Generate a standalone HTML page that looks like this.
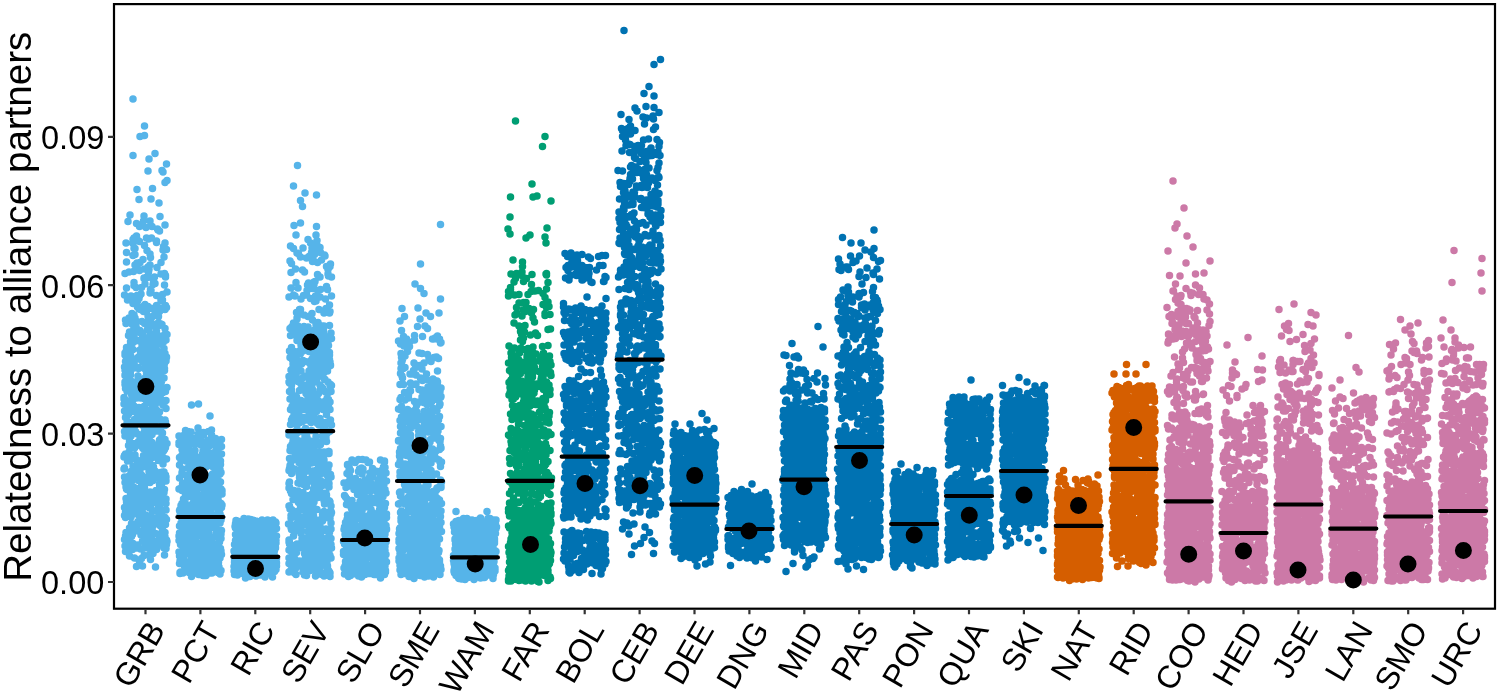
<!DOCTYPE html><html><head><meta charset="utf-8"><style>html,body{margin:0;padding:0;background:#fff}body{width:1499px;height:694px;overflow:hidden}svg{display:block;filter:blur(0.4px)}text{font-family:"Liberation Sans",sans-serif;fill:#000}</style></head><body>
<svg width="1499" height="694" viewBox="0 0 1499 694">
<rect width="1499" height="694" fill="#fff"/>
<g fill="none" stroke-linecap="round" stroke-width="7.50">
<path stroke="#56B4E9" d="M156 384h0m-7.5 97.5h0m-2.5-38.5h0m4-125.5h0m-15 126h0m31.5-86.5h0m-13 15h0m-10 145h0m-16.5 25.5h0m38.5-237h0m-23 207.5h0m-14 37.5h0m15-127h0m5 31.5h0m7-51.5h0m-5.5 93.5h0m-4.5-103h0m3.5-48h0m-9 67h0m-2.5 77.5h0m-4-219h0m14.5 92h0m-20.5 97.5h0m1.5-9h0m35 20h0m-18 66h0m-7-125h0m3 80.5h0m-11 35.5h0m19.5 30.5h0m-17-58h0m31-216.5h0m-13 248h0m-3.5-161.5h0m-8 99h0m-13.5-12.5h0m15 17h0m10-102h0m13.5-35.5h0m-40 170.5h0m8-42h0m26.5-130h0m-30 121h0m6.5 67.5h0m-7.5-134h0m27.5 28.5h0m-23.5-54h0m33 57h0m-28 80h0m15-313.5h0m-15.5 282h0m24 63h0m-21.5-307h0m6.5 129h0m1.5 45.5h0m-19 23.5h0m35 95.5h0m-36-12.5h0m32 33h0m-11-301.5h0m-12 30h0m3 121.5h0m-3.5 79.5h0m17.5 0.5h0m-4.5-12.5h0m-1-191h0m0 49h0m-16.5 220.5h0m26-43.5h0m-13.5-86.5h0m17.5 34.5h0m-4.5-52.5h0m3.5 84h0m-16-104h0m16.5-106h0m-23 132h0m-4-79.5h0m22 13.5h0m8 149h0m0-129h0m-9.5 152.5h0m-24-11h0m-3.5-135.5h0m3.5 192h0m30-249h0m-3 214h0m-24-3.5h0m18.5-184.5h0m-19 74h0m24 13h0m-24.5-69.5h0m23.5 202h0m7.5-296.5h0m-30.5 261.5h0m14-1.5h0m16-56h0m-20.5 90.5h0m18-112h0m1.5-258.5h0m-36 284.5h0m27.5 12h0m-5.5-160.5h0m-11 112h0m25.5-118.5h0m-37 20h0m18 135.5h0m-18.5-73.5h0m23.5 35.5h0m-12-181.5h0m19 160.5h0m2 81.5h0m-15 56.5h0m2.5-170.5h0m9 14.5h0m1.5-53.5h0m-27 220.5h0m38.5-253.5h0m-36 179.5h0m28.5-161h0m6 113.5h0m-9.5-38.5h0m-0.5 44h0m-22.5 71h0m32.5-25.5h0m-19-125h0m6-5.5h0m14.5 43h0m-20.5-11.5h0m-3-155h0m3.5 29.5h0m6.5 136.5h0m-14-1.5h0m20.5-169h0m-11.5 55.5h0m-18 271h0m3-44.5h0m-5.5-277h0m38 139.5h0m-19.5 117h0m18-109.5h0m-2-74h0m-28.5 230h0m-7-123h0m-2 34.5h0m19.5-300.5h0m10.5 340.5h0m12-32.5h0m-6.5-83h0m-28.5 151h0m9.5-71.5h0m18 48h0m6.5 31h0m-23 0h0m3.5-63h0m-17.5-138h0m0 163.5h0m23-59h0m-2-66.5h0m16.5-192h0m-28 259.5h0m-3 8h0m12.5 97.5h0m0.5-160h0m4.5 79.5h0m10 23.5h0m-20-130.5h0m16 172.5h0m0.5-102h0m2-55h0m3.5 144.5h0m-18-141h0m-6.5 21.5h0m3.5-2.5h0m-15.5 57h0m26.5 55.5h0m-30-116.5h0m9.5 34h0m-3 71.5h0m11-143h0m-15.5 91.5h0m8.5 80h0m4.5 14.5h0m-0.5-282.5h0m-12 120.5h0m16.5 19h0m-19-107.5h0m21.5 223.5h0m-22-41.5h0m0.5 90.5h0m16-29h0m19-98h0m-28-95h0m25.5 60h0m-14 123.5h0m19.5-168h0m-7.5 47.5h0m-13 73.5h0m-5 6h0m7.5-125.5h0m13.5 167h0m1 12.5h0m-33-112.5h0m24.5 22.5h0m-19 50h0m16 50.5h0m-15.5-172.5h0m19 8.5h0m-25.5 120h0m37-23h0m-29-136h0m27 71h0m-7.5-44.5h0m-3.5 137.5h0m16 7h0m-41.5-22h0m15.5-167.5h0m12.5 242.5h0m11-12.5h0m-21-37h0m-1 56h0m7.5-87h0m-20.5-17h0m17.5 87h0m-10-68.5h0m13 82h0m18-13.5h0m-22.5-218h0m1 72.5h0m6.5-87.5h0m-9.5 178.5h0m1-133h0m-11 12.5h0m23.5 111h0m10 3.5h0m-26-19.5h0m-6-55.5h0m-7.5 76.5h0m21.5 65.5h0m1-389h0m10.5 381.5h0m-35-245.5h0m6 135.5h0m21.5 12h0m1.5 76h0m-12.5 16.5h0m-2.5-54.5h0m21 39.5h0m6.5-111.5h0m-22.5 81h0m1-244h0m5.5 115.5h0m-16 148.5h0m-2-64.5h0m20-10.5h0m-24-54.5h0m33.5 8.5h0m-21-81h0m-0.5-45h0m14 283h0m-14-38h0m19-7h0m-14.5-54h0m3.5-30.5h0m-17 128.5h0m20-52h0m11-105.5h0m2.5 135.5h0m-19.5-171h0m-12-252.5h0m20.5 380h0m0 23.5h0m-5-173h0m1.5-64.5h0m3.5 232h0m-10.5-107.5h0m13.5-94h0m-6.5 207h0m15-174h0m-17-7.5h0m11 213h0m-28-129.5h0m4-86.5h0m16.5 36h0m-27.5 45h0m39.5 99.5h0m-2.5-224.5h0m-31 256h0m3-105h0m23.5-119.5h0m-17.5 80h0m25.5-15h0m-12.5-11.5h0m-15 147h0m-4-262.5h0m25 133h0m-18-46h0m4 195h0m-6-260.5h0m20 77.5h0m-19.5 26h0m3 44.5h0m5-39h0m7-40h0m-5 191.5h0m4-68h0m-14.5 65.5h0m-0.5-108h0m-11.5-91.5h0m5.5 38h0m-6.5 121h0m5-3.5h0m0.5-124.5h0m2 46h0m6.5-102h0m24.5 246h0m0-8h0m-29.5-69.5h0m25.5 12h0m6.5 1.5h0m-40.5 55.5h0m7.5-380.5h0m14.5 288.5h0m-20-28.5h0m6.5 91h0m10-91h0m-4.5 5h0m-12-120.5h0m26 76.5h0m12.5 24h0m-23.5-39h0m15.5 4.5h0m-18.5-70h0m1 56h0m8.5 168h0m-22.5-105.5h0m23-27.5h0m-9.5-54.5h0m3 130h0m9-13.5h0m-24.5 52.5h0m11.5-192.5h0m10 50h0m13 61.5h0m-27-155.5h0m13 60h0m13.5 54h0m-20-29.5h0m-14.5 108h0m32.5-148h0m-26.5 33h0m-5 58.5h0m20.5-45.5h0m-12 211h0m26-209.5h0m-36.5-5.5h0m32 105.5h0m-12 75.5h0m-14-219h0m20.5 114h0m-18.5-142h0m31-60.5h0m-36.5 189h0m34.5-164h0m-35.5 162h0m35 117h0m-6-164h0m-11.5-11h0m9 4h0m-24.5-26h0m7.5 51.5h0m27 76h0m-27 49.5h0m4-12h0m16-229.5h0m-16.5 253h0m16 24.5h0m-14-78h0m19.5-142.5h0m-7 129h0m9-75.5h0m-26.5-138h0m25.5 118.5h0m-5.5-129.5h0m-12.5 75.5h0m-14.5 182h0m5.5-160h0m-9.5-74h0m28 24.5h0m-20 154h0m11-5h0m-18 28h0m28-40.5h0m-22.5-23h0m-6.5 39.5h0m19 85h0m-15-173.5h0m32 91.5h0m-4.5 11.5h0m-9.5 6h0m-6.5-30.5h0m2-114h0m-18.5 55.5h0m5 13.5h0m33-66.5h0m-26 72.5h0m16-55.5h0m4.5-95.5h0m-24 109h0m3.5 138h0m-5 72.5h0m17.5-256.5h0m-17 204.5h0m27.5-11.5h0m-5.5-202.5h0m-10.5 147.5h0m5 24h0m-8-15h0m11.5 113.5h0m-21.5-30h0m31-154h0m-33 164.5h0m-5.5-136.5h0m23 98.5h0m6 29h0m-9-202.5h0m21.5 123.5h0m-31-20h0m4.5 38h0m4 49.5h0m-5-137.5h0m2-239.5h0m-14.5 252h0m33.5-185.5h0m-23.5 137.5h0m-5.5 25.5h0m20 151.5h0m12-27.5h0m-33.5-44.5h0m38 94.5h0m-15-302h0m-11.5 112h0m13 121.5h0m-13.5-201h0m9.5 187.5h0m-11 87h0m11-78h0m-2 11.5h0m-2 40.5h0m-7.5-218h0m-4.5 110.5h0m14.5-135h0m13.5 123h0m-28 144h0m25-200h0m-10 54.5h0m3 68.5h0m1-240h0m-28 177.5h0m29.5-5h0m-28.5-44h0m18.5 71h0m1.5 97.5h0m-15-140.5h0m-1 127.5h0m31-71h0m-19.5-30.5h0m14.5 9.5h0m0 52.5h0m-24-90h0m29.5-7h0m-24-150.5h0m-5 265h0m35 56h0m-17-109.5h0m-17-119h0m9-28.5h0m-8.5-32h0m16.5 252.5h0m-22.5-80.5h0m8-173h0m18 271.5h0m-26-152h0m19-146.5h0m6.5 283.5h0m14-203.5h0m-4.5 37h0m-24 156.5h0m14 42h0m-17-55h0m3 60h0m20.5-87.5h0m-7.5 47.5h0m4.5 37.5h0m-15.5-104.5h0m-0.5-20h0m23-31.5h0m1.5-23.5h0m-3-42h0m-13.5 48.5h0m-1 143h0m-5.5-221.5h0m16 67.5h0m-1.5 29.5h0m-25 37h0m21-92h0m-22 173h0m35.5-89h0m-2-15h0m-1 83h0m-24 43h0m9-104.5h0m-13.5-28h0m28.5 37.5h0m-10-43.5h0m8.5-31.5h0m-7-80.5h0m2.5 167.5h0m-27.5-112.5h0m24.5 130h0m5.5-143h0m2 222.5h0m1.5-49.5h0m-36-252.5h0m22 167h0m18.5 109.5h0m-1-72h0m-11-22.5h0m-12.5 84h0m0.5 23h0m5.5-151.5h0m-12.5 1.5h0m15.5-183h0m5.5 131.5h0m-30 158.5h0m39-212h0m-22.5 106.5h0m-15 31.5h0m4.5 119.5h0m29.5-193.5h0m-19.5 176.5h0m-11.5-81.5h0m32-264h0m-6 279h0m-0.5-62.5h0m-28.5 152.5h0m31-215.5h0m-5.5 153.5h0m-5.5 19h0m0.5 37h0m-6 31h0m-13.5-158.5h0m28.5 116h0m7-34h0m-9 44h0m-24.5-16.5h0m20.5-129h0m-15 10h0m16-2h0m-19 135h0m29.5-73.5h0m-16.5-54.5h0m7.5 92.5h0m5.5-264.5h0m-15.5 257.5h0m13-57.5h0m-10.5 5.5h0m-22-69.5h0m36.5 8.5h0m-10-85h0m7.5 140h0m0.5 85h0m-8.5-62.5h0m-20-92h0m35.5-21h0m-41 42.5h0m10-134h0m28.5 106.5h0m-11-13h0m-11 104.5h0m23.5-21h0m-17.5-3h0m2 40.5h0m10.5-13h0m-12.5-103.5h0m-6 136.5h0m-12.5-211h0m1.5 73h0m3.5-96.5h0m15 21h0m-24.5 198.5h0m35.5 24h0m-29 19h0m-1.5-70h0m9-57.5h0m4 6.5h0m-15.5 33h0m19 30h0m16.5-84h0m-6.5-5.5h0m-11.5 55.5h0m-7.5-78.5h0m-12.5 199h0m8-64.5h0m23.5-115h0m9 172.5h0m-7-195.5h0m-5-52.5h0m2.5 226.5h0m11-261.5h0m-38 129.5h0m15 105h0m-7.5-144h0m-8.5 148h0m31.5-150h0m6-28.5h0m-3.5 83h0m-9 12h0m11 46.5h0m-33 43h0m19.5-273h0m12 87h0m-17-3h0m-6 79h0m24.5 126.5h0m-11.5-193.5h0m14 160h0m-24 42h0m3.5-171.5h0m-12.5 2h0m13.5-37.5h0m-4.5-3h0m19.5 189.5h0m-11.5-156h0m-1 27.5h0m15.5-96.5h0m-18.5 139.5h0m10.5-67.5h0m-6 13h0m2 193.5h0m-8.5-45.5h0m6 13.5h0m-7-260.5h0m1.5-133.5h0m-12 363h0m17.5-36.5h0m-8-131h0m-15.5 132.5h0m19.5 40.5h0m-13-173h0m19.5 25.5h0m7 137.5h0m0-173h0m-35.5 145.5h0m29.5 19.5h0m-16.5-181h0m13.5-38h0m-21.5 218.5h0m35-106.5h0m-20-26h0m21 193.5h0m-9-46.5h0m-8-45.5h0m-14-162.5h0m0.5 165.5h0m9.5-59h0m-4.5 5h0m-5.5-156h0m19 311h0m6-13h0m-33-53.5h0m17.5 34h0m21.5 1h0m-23-171h0m5.5 160h0m12-0.5h0m-19-27h0m-9.5-183h0m33 109.5h0m-11 148h0m-8.5-66h0m6.5 16.5h0m-17-175h0m5 78.5h0m12.5 128h0m4-223.5h0m-17 28.5h0m19.5 14.5h0m-2.5 212h0m-4-205h0m-7.5-4.5h0m8.5 45h0m-14.5 104h0m-4 7.5h0m7.5-171.5h0m25 15h0m-32.5 6.5h0m0.5 194h0m-9-104h0m40.5-93.5h0m-1.5 3h0m-16.5-192.5h0m-18.5 314h0m14.5-101h0m-2.5 102h0m24 38.5h0m-17.5-72h0m10 93h0m6.5-96h0m-25.5-250h0m13.5 279.5h0m-26.5 19.5h0m23.5 19.5h0m3.5-166.5h0m-22.5 152.5h0m24.5-81.5h0m-19.5-81.5h0m8.5 214.5h0m-18.5-138h0m19.5-133.5h0m-13.5 249.5h0m23-199h0m7 65.5h0m-23-43h0m-7 189h0m-4.5-155h0m-2-6.5h0m5 38h0m9.5 13h0m7 101h0m11.5-134.5h0m-1.5-161h0m-23 190h0m10.5 107.5h0m-14.5 17.5h0m28-54h0m-17 47h0m9.5-80.5h0m-10.5 47.5h0m-2.5-56h0m15.5-61.5h0m-14 106h0m4-171.5h0m-9.5 195.5h0m-6-39h0m13.5-101.5h0m17 114h0m-18.5-22h0m-8-144h0m18 1h0m-4.5-68h0m7 268h0m9.5-110h0m6-246.5h0m-2.5 374.5h0m-30.5-234.5h0m11 220h0m2-80.5h0m13.5 66h0m-30-136h0m27.5-18h0m-0.5 75h0m-24 40h0m28-105.5h0m-5-139h0m-6.5 11.5h0m-17 250.5h0m32-151h0m-18.5-115.5h0m-8.5 283.5h0m6-305.5h0m6.5 283.5h0m3.5-163.5h0m-14 52.5h0m5 33.5h0m14.5-49h0m-10 156h0m-11.5-145.5h0m2 148h0m10.5-72.5h0m14-70.5h0m-28.5-101h0m16 122h0m-12 93h0m8 43.5h0m2.5-256.5h0m-14 204.5h0m-2.5-159.5h0m18.5 39h0m7-31.5h0m-12-12.5h0m-13.5 165h0m-9.5-83.5h0m15 151h0m-2-255h0m12.5 28h0m-16.5 134h0m15.5 37h0m-12.5-122.5h0m12.5 32h0m-22.5-57h0m33 81.5h0m-13.5 26.5h0m19-132.5h0m-33.5 60.5h0m9 3.5h0m-8.5 3h0m32 147h0m-39.5-32.5h0m26.5-113.5h0m0.5-29h0m-13 24.5h0m16.5 113.5h0m-12 26h0m14-118.5h0m0 1.5h0m-16-4.5h0m-6.5-116.5h0m11.5 131h0m-21-55h0m40.5 16.5h0m-40.5-21.5h0m3.5 15.5h0m14.5 63h0m23 55h0m-27.5-62h0m10 34.5h0m15.5-134.5h0m-31-38h0m-6.5-15.5h0m35 197h0m-1 11.5h0m-35 21h0m31.5-179h0m-28.5 176.5h0m20.5-103.5h0m3 91h0m-8-224.5h0m-7-88.5h0m-6 213.5h0m-5 129.5h0m4-84.5h0m11.5-88.5h0m23.5-116.5h0m-28 20h0m-10.5 84.5h0m16 34h0m-11.5 77.5h0m34-19.5h0m-20-61.5h0m4.5 33.5h0m0.5 71h0m15-300h0m-14 275.5h0m-11 11.5h0m-7.5-101.5h0m-7 183.5h0m27.5-19.5h0m5-180.5h0m-12.5 192.5h0m-8.5-80h0m27-126.5h0m-27-16h0m-11.5 34h0m31 194h0m-14.5-207.5h0m24 168h0m-16.5-71.5h0m-12-4.5h0m-2.5 114h0m32-213.5h0m-36 50h0m31 68.5h0m-18-174.5h0m-10 216.5h0m3.5 15.5h0m-3.5-103h0m9 93.5h0m-18.5-69.5h0m39.5 61h0m-27-104.5h0m8.5-18.5h0m-10.5 61.5h0m-6.5-70h0m37-85.5h0m-28 222h0m-12-64.5h0m11 114.5h0m8.5-30h0m8.5-125.5h0m5-75.5h0m-20 118h0m5.5 105.5h0m22 8.5h0m-15.5-196h0m-11.5 6.5h0m25-102h0m-7 284.5h0m6-149h0m-8 13.5h0m-8.5-13h0m20 66h0m-12-144h0m-28 187h0m18 46h0m15.5-167h0m-30-166h0m1 189.5h0m2.5 24h0m3.5 60h0m-6.5-117.5h0m16.5-1h0m-21.5 142h0m23.5-116h0m-16-156.5h0m-8 113.5h0m30-199.5h0m-29 167h0m0.5-58.5h0m11.5 105.5h0m-10-2.5h0m33-64.5h0m-27 108h0m19 72h0m-19-112.5h0m17.5 34h0m-8-90.5h0m-14 216.5h0m35.5-138.5h0m-40.5 118h0m-0.5-38.5h0m20-70.5h0m-14-49h0m29.5 95.5h0m-9.5-22h0m-15.5-3.5h0m13-142h0m-12.5 177.5h0"/>
<path stroke="#56B4E9" d="M216.5 552h0m-22-91h0m-2 98.5h0m16.5 12.5h0m-2-18.5h0m-16.5-92.5h0m-7.5 67h0m24-50.5h0m4 88h0m-30-42.5h0m-1 50.5h0m0-20h0m13-84h0m-2.5-17h0m14.5 118.5h0m16.5-66h0m-25 63.5h0m-2-60h0m6-71h0m-2 49h0m-6 79h0m1 4.5h0m12.5-128h0m-5 111h0m11-99.5h0m-32.5 11.5h0m26 80.5h0m-16.5 23h0m13-24.5h0m8.5-46h0m-23 71.5h0m9-112.5h0m-6 63.5h0m-11.5-84.5h0m24.5 59.5h0m-5-52h0m19 30.5h0m-5 91h0m-3-3.5h0m-13-59h0m21-2.5h0m-12 68.5h0m15.5-65h0m-18.5 19.5h0m-19 27.5h0m34.5-40h0m-30.5-31h0m-0.5 13.5h0m6 41h0m2-48h0m17 56h0m-14-65.5h0m18.5 38h0m-6 58.5h0m10-112h0m0.5 55.5h0m-17.5 23.5h0m-13-96.5h0m-6.5 98.5h0m20.5-0.5h0m3.5-37h0m-2.5 25h0m5.5-76.5h0m-24 72h0m3-10.5h0m1.5-45h0m16-19h0m-9.5 95h0m-2-75.5h0m6.5-16h0m-15 60.5h0m-5.5-40h0m16-40.5h0m18.5 87h0m-8 36.5h0m7-106h0m-15 96.5h0m19-16.5h0m-11.5-90h0m-1 125.5h0m-7.5-62h0m-14 56.5h0m10-96.5h0m-2.5 47h0m-14-23h0m8.5-11.5h0m13 75.5h0m-21-42.5h0m20.5 48.5h0m10.5-114.5h0m8.5 15.5h0m-2.5 89.5h0m-29.5-65.5h0m-5 6.5h0m21.5 45h0m15.5-33.5h0m-34-47h0m7.5 42h0m9.5-39h0m2.5 94h0m-12.5-37.5h0m21 23.5h0m-14.5-27.5h0m-9.5 41h0m10 7.5h0m-8-127h0m-3.5 104h0m27-13.5h0m-30.5-32h0m6.5-38.5h0m28.5-8h0m-39 71.5h0m31.5-19h0m-6.5-10.5h0m-4-24h0m8.5 103h0m-28.5-59.5h0m6.5 21.5h0m4 25h0m-3.5-57.5h0m5-10h0m6 75h0m20-94.5h0m-21-1.5h0m22 59.5h0m-39.5 32.5h0m20.5-44.5h0m2.5 51.5h0m-22.5-102.5h0m-1 95h0m34.5-56.5h0m-17 48.5h0m-5-67.5h0m-7.5 42.5h0m6.5 5.5h0m-3.5 19h0m32-12h0m2-29.5h0m-16.5 68.5h0m-20-143h0m12.5-2.5h0m1 85h0m-14-21.5h0m33.5 15.5h0m-2-37.5h0m-11 61h0m-15-77.5h0m16 88h0m2.5-29.5h0m-19 38.5h0m6.5 6h0m-5.5-30.5h0m20 14h0m10.5 15h0m-20.5-10.5h0m3 18h0m-22-58.5h0m17-46h0m9 48.5h0m-23.5 31h0m32.5-75h0m-22 57.5h0m1-21h0m-3.5 12h0m-1 31h0m21.5 17.5h0m5-48.5h0m-24.5-45.5h0m4.5 61h0m23.5-18.5h0m-5-58.5h0m-20.5 100h0m-17 3h0m5-64h0m29.5 67.5h0m-16.5-7.5h0m23 10h0m-30.5-51.5h0m20.5-65.5h0m-4 118.5h0m-13.5 12.5h0m16.5-54.5h0m7-30h0m-20 77h0m7.5-70.5h0m18-40h0m-22 112h0m-19.5-56.5h0m2.5 24.5h0m25.5-55.5h0m-19 94h0m31.5-24h0m-5.5 17h0m-32.5-3h0m39-32h0m-11.5 15h0m-10-22h0m18-25.5h0m1 55.5h0m-15-4h0m-11-16h0m16.5-30h0m-26 46.5h0m11.5-43.5h0m3 13.5h0m-6-61.5h0m25.5 90.5h0m-26.5-8h0m21.5-50.5h0m3-52h0m-31 114h0m-2.5-17.5h0m4.5-51h0m22 49h0m-0.5-93h0m-10 114h0m22-84.5h0m-16 74.5h0m15-78.5h0m-18 61h0m-8-3h0m-1.5 53h0m-7-13.5h0m33-58.5h0m-24.5-1.5h0m21.5 15h0m-29.5 47.5h0m5.5-55.5h0m-10 42.5h0m26-18.5h0m4.5 17h0m0.5-75.5h0m-5.5-26.5h0m6.5 104.5h0m-22.5-103h0m5 0h0m10 119.5h0m-11-32.5h0m19-34.5h0m6 12.5h0m-33-54.5h0m26 55h0m-26.5-58.5h0m19 36.5h0m-21-53.5h0m32 82.5h0m2.5-70.5h0m-28 93h0m10 24h0m22-75.5h0m-19-43h0m-22 37h0m27.5 80h0m-21.5-36h0m7.5-89.5h0m16 83.5h0m4 42.5h0m0.5-68.5h0m-4.5 18.5h0m8.5 48.5h0m-28-74h0m-8.5-33h0m12 91h0m-11.5-29.5h0m20 41.5h0m-2-65h0m17.5 64.5h0m-1.5-9h0m-37 1h0m0 6.5h0m23-55.5h0m-21.5-61h0m21.5 0h0m0 84.5h0m-1 17.5h0m4.5-59h0m15 30h0m-3 26.5h0m-8-34h0m7.5-55h0m-24 102h0m8-27.5h0m-5 6.5h0m-15.5 24.5h0m18.5-75.5h0m-4-1.5h0m24 90.5h0m-37.5-135.5h0m25.5 82h0m3.5 23h0m-5-25.5h0m-20-2h0m3-41.5h0m31.5 76.5h0m-18.5-32h0m5.5-67.5h0m7 75h0m-12 49h0m8-16.5h0m9-96h0m-38.5 53.5h0m11.5-53h0m-1.5 95h0m19-70.5h0m-19-83h0m13.5 116h0m13-44.5h0m-37 40.5h0m32.5-14.5h0m-25-19h0m22 33h0m-6.5 30.5h0m-18.5-19.5h0m26.5 25.5h0m-17-48h0m-1.5 35h0m-8.5-24h0m15-43.5h0m-13.5 92.5h0m1.5-12.5h0m20.5-34.5h0m-29 45.5h0m27.5-30h0m-23.5-81h0m15.5 5h0m17 32h0m-10.5 11.5h0m-17.5-33h0m22 15h0m2 90h0m0.5-45.5h0m8-45.5h0m-13.5 29.5h0m-25.5 20.5h0m24 2h0m-2 35h0m-3.5-2.5h0m7-46h0m-27 52h0m1-114.5h0m19.5 45h0m11-68h0m-8-2.5h0m7.5 48.5h0m-14.5-24h0m-17 99h0m25 4.5h0m12.5 7.5h0m-38-27.5h0m3-91h0m8.5 120h0m20.5-92h0m-18.5 16h0m7.5-34.5h0m20 55h0m-0.5-67h0m-29.5 96.5h0m2-14h0m-3-3.5h0m-8.5 11.5h0m25-0.5h0m-14 37.5h0m-10-129.5h0m33 11.5h0m-15 58.5h0m-0.5-54h0m-15.5-25.5h0m27 40.5h0m-0.5-60h0m-4 51h0m-16.5 27.5h0m26.5 21h0m5 55h0m-12-113.5h0m-7 51.5h0m-20-53.5h0m24 76h0m-12 30.5h0m2.5-35.5h0m-17.5-83.5h0m36.5 59.5h0m-36-44.5h0m39.5 24h0m-2 66h0m-13.5 21h0m3-28.5h0m-27-14h0m1.5-15.5h0m8.5-56.5h0m27 47h0m-4.5 36.5h0m-3.5-21.5h0m2.5-10.5h0m-25 4h0m26.5-43h0m-2 60.5h0m-0.5-4h0m1.5-93h0m-29 39h0m22 14.5h0m4.5 12h0m11 13.5h0m-2.5-63h0m-36 11h0m38.5 13.5h0m-14 105h0m-15.5-37.5h0m-4-62.5h0m0.5 21.5h0m-7 36.5h0m38 39h0m-35-19h0m27-46.5h0m-16 44h0m24.5 1h0m-32 2h0m-3 2.5h0m38-110h0m-15 8.5h0m-11.5 115h0m-5.5-29h0m2-8h0m-0.5-92.5h0m-8.5 106h0m33.5-54h0m0.5 61.5h0m1-59.5h0m-8.5-36h0m-2.5 7h0m-1.5 48h0m-13.5 19h0m25 14.5h0m-2-59.5h0m-14-20.5h0m-1.5 76.5h0m-2 24h0m22.5-36.5h0m-33.5-80h0m-5.5 121h0m10.5-31.5h0m29.5-76h0m-24 98.5h0m-2.5-93h0m-9.5 68.5h0m33-46.5h0m-37 52.5h0m6-97.5h0m24.5 58h0m-21.5 46.5h0m14-66h0m17.5 48.5h0m-28-9.5h0m-12-65h0m19.5 76.5h0m11.5-39.5h0m-28 58h0m24.5-39.5h0m-21-22h0m33.5 45.5h0m-27.5-100h0m15 26h0m-20.5 29h0m15.5-59h0m8.5 132.5h0m-16.5-27h0m17.5 19h0m-8.5-48.5h0m-0.5 57.5h0m-14-5.5h0m18-27.5h0m-13.5 25h0m17.5-62h0m-9.5 36.5h0m-11-44h0m-7 75.5h0m31.5-88h0m-21-7h0m-12.5 13h0m10.5 71.5h0m21.5-80.5h0m-10 9.5h0m15 30.5h0m-40.5-70.5h0m30 123h0m-20-101.5h0m23.5 77.5h0m5.5-39.5h0m-1.5-49.5h0m-21.5 45.5h0m21-41h0m-24.5 88.5h0m-0.5-40h0m10.5 19h0m6.5 7h0m-9.5-8.5h0m-17.5-35.5h0m28.5 59h0m-5.5 20h0m8-26h0m-28-101.5h0m32 120h0m-16-39.5h0m-8.5-16.5h0m26.5-49h0m-8.5 95.5h0m-15.5-46h0m-9.5 47h0m18.5-93.5h0m4 45.5h0m-22-2.5h0m34 36.5h0m-31-45.5h0m15.5 39.5h0m14-2.5h0m-23-86h0m22 119.5h0m5-124h0m-26 50.5h0m-12 9h0m23.5-43.5h0m8 14.5h0m-36 66h0m21.5-20h0m14-41.5h0m0 0h0m4.5 64h0m-23 32.5h0m21-76.5h0m-25.5 57h0m-0.5-45.5h0m-7.5-17.5h0m30.5 38.5h0m-14.5-63h0m0 96.5h0m-15-8h0m23.5-11.5h0m-18 12.5h0m12.5-42.5h0m14.5 50.5h0m-25-89.5h0m14-15.5h0m-4.5 0h0m-17 74h0m35-22h0m-32-62.5h0m-3.5-3.5h0m14.5 80h0m-7.5 40h0m27 0h0m-5.5-88.5h0m-13 10.5h0m6 2h0m-23.5-13h0m37.5 68.5h0m-30.5-107h0m3.5 101.5h0m-1 10h0m23-46h0m-11 13.5h0m9.5-50h0m-20 3h0m24.5 103.5h0m-5.5-3.5h0m-16-97h0m1.5 101h0m19-11.5h0m-22-61h0m26.5 21.5h0m-9 53h0m-12.5-47h0m-7-54h0m12-23h0m8 58h0m7 30h0m-16.5-8h0m-7-87.5h0m-7.5 103h0m-9-11.5h0m5-50h0m22.5 15h0m7 52h0m-32-77.5h0m25.5 45h0m-2.5 7.5h0m7.5 0.5h0m-8-73h0m-17.5 95.5h0m28-47.5h0m-28.5 66.5h0m19.5-104.5h0m-12.5 22.5h0m-10.5 32.5h0m5.5 6.5h0m0-83.5h0m17 49.5h0m-8-21.5h0m-12-28h0m-1.5 81h0m29-37.5h0m-28.5 1.5h0m-2.5 50h0m11.5-21h0m24-24h0m-27.5 31h0m5.5-0.5h0m0.5-52h0m26 21.5h0m-6 43h0m-27 19h0m-8-1h0m18-71h0m-6.5-14.5h0m16 100.5h0m-22.5-26.5h0m20.5-5h0m4 7.5h0m-27.5 30.5h0m21.5-52h0m-19 18.5h0m18 3h0m-1 9h0m-0.5-69h0m13-40h0m-21.5 127.5h0m8.5 4h0m16.5-28.5h0m-21.5-83.5h0m-12.5-18.5h0m26 55.5h0m10.5-26.5h0m-9 67h0m9-49.5h0m-20.5 7h0m-11 13.5h0m8 18.5h0m1-125h0m10 159h0m-24.5-51h0m15.5-41h0m2.5 58h0m-10.5-46.5h0m23-39h0m-28 65.5h0m0.5-22h0m16.5 71.5h0m-15.5-122h0m-8.5 41.5h0m28.5 63h0m1 17.5h0m7-4.5h0m-17.5 20.5h0m8.5-8h0m8-100.5h0m7 25.5h0m-19.5 58h0m-19-44h0m34-39.5h0m-29.5-34.5h0m23 139h0m-21.5-25h0m12-58h0m6.5 43.5h0m-14.5-34.5h0m-6 23.5h0m19.5-16.5h0m12.5-50h0m-15 1.5h0m-9.5 51.5h0m25-32.5h0m-10-28.5h0m-1.5-14h0m-11.5 62h0m20.5 2.5h0m-30.5-44h0m14-7h0m7.5 40.5h0m7 43h0m-10 5.5h0m-1-35h0m-2.5 10.5h0m-7.5-56h0m11 58.5h0m-20-17.5h0m-6 44.5h0m16-42h0m-8.5 71.5h0m15-85h0m19 5.5h0"/>
<path stroke="#56B4E9" d="M262 551.5h0m-15.5-18h0m17 25.5h0m8.5-38.5h0m-16.5 17h0m-2.5 20.5h0m18 15.5h0m3.5-2h0m-23-43h0m-2.5 8.5h0m19 25.5h0m-23-15.5h0m-9-25h0m23.5 13.5h0m16 31h0m-35.5 7h0m-3-28h0m33 12h0m-36 13.5h0m9.5-2h0m3.5-37.5h0m-2.5-0.5h0m3.5 36h0m14-1.5h0m-14 6h0m21.5-33h0m5 9h0m-21.5 12h0m7-4.5h0m-7-4h0m8-16.5h0m9 37.5h0m4-19.5h0m-26.5 2.5h0m-7.5-22.5h0m-1.5 2h0m36.5 32.5h0m-25 1h0m-7.5-28.5h0m-2-6h0m35.5-10.5h0m-5 27h0m-23-31h0m-2.5 27h0m-9 20.5h0m10.5-34.5h0m-10.5-7h0m30.5 10h0m-28.5-9h0m-4 26.5h0m34-25.5h0m-29.5 10h0m16-9.5h0m-17 22.5h0m27.5-19.5h0m6.5 9.5h0m-6.5 1h0m-26 10.5h0m30 2.5h0m-19.5 8.5h0m26-1h0m-34-18h0m30.5 4.5h0m-35.5 2h0m8 9.5h0m-10.5-15h0m16 10.5h0m-3-26h0m28.5 40.5h0m-21-43h0m18-3h0m-17 52.5h0m10-36h0m-29.5 30h0m31-42.5h0m1 42.5h0m-31.5-27.5h0m3 14.5h0m16.5-7h0m-16-26h0m22 4.5h0m-14.5 34h0m-11.5-26h0m14 27h0m13.5-2.5h0m-3-29h0m-9.5 3.5h0m13.5 28.5h0m4.5-28.5h0m-13 7.5h0m-19 32h0m22.5-7.5h0m-20.5-43.5h0m26 30h0m-31 8h0m11.5-13.5h0m-10.5-14h0m22.5 16h0m-5 23h0m6-15h0m15.5-31.5h0m-31.5 26h0m26 18h0m-4 0.5h0m-3.5-24.5h0m-7.5-13h0m-7.5-10.5h0m-0.5 1.5h0m28 19h0m-8-6h0m1.5-17h0m-27.5 14.5h0m6 25h0m20.5-35.5h0m-27.5-3.5h0m19 0.5h0m12 29.5h0m-13.5 13h0m-0.5 1.5h0m-6.5 0h0m-11-14h0m19 21h0m-2.5-51.5h0m16.5 40h0m-35-40h0m38.5 20.5h0m-5 22h0m-20.5 12.5h0m20-15h0m-13.5 11.5h0m3.5-13.5h0m-13 0h0m6.5-11h0m11.5 15.5h0m-2 0h0m-16-0.5h0m-7.5-31.5h0m0.5 20.5h0m8 17.5h0m-4-14.5h0m30-14.5h0m-7 15h0m-11-17h0m17 38h0m-31.5-16.5h0m33.5-38h0m-18.5-1.5h0m-12 49h0m-8-49.5h0m15.5 23.5h0m-2.5-15.5h0m4.5-8h0m12.5 6h0m-29 16h0m18-9h0m19 9h0m-5.5-20.5h0m-23.5 11h0m3 34.5h0m2.5-48h0m-15.5 32h0m6.5-14.5h0m11.5-11h0m-3 50.5h0m3-38h0m-12-15.5h0m11.5 22h0m5-15.5h0m11-4h0m2 37h0m-11 3.5h0m-18-19.5h0m4-7.5h0m8.5 4.5h0m10-1.5h0m-3.5 23h0m-4 5.5h0m-4-32h0m18.5 26h0m2-1h0m-26 10.5h0m27.5-17.5h0m-19-22.5h0m-6.5 0h0m22 2.5h0m-4-5.5h0m-0.5 27.5h0m1.5 2h0m-24 4.5h0m26-21h0m1 1h0m-14 6h0m7.5-27h0m3 48.5h0m-32-49h0m5 6h0m17 7.5h0m-8.5-11.5h0m4.5 23h0m-0.5-5h0m5 20h0m5-34.5h0m-19-10.5h0m24.5 17h0m-17.5 35h0m2-2.5h0m-9.5-7h0m31.5-23.5h0m0 22h0m-13 1.5h0m-19-3h0m-8 12.5h0m9.5-9h0m19 12.5h0m-22.5-30.5h0m19-1h0m5-7h0m-2 15h0m-5 2h0m-18 5h0m13 6h0m8-1h0m-7.5-26.5h0m-1 21.5h0m-8-15h0m16.5 22.5h0m-9-10h0m23.5-33h0m-9.5 2h0m-20.5 5.5h0m-7.5 36h0m4.5-25h0m13-5.5h0m-18 17h0m-3.5-1h0m37 12h0m-0.5-25h0m-34 22h0m38-35h0m-20.5-4.5h0m19-0.5h0m-13 20.5h0m-12.5 4h0m-1-3h0m17.5-1.5h0m-29.5 12h0m13.5 3.5h0m27 13.5h0m-4-35h0m-32.5 6.5h0m26.5 36.5h0m-5.5-33h0m-12-23h0m10.5 3.5h0m6 22h0m5 4h0m-13 17.5h0m15.5-41.5h0m-13.5 0.5h0m5.5 0h0m5 16.5h0m-30.5 15.5h0m30-1h0m-7.5-32h0m-4.5 39h0m0.5-2h0m-2.5-14.5h0m-19.5 14h0m24-11.5h0m-13.5-10.5h0m13.5-2.5h0m-14 32h0m4-3.5h0m21-22h0m-15.5 19.5h0m19.5-19h0m-10.5 12.5h0m-20.5 2.5h0m26-28h0m-23-10h0m30 26h0m-18.5-11h0m8.5-11.5h0m-6.5 48h0m3-37.5h0m0-16h0m5.5 0h0m-19 54h0m5-9.5h0m1 3h0m7.5 3.5h0m7-30h0m-27.5 18h0m17 1.5h0m15-14h0m-36 14h0m0-26h0m-3 25h0m24-24h0m-2.5 32.5h0m10-2.5h0m-15 5h0m-4.5-44.5h0m-7.5 12.5h0m18.5 28.5h0m-13.5 6h0m-8.5-32.5h0m-1 34h0m26.5-29h0m15.5 13h0m-22 3h0m-2 1h0m-11-11h0m12.5 9h0m12.5-33h0m-8 9.5h0m-15.5 20h0m15.5 4.5h0m5-16h0m-13 15h0m5.5-7h0m8.5 16.5h0m9.5-8h0m-38.5-38h0m23 44h0m0-28.5h0m-11 6.5h0m3 17h0m22.5-6h0m-16.5 2.5h0m12-17h0m-1.5 19h0m-31 1h0m40-19.5h0m-3-15.5h0m-33.5 2.5h0m1 20.5h0m21 8.5h0m7-33h0m-14.5 4.5h0m6 9.5h0m14 12h0m-9.5 16.5h0m-21.5-37.5h0m27 4h0m-5.5-14h0m-26.5 47h0m-4-1.5h0m41.5-30.5h0m-12.5 3h0m-14 4.5h0m-4 2.5h0m-3 11.5h0m-7-31h0m2.5 18.5h0m8 14.5h0m8.5 11.5h0m-3 2.5h0m19-32h0m-24 26.5h0m11 6.5h0m-10-20.5h0m-8.5-2.5h0m25 19h0m-21.5-35.5h0m34 26h0m0.5 5h0m-17.5-17.5h0m13-5.5h0m-13.5 25.5h0m14-5h0m-6.5-26h0m-22 15h0m24 9.5h0m-30-4h0m38 11h0m-15-32.5h0m6-11.5h0m-0.5 32h0m-2.5-30.5h0m-19 8.5h0m21 2.5h0m5 34.5h0m-30-42h0m20.5 11.5h0m12.5-12.5h0m-9 20.5h0m-10.5 2h0m8.5-22h0m2.5 6.5h0m11-7.5h0m-31.5 23.5h0m19-8h0m-8.5-6.5h0m6.5 15h0m-2 17.5h0m11-20h0m-5.5-15.5h0m-13 20.5h0m8.5 1.5h0m-0.5 18.5h0m2-37.5h0m-16-4h0m-9 5.5h0m23.5-5.5h0m-15-9.5h0m24 25.5h0m6.5 13.5h0m-41-35h0m2.5 10.5h0m32 0h0m5 18h0m-24-30h0m0.5 33h0m23.5-14.5h0m-12.5 16h0m-4-0.5h0m-8.5-20h0m17.5 29.5h0m-5-19h0m2-4h0m1.5 4.5h0m-7.5-17.5h0m-21-8.5h0m2.5-2h0m27.5 12h0m0.5 35h0m-20-3h0m7.5-16h0m10-14h0m-9 26h0m4 4.5h0m16-32h0m-0.5 4.5h0m-39 34h0m21-44h0m-10 7h0m26.5 1h0m-7 27h0m-27-34h0m11 11h0m-3.5 27.5h0m-4.5-14.5h0m3.5-16h0m-5-12h0m1.5 11h0m23.5 8h0m-12.5 1h0m5.5 10.5h0m-2.5-33h0m-20 8.5h0m28.5 29h0m10 2.5h0m-10-31h0m-12 26.5h0m-8.5-4.5h0m30-8.5h0m-14-7.5h0m-5.5 32.5h0m3 1h0m-18.5-34.5h0m5 39h0m4-19h0m15-12.5h0m-4.5 24.5h0m6.5-6.5h0m-15.5-13.5h0m19.5-5h0m-25.5-13.5h0m-0.5 16.5h0m26.5-18.5h0m-29 6h0m32.5 14h0m-32 6h0m15 10h0m10.5 6h0"/>
<path stroke="#56B4E9" d="M313.5 508h0m-1.5 21h0m3-178.5h0m1 91h0m-8.5-10h0m-11.5-149h0m-1.5 186.5h0m7.5-136h0m18-85.5h0m-10 264h0m-13.5-199h0m28.5 41.5h0m-17-27h0m-8.5-17.5h0m-6 243h0m4.5-101.5h0m30 33.5h0m-19-99h0m-16.5 160.5h0m21-57h0m-14-123h0m30.5 136h0m-22-185.5h0m-1.5 118.5h0m2.5 66h0m3.5-153h0m-18.5 151.5h0m33.5-29h0m3-105h0m-15.5 163h0m-20-150h0m33-37h0m1 123.5h0m-20.5 92.5h0m-16.5-89.5h0m20-154.5h0m-2 257h0m13.5-197.5h0m-20 111.5h0m11-135h0m8.5 3h0m-26.5 62.5h0m26.5-72h0m6.5 158h0m-36-178h0m17 188.5h0m15.5 61.5h0m-30.5-4.5h0m-4-221h0m32.5 164h0m-26.5 5h0m15.5 35.5h0m-24 11.5h0m35.5-184.5h0m-33.5 181h0m13.5-56.5h0m27 9h0m-19-62h0m-12 8.5h0m-7.5 102h0m31.5-57h0m-7.5-20.5h0m-3-66h0m6.5 77.5h0m-11-99h0m-16-147.5h0m5.5 299.5h0m7-172h0m-15-88h0m27 189.5h0m-15.5-271h0m9 224h0m-5.5-97h0m24 243h0m-17.5-10h0m8-14.5h0m5-21.5h0m-34-1h0m15-43h0m-6.5-40.5h0m-1.5 101.5h0m28.5-207h0m-30.5 206h0m13.5 1h0m6.5-125h0m-16-199.5h0m13.5 248h0m-3.5-19h0m-19.5 75.5h0m5.5-166.5h0m15 46.5h0m19-42.5h0m-29-28h0m6-52h0m-17.5-24h0m31.5 95.5h0m-17.5 205.5h0m20 14h0m-33-60.5h0m26.5-34h0m-12 35h0m12.5-226h0m-8.5 274h0m-13-66h0m-7-30h0m11-155.5h0m24 115.5h0m-34-4h0m33 139.5h0m-5-170.5h0m4 124h0m2-2h0m-20.5-32h0m25.5-128.5h0m-30-3.5h0m1-94.5h0m13.5 289h0m-21-46.5h0m1-274h0m1.5 170.5h0m18.5 20h0m-21.5 29h0m24.5 64.5h0m-25.5 0h0m1.5-104.5h0m27 13.5h0m0 37h0m-6.5-54.5h0m4.5-7h0m11.5 151.5h0m-13.5-75h0m-16.5-101.5h0m30.5 204h0m-22.5-116h0m19 98.5h0m3-196h0m-13.5 42.5h0m7.5 163h0m-1.5-162h0m5.5-9.5h0m-34-207.5h0m15 320.5h0m5 25.5h0m-16.5-106.5h0m14.5 115h0m-0.5-62h0m3.5 50h0m-13.5-229.5h0m12 118.5h0m-17 99.5h0m7.5-71h0m-11.5 68.5h0m9.5-112.5h0m27.5 49.5h0m-14-46h0m-5.5-13.5h0m17.5 171.5h0m-12.5-201h0m11 4h0m-5.5-19.5h0m-17.5 100h0m-11-92.5h0m34-55.5h0m-33.5 99.5h0m8.5 74h0m5-32h0m4 95.5h0m9.5 36.5h0m-6.5-19h0m5 8.5h0m8-20h0m4-205.5h0m-28 95h0m2-136h0m10.5 108.5h0m-25 84h0m37.5 25h0m-18-230h0m9-8.5h0m-7 206.5h0m-9.5-136h0m1 33.5h0m8.5 130h0m-16-108.5h0m20 138h0m9.5 24.5h0m-33-192.5h0m1 121.5h0m20-139h0m14 85.5h0m-29.5-59.5h0m-6 112.5h0m15.5 14.5h0m-9.5-108.5h0m31 103h0m-38-13h0m3.5-68h0m16-48h0m0 195h0m5.5-192h0m-24.5 91.5h0m15 33h0m21.5-144h0m-18.5 151h0m-15.5-45.5h0m3-51.5h0m15.5-11.5h0m-5.5 141h0m21-271.5h0m-17.5 150.5h0m15 99h0m7.5-220h0m-29-26h0m22 289h0m4.5-43h0m-18 41h0m18.5-231.5h0m-23 250h0m17-145h0m-4.5 116.5h0m-3-196h0m10 84h0m-34.5 127.5h0m9.5-19.5h0m22.5-120.5h0m7.5-37.5h0m-9.5-125h0m-24.5 148.5h0m28.5 76.5h0m-11.5-36.5h0m-0.5 67h0m2.5-79h0m-18.5 93h0m33.5-0.5h0m-20.5 20h0m13.5-97h0m-20.5 58h0m9-190h0m-6.5 231h0m-14-192h0m17 56.5h0m-15.5 79.5h0m36.5 34.5h0m-30-107h0m-2-96.5h0m25 83.5h0m-1.5 121h0m6.5-163h0m-27.5 138.5h0m-3.5-165.5h0m14 186.5h0m11.5-201h0m-14.5 68h0m-4 166.5h0m5-176.5h0m-0.5 3h0m-2.5 57.5h0m-6.5 116.5h0m30-3.5h0m-40.5-181h0m31 43.5h0m-22-38.5h0m32.5 176.5h0m-27.5-84.5h0m9.5 42.5h0m-3.5-137h0m6.5 25.5h0m14 27h0m-26 111h0m3.5-79.5h0m-0.5 61.5h0m22-248.5h0m-10.5 194.5h0m4.5-133h0m-22.5 124h0m7 107.5h0m15-104.5h0m-20 74h0m28.5-26h0m-15-37h0m15.5 36h0m-14.5 37h0m-27.5-65h0m23.5-222h0m-11.5 272h0m2-182.5h0m22.5 80h0m-33-80h0m22.5-69.5h0m9.5 271h0m-19-2.5h0m15-174h0m-6 6h0m-5-9h0m7.5-132.5h0m-4.5 253.5h0m-21-109h0m36 8h0m-30.5-75h0m23 41h0m-13 101h0m-14.5-42h0m21-172h0m9.5 127.5h0m-11.5 89.5h0m-15-47.5h0m32 36h0m-9.5 104.5h0m-3-255h0m-1 189h0m-6.5 20.5h0m7.5-275.5h0m-23 328.5h0m38-172h0m-1 32h0m-8 38.5h0m-17.5-117h0m13 49.5h0m-28 111.5h0m6.5-87.5h0m19 65.5h0m-17-169h0m17.5 251h0m-9 3.5h0m1-2h0m-6-1h0m13-81h0m2-84.5h0m-8.5-3.5h0m15 4.5h0m-2 152.5h0m-25.5-99h0m4-3h0m-3.5 122h0m13-162h0m-3.5 16h0m-5.5-78h0m11 72h0m13.5-167.5h0m-20 261.5h0m10-100.5h0m15.5 59.5h0m-10 5h0m11 25.5h0m0 32.5h0m-13.5-82.5h0m-11.5-2.5h0m-14-47h0m2.5 151h0m22-72h0m11-63.5h0m-34.5-64h0m12 92h0m20.5-58h0m-29 135.5h0m9 36.5h0m23-63.5h0m-39.5 71.5h0m9.5-318h0m-4.5 291.5h0m25-203h0m-14-12.5h0m17 166.5h0m-15-206h0m8 277.5h0m14.5-231.5h0m0.5 73h0m-2.5-16h0m-8.5 95h0m9 58.5h0m-31-212.5h0m7 226h0m-3.5-90.5h0m1.5 28.5h0m12.5-14h0m5.5 76h0m-15-11.5h0m15-23.5h0m-10.5-164h0m14.5-15.5h0m-9 35h0m-17 102h0m-2.5-150.5h0m16 54.5h0m19-2.5h0m-10-132h0m-8 107.5h0m-10.5 57.5h0m29 127h0m-19-32.5h0m2.5-49.5h0m7.5-4.5h0m-24.5-42h0m31 154.5h0m-10-4.5h0m-4-311.5h0m5.5 42.5h0m-12 234.5h0m-1-94h0m-7 46h0m-6-154h0m2.5 223h0m23.5-162.5h0m-13 64.5h0m0-63.5h0m10 4.5h0m-14 97h0m-1 11.5h0m21.5-173.5h0m-21.5 13h0m22.5-1.5h0m-9 234h0m1-239.5h0m3 146h0m-3-287.5h0m2 327.5h0m0-115h0m-12-149.5h0m-3.5 314h0m12-20.5h0m-25.5-9.5h0m19.5-46.5h0m2-87h0m10.5 87h0m-24-84.5h0m7 164h0m23.5-193h0m-13.5 150.5h0m4.5-69h0m-5.5 103h0m-17-199.5h0m4.5 89h0m11-83h0m3.5 69h0m-19-20.5h0m31 30.5h0m-8.5-142.5h0m-29.5 82h0m0 152.5h0m28-281.5h0m0.5 287h0m-17-178.5h0m4.5-24.5h0m-13 22h0m-0.5-42h0m36.5 19h0m-13-16.5h0m4.5 56h0m-15-192h0m10 328h0m-8.5-41.5h0m23.5 76h0m-18-188.5h0m-22.5 115h0m19.5 30h0m-4.5-102.5h0m3.5 140h0m12.5-14.5h0m-18 10h0m25-70.5h0m-7.5-22h0m-6-168h0m-16 3.5h0m19-43h0m9.5 196.5h0m-35.5-112.5h0m3.5 34h0m13 97h0m3.5 0.5h0m13-121h0m-31 103h0m29 105h0m9.5-209h0m-31 79h0m13.5 125h0m2.5-21.5h0m11.5-162.5h0m-28.5 116.5h0m-2.5-137.5h0m30.5 178h0m-31.5-139.5h0m-3.5 2.5h0m36 172.5h0m0.5 1.5h0m-8-198h0m3 111.5h0m-10 80.5h0m-1.5-154h0m-24 131.5h0m21-161h0m14.5 97h0m-16.5 8.5h0m-13 48h0m6-207h0m19.5 219.5h0m-24-294h0m12.5 308.5h0m11.5-51.5h0m8-23h0m-10 28.5h0m1.5-45.5h0m1-162.5h0m-1.5 256h0m-22-292.5h0m18 116h0m-21.5 4h0m27 164.5h0m-20.5-166.5h0m-2 121h0m12.5-193.5h0m-4 43h0m13 144.5h0m-3-259.5h0m-26 19.5h0m5 185.5h0m21 110.5h0m5.5-197h0m2-19h0m-7.5 194.5h0m-5-69.5h0m-18.5-87h0m18 3h0m1 17.5h0m8.5 135.5h0m-19-61h0m4.5 110.5h0m18-224.5h0m7.5 40.5h0m-42.5 172.5h0m21.5-153.5h0m-6.5-89.5h0m23.5 54.5h0m-10.5 2h0m-15.5 110.5h0m0-62.5h0m-8.5-52h0m24 11h0m5 63h0m-23 32h0m9.5-20.5h0m9-116h0m-14.5-89h0m17 317h0m-18-111h0m2.5 93h0m20.5-167.5h0m-27-25.5h0m-9 28h0m9 109h0m0.5 11.5h0m0.5-90.5h0m-1.5-246.5h0m0.5 245.5h0m9.5-73.5h0m16 192h0m3.5-131h0m-21-5h0m-3.5 130.5h0m-12.5-15h0m1.5-89h0m1 90.5h0m3.5-60h0m32 79h0m-29.5-82h0m29 19.5h0m-4 15h0m-10.5-23.5h0m-12.5-52.5h0m24-15h0m-12 172h0m-22.5-234.5h0m22.5 61h0m-10.5 29h0m-7 38.5h0m32.5-35h0m2.5-60h0m-7.5 132.5h0m7 38h0m-31.5-87h0m23.5 11h0m-24.5-129.5h0m32 126h0m-38 65h0m24.5-39.5h0m-25.5-79.5h0m40.5 21h0m-0.5-18h0m-14-32.5h0m1 25h0m2.5 169.5h0m-19-363.5h0m28.5 349.5h0m-22-6.5h0m-11-103.5h0m-3-3.5h0m16.5 79.5h0m21.5-39h0m-5-44h0m-21 3.5h0m14.5 135h0m-30-188.5h0m42-106h0m-24 286.5h0m11.5-27.5h0m1.5-171h0m-5 107h0m-17-49h0m30 152.5h0m-20.5-336h0m2.5 321h0m-16-2h0m-3.5-96.5h0m11-19.5h0m18 118.5h0m-17-200.5h0m14.5 63h0m-16.5 44.5h0m10-88.5h0m-18.5-50.5h0m33 186.5h0m-24.5-53.5h0m29.5-198h0m-41.5 206.5h0m14.5-2.5h0m25 85.5h0m3-5.5h0m-5.5-239.5h0m-23.5 132.5h0m2-169h0m11.5 52.5h0m-27 217.5h0m5.5-146h0m-5.5 154h0m6.5-139.5h0m11 106.5h0m21.5-247.5h0m1 217.5h0m-37.5-13.5h0m8.5-93.5h0m-7 149.5h0m18-83.5h0m-2.5 112.5h0m9-201h0m3-11.5h0m9-41h0m-6.5 84.5h0m-27 139.5h0m27-15.5h0m-17-123h0m-16 60h0m25.5-97h0m12 146.5h0m-18.5 71h0m-9-48h0m14.5-274.5h0m-0.5 253.5h0m-15.5-51.5h0m-4-99h0m5.5 131h0m-6-68h0m-3.5-79h0m6.5 181.5h0m12-18.5h0m-9 63.5h0m11.5-41h0m-5 18h0m7.5-257h0m10 80h0m-24.5 28.5h0m12.5-142.5h0m-21.5 200.5h0m-0.5 112.5h0m12.5-222h0m-2.5 31h0m15 173.5h0m-22-144h0m38 123.5h0m-4.5-28h0m-20.5-155h0m11.5 118h0m3 22.5h0m-21-119.5h0m16 79h0m-15-87h0m20 101.5h0m-29.5 115.5h0m28.5-82.5h0m-14 69.5h0m10.5-103h0m3.5-52h0m9.5 81.5h0m-19 58.5h0m1 6.5h0m3.5-247h0m0 61h0m14.5-95h0m-5 233h0m4.5-94h0m-24 97h0m15-140h0m-7.5 52h0m1.5-77h0m13.5 178.5h0m-4-163h0m-13.5 24h0m11 177.5h0m8.5-77h0m-39.5-127.5h0m38.5 80h0m-2 62h0m2 45.5h0m-0.5 27.5h0m-38.5-133h0m13 8h0m-13 99h0m33 7h0m-30-153.5h0m23 165h0m-11-232h0m27.5 98.5h0m-42.5-128h0m34.5 131h0m-26.5-109h0m25 255.5h0m-6.5-50.5h0m5.5-50.5h0m-19.5-109.5h0m-9 205h0m20-93h0m-14.5-148.5h0m29.5 141.5h0m-20 13h0m13-151.5h0m-17 87h0m20.5-104.5h0m-12 181h0m-17-162h0m14 193.5h0m-18.5-116h0m34 45h0m-33-99h0m6.5 165.5h0m-9-15h0m18-102h0m9 78h0m-21-65.5h0m-1 74h0m30.5 60h0m-34-104h0m37.5-172.5h0m-21 166.5h0m-12-8.5h0m14.5 64h0m-17.5-45h0m28 111h0m-2-101h0m-25.5-132h0m7 148.5h0m7.5-57.5h0m24 138h0m-8.5-170h0m0.5 172h0m4.5-270.5h0m3 221.5h0m-7.5-139.5h0m-33-14h0m26.5 95.5h0m1-53h0m9.5 138h0m-32.5 35h0m9-28h0m19.5-49h0m-12.5 49h0m-6 8.5h0m7-23.5h0m-0.5-83.5h0m8-21.5h0m-15 32.5h0m-6.5-48h0m32.5 107h0m-34.5-247.5h0m8 207h0m17-31.5h0m-3.5-93.5h0m-12 191.5h0m24-89h0m-32.5 70.5h0m32-124.5h0m1 172.5h0m-5-223h0m-15 171h0m-15.5-146.5h0m0 69.5h0m37 71h0m-24.5-120h0m15-7h0m8.5-75.5h0m-31 205h0m-7-72h0m-1.5 80h0m6.5-84.5h0m1 77.5h0m-7 43h0m9.5-109.5h0m18.5 69h0m-18.5-166.5h0m17.5-31h0m-5 57.5h0m7.5 91h0m7 97.5h0m-5-54h0m-2.5-237.5h0m-21 179h0m11-15h0m-3.5-146h0m-15-31.5h0m35.5 170h0m-10.5-22h0m5 11.5h0m9.5-90h0m-33 31.5h0m1 98h0m10.5 38h0m12-5.5h0m-10 56.5h0m-1.5-221h0m-8.5 190.5h0m11.5-261.5h0m12 101.5h0m-7.5 44.5h0m-26.5-133h0m17 198.5h0m18 58h0m-13-31h0m4-46h0m-17.5 41h0m19 71h0m1.5 5.5h0m-23.5-241.5h0m10 180.5h0m-5.5 21h0m7-145h0m0.5 72h0m-5.5 89.5h0m-3-144h0m18 148.5h0m11.5-237.5h0m-21.5 217.5h0m-14-127h0m16.5 53h0m10.5 30h0m-28-45.5h0m21.5-110.5h0m12.5 208.5h0m0.5-168h0m3 15h0m-18.5-27h0m-21.5 100.5h0m11 19.5h0m3.5-139.5h0m14.5 203.5h0m-8-97.5h0m15 38.5h0m-13-6.5h0m-22-8h0m7-50.5h0m20.5 45h0m11-78.5h0m-4.5 17h0m-31 163.5h0m28-130h0m-7-140h0m9.5-40h0m-26.5 71h0m13-74.5h0m-1-9.5h0m12 278h0m-14-122h0m16 97h0m-2.5 65.5h0m5-86.5h0m-0.5-188.5h0m-31.5 9.5h0m10 65.5h0m-2 140.5h0m7.5-103.5h0m-7 148h0m11.5-182h0m-1.5 128h0m-3 77h0m10.5-100.5h0m-7-65.5h0m-13-3h0m12 70.5h0m-0.5-182.5h0m-6 230h0m10 56h0m-24-214.5h0m24 111.5h0m-23-176.5h0m17.5 151.5h0m-12.5 64.5h0m1.5-15.5h0m20.5-39.5h0m-3 101.5h0m-26-64h0m9.5-109.5h0m16 162.5h0m-27.5-195.5h0m39 167h0m1.5-251.5h0m-40.5 192h0m18.5 110.5h0m-6.5-180h0m7.5-37.5h0m17.5 63h0m-18-127.5h0m-2 132h0m10 71.5h0m10 62.5h0m-20-168h0m-13 151h0m30-202.5h0m0.5 180.5h0m-8.5 9.5h0m4.5-78.5h0m-29.5 106h0m33.5-55h0m2-25.5h0m-11 5h0m-24.5 50h0m-1.5-90.5h0m7.5-1.5h0m5-32.5h0m-3.5 52h0m26.5 50h0m-17 64.5h0m-12.5-150h0m35 101h0m-33 25.5h0m16-63.5h0m17.5-6h0m-4-9.5h0m3-112.5h0m-20.5-96h0m-6.5 165h0m-11-32h0m19 108.5h0m19.5 49.5h0m-11.5-79.5h0m-21 62.5h0m30-45.5h0"/>
<path stroke="#56B4E9" d="M365 566.5h0m-7-9h0m24.5-46h0m-6.5 44h0m-12.5-10.5h0m9-32.5h0m-27.5 53.5h0m-0.5-14.5h0m36.5-17h0m5-61.5h0m-35.5 85h0m25-26h0m3.5 0h0m-25.5 0h0m20 23.5h0m7-95.5h0m-6.5 92.5h0m11-61h0m-7 54.5h0m3 11h0m-11.5-95h0m16 110h0m-34.5-40.5h0m15-71.5h0m-17 75.5h0m15.5-31.5h0m-17-18h0m-3 41h0m25 1.5h0m-14 20h0m9.5-58h0m-15 39.5h0m-1.5 0.5h0m34.5 31.5h0m-35.5-47h0m32.5 12.5h0m-5.5 15h0m-8.5 12h0m11-66.5h0m-27.5-19.5h0m6.5 58.5h0m-9 5h0m1.5 44.5h0m11-19h0m10 0.5h0m-24-61h0m1.5 38h0m6.5-26h0m21-6.5h0m-22 20.5h0m11.5-35.5h0m6.5 10h0m-20 43.5h0m35.5 0.5h0m-11.5-11h0m-11.5 22.5h0m7.5-7h0m-26 28h0m10-13.5h0m30-46.5h0m-32.5 43h0m24.5-4.5h0m-2-10.5h0m-14-16.5h0m20.5 26.5h0m-1-59.5h0m-23 77h0m-7.5-39h0m4.5-41h0m-3-10h0m-1.5-9.5h0m12.5 41.5h0m21.5-36h0m-4 23.5h0m-25.5 65.5h0m27.5-94h0m-24 66.5h0m16 34h0m-2.5-61.5h0m-20.5-39h0m-3-5.5h0m13.5 7h0m7.5 65.5h0m-23.5 2.5h0m33-60h0m-1.5 56.5h0m-26.5 36h0m0.5-27.5h0m-2-40h0m-2 49h0m13 12h0m26-39.5h0m-22.5 8.5h0m0-64h0m-9.5 64h0m-9 9h0m36.5 19.5h0m-12.5-9.5h0m0.5 0.5h0m-3.5-47.5h0m3 36.5h0m-20.5-27.5h0m14-18.5h0m-8 25h0m15.5 51h0m11.5-56.5h0m2 24.5h0m-7 22.5h0m8-80h0m-10.5-12h0m7-12h0m-22.5 109.5h0m14-71h0m-13 56h0m1.5-23.5h0m9.5-17h0m9.5 49h0m5 11.5h0m-20.5-50.5h0m-15-53.5h0m32.5 10h0m-15.5 71.5h0m12-71h0m-26.5 67h0m9-22h0m6.5-38.5h0m-5.5 89.5h0m3-47h0m6.5 28h0m13.5-32.5h0m-31 34h0m25.5-30.5h0m6-61.5h0m-4 95h0m3.5-17h0m2-16.5h0m-30.5 15.5h0m22-20h0m5-41h0m-4 78.5h0m-20.5-102.5h0m19 59.5h0m-13.5 21h0m-13.5 35.5h0m-2-70.5h0m34.5 65.5h0m-34.5-104.5h0m30.5 23.5h0m-29 39.5h0m31-53.5h0m1 29.5h0m-16.5-25h0m8.5 91.5h0m-24-68h0m29.5 25.5h0m-5 19.5h0m-6.5-58h0m-11.5 36.5h0m22.5 4.5h0m-21.5 31h0m-1.5 11.5h0m-0.5-87.5h0m6-18.5h0m-17 27.5h0m41.5 59h0m-20.5-26.5h0m12 31.5h0m-16.5-49.5h0m25 32h0m-39.5-37.5h0m27.5 21.5h0m-23 14.5h0m16.5 18h0m-21-31.5h0m38 4h0m-1.5-45.5h0m-35.5 82h0m36.5-5h0m-20-72.5h0m7 57h0m-18 2h0m1 2h0m1-16h0m3 6.5h0m17.5 30.5h0m-26-0.5h0m-0.5-99.5h0m4.5 75.5h0m-6-83h0m14.5 24h0m-7 31.5h0m-2.5 5.5h0m8 40h0m8.5-87.5h0m-25 90h0m3-69h0m5.5 6h0m3.5 56.5h0m20.5-90h0m-33 70h0m3.5 3h0m-1.5 22.5h0m41-37.5h0m-27.5 19.5h0m3-0.5h0m-2.5-79.5h0m7.5 88.5h0m-1.5-28h0m-17.5 41.5h0m24.5-51h0m-6 17.5h0m-4-15.5h0m2 25h0m1.5 11.5h0m-19-85h0m13 28h0m24.5-40.5h0m-27 33.5h0m-13.5 35h0m5 26h0m16-72.5h0m6 29h0m-14.5 47h0m-11-36.5h0m36.5 17h0m-0.5 1.5h0m-17-59h0m16 47.5h0m-29.5 14.5h0m9.5-49h0m-16.5-12h0m6 54.5h0m16.5 21.5h0m-21.5-31.5h0m5-1.5h0m17 5h0m-14.5 0h0m28.5 41h0m3-50.5h0m-4-14.5h0m-23.5-1.5h0m17.5 19h0m-12 50h0m17-25.5h0m-14.5-0.5h0m-6-67h0m16 76h0m5-44h0m-29.5 15h0m30.5-54h0m-35.5 60h0m2 23.5h0m30.5-65h0m-2-2.5h0m5.5 40.5h0m-9.5 14.5h0m-11 28h0m-12.5-13.5h0m37.5 10.5h0m-15.5-85h0m-1.5 71h0m11.5-6h0m-15-29h0m15.5 56.5h0m-18.5-58h0m12-35h0m5.5 19.5h0m2.5 37h0m-30-41h0m4 52h0m-7-34h0m-4 51h0m32.5 0h0m7.5-35.5h0m-19 38.5h0m8 2h0m-9 0h0m19.5-67h0m-20.5 41.5h0m-16.5-62.5h0m1 69.5h0m35-2h0m-38 7.5h0m39-99.5h0m-36 100.5h0m1.5-6h0m36-30.5h0m0.5-45h0m-27 54.5h0m16.5 26.5h0m-15 11.5h0m20-20.5h0m-30.5 11.5h0m6 6.5h0m-8-42.5h0m36 32h0m-31.5-36.5h0m26-10.5h0m-18-31.5h0m-2.5 3.5h0m-9.5 19.5h0m35.5 22.5h0m-22 41.5h0m-2.5 5.5h0m10.5-92h0m2.5 90.5h0m-10.5-37h0m16.5 27.5h0m-32-16h0m6.5 4h0m-7.5-21h0m9.5 8h0m27.5-42h0m-23.5 35h0m4-8h0m-0.5 17.5h0m9 10h0m-6.5-30h0m5 14h0m-19.5 35.5h0m1-12h0m-4-28.5h0m22-3h0m-22 9.5h0m-2 34.5h0m24.5-14h0m0-5.5h0m-7.5-82.5h0m-13 10.5h0m-4 54.5h0m12 24.5h0m25.5-91.5h0m-32 107.5h0m21-106h0m-12.5 39.5h0m24.5 45.5h0m-9-82.5h0m0 47h0m5 37h0m-13-21h0m-7 25h0m-4.5-16.5h0m-5.5-9h0m32 41h0m-25.5-88.5h0m-4 44.5h0m9.5-30h0m-13.5 69.5h0m35-21.5h0m-16.5-7h0m-2.5-40.5h0m12.5 24.5h0m2-26h0m-5.5 67.5h0m4-28h0m-26.5-30.5h0m20.5 35h0m7-1h0m6-3.5h0m0-49.5h0m-35.5 80h0m-1-32.5h0m4.5 16.5h0m0 14h0m18-49.5h0m5.5 56h0m-5.5-43.5h0m-4-6.5h0m18 26.5h0m-8 24h0m0.5-19.5h0m-21.5-94h0m26 107h0m-29.5 3.5h0m30-89h0m-39 69h0m43 10.5h0m-41 7h0m22-40h0m19-11.5h0m-21 33h0m-3.5-76.5h0m1 98.5h0m-10.5-87.5h0m-7 59.5h0m40.5-18h0m-14.5 2h0m-24 45.5h0m34.5-93.5h0m-34 94h0m38-81.5h0m-8.5 22.5h0m-21-7.5h0m11.5 57.5h0m-12.5-8h0m0 12.5h0m14-42.5h0m4.5 22.5h0m0.5 11.5h0m-20.5-79.5h0m24 87h0m-20.5-30h0m-8-63.5h0m18.5-13h0m8.5 58.5h0m-20.5 40.5h0m-1 11h0m30-13h0m-1-92.5h0m-15.5 70.5h0m3.5-48.5h0m-16-0.5h0m25.5 35h0m-5 29h0m6-7.5h0m3.5-19.5h0m-33.5 11h0m0.5 32.5h0m6-56h0m5.5-20.5h0m20.5 73.5h0m-14-26.5h0m6-13h0m-23.5-45.5h0m31.5 35.5h0m-30 33.5h0m9.5 22h0m1.5-50.5h0m14 53.5h0m-15.5-13h0m18 4h0m-10-42h0m-12 37h0m-12.5-5.5h0m30.5-57h0m-5 62.5h0m-20.5-28h0m11.5 31h0m-15-21.5h0m-4-9.5h0m29.5 25h0m-5-54h0m3-33h0m7 52h0m-34 17.5h0m29.5-2h0m-30.5-9.5h0m20.5 17h0m7.5-69.5h0m-23.5 66h0m-1.5 4h0m22-73.5h0m7.5 57h0m5-49.5h0m-31.5 67.5h0m5.5-5.5h0m-7 5h0m7-10h0m19.5 29.5h0m-11.5-38h0m21 41.5h0m-20-43.5h0m-20 43h0m19.5-16h0m-6.5-19.5h0m12 38h0m0-81.5h0m5 7h0m-8.5 70.5h0m-11.5-90h0m24 31.5h0m-25 40.5h0m-8.5-63h0m18.5 61h0m-2.5 13h0m24-34h0m-22.5 24h0m-13.5-15h0m9.5 18h0m27-40.5h0m-7-30.5h0m-16 57.5h0m9-13.5h0m11.5 16.5h0m-36.5 15h0m0.5-13.5h0m11.5-1h0m13.5-72h0m6.5 27h0m-14 54.5h0m0 8.5h0m-12.5-26.5h0m32.5-9h0m-28-36.5h0m-11 57h0m8.5-85h0m6 56h0m11.5 40h0m-8.5-20.5h0m-1-42h0m-8.5 23h0m-7.5 32h0m12-0.5h0m2 1h0m11-9.5h0m6-26.5h0m-26-55.5h0m29.5 55h0m-19.5 14.5h0m0-10.5h0m-14.5-36.5h0m36 37.5h0m-21-60.5h0m-9.5 55.5h0m20-0.5h0m-15.5 32h0m5.5-25h0m3.5-5h0m-8 59.5h0m-8.5-6.5h0m15-70h0m0.5 28.5h0m15.5 45.5h0m-11-45.5h0m-23.5-5h0m24.5-2h0m-24.5 12h0m35-37.5h0m-10.5 76.5h0m-6.5-74.5h0m13 73h0m-30-23.5h0m-0.5-27.5h0m35 53h0m-8.5-86h0m-28 53.5h0m34.5-1.5h0m-29 29h0m17.5-22h0m-3.5 17h0m16-39h0m-7 45h0m-13.5-62.5h0m-15 33h0m7-77h0m-9 92.5h0m41.5-8h0m-26.5-75h0m-3.5 95.5h0m3-8h0m24.5-23.5h0m-23 6h0m26-38h0m-9 71h0m-11-89.5h0m-12.5-1.5h0"/>
<path stroke="#56B4E9" d="M404 346h0m19.5 142h0m1 89h0m15-15h0m-22-104.5h0m-8.5-15.5h0m-9 50h0m29 63.5h0m3-173h0m-13.5 91h0m9.5-86.5h0m-29.5 117h0m41.5-100h0m1.5 78h0m-20.5 56h0m-15-20.5h0m-6 52.5h0m9-85.5h0m1.5-101.5h0m19 173.5h0m-11 1h0m5-41h0m-2 30.5h0m-9-173h0m-9.5 77h0m22.5-26.5h0m-4.5 90.5h0m6.5-112h0m13 77h0m-0.5-38.5h0m-36.5 79h0m33.5 31h0m-27-57h0m30.5-56h0m-32.5 83h0m-2-44h0m5.5 34h0m18.5-90.5h0m3-30.5h0m-2 163.5h0m-9.5-54h0m9-60.5h0m-22.5 131h0m15.5-10h0m-3-272h0m16.5 248h0m-4 15.5h0m-11-73.5h0m5.5-18.5h0m-17.5 90.5h0m-9.5 7.5h0m14-27.5h0m8.5-92.5h0m-9.5 129.5h0m23.5-23.5h0m-29-62.5h0m10-14h0m-0.5 57.5h0m23.5-182.5h0m-42 218.5h0m28.5-46h0m-18-12h0m22 66h0m-25-32.5h0m6 22h0m5-155h0m-4.5 108.5h0m11.5 14.5h0m15-121h0m-17 153h0m8.5-4.5h0m-30-156.5h0m3 166h0m36.5 2.5h0m-20-302h0m-15.5 152.5h0m22.5 103h0m-23.5-72.5h0m-5.5-38h0m22.5 67.5h0m15.5-119.5h0m0 133h0m-35.5 28.5h0m30.5-116.5h0m3 166h0m-35-64.5h0m24 69h0m1-69.5h0m4.5-86.5h0m4.5 134.5h0m1.5-22h0m-23.5-9.5h0m28-103h0m-24.5 6.5h0m26 146.5h0m-41.5-113.5h0m27.5-13h0m12 84h0m-6.5-20.5h0m5-124.5h0m-6.5 132.5h0m-13 7.5h0m21.5 5.5h0m-14-16h0m-10.5 21h0m10-140h0m-11.5 136h0m25-170h0m-27.5 69.5h0m23.5-8.5h0m-29.5 139h0m16-52.5h0m9.5-55h0m-30.5 80h0m6.5-75.5h0m-6 40.5h0m-0.5-86.5h0m13 141h0m-1-65h0m1.5-23h0m25.5 97h0m-21.5-142.5h0m0 138.5h0m21.5-51h0m-6.5-165.5h0m-10 172.5h0m10.5 5h0m6.5 43.5h0m-25-138h0m-10.5 148.5h0m26-114h0m8 56.5h0m-11.5-133.5h0m-3.5 177.5h0m7.5-23.5h0m3.5 9h0m2-91.5h0m-10-8.5h0m6 125.5h0m-25-120h0m7 81.5h0m-3.5-23h0m5.5 3h0m8.5-20.5h0m-3.5 75h0m-7.5 5h0m-1-27.5h0m-13-89.5h0m1.5 122.5h0m0-56.5h0m18-165h0m5.5 162h0m10.5-130.5h0m-33.5 126.5h0m39.5 11.5h0m-21.5 45h0m-17.5-119h0m27-90h0m12 152.5h0m-24.5-85h0m7 113.5h0m-23.5-155h0m-1 173.5h0m19.5-42h0m7-66.5h0m-26 79.5h0m32.5-115.5h0m-14.5 114.5h0m-8 39h0m4-196.5h0m11 164h0m-9-150h0m-4.5 166.5h0m29-89h0m-13-45.5h0m3 57.5h0m0.5 98h0m-30-123.5h0m30.5 31h0m-16 45h0m18.5-90.5h0m-23.5 97.5h0m16.5-7.5h0m9-113.5h0m-15-32.5h0m-10 160h0m-1-14h0m-5.5 13.5h0m14.5-27h0m-6 30.5h0m15-57.5h0m13.5 2.5h0m-36 87.5h0m9-89.5h0m-0.5 46h0m1-56h0m-14 65.5h0m23.5-45.5h0m-5.5-58.5h0m16-8.5h0m-31-11h0m3.5 56.5h0m13-21h0m-2.5 100h0m3-42h0m2-30h0m4.5-1.5h0m-19.5 60.5h0m-6.5-130h0m13.5 150h0m4.5-169h0m2 176.5h0m19.5-99.5h0m-18 86.5h0m6-107h0m-4.5 103h0m10.5-167h0m-31 117h0m35.5 67h0m-31.5-113.5h0m17 121h0m-19-26.5h0m25-161h0m-8.5-32.5h0m0 203.5h0m-17.5-164.5h0m33-21.5h0m-29.5 93.5h0m19.5 56h0m6-181.5h0m-7.5 127h0m-10.5-8h0m-5-4h0m5 79h0m-13.5-123h0m-0.5 151.5h0m32-153h0m-27.5 44.5h0m25 97.5h0m0-87.5h0m-26.5 96h0m35-220h0m-19.5 236.5h0m-12.5-224h0m-3.5 170.5h0m13-28h0m-10.5 34.5h0m29-31h0m-35-71h0m27-9.5h0m-22 103h0m23 56h0m6.5-118h0m-7.5 100h0m-26-24h0m38.5-142.5h0m-21 10.5h0m18.5 123h0m-6-127.5h0m-10 31h0m-3.5 41h0m21 57h0m-4-32h0m-13-103.5h0m10.5 28h0m-33.5 120.5h0m41.5-142h0m-9.5 140h0m-23-26.5h0m-5.5-66.5h0m24 22h0m-20.5 73.5h0m19-19h0m-20-121h0m-0.5 47.5h0m13 116h0m18.5-139h0m-29 27h0m0 112h0m12 1h0m-17-203.5h0m12 217.5h0m11-102.5h0m9.5 25.5h0m-26.5 26h0m-3.5-211h0m16 190.5h0m-1.5-87.5h0m-4 46.5h0m16.5 32.5h0m1.5 30.5h0m-11.5-90.5h0m-4-19h0m17 120h0m-15-11.5h0m-5.5 1h0m8-160h0m6.5 167h0m-26.5-12h0m12.5-24.5h0m-4.5-44h0m-5-99.5h0m24 199h0m1.5-20h0m-29-7h0m9.5 2h0m-9-154h0m37.5 124h0m-12-30.5h0m-5 77.5h0m7-3h0m8 8h0m-6.5-77.5h0m10 12.5h0m-38 16h0m16-5.5h0m15-3h0m-34-173.5h0m31 153h0m8.5 53h0m0.5 47.5h0m-6-40.5h0m-6 11.5h0m-21-33.5h0m4.5 26.5h0m12-60h0m17.5-90.5h0m-24.5 163.5h0m2-17h0m1 23.5h0m10.5-36.5h0m1.5 42h0m-28.5-144h0m4.5 145.5h0m0-75h0m-7.5-33h0m1.5 90h0m30 23h0m9-345.5h0m-28.5 351.5h0m11-19h0m-21.5-150.5h0m21 126h0m-17-189h0m18.5-50h0m8 204.5h0m6-67h0m-6 1.5h0m-17 95.5h0m-13 12.5h0m8-11.5h0m26.5-55h0m-21.5 96h0m25.5-67h0m-5-81h0m-9.5 112.5h0m-17-85.5h0m-2.5 53h0m17-26h0m-23 36.5h0m33 46h0m-11.5-13h0m-4.5 17.5h0m10.5-170.5h0m-19 49.5h0m3-68.5h0m8.5 153h0m-16.5-96.5h0m37 57.5h0m-10-17h0m-27.5-35h0m20 24.5h0m-24 32.5h0m35.5-105h0m-19 126h0m-5.5-122.5h0m4-55.5h0m5 30h0m20 84h0m-4.5 122.5h0m-10-39h0m-0.5-31h0m-19-52h0m3-55h0m-7 119h0m29 36.5h0m6.5-211.5h0m1.5 81h0m-34 95h0m-3 52h0m28-1h0m-17-106h0m24.5-79h0m2.5 158h0m-38.5-98h0m8.5 129.5h0m12-117.5h0m14.5 112h0m-35-196.5h0m17.5 201.5h0m-12.5-138.5h0m7-5.5h0m16 50h0m-23.5 87.5h0m16.5-125h0m-3.5-8h0m6.5 74h0m-24-141.5h0m40.5 140.5h0m-2-2h0m-14 63.5h0m2-171h0m7 157.5h0m-9.5 24.5h0m-25-100h0m41-49.5h0m-25.5 114.5h0m15.5 4h0m-22-69h0m21 2.5h0m-5.5 80h0m-9.5-31h0m7.5-92h0m-17.5-68h0m13.5 196h0m-18.5-22.5h0m9.5-199h0m10 104.5h0m15 7.5h0m-18-48.5h0m20.5 100.5h0m-11-32.5h0m-16.5-56.5h0m-9-73h0m29 181h0m-26 25h0m11-77h0m8-93h0m-2 121.5h0m-19 25.5h0m18-26h0m-18-143.5h0m7.5 219h0m5-32h0m21-13.5h0m-27 33h0m3 2.5h0m-9-15.5h0m13.5-1h0m-2.5-8.5h0m-3-66.5h0m9.5 34h0m-3-35.5h0m25-11.5h0m-4 36.5h0m-6.5-114h0m10 12h0m-4 158.5h0m-11.5-47.5h0m-4.5 19.5h0m8 17.5h0m-2-16.5h0m-11 29h0m-1-134.5h0m-7.5 124.5h0m-7.5-126.5h0m14.5-80.5h0m26 226h0m-12.5-116.5h0m-19.5 37.5h0m14-150.5h0m-22 209.5h0m11.5-66h0m25.5-144h0m-13.5 27h0m-16.5 126h0m15-108.5h0m-17.5 123.5h0m5.5 28.5h0m23 44.5h0m-14.5-11.5h0m20.5 2.5h0m-36-4h0m27.5-58.5h0m1.5-52.5h0m-16-36h0m9.5-104h0m-8.5 240.5h0m20.5-116.5h0m-8.5-26h0m-15.5 57.5h0m23.5 66h0m-17.5 31.5h0m17-107h0m-21 63.5h0m8-111h0m1 78h0m-16.5 7.5h0m7-129.5h0m-6.5 131.5h0m0-69h0m28-30.5h0m-14 138.5h0m11.5-100h0m-11-35.5h0m-6 129.5h0m15.5-114.5h0m-2-56h0m6.5-22.5h0m-23.5 186.5h0m12.5 27.5h0m13.5-31.5h0m-7.5 50h0m-33.5-23h0m7.5 8.5h0m10.5-69.5h0m-12.5-55.5h0m8.5 117.5h0m-11.5-219h0m5 8.5h0m3 160.5h0m5 65h0m12-75h0m7.5-93h0m-33.5 170h0m35.5-3.5h0m-34.5-1h0m36.5-25.5h0m-18.5-22h0m9.5 18.5h0m-3.5-133.5h0m4 144.5h0m-2.5-139.5h0m1 27.5h0m-25 41.5h0m29 3h0m-15 59.5h0m-3-19h0m-7.5 19h0m13.5-71h0m0.5-12h0m-15.5 107h0m26.5 1h0m-1.5-119h0m-20.5 27h0m-9-36h0m27 12.5h0m5.5 46h0m-3.5-74.5h0m-11.5 122h0m-2.5 6h0m2-218.5h0m-6 239h0m14 8.5h0m-15.5-138.5h0m-5.5 93.5h0m3.5-3h0m9.5-66.5h0m-9-112h0m15.5 78h0m-22 120.5h0m-2-84.5h0m32.5-12.5h0m-23 26.5h0m-4.5-54h0m27.5 2.5h0m-27.5 40h0m19.5 23.5h0m15-1h0m-33.5 50h0m16.5-69h0m4-93.5h0m-6 67h0m1.5-51h0m17-77h0m-3.5 112h0m-31 59.5h0m28.5-105.5h0m-31.5 38h0m9.5 41.5h0m-7.5-19.5h0m4.5-94.5h0m-7 9h0m18.5 126h0m-3.5-104.5h0m2.5 196.5h0m-8.5-153h0m-4 129.5h0m14-132h0m-7 71.5h0m-13 40.5h0m27-8h0m-24.5-142h0m20 79.5h0m-4.5 56.5h0m-2.5-98.5h0m-4.5 108.5h0m-0.5-89h0m13.5 28h0m1 98.5h0m-16.5 6h0m-7.5-46.5h0m27.5-11h0m-20.5-100h0m-9.5-69h0m32.5 215h0m-26.5-80.5h0m10.5 20h0m24 36.5h0m-13-52h0m-8.5 49h0m4.5-132h0m6 100.5h0m2.5-116.5h0m-6.5 123h0m-16 56h0m19-65h0m-15.5-20h0m5.5 83h0m15-26h0m-4.5-177.5h0m-7 113h0m8.5-24.5h0m9.5 109.5h0m-14.5-101h0m4.5 97h0m7.5-23h0m-21.5-70.5h0m22 91.5h0m-36.5 7h0m31-102h0m-22.5 38.5h0m-6.5-147h0m27 226.5h0m-28.5-26h0m29.5 10h0m-19.5-116h0m11 102.5h0m8-60h0m-5.5 93.5h0m-22.5-14h0m34.5 1h0m-30.5-93h0m31.5 32.5h0m-34 48h0m17-229h0m-6 176.5h0m27-47.5h0m-26.5-1.5h0m14.5-21h0m-20.5 81h0m25 31h0m-8 25h0m-15.5-119.5h0m21.5-28.5h0m-26.5 123h0m17.5 24h0m-4.5-40.5h0m-16.5 26h0m7.5 2.5h0m30 1h0m-29-108.5h0m2 97h0m4-155h0m-7 185.5h0m-10.5-128.5h0m13 46.5h0m24.5-62.5h0m-9 117.5h0m-7.5-52.5h0m-12.5-11h0m18.5 42.5h0m-0.5-41h0m-21.5 52h0m19-113.5h0m3 122h0m-19-6h0m24 10.5h0m-22-73.5h0m-2 15.5h0m-6 43.5h0m5.5 27h0m16.5-68h0m-19-105.5h0m33.5 172.5h0m0-146.5h0m-11.5 148.5h0m-18-46.5h0m19.5-88.5h0m8-86h0m-20.5 167.5h0m-15 28.5h0m27-139h0m9.5 126h0m-3.5 34.5h0m-7.5-229.5h0m-26.5 114.5h0m22.5-23h0m9 152h0m-14 3.5h0m24.5-274h0m-33 201.5h0m20-172h0m7.5 245h0m-16-75h0m8.5 39.5h0m-13-127.5h0m4 93.5h0m20.5-44h0m-36.5-100.5h0m6 38.5h0m14.5 65.5h0m0.5 60h0m-14-177h0m-8 81h0m13.5-143.5h0m-14.5 194h0m27.5 7h0m-20.5-75.5h0m5 52.5h0m0.5-48h0m4.5 130h0m-18 5.5h0m23-57.5h0m1 81h0m-23-13h0m14-158.5h0m19 152.5h0m-27-65.5h0m-5.5 5h0m7.5 44h0m-8.5-65.5h0m10-98h0m8-66h0m-9 237h0m24.5-93.5h0m-15-4.5h0m3.5 107.5h0m-8-191.5h0m-13 0h0m-2 179h0m19-56h0m-4 19.5h0m-3-51.5h0m23 90h0m-22.5 20.5h0m27-42h0m2-76.5h0m-39.5-5h0m39.5 75.5h0m-17-86h0m15.5 10h0m-17 10.5h0m-2.5 93h0m-3-18.5h0m-16-47.5h0m40-135h0m-25.5 114.5h0m15.5-141h0m-29 135.5h0m15 11h0m-7 27h0m-9.5-90.5h0m35.5 111.5h0m-30 25h0m4 39h0m20 0h0m-16-28h0m10.5-100.5h0m-11.5 33h0m-0.5 25.5h0m25 65h0m-6-26h0m-27-63h0m9 52.5h0m7.5 22.5h0m-18-27h0m1-101h0m-5 36.5h0m0.5 69h0m11.5 24h0m-3.5-105h0m15-18.5h0m-14.5 92.5h0m24.5-132.5h0m-0.5 102h0m-20 9h0m-9.5-196.5h0m7 137h0m5.5 32.5h0m21.5 51.5h0m-26-101h0m11 146h0m-15.5-86.5h0m36 43.5h0m-2.5-137h0m-0.5-3.5h0m-12.5 160.5h0m-10-57.5h0m15.5 39h0m-16-65h0m3 21h0m-8.5-99.5h0m-6.5-21h0m30.5-11h0m-20 169.5h0m-14 38.5h0m3-3.5h0m7-29h0m0-109.5h0m9 37h0m-6.5 15.5h0m-11.5 74h0m2.5-81h0m0-132.5h0m31.5 212.5h0m-18.5-137.5h0m9.5 156.5h0m-14.5-33h0m-11-161.5h0m14 161h0m-5-116h0m17 122.5h0m10.5-53h0"/>
<path stroke="#56B4E9" d="M467 523.5h0m-13.5 32h0m13 18h0m27-10h0m-36.5-39h0m3 1h0m24.5 50.5h0m-19.5-3h0m20 3.5h0m-15.5-20h0m16.5-10.5h0m-6-2h0m3.5 14h0m12-24.5h0m-32.5-9h0m30 22.5h0m-27.5 19.5h0m2.5-26h0m-9 27.5h0m1 6.5h0m-6-14h0m31.5-29h0m-7 28h0m9.5-0.5h0m-33-19h0m11.5-7.5h0m12.5 13h0m-6.5-4.5h0m2.5-7.5h0m1 20.5h0m5-33.5h0m6.5 18.5h0m-10 0h0m-14 1h0m15 36.5h0m-9-19h0m-2.5-20h0m-2 37h0m9.5-13.5h0m-14.5-2.5h0m21.5-23.5h0m6.5 29h0m-10-8h0m7.5 7h0m-7.5-29.5h0m11 28h0m4.5 7h0m1-27.5h0m-22.5-8h0m-12.5 41.5h0m34 0h0m-3-20h0m-4-11h0m-5.5-16h0m-19.5 1h0m22 9.5h0m4.5-19.5h0m-17 8h0m-0.5 45.5h0m14.5-23.5h0m-11.5 19h0m14.5-46.5h0m5.5 18h0m-1.5 17.5h0m0 5h0m-14-22.5h0m-23-6.5h0m33 27h0m-3.5-4.5h0m4-1h0m0.5-9h0m-32 17h0m28-20.5h0m4.5-21.5h0m-27.5 18.5h0m12.5-10h0m5 14.5h0m-23 26h0m3-42.5h0m8.5 46.5h0m20.5-34h0m-25-20.5h0m29.5 48h0m-36 9h0m-3-48.5h0m38.5 42h0m-13-9h0m-15-28h0m-9 12h0m0.5 31.5h0m28.5 2h0m-13-6h0m-18-47.5h0m38.5 49h0m-27.5-50.5h0m-8 22.5h0m24.5 24.5h0m-17.5-21h0m-8-7h0m23 2.5h0m-19.5-16h0m12 10h0m17 34.5h0m5.5-21h0m-25.5-28.5h0m-2 16.5h0m14 16h0m12 2h0m0-7h0m-2.5-7h0m-11.5 27h0m6-41h0m-29.5 41.5h0m37-33h0m-23 15h0m-6 10h0m3 0.5h0m21-10.5h0m1 13h0m-22.5-36h0m24 16.5h0m-31-1.5h0m3-16.5h0m31 14h0m-1-21h0m-10 45.5h0m-16.5 10.5h0m-7.5-5.5h0m9.5-15h0m12-29h0m-9 42h0m-6-36.5h0m29.5 45h0m-32-11.5h0m22.5 1.5h0m-1-22.5h0m-2-23h0m10.5 34.5h0m-22.5-12.5h0m4.5-2h0m-4.5-4h0m17.5 2.5h0m4-23h0m-9.5-0.5h0m-16 24h0m-7.5-17h0m31.5 6h0m-12.5 13h0m-14.5-6h0m27.5 16h0m-15.5-3.5h0m-13.5 27h0m4.5-53.5h0m4 46h0m20.5-3h0m-22-48.5h0m8.5 26h0m-5.5 13.5h0m-9-26.5h0m29.5 30h0m-16.5 14h0m2.5-43.5h0m12.5 43h0m-12-39.5h0m1.5-5h0m-22 24h0m4-33.5h0m33.5 47.5h0m-5-14.5h0m-27.5-22.5h0m-7.5 40h0m33.5-3.5h0m3.5-35h0m-29 2.5h0m18 16h0m-11-26h0m-7.5 43h0m9.5-19h0m-3.5 8.5h0m-7-6.5h0m10.5-30.5h0m23 13h0m-23.5 33.5h0m18.5 0.5h0m1.5-40.5h0m-37 33h0m15 4h0m-10.5-11h0m20 22h0m-17.5-23.5h0m1.5 0h0m1.5 15.5h0m-7.5-46h0m38.5 21.5h0m-36.5-2.5h0m7.5-13.5h0m2.5 50.5h0m15.5-27h0m-7-13.5h0m-4.5-17h0m-7.5 17h0m14 0h0m-18 27h0m-3-15.5h0m10.5 14.5h0m7-23.5h0m19 22h0m1.5-10.5h0m-12.5-22h0m-29-2h0m20 42.5h0m-6.5-14h0m18.5-8h0m-2-11h0m-28.5 15h0m2.5-4.5h0m26-20h0m-30 36.5h0m31-14h0m-6-4h0m-17.5 6.5h0m24.5 5.5h0m-13.5-13.5h0m21-8h0m-18 31.5h0m15-19.5h0m-1.5-9.5h0m-35 25h0m18.5-35.5h0m1.5 51.5h0m6.5-1.5h0m-17-44h0m1.5 40h0m1-12h0m11-12.5h0m-20-24.5h0m39 26.5h0m-1 19.5h0m-14-31h0m5.5-9.5h0m9.5-2h0m-1 39.5h0m-9-0.5h0m-23.5-18h0m32-10.5h0m-1.5 38h0m-33.5-43.5h0m5.5-7h0m6.5-4h0m-9 27h0m18.5-8h0m6.5 20h0m-24 2.5h0m27 0.5h0m-29.5 10h0m7.5-23h0m-7 27.5h0m30-18.5h0m-9.5 9.5h0m-18 8.5h0m-5.5-40.5h0m22.5 10.5h0m14 4.5h0m-24.5-6.5h0m5.5 12h0m2 16h0m2.5-30h0m-15.5 31.5h0m13-48h0m-20-5.5h0m30 45h0m2.5-21.5h0m5 5h0m-2-30.5h0m-19.5 52.5h0m-3.5-21h0m-4.5-17h0m5.5 22.5h0m-12-27.5h0m3 0.5h0m23 6h0m-19.5-9h0m12.5 16h0m8 18.5h0m-1.5-3h0m0 15.5h0m-1.5-12h0m-27-34h0m24.5 36h0m-26-7.5h0m32-45.5h0m0 50.5h0m-24.5-10h0m24-27.5h0m-1.5 0h0m-6 1h0m-24 47h0m18.5-39.5h0m-13-9h0m33.5-3.5h0m-4 23h0m3.5 6h0m0-13.5h0m3-9h0m-8.5 3.5h0m-33.5 35h0m12-6.5h0m3-18.5h0m21.5 20h0m-5.5-38h0m-26.5 31.5h0m7.5-30h0m14.5-2.5h0m13 35.5h0m-33 16.5h0m4-41h0m14-7h0m-14.5 3.5h0m10 1.5h0m-5 17h0m9 22.5h0m-16-46h0m28 48.5h0m-22-18h0m9 4h0m18.5-38.5h0m-20.5 34.5h0m7-2h0m2.5 17.5h0m0.5-47.5h0m-31.5 48h0m19.5-20.5h0m1 5.5h0m-5.5-1h0m-13.5 19h0m38.5-53.5h0m-14 47h0m1 1h0m-22-47.5h0m32.5 33h0m-15.5 19.5h0m10.5-1h0m-21-43h0m-4.5 16.5h0m-2 33h0m17.5-19h0m8-34.5h0m-14.5 2.5h0m-4 7.5h0m8-7.5h0m0.5-6h0m-10 52h0m0.5-52h0m4.5 34h0m2.5 20h0m-10.5-28.5h0m25 16.5h0m-16.5-41h0m-2.5 41.5h0m-12.5-25h0m7-7h0m26 22h0m-24 6h0m0.5 10h0m21-27h0m-14 26h0m-1.5-31.5h0m4 7h0m-4 6.5h0m-15.5-23h0m19.5 45h0m15-17h0m-30.5 22h0m5-40.5h0m11-14h0m19 10h0m-13.5 12.5h0m-4.5 14h0m-10.5 19.5h0m23-18h0m-6.5-33h0m-27 44.5h0m0.5-0.5h0m32-14h0m0.5-8.5h0m-10.5 7h0m-5.5-10h0m-16.5 10.5h0m39-24h0m-16.5 6h0m-6.5 25.5h0m-5.5-11.5h0m9.5-31.5h0m-20.5 46.5h0m28.5 4h0m-13-35.5h0m19.5 28h0m-25-11h0m30.5 15.5h0m-32 2.5h0m-8-23h0m8.5 20.5h0m23-26.5h0m-32-11h0m11-8h0m12 5h0m-21.5-17.5h0m20.5 9h0m-6 56h0m25-52.5h0m-16.5 46.5h0m11-4h0m-32.5-41h0m20 15.5h0m9-16h0m4 9.5h0m-17-8h0m2.5 49.5h0m-5.5-45.5h0m24.5 39h0m-8.5-9h0m-17-4.5h0m23.5-27.5h0m-31.5-6.5h0m19.5 27.5h0"/>
<path stroke="#009E73" d="M525 385.5h0m-11 22h0m8.5-45h0m23.5-88.5h0m-3.5 264h0m-14-102.5h0m15-71h0m-30 150.5h0m-3.5-122.5h0m11.5 180.5h0m-10.5-220h0m23.5 37h0m-23 139.5h0m28-117.5h0m-20.5 162.5h0m31.5-66h0m-34.5-114.5h0m12.5-14.5h0m-18-85.5h0m4.5 268h0m4.5 8.5h0m3.5 4.5h0m10.5-204.5h0m-4.5 172h0m-4.5-210.5h0m-15.5 103.5h0m36-27.5h0m-27 74h0m17.5-44h0m6 129h0m7-2h0m-18-230h0m5 143.5h0m7.5 72h0m3.5-261.5h0m-6 282.5h0m7.5-289h0m-24.5 269.5h0m11-66h0m-13.5-138h0m-10 93.5h0m13.5 80.5h0m12 24h0m-12-120.5h0m20.5-289h0m-34.5 406h0m36.5-70h0m-31-26h0m17 73h0m-23.5 53h0m27.5-20h0m-15-187.5h0m-9.5 158.5h0m17 9.5h0m-14.5-9h0m31.5-249h0m-25.5 265.5h0m14-79.5h0m-12.5-53.5h0m22.5-24.5h0m-5.5 180h0m-6-96h0m-23-179.5h0m22 192.5h0m-11.5-86h0m-6 55h0m17 84h0m-13.5 21.5h0m4-213h0m-14 229h0m35.5-58h0m0.5 6h0m-19 21h0m-4 40.5h0m1.5-209h0m2 33.5h0m-12.5-39.5h0m31.5 196h0m-32-210.5h0m23 79.5h0m-7.5 125h0m6.5 23h0m-0.5-76h0m9.5-103.5h0m8 104.5h0m-34.5 50.5h0m-4.5-186h0m6-2h0m22.5 165.5h0m-15 1h0m7.5 39h0m-14.5-69h0m5-9h0m-9 26h0m11.5-17.5h0m-6.5-137h0m-4.5 175.5h0m25 29.5h0m1.5-84h0m-30.5-24.5h0m16 60h0m1-226.5h0m-13.5 237h0m25.5-107h0m-1.5 27.5h0m-4.5-59h0m-19.5 86h0m14.5-53.5h0m7.5-40.5h0m7.5 105.5h0m0.5-103.5h0m-1 30.5h0m2 155h0m4-58.5h0m-24-75h0m-4.5-77h0m-7.5-3.5h0m26.5 149h0m-2.5-34h0m-14-83.5h0m-13 167h0m11-81.5h0m5-73.5h0m12 17h0m-12.5 125.5h0m-3.5-278h0m11 295h0m-0.5-85.5h0m18 76.5h0m-4-77h0m-18 47h0m9 59h0m-19.5-98.5h0m25.5-81.5h0m-27.5 174h0m18.5-26.5h0m-26-166.5h0m10-79.5h0m-6.5 209.5h0m22.5-75.5h0m-13 41h0m-9.5 61h0m33.5-26h0m-32 66h0m-4-362h0m37 300h0m-23 50.5h0m24 5.5h0m-29-247h0m22.5 128.5h0m-22 84.5h0m-5-244h0m19 97.5h0m11.5 63.5h0m-24.5-116h0m15 121h0m15 17h0m-33.5-165h0m-7.5 168.5h0m6.5-7h0m26 58h0m3-47.5h0m-10.5-62h0m-2 147h0m-12.5-37.5h0m-5-22.5h0m32.5-0.5h0m-6.5 64h0m10-139h0m-13.5 136.5h0m3-14.5h0m3.5-40.5h0m4.5-83h0m-38-19h0m21.5-230h0m-23.5 107.5h0m21.5 92.5h0m12.5 83.5h0m-15 106.5h0m-10.5-21h0m12.5-67h0m-0.5-177.5h0m3.5 264.5h0m16.5-42h0m-17 12.5h0m-21-156h0m23 137.5h0m-14.5-109.5h0m-7.5-16h0m34.5 166.5h0m-16.5-42.5h0m5 6.5h0m3.5-239.5h0m-19 115h0m-1 105h0m24 14h0m7-13h0m-4-111h0m-11 122.5h0m5.5-70.5h0m-11.5 125.5h0m8-127.5h0m-16.5-59.5h0m0.5-59.5h0m-12 248h0m3.5-95.5h0m28-35h0m-16.5 103h0m-6-73.5h0m27.5-163h0m-22 171h0m23.5 1.5h0m-31.5 32h0m35-12.5h0m-12.5-103h0m0 132.5h0m-2-2.5h0m-10.5-149.5h0m8.5 68.5h0m-12.5 68.5h0m23-72h0m-14 63.5h0m4-38h0m-9.5-66.5h0m18.5 130.5h0m-4-168h0m10.5 192h0m-3-168.5h0m-37 167h0m28.5 3h0m8.5-174.5h0m2.5 124h0m-5.5-132h0m-17 129.5h0m5.5-116h0m13-6.5h0m-27.5 170h0m9-73h0m5-202h0m-9 148h0m28 53.5h0m-10 10.5h0m0 13.5h0m-24-236.5h0m12.5 293h0m19-131.5h0m-13 76h0m-5.5 47h0m19.5-51h0m-18-126.5h0m-16.5-32.5h0m-0.5-66h0m-2 244.5h0m-0.5-136h0m32-1h0m-18.5 161h0m0.5-43h0m-13.5 60.5h0m10-15h0m27-137h0m-10 82h0m11-103.5h0m-19 85.5h0m-2.5-109.5h0m21 156.5h0m-21.5-136.5h0m-1.5 4.5h0m-15 163h0m17.5-198h0m-8.5 95h0m15-5.5h0m0.5 105.5h0m-2.5-29.5h0m-25-13.5h0m33.5 48.5h0m-23.5-71h0m29.5-119h0m-21.5 93.5h0m6-110.5h0m-16 123.5h0m9 47h0m2.5-157.5h0m-12.5 207h0m19.5-63h0m-17.5 63.5h0m21.5-172h0m-9.5-4h0m16 24h0m-7 103h0m4 37h0m-21-228h0m22.5 194.5h0m3 17h0m-22.5-20.5h0m-2 53.5h0m-1.5-7.5h0m29.5-50h0m-37.5-69.5h0m5.5-92h0m8.5-3.5h0m8 224h0m11-337h0m-19 314h0m22 20.5h0m-37-204.5h0m-3.5 62h0m15.5 60h0m3.5-55h0m-15.5-20.5h0m10-9h0m1 155h0m17.5-42.5h0m-6-40h0m-3.5 86h0m2 11h0m-21-149.5h0m-2.5 85.5h0m14.5 27h0m9.5-179.5h0m-1 184.5h0m13.5-98h0m-2.5-97h0m-30.5 60.5h0m32 120h0m-31-29h0m33 71h0m-14-144.5h0m-7.5 128.5h0m-11.5 5h0m11-2h0m9 15h0m-3.5-142h0m-4.5 86.5h0m-7-19.5h0m19.5 47.5h0m3.5-69h0m-29 97.5h0m18-66.5h0m15 23.5h0m-24.5 0.5h0m19.5 16.5h0m-1.5-68.5h0m-5 56h0m-18-146h0m8.5 3.5h0m2 173.5h0m18.5-8.5h0m-27.5-112h0m33 73h0m-28 43.5h0m28-54h0m-25.5-64h0m-8.5 16h0m-1.5-186.5h0m14.5-43.5h0m-12.5 171.5h0m10.5 131h0m-0.5-11.5h0m-11.5 50h0m10-50.5h0m-4 1.5h0m8.5-171h0m-8.5-84h0m26.5 149h0m-17 6.5h0m-3 38h0m14-62.5h0m-16.5 142.5h0m8.5-20h0m-8 5.5h0m23-12.5h0m-41 62.5h0m13.5-38h0m-11.5 30h0m24.5-282h0m-1.5 80.5h0m2.5 158.5h0m-25.5-240.5h0m19.5 116.5h0m12.5 122.5h0m0-81h0m-4.5 63h0m10 54h0m-31-135h0m-8-34.5h0m26.5-62h0m2 137h0m-8-66.5h0m-3 155.5h0m-1.5-65h0m11.5 47h0m11.5-195.5h0m-1 41h0m-16 161h0m7-110.5h0m11-72h0m-20.5 180.5h0m16.5-63.5h0m-27-115h0m27.5 146.5h0m5-31.5h0m-6.5-125.5h0m-17.5 73h0m13.5 115.5h0m-17-174.5h0m3.5 43h0m5-100.5h0m14.5 262.5h0m3-31.5h0m-1.5-58h0m-25-224h0m21 200h0m-7.5-108h0m4.5 199h0m9.5 24h0m-8.5-97.5h0m-17 86.5h0m-15-195.5h0m9.5 120h0m6-165h0m-4 213h0m2.5-28.5h0m-12.5 71h0m33.5-115h0m-17 45.5h0m14 42.5h0m-4-153h0m-18.5 13.5h0m28.5 141.5h0m-30 17.5h0m18.5-169h0m15-29h0m-37.5-20h0m3 110.5h0m-1.5-13h0m33.5 103.5h0m-17.5-129h0m-3.5 51.5h0m22.5-117.5h0m-15.5-39.5h0m1 128.5h0m-24.5 99.5h0m13.5-59h0m-9-370h0m32.5 181h0m-3 258h0m-30.5-35.5h0m10-55h0m26 109h0m-28.5-61.5h0m27.5 8h0m-8.5-14h0m-13.5-96.5h0m-15.5 140h0m9 9h0m29-38.5h0m-26.5-123h0m11.5 178h0m-7.5-16h0m14-154.5h0m-27 6h0m14.5 90h0m-4.5 23.5h0m-0.5-16h0m4-102.5h0m6 51h0m-7 53h0m-4-100h0m-11.5 129.5h0m7.5-112.5h0m18 108.5h0m10.5 32h0m-7-215h0m-32.5-128h0m9 330h0m24-18h0m-19.5 24h0m6.5-1h0m-9-105h0m29.5 34.5h0m1 59.5h0m-37.5-42h0m34-47h0m-30 76h0m16.5 0h0m-19 8h0m12.5-245.5h0m12.5 249h0m-8.5-37h0m-18 22h0m-3.5 43.5h0m29-69.5h0m-8.5 63.5h0m2-66h0m-22.5 18h0m24-149h0m-9-27.5h0m-2.5 177h0m26 17.5h0m2.5 6.5h0m-7.5-64h0m1.5 47.5h0m-33 15.5h0m17 14.5h0m18.5-109h0m-25.5 62.5h0m12-99.5h0m0 66h0m14-7h0m4 74h0m-34.5-171.5h0m-7 173h0m1-318.5h0m13.5 309h0m0-261.5h0m11 286h0m11.5-194.5h0m0.5 74h0m-15.5-155.5h0m18.5 121h0m-14.5 124.5h0m9.5 38.5h0m-16.5-198.5h0m14.5-10h0m4 197.5h0m-26-46h0m3 14h0m21.5 2.5h0m-2.5 2h0m-6.5 10.5h0m6.5-37h0m8 50h0m-27 17.5h0m15-121.5h0m5.5-51h0m1 147.5h0m-14-182.5h0m7.5 199.5h0m-5-184.5h0m-23 88h0m34.5-236.5h0m-22 235.5h0m-12-198.5h0m16 247h0m1 48h0m-8 3h0m16.5-117h0m-28 91.5h0m20-91.5h0m-11 67.5h0m-3-151h0m-4.5 138h0m4 0h0m24.5-39h0m-5-161h0m8 157.5h0m-6.5-82h0m-6 131h0m-12.5-123h0m24 124.5h0m7-14h0m-35.5 59.5h0m33-145h0m-23-102h0m-6.5 261h0m-3-24.5h0m4-142.5h0m8 137.5h0m-2-18.5h0m-14-166h0m25 85h0m4.5 125h0m-6.5-132.5h0m5.5 118h0m9.5-34.5h0m-31.5-84.5h0m-5 117h0m15-164.5h0m-11-3.5h0m15.5 168h0m21-184h0m-19.5 207h0m8-91.5h0m-23-28h0m30.5-78h0m-37.5 194h0m0.5-48h0m4-117h0m17 138h0m19.5 10.5h0m-29-7h0m6-195h0m23.5-28.5h0m-39 101.5h0m-0.5-2h0m22.5 41h0m8.5 54h0m-30.5-79h0m16-62.5h0m-9 91h0m6.5 59.5h0m-3.5-3.5h0m-1.5 30h0m0.5-151h0m25 2.5h0m-32.5 22h0m9-157h0m-6 274.5h0m1.5-141h0m20 124h0m-2.5 39.5h0m-8-138h0m-0.5 138h0m4.5-46h0m1 20h0m-14.5-72.5h0m31.5-167.5h0m-24 258.5h0m18-58.5h0m2-19h0m-18 86.5h0m5.5-15h0m-16 20.5h0m-5-89h0m38-134.5h0m-14 108h0m-18.5-47h0m12.5 152h0m-13.5-186h0m4 188.5h0m2.5-13h0m26-83.5h0m-14.5 51h0m-18.5-6h0m2.5 5.5h0m13.5 17.5h0m8-36h0m3.5-77h0m-20.5-99h0m3-19.5h0m-9.5 243h0m6-169h0m23-72h0m-35.5 189.5h0m1.5-139.5h0m12.5 181.5h0m-3-5.5h0m6.5 30h0m7-55h0m-24 37.5h0m39.5-26.5h0m-13 47h0m-4.5-83h0m-14 61h0m15-353.5h0m-15 356.5h0m10-133h0m2.5 66.5h0m-15.5-7.5h0m1.5-116.5h0m11.5-14.5h0m-10 27h0m26 188.5h0m-26.5-92.5h0m13-11h0m-5.5 116.5h0m1-15.5h0m18-6h0m-30-2.5h0m7 3h0m16.5-220.5h0m12.5 115h0m-28 85h0m-3.5-42.5h0m29.5 87.5h0m-22-36h0m-12.5-114.5h0m34.5 85.5h0m-35.5 37.5h0m14 5.5h0m-9-23.5h0m5-118h0m17 129.5h0m-10-174h0m17-99h0m-4.5 280h0m-18 2.5h0m8.5-170.5h0m7.5 189.5h0m-16.5-35.5h0m1.5 7h0m19-110.5h0m1.5-37.5h0m-6 121h0m-30.5-9.5h0m8 1.5h0m25.5-41h0m-12 44h0m20.5-149.5h0m-31 148.5h0m13-166.5h0m-11.5 21.5h0m6.5 61.5h0m-12.5 129.5h0m35.5-358.5h0m-37 122h0m18.5 35.5h0m11.5 200.5h0m-25.5-112.5h0m23 101.5h0m-31-351h0m7.5 168h0m7 27.5h0m0 1h0m25.5 161.5h0m-28 2.5h0m3.5-45.5h0m-12.5-141.5h0m34.5 177.5h0m-29-253.5h0m31 95h0m-29.5 53.5h0m16.5 70h0m-16 2h0m-11.5 54.5h0m21.5-23h0m1-64h0m8-96h0m-1.5 118.5h0m1-12.5h0m-16-183h0m-12 216h0m15 30h0m4-117.5h0m12.5 133.5h0m1-33h0m-1-72.5h0m-19.5-128h0m-10 178h0m-1.5 16.5h0m29 42.5h0m-12.5-157.5h0m-6 139.5h0m3.5 19.5h0m19.5-214.5h0m-13 84h0m-13-93h0m-3 19.5h0m26-226h0m-8 272.5h0m16.5 96h0m-33 39h0m12.5 16.5h0m-11.5 2h0m-5.5-74.5h0m29.5-93.5h0m3.5-97h0m-5 266h0m-19 0h0m-2.5-26h0m-10-97h0m21.5 130.5h0m-12-66.5h0m30-151.5h0m-34 214.5h0m7-187.5h0m20.5-12h0m-0.5 7h0m-21-4h0m-10.5 158h0m37.5-171h0m-10 157h0m-13.5 52h0m17.5-9.5h0m1-89h0m-14-36h0m-20.5-96.5h0m20.5 52h0m-6.5 172.5h0m2.5-208h0m16 194h0m-28-32.5h0m-0.5 25h0m0.5-104.5h0m11.5 71.5h0m5-87.5h0m-17-168.5h0m-0.5 285h0m15.5-72h0m-16-113.5h0m8 169.5h0m30-214.5h0m-25 137.5h0m-6.5 101.5h0m-3.5-135.5h0m19.5 106h0m12 26h0m-29.5 18.5h0m9.5-290h0m-17 290h0m26-149h0m0 109.5h0m9.5-231.5h0m-21.5 251h0m-11.5-88.5h0m7.5 0h0m3-2.5h0m2.5 70.5h0m21 28h0m-8.5 4.5h0m-4.5-9h0m3.5-165h0m-8 190.5h0m16-93.5h0m-21.5-117.5h0m-13 21.5h0m8 50h0m19.5 89h0m-15-12.5h0m9.5-114.5h0m-17-84.5h0m15 125h0m-13.5-132.5h0m20.5 241.5h0m9 5.5h0m-36.5-96h0m12 94.5h0m9-27h0m15-10h0m-17.5-165.5h0m-16.5 179h0m36.5-200h0m-35.5 225h0m20-181.5h0m-13.5 47.5h0m12-34.5h0m-3-18.5h0m-5.5 182h0m-10-67h0m30-136h0m4 227.5h0m-17-73.5h0m18.5 70h0m-10-9.5h0m10.5-129h0m-5 86.5h0m-31.5-159h0m12.5 98h0m0 100.5h0m-7-139h0m24 126.5h0m7-6.5h0m-38 28h0m14.5-6h0m-11-55.5h0m24 52.5h0m-13-9.5h0m18.5-187.5h0m-22.5 172.5h0m29.5-161h0m-25.5 160h0m-9.5-0.5h0m28-51.5h0m-32 0h0m13.5-113h0m0 172h0m14 42.5h0m-4-150h0m-5.5 109.5h0m-12-174h0m7.5 209.5h0m4-15.5h0m19-35.5h0m-6.5-149h0m-15 93h0m-13 107.5h0m33-38.5h0m-12-16h0m-14 24h0m22-175h0m5.5 89.5h0m2.5 82h0m-11.5-100h0m-22.5-71.5h0m0 187.5h0m20-128h0m-20-18h0m15 0.5h0m1 120.5h0m-3.5 21.5h0m-16.5-150.5h0m3.5 34h0m12.5-23h0m-3 101h0m-12-146.5h0m36.5 149h0m-8.5-139.5h0m-24 92h0m-4-73.5h0m5.5 53h0m5-52h0m-14 63.5h0m37 65.5h0m-34.5 28h0m11-59h0m16.5-6h0m-5.5-124.5h0m-14 6h0m-11 120h0m12.5-13h0m11-42h0m18.5 39.5h0m-24.5-15h0m6-110h0m2.5 51.5h0m-25 56h0m33.5-30.5h0m-11.5 21.5h0m-8 8.5h0m2.5 24h0m1.5-3h0m10 66.5h0m-23-161h0m4 27h0m27.5-185.5h0m-4 65.5h0m-11 65h0m9.5 76.5h0m-7.5 1.5h0m-12.5 19h0m8.5 100h0m15.5-112h0m-34.5-63.5h0m12.5-77.5h0m8 269.5h0m0.5-113h0m-13 121.5h0m1.5-61.5h0m1-132h0m-4.5 143h0m34-154.5h0m-36.5 183h0m26-38h0m-21.5-55h0m6.5-65.5h0m-15.5 175h0m22-183h0m-23.5-96h0m27 284h0m-13.5-136.5h0m-1.5 123.5h0m-1.5-51h0m17.5-132h0m-11 7h0m-1.5 52.5h0m17 102.5h0m-6-51.5h0m9.5-22.5h0m-16.5-27h0m-1 128h0m6.5-47.5h0m15.5-2.5h0m-10.5 8.5h0m-27.5 43h0m1.5-196.5h0m24 98h0m-3-61h0m-15 132h0m14.5-229h0m-24 194.5h0m32-133h0m-25.5 17.5h0m34 162.5h0m-39-10h0m34.5-10.5h0m-23-101.5h0m1.5 97h0m24.5 46h0m-13-138h0m-5.5 74.5h0m10.5 44h0m5-107.5h0m-22-8.5h0m24.5 117.5h0m-23.5-104.5h0m19-153.5h0m-1 250h0m-21-143h0m17.5 138h0m11-2h0m-15.5-13.5h0m6.5 35.5h0m-20.5-1.5h0m29-145h0m-30.5 1h0m-2 119.5h0m22.5-182.5h0m1.5 126.5h0m-10.5 53.5h0m7-345h0m7.5 262h0m-18.5 61.5h0m-0.5 61.5h0m4-31.5h0m-10.5 25h0m-6-180.5h0m20 77.5h0m11 9.5h0m-32-97.5h0m38 111h0m-36.5 66h0m9.5-21h0m23.5-103h0m2.5-51.5h0m-21 177h0m-4-49.5h0m-3 27h0m-10.5 35h0m22.5-128h0m-4.5 79.5h0m2.5-32h0m-14.5 21h0m18.5-5h0m-6.5 37h0m16 25h0m-3-168h0m6.5-10h0m-31.5 92h0m4 51h0m28 20h0m-34.5-143h0m19 119h0m-8.5-52h0m2.5 68h0m17.5 15.5h0m-27-151.5h0m-9 96h0m30.5 13h0m-8 36h0m-4 3h0m5.5-30h0m-0.5-256.5h0m5.5 263.5h0m-26-180.5h0m17 15.5h0m-10 84.5h0m-3.5 65.5h0m11-285h0m8 307h0"/>
<path stroke="#0072B2" d="M566.5 404.5h0m36.5 24h0m-33 103.5h0m25-20h0m-7.5-241h0m-7.5 1.5h0m8.5-0.5h0m-10.5 261h0m17.5-22h0m-8.5-49.5h0m-22-105.5h0m35 6h0m2.5 130h0m-23.5-130.5h0m22.5 110h0m2.5-125.5h0m-2 140.5h0m-32-138h0m26.5 86.5h0m6.5 33h0m2 96h0m-29.5-203h0m23.5 36h0m2 32h0m-19 74h0m-3.5-126.5h0m-1-107.5h0m3.5 39.5h0m-16.5 12h0m29.5 183.5h0m7-177.5h0m-0.5 213.5h0m-22-207.5h0m6 149h0m9 5.5h0m-9.5-28.5h0m-5.5 24.5h0m9-99.5h0m14 75.5h0m-33 15.5h0m27.5-123h0m-32 141.5h0m22.5 2.5h0m7.5-18h0m-11 89.5h0m-15.5-11.5h0m18-113h0m-8-54.5h0m-5.5-69.5h0m34 128h0m-41.5-4.5h0m35-29.5h0m-31 74h0m2 48h0m30 3h0m-5-152h0m-6 123h0m6.5 1.5h0m-26-35h0m15 23h0m13-81.5h0m-29 155.5h0m10-86.5h0m-15 32.5h0m16.5-87.5h0m1.5-33.5h0m21.5-59h0m-8.5 134h0m-29.5-56.5h0m24.5-105h0m-21 243.5h0m-2-101h0m13-104h0m19.5 210h0m-22-298.5h0m4.5 5h0m21.5 116.5h0m-15-105.5h0m17.5 152.5h0m-19.5 59h0m9.5-107h0m-14.5 132.5h0m19.5-67.5h0m2.5 99.5h0m-13.5-231h0m-14.5-6.5h0m17.5 255h0m-23.5-96.5h0m-0.5-77.5h0m18 27h0m-18.5 84h0m6-160h0m-5.5 198h0m-0.5-138.5h0m13.5-53.5h0m11.5-21h0m-22 145.5h0m5-146h0m27 28h0m-34 152.5h0m27.5-108h0m-4.5-83.5h0m8 140h0m-14 60.5h0m-19.5-59.5h0m5.5-48.5h0m28-36h0m-24 16h0m7.5 37.5h0m19.5-142h0m-16 238.5h0m-0.5 44h0m-20.5-122h0m16-125.5h0m-13.5 252h0m21-52.5h0m-12-105h0m-3.5 95h0m-1.5-82.5h0m-9-78.5h0m23.5 206h0m-10.5-227h0m23.5 231h0m-12-154h0m-5 164.5h0m16-300h0m-32 159h0m24 32h0m-9-124.5h0m14 86.5h0m-6.5 18.5h0m12.5 130h0m-37.5-101.5h0m18.5-74h0m-20 167.5h0m25-302h0m15.5 237.5h0m-17-197.5h0m14.5 265.5h0m-10.5-154.5h0m-20.5 5h0m3 6.5h0m-3-20h0m0.5 155h0m29-151.5h0m-15-135.5h0m14 91h0m-18.5 35.5h0m15.5-7.5h0m-26 172.5h0m1-106h0m33-36.5h0m-30-99h0m25 134.5h0m-2.5 52h0m-15.5 15h0m23-118h0m-39-14.5h0m4.5-51.5h0m22 73h0m-2 87.5h0m-14.5-172.5h0m4 159h0m-11.5 1h0m6-79h0m27.5-79.5h0m-29.5-67h0m8 129h0m4.5 0.5h0m5.5-24.5h0m12.5-107h0m-6 204.5h0m-15-26.5h0m-9.5 2h0m16-85.5h0m14.5 76.5h0m-31.5 84h0m8.5-187.5h0m15.5 153.5h0m-16.5-84h0m5.5 177h0m16-115.5h0m-26.5-19.5h0m12.5-114.5h0m-18.5 197h0m22.5-98h0m-23.5 97h0m19-48h0m7.5-24h0m4.5 93.5h0m8-220.5h0m-30 181h0m14.5 58h0m8.5-124.5h0m-10 109h0m-3-52h0m3.5-55.5h0m7 126.5h0m6.5 9.5h0m-36-301.5h0m9.5 6.5h0m20.5 277h0m-14-220.5h0m-13.5-21.5h0m35 158h0m-11.5 3h0m-22.5-67.5h0m0.5 170.5h0m21-231.5h0m-6-65h0m-2.5 130.5h0m19 161h0m-37.5-36h0m39-205h0m-22.5 141h0m-9-201h0m-0.5 304.5h0m21-158.5h0m8.5-101.5h0m-9-0.5h0m-26 25.5h0m5 64.5h0m-1-20.5h0m-1.5-27h0m25.5-7.5h0m-21.5 135h0m6 3.5h0m0-148.5h0m5.5 162h0m-1.5-218h0m-12.5 107.5h0m31.5 158h0m-7.5 14h0m7.5 14.5h0m0.5-198.5h0m-37.5-63h0m40.5 159.5h0m1.5-140h0m-33-0.5h0m9.5 139h0m-18.5 61.5h0m10-190h0m26 195h0m-14-178.5h0m-18-17.5h0m6.5 154h0m4-157h0m8 167h0m-17 9h0m15.5-204.5h0m-13.5-43h0m-5 90.5h0m23 204h0m-24-247.5h0m3 140.5h0m12 7.5h0m-12.5-101.5h0m1 133h0m22 62.5h0m0.5-234h0m-18 68.5h0m26.5 96.5h0m2.5-51h0m-6.5-84.5h0m0 160.5h0m-15-33.5h0m20.5-10.5h0m-23 100h0m24-90.5h0m-36-71h0m32-94h0m-14 129.5h0m-10.5-117h0m22 127h0m-5.5-94.5h0m-19 52h0m-6 133.5h0m11.5-211h0m21 86h0m4-28h0m-29.5-5.5h0m-4 18h0m26 48.5h0m-30 96.5h0m32-158.5h0m-14.5-134h0m7.5 242h0m0.5-17h0m-25-29.5h0m27-87h0m11.5-33.5h0m-24 217h0m8-57h0m9.5-13.5h0m0-166h0m-13 127.5h0m2 54.5h0m-3.5-183.5h0m5 228.5h0m18-147h0m-21.5-4h0m-11.5 114h0m-0.5 33h0m4-73h0m12.5-62.5h0m-13-62.5h0m4.5 74h0m22.5 44.5h0m0.5-188h0m-16 143h0m18 85h0m-32-132.5h0m3 139h0m2.5-138.5h0m27.5-84h0m-42 275.5h0m40-149h0m-22.5-49.5h0m8.5 116h0m-23.5-47.5h0m16.5-3.5h0m-12 97.5h0m33.5-32h0m-1.5-19h0m2.5-51.5h0m-37-82.5h0m33 19h0m-31 106h0m12 3h0m-17.5 101h0m9.5-141.5h0m28.5 129h0m-18-215.5h0m6.5 208h0m-5-9.5h0m16-211h0m0 133.5h0m-34-30h0m20.5-82h0m-19 225.5h0m2-110.5h0m8 2.5h0m12.5-128.5h0m2.5 148h0m-6-80h0m-5.5 82h0m-3.5-76h0m-16.5-10.5h0m42.5 167h0m-38-155.5h0m6.5 137h0m28 25.5h0m-8.5-70h0m-25.5-38h0m21-193h0m-21 124h0m14.5 76.5h0m19 67.5h0m-30-172h0m-6.5 175h0m32-77.5h0m-21-185.5h0m10.5 108h0m11.5 53h0m-26 65.5h0m12.5 13.5h0m-18.5-65.5h0m26.5 50.5h0m9-91h0m-2-95.5h0m-30.5 134h0m11.5 113.5h0m-6.5-93.5h0m-7-47h0m-2 28h0m15-54.5h0m25 160h0m-28.5-129.5h0m14 133h0m-25.5-92h0m36.5 17.5h0m-15.5-28.5h0m6-49h0m5 96.5h0m-9.5-225h0m-11 226h0m19 53h0m0.5-286.5h0m-13 290.5h0m17-147h0m-0.5-86.5h0m-28 212h0m12.5-141.5h0m19.5 140.5h0m-13.5-113.5h0m1-13.5h0m-23-21.5h0m21.5 95h0m2-202h0m6.5 109h0m-0.5 166h0m-17-48h0m-16-195.5h0m37 185.5h0m-9.5 56h0m6 10.5h0m-11.5-242.5h0m-22.5-12h0m11 148.5h0m-7.5-189.5h0m21 87h0m-18.5-8h0m26 80h0m-15.5 64h0m13.5-95h0m-4-140h0m-19 168h0m14-148.5h0m16 262h0m-11-47.5h0m13-9h0m-6-170.5h0m-3.5 26.5h0m-15 166h0m-2.5 44.5h0m12.5-276.5h0m-12 229.5h0m-5.5-20h0m33-153h0m-28 120h0m20 12h0m9.5 0.5h0m-25.5-116.5h0m-14.5 143.5h0m9.5-155h0m-1 153h0m2 82.5h0m14-220h0m4.5-3.5h0m-7.5 88.5h0m-20.5-18h0m10.5-60h0m11.5 96h0m-23-140h0m40 197h0m-38-42h0m15-11h0m-3.5 8.5h0m12.5 45h0m-21 38h0m-5-108h0m15.5-9h0m5-159h0m4 78h0m15-32h0m-32.5 192h0m-9-97.5h0m7.5 51h0m27.5-107.5h0m-23 72.5h0m24-44.5h0m-24-59h0m19 80h0m-27.5 133.5h0m37.5-23.5h0m-35.5-52.5h0m-2 24.5h0m9.5-175h0m-11.5 24.5h0m14.5 17h0m16.5-8h0m-3.5 203h0m4.5-217.5h0m-24.5 209h0m20.5 3.5h0m11-156.5h0m-35.5 41h0m-1-163h0m31 267.5h0m-25.5-152h0m28.5 180h0m-7.5-237.5h0m-27-13.5h0m33.5 32h0m-30.5-66.5h0m-3 188h0m8.5 3.5h0m29 73h0m-29-85h0m17.5 19.5h0m-4.5-25.5h0m-19-108h0m8 171.5h0m27-3.5h0m-38-170h0m33.5 20h0m4.5 37h0m-39.5-118h0m22 210.5h0m-18-167.5h0m10.5 215.5h0m5.5 23.5h0m-15.5-100h0m4.5-74h0m1-60.5h0m3.5 132.5h0m23-152h0m-19 245.5h0m11.5-219.5h0m8 217.5h0m-37-153.5h0m34 94.5h0m-35-155.5h0m35 181.5h0m3-198.5h0m-32.5 106h0m6 113h0m-5-0.5h0m25.5-130h0m3.5 63h0m2.5-139h0m-20.5 237.5h0m-12.5-104h0m28.5-127.5h0m-23 154h0m11.5 4.5h0m-19-238.5h0m36.5 25h0m-3 174h0m-26.5 15h0m16-13h0m-18.5-140.5h0m5-62h0m15.5 254.5h0m-17-124.5h0m6 80h0m-5.5-64h0m-7.5 96h0m14-184h0m-18 187h0m21.5-115.5h0m7-39.5h0m10 72h0m-10-11h0m-15 34.5h0m-10 51.5h0m1.5 24h0m15 1h0m10.5-95h0m-30.5 68h0m15-70.5h0m3.5 68.5h0m-3 45.5h0m16-96h0m1.5 63h0m-22-188h0m-5 178h0m6-75h0m26 11.5h0m-26.5-98h0m11 16.5h0m-18 118h0m23.5-29.5h0m-29-127h0m18 111.5h0m3 80.5h0m6.5-217h0m14.5 267.5h0m-29-192.5h0m-7-7h0m13 215.5h0m-11.5-256h0m10.5 249h0m12-73.5h0m-21.5 45.5h0m13-158h0m11.5 32h0m-28.5 33h0m-2.5 13h0m40.5-137.5h0m-17.5 18.5h0m16-7h0m-10 220.5h0m-17 6.5h0m5.5-50.5h0m11-50.5h0m-8 8.5h0m19 75.5h0m-9-73h0m-1.5-38.5h0m-20 33h0m0-122h0m31-78.5h0m-39.5 103.5h0m-1.5 83h0m40.5 95.5h0m-1.5-45h0m0-163.5h0m-11.5 126h0m1 58h0m12.5-188.5h0m-3 14h0m-11 199h0m-2.5-205h0m-13 205.5h0m29-261.5h0m-3 289h0m-33-141h0m33-38h0m-33.5-43h0m13 207h0m-0.5-10h0m-13.5-110h0m30.5-108h0m-20.5 114h0m28 3.5h0m-23 110h0m3.5-73.5h0m9.5-130.5h0m9.5 73h0m-25.5 86.5h0m24.5-27h0m-1-54h0m-8 138.5h0m-4-0.5h0m-22.5-226.5h0m9.5-70h0m-12 123h0m5.5-4.5h0m-0.5 157h0m15.5-231h0m-16.5 46h0m9 115.5h0m15.5-131h0m0.5 54h0m0 26h0m-5-77.5h0m-24 144h0m0.5-36h0m-2-31h0m7 129.5h0m3.5-226h0m9.5 5h0m-8 88h0m1.5 17h0m-14-80.5h0m36 39h0m-21 32h0m24-94h0m1 0.5h0m-2.5 228h0m-31-82h0m-3.5 67h0m6 7h0m-4-132.5h0m23-35h0m6.5-127h0m7.5 67.5h0m-21 179h0m-16-142.5h0m19.5-21h0m-6-61.5h0m15 177h0m-33-56h0m14.5 115h0m-6-184.5h0m-3.5 72.5h0m28-77h0m-33.5 167.5h0m5-139h0m0-8h0m12 23.5h0m-8.5 136h0m14.5-49.5h0m-3-51.5h0m8 2.5h0m-28.5-103h0m24.5 28h0m12 219.5h0m-34.5-79h0m22.5-123h0m0-80.5h0m18 128.5h0m-3 40.5h0m-39.5-105h0m19.5 208h0m-16.5-62h0m7.5-63.5h0m5.5-63.5h0m24.5-21h0m-15 108h0m13.5-92.5h0m-6.5-19.5h0m4 120.5h0m-9.5 39.5h0m-14.5-166.5h0m6.5 81h0m4 157.5h0m-23-42h0m10.5-200h0m-2.5 7h0m-1.5 97.5h0m5 24h0m21 45h0m-23-23h0m26.5-112h0m-34 63.5h0m13-12h0m20 155.5h0m-1-229h0m-26.5 138h0m9-138h0m16 232.5h0m5.5-241h0m-35 233h0m5.5-91h0m2.5-73h0m21.5 55h0m-22.5 14.5h0m-9 48h0m24-149h0m-19.5 26h0m2-135h0m-2 27h0m23.5 199h0m-14 20.5h0m11.5 58.5h0m-19.5-200h0m22.5 79h0m-12-25h0m13 79.5h0m-18-139h0m7.5 118.5h0m4-73h0m-14 52.5h0m27-23h0m-8-87.5h0m3.5 157h0m5.5 72.5h0m-12-68h0m11.5-103.5h0m1-11h0m-11.5-67.5h0m11 31.5h0m-25 76.5h0m6 32.5h0m-6.5 18.5h0m0.5 12.5h0m-3 6.5h0m32.5-83h0m-18.5 54h0m-8.5 104h0m21.5-184.5h0m-27 98h0m13-92.5h0m19.5-95h0m-23.5 267h0m6-231h0m5 220h0m-5-231h0m-10 157h0m-8.5-121.5h0m-3.5 31.5h0m23.5 59.5h0m-3.5 108h0m-22-80h0m25-132.5h0m0.5 202h0m-23.5-113.5h0m1.5 123h0m8.5-165.5h0m6.5 17h0m21.5 144.5h0m-11-226h0m-12.5-21h0m10 226h0m4.5 0.5h0m-23.5-270.5h0m7.5 189h0m-11 115h0m32-176h0m-29.5 178.5h0m35-142.5h0m-23.5-146h0m13.5 80h0m2.5 30.5h0m6 69h0m-18.5-121.5h0m-15.5 178h0m13.5-74h0m-10.5 113.5h0m18-9h0m14.5-30h0m-13-35h0m-15.5-78.5h0m12 43h0m-23.5 18h0m22.5-118h0m12.5-29.5h0m-33.5 81.5h0m34 160.5h0m-22-13h0m7.5-88.5h0m14.5-38h0m-24.5 144.5h0m-11.5-58h0m9.5 58.5h0m2.5-113h0m5-20h0m15 43h0m-19-46h0m-2 55h0m14-110.5h0m1.5 201h0m9-162h0m-34.5 34.5h0m3.5-91h0m6.5 30h0m11.5 1.5h0m-9 70.5h0m-12.5-65.5h0m23.5 111.5h0m5.5 9.5h0m1-61.5h0m-25-92h0m5.5 42h0m-4.5 66.5h0m15.5-26h0m14-107h0m-14 130.5h0m2 78h0m9-130h0m-27.5 13h0m-6.5-172.5h0m25.5 194h0m-27-13.5h0m9.5 32.5h0m5.5-60h0m18.5 17.5h0m-10.5-23.5h0m-16 154h0m31.5-237.5h0m-32.5 144.5h0m3 79.5h0m30.5-187h0m2 116.5h0m-17.5-29h0m-19-84h0m33 176.5h0"/>
<path stroke="#0072B2" d="M655 180.5h0m-20.5 173h0m-2.5 107.5h0m22.5 47h0m-18.5-246.5h0m-16.5 241h0m21 0h0m16-189.5h0m3-170.5h0m-25.5 327h0m14-142.5h0m-16.5 143.5h0m11-296.5h0m8.5 260h0m-1 79h0m-6.5-192.5h0m-3.5-19.5h0m-2 15.5h0m-13.5 92h0m7-16.5h0m14.5 6.5h0m-25.5 70.5h0m36 7h0m-20.5-82h0m22.5-64h0m-15.5 169.5h0m7 4h0m-17-299h0m4 204.5h0m-0.5-183.5h0m-10.5-1h0m33.5 246.5h0m-25 75h0m11.5-272.5h0m3 214h0m-29.5-74h0m28 90h0m-17-247h0m26.5-86h0m-27.5 11h0m5-24h0m-1 176h0m27.5-123h0m-1 118h0m-39.5-12.5h0m9-163.5h0m24 179.5h0m-23.5 39h0m21.5 75h0m1.5-140.5h0m-23-124h0m-1 214h0m5.5-203.5h0m5 133h0m-13-141.5h0m26.5 321h0m2-70.5h0m-6.5-4h0m-2.5 42.5h0m6.5-62h0m-33 82.5h0m6-294.5h0m12.5 87.5h0m-9.5 209.5h0m14-52h0m-9 27h0m17-176h0m-16 100.5h0m-7-93h0m12-6.5h0m-12.5 56.5h0m31.5 148.5h0m-23.5-99.5h0m14-50.5h0m-11.5-4.5h0m-10 20h0m30.5-165.5h0m-22 218h0m16-263h0m-14 159h0m18 61.5h0m-26.5-15.5h0m1.5-40h0m27-80.5h0m-9 62h0m-20 37h0m15.5 98.5h0m-8 24.5h0m12 5h0m-9-211.5h0m7.5-78.5h0m-20.5 57.5h0m18.5 35h0m-6 66h0m-16.5-105h0m13.5 250h0m-11.5-227h0m27.5-8.5h0m1 73h0m-33-43.5h0m31-126.5h0m-6.5 200h0m-4 195.5h0m-11-289.5h0m17 184.5h0m10.5-143h0m-11.5-39h0m11-5h0m-17-28h0m-2 77h0m-16 2.5h0m16.5-157.5h0m0 351.5h0m19-290h0m-12.5 66.5h0m-11 32h0m-1 159h0m11 3h0m14.5-158.5h0m-18.5-69h0m-2 141.5h0m10.5 62h0m-21.5-246h0m-7 1.5h0m30 316h0m-24-93h0m0.5 18h0m11-31h0m11.5-84.5h0m-21 118.5h0m32-106h0m-18 121h0m-2-148h0m-10.5-27h0m-5.5-99.5h0m29.5-67.5h0m-23 383h0m28.5-142.5h0m-17.5-50.5h0m11.5 183h0m-17.5-240h0m1 179.5h0m2-259.5h0m5.5 202.5h0m17.5 84h0m-8.5 53.5h0m-4-326h0m-14.5 83.5h0m3-155.5h0m-0.5 177.5h0m-10.5 83h0m34.5-125.5h0m-39.5 118h0m15.5 107h0m19-256h0m-9 166h0m-1.5-124h0m14-21.5h0m-39 2.5h0m10 107.5h0m6.5 59.5h0m12.5 61h0m-21.5-183.5h0m23.5 143h0m-7.5-80.5h0m9.5-28.5h0m2 132h0m-1-79.5h0m-21.5-190h0m23 167h0m0.5 16h0m-29-227.5h0m-4 140.5h0m31 20h0m-9.5-123h0m9.5 179h0m-29.5-129h0m17.5-34.5h0m6.5 154h0m-10.5 134.5h0m1-63.5h0m8.5-66h0m3 49h0m-2 17h0m-16-135h0m2.5 206.5h0m0.5-15h0m-5-91h0m18.5-43h0m-5-241.5h0m-4 282.5h0m-10.5 112h0m5.5-380h0m15.5 244h0m-31.5-133.5h0m38 168h0m-5.5 10h0m-3-160.5h0m-3.5 291h0m-3.5-381.5h0m-23 290.5h0m15.5-20.5h0m23 64h0m-25-197h0m14 180.5h0m10.5-267.5h0m-19.5 68h0m-9.5-25h0m-9 178.5h0m33-216.5h0m-7 215h0m-16.5-168.5h0m15.5 67.5h0m15.5 9.5h0m-15-122.5h0m-14 31h0m12 198h0m-8-111h0m7-134h0m17.5 33h0m-8.5 135h0m-19.5 64.5h0m5-13.5h0m-2.5-212.5h0m8.5 84h0m4.5 125h0m6 30.5h0m-19.5-215.5h0m11 261.5h0m14.5-205h0m-26 144h0m1-214h0m-2 289h0m11-212h0m6 146.5h0m5-176.5h0m-21.5 173h0m27.5 58.5h0m-6-30h0m-11.5-76h0m-10-103h0m22-153h0m-20 320.5h0m14.5 0h0m-18.5 40.5h0m11.5-189h0m7.5 101h0m3.5-120.5h0m-23.5 222h0m-4-246h0m19 179h0m-6.5-25h0m-17.5-158h0m11-109.5h0m-8 214h0m31.5-283.5h0m-3.5 396h0m2.5-41.5h0m-30.5-85.5h0m11.5-120.5h0m9 223.5h0m4-184.5h0m3.5 204.5h0m-24.5-2h0m17-232h0m13 69.5h0m-17 145.5h0m-8.5-311.5h0m19.5 119h0m-18 148h0m-13.5-65.5h0m18-140h0m10-69.5h0m11.5 84h0m-29 43.5h0m31 11h0m-24 162.5h0m-11 72h0m20-211.5h0m5.5 102h0m-12.5 105.5h0m0.5-35.5h0m14-131.5h0m8-59h0m-10 9.5h0m-16.5 191h0m17.5-17.5h0m8 36.5h0m-29.5-336h0m0 333h0m5-347h0m23.5 223.5h0m-1.5-91h0m-17-101.5h0m-5 158.5h0m24.5 141h0m-33-78.5h0m15 80h0m-9.5-267.5h0m-5.5 287.5h0m-4-160.5h0m14-136h0m13-33.5h0m-7.5 152.5h0m4.5-130.5h0m-24 42h0m6 120.5h0m3 217.5h0m22.5-159h0m-35.5-16.5h0m10.5 43.5h0m4 90.5h0m22-185.5h0m-9.5 177.5h0m-4-39h0m7.5 38h0m-16.5-134.5h0m14-218h0m9.5 353.5h0m-34-51.5h0m20.5-48h0m5.5 13h0m1 65.5h0m-29 6h0m19-140h0m17.5-110.5h0m-29 227h0m1.5-76h0m-7-239.5h0m13.5 16h0m11.5 189.5h0m-16.5-182h0m-11.5 250h0m23-126h0m1.5-144h0m-12 11h0m-12.5 260h0m6-234.5h0m28.5 246h0m-22.5-39h0m27.5-42.5h0m-38-48.5h0m28.5 95h0m0-94h0m11-152.5h0m-30.5-11h0m26 165.5h0m-18 69h0m22.5 31h0m-8-80.5h0m-21.5-72h0m-2.5 167h0m31-33.5h0m-5 29.5h0m-6.5-81.5h0m-11.5-89.5h0m-16 108h0m37-203h0m-29-26h0m13.5 122.5h0m17-74.5h0m-23.5 142.5h0m-12.5-182.5h0m28 212h0m3.5-241h0m-15.5 255h0m16-26h0m-8-136.5h0m-24 125.5h0m12.5 160.5h0m-3-71.5h0m26.5-62.5h0m-5.5 102.5h0m-29.5-269.5h0m19 248.5h0m6.5 18.5h0m5.5 50.5h0m-27.5-118.5h0m-4.5-45h0m4 42.5h0m10-152h0m-17.5 224h0m38-162.5h0m-22-61.5h0m18.5-32.5h0m-34.5 171h0m7 105h0m27.5-52.5h0m-26.5-121h0m14 202h0m-20.5-176h0m32.5-55h0m5-66.5h0m-4-108h0m-12 160.5h0m-5 190h0m15.5-72h0m-31.5-64.5h0m24-75.5h0m9.5 309h0m-13-95h0m-4.5-117h0m-1-47h0m4-17h0m20.5 40.5h0m-36.5 77h0m24.5-246h0m7.5 176.5h0m3 125h0m-25-75.5h0m26 88.5h0m-13-52h0m-19-161.5h0m-8.5 174.5h0m8.5-281h0m-8.5 360h0m15.5-66h0m-14.5-12h0m6 92.5h0m19.5-345.5h0m-2.5-22.5h0m-8.5 10.5h0m-10.5 214h0m8.5-42h0m-13 47h0m22 103.5h0m-19-60.5h0m4-43.5h0m26 62.5h0m-33-50.5h0m31.5-229h0m-10.5 278.5h0m13-224.5h0m-14 306h0m-21-13.5h0m1-152.5h0m0-71.5h0m28 7h0m-26.5 81.5h0m8-88.5h0m31 229.5h0m-4-72h0m-8-157h0m-28-88.5h0m7 309.5h0m15.5-233.5h0m-17.5-122.5h0m19 17.5h0m-20 179h0m23 19.5h0m-27.5 135.5h0m40-122.5h0m1-13h0m-14 109.5h0m14-196.5h0m-27 214h0m-2-285h0m4.5 261.5h0m21-18.5h0m-8.5-290h0m-29.5 78.5h0m4.5 37.5h0m-4 116h0m0-200.5h0m28.5 23.5h0m10.5 195h0m-32.5-139h0m16.5 222.5h0m7.5 9.5h0m-7-132h0m-10.5-51.5h0m2 44.5h0m-2.5 114.5h0m-11-199.5h0m35.5-130.5h0m-2 156h0m-2-32.5h0m-18.5-116.5h0m25 299.5h0m-8.5-251.5h0m-5.5 297h0m-19.5-166h0m9 67.5h0m-12.5 42.5h0m31.5 34.5h0m-30.5-155h0m15.5 82h0m13-147.5h0m-15-77h0m-7 325h0m-1-292.5h0m4 60.5h0m-6 56.5h0m21-38.5h0m-19.5 91.5h0m15 118h0m3.5-200.5h0m-20-66h0m26.5 266h0m-3.5-106.5h0m-0.5-96.5h0m-30.5-77.5h0m15 113.5h0m-8-82.5h0m26 163.5h0m9 47.5h0m-15.5-246h0m-19.5 9h0m5 95.5h0m19 58h0m-23.5 20h0m32 65.5h0m-26-82h0m18.5 16.5h0m-31-168h0m29.5 310h0m-5-408.5h0m-22 284.5h0m20.5-37h0m-24.5-94.5h0m28 180h0m-2.5 80.5h0m-24.5-120.5h0m1-67h0m19 89h0m-13-244.5h0m2 309.5h0m19.5-217.5h0m1 12h0m7.5 120.5h0m-27 28h0m-10.5-157.5h0m18.5 204h0m5.5-376.5h0m5 204h0m-7-83.5h0m-2 156.5h0m15-241.5h0m3.5 289.5h0m-33-99h0m13.5-97h0m-9 9.5h0m-10-12.5h0m5.5-38.5h0m30.5 35h0m-8 14.5h0m-7.5 156.5h0m21-188h0m-31 42h0m11.5-66h0m-7.5 205h0m7.5 9h0m11 128.5h0m-3-268.5h0m4.5 121h0m-23 39.5h0m-0.5-131.5h0m-10 149h0m40-7.5h0m-31 83h0m18-94h0m5.5-123.5h0m-27.5-54h0m34-142h0m-23.5 46h0m-14 161.5h0m26.5 8.5h0m-7 149.5h0m6-193h0m-23.5 211h0m4.5-279.5h0m6.5 4.5h0m25.5 19h0m-11.5-84h0m-15.5 339h0m26-65h0m-14.5-24.5h0m-25-14h0m28.5-177.5h0m-17.5 282h0m20-2.5h0m-25-162.5h0m-2.5 142.5h0m17 33.5h0m-19.5-237h0m39 203h0m-19 9h0m-15-80h0m-3.5 34h0m21.5-257.5h0m-17.5-33h0m27 113h0m-5 45h0m-16-17.5h0m12.5 151h0m10-51h0m-25.5-96.5h0m-10.5 199.5h0m4-91h0m36.5-83.5h0m-30.5-130h0m26.5 246.5h0m5-136.5h0m-14.5-8h0m15 156.5h0m-23.5-54.5h0m4 28.5h0m13-58.5h0m4-108h0m-6.5 96.5h0m-15 117h0m11.5-45.5h0m-20-47h0m1.5-43.5h0m-3.5-29h0m3 168h0m-8-42.5h0m-1.5 58.5h0m36-138.5h0m-33-214h0m13 203.5h0m2 49.5h0m4-230h0m0 245.5h0m-8-149.5h0m18.5 89.5h0m0 90.5h0m-2-216.5h0m-4 71h0m8 161h0m-36-274.5h0m16 258h0m1.5-191.5h0m17 85.5h0m-5-75h0m-14-18.5h0m25.5 10.5h0m-4 170h0m-24-109h0m7.5-8h0m10 110h0m-10.5-141h0m-12.5-26h0m21.5 132h0m-23-337h0m22.5 349h0m9 134.5h0m-2 39.5h0m-2-193.5h0m-20-52.5h0m-11 75.5h0m10-216h0m12.5 234.5h0m5.5 47.5h0m2.5-67h0m6 102h0m3-221.5h0m-32.5 214.5h0m25.5-246h0m-32 166h0m15 99.5h0m-5.5-179.5h0m17-129.5h0m-25 341.5h0m2.5-131h0m30.5-74.5h0m-11 127.5h0m-19.5-60h0m29.5 44h0m-17.5 24.5h0m-11 44h0m-3.5-332.5h0m19 36.5h0m14.5 241h0m4.5-160h0m-1 14h0m-10 72h0m-3.5-77.5h0m13-134h0m-1.5 96h0m-34-66.5h0m35.5-46h0m-32 297h0m24-44.5h0m7-247h0m-9 94.5h0m-3.5-63.5h0m13 169h0m-29.5 182h0m24.5-230.5h0m-25 149.5h0m8-101h0m2.5 100.5h0m10-112.5h0m-17.5-125.5h0m6 51.5h0m2 110.5h0m-11 68h0m2.5-120h0m28-131h0m-30-74h0m-8-5h0m-2 250.5h0m4 51.5h0m22-109.5h0m3.5 74.5h0m-5 72h0m17-237h0m-18.5 30.5h0m-9-74h0m-1 137h0m19.5 14.5h0m-21.5 65.5h0m30-102h0m-23-52.5h0m21 63h0m-33-10h0m27.5 111h0m-21 15.5h0m24-190h0m-12.5 147.5h0m-23 5h0m32 42h0m7.5 22.5h0m-20.5-201h0m-10.5 34.5h0m23.5 180h0m-22-198h0m10.5-58h0m12 118.5h0m-32.5 8.5h0m26-101.5h0m-13 199.5h0m3.5-25.5h0m21-142h0m-2.5 239h0m-1-245h0m-19 25.5h0m13-70.5h0m-15.5 28.5h0m9 150.5h0m-22.5-30.5h0m36.5 82.5h0m-18.5-111.5h0m10.5 116.5h0m-20.5-73h0m10 112.5h0m-4-28h0m1 46h0m4.5-263h0m5.5 177.5h0m-15.5-43.5h0m8.5 109h0m-4-75h0m-12.5-24.5h0m22-73.5h0m-6.5 78h0m-6.5-18.5h0m30 141h0m-4-223h0m-19 153h0m17 71h0m-8.5-239h0m-8.5 78.5h0m-15.5-162h0m0 305h0m19.5-104h0m11.5-165.5h0m-22-42.5h0m14 247h0m7 34.5h0m-19.5-191h0m3.5-72h0m-4 230.5h0m0.5-123h0m-5 191h0m31.5-328h0m-1 243.5h0m-10-46.5h0m9.5-9.5h0m-1.5-156h0m-26 49.5h0m-4.5-44h0m7.5 53.5h0m22 174.5h0m-10 63.5h0m0-83.5h0m6-150h0m-21-45.5h0m32 269h0m-3.5-28.5h0m-38.5 33.5h0m39-131.5h0m-2.5-232.5h0m-5.5 356.5h0m7.5 6h0m-2.5-298.5h0m-13.5 247.5h0m-20-86.5h0m32-222.5h0m-29.5 80.5h0m21.5-58h0m14 139.5h0m-9.5-74.5h0m-16 307h0m6-39.5h0m-16.5 37.5h0m32.5-153h0m-25.5 128h0m11.5-20.5h0m-14-70h0m21-238.5h0m2 85.5h0m-6.5-84h0m-2 333h0m-7-83.5h0m25-359.5h0m-20 429.5h0m-21.5-121h0m2 106h0m22.5-168.5h0m-17.5 195h0m-8-22h0m15-117h0m-12.5 138.5h0m21-169.5h0m5 154h0m-23-249.5h0m28 181.5h0m-15-33.5h0m1-36h0m-11 88.5h0m-0.5-5h0m1 92.5h0m30.5-338h0m1.5-7.5h0m-4 209.5h0m-29.5-116.5h0m20.5-164h0m6 71.5h0m-6 57.5h0m5 38h0m-28.5 128h0m21-64.5h0m-1 48.5h0m-13.5 99.5h0m-5.5-355.5h0m13 296h0m1.5 9h0m-19.5-77h0m41 61h0m-33-1h0m9 20h0m13.5-351h0m-28 129h0m27.5 90.5h0m-15.5 68.5h0m-2.5 28h0m-6.5 40h0m33-73.5h0m-5-134h0m-12 183.5h0m-6-264.5h0m-0.5 159.5h0m23-53h0m-26 158h0m24.5 58h0m-33.5-348h0m14 303.5h0m-12-191h0m17-92.5h0m-12.5 357.5h0m-3-307.5h0m-4 30.5h0m31.5 171.5h0m-4.5-8.5h0m-27.5-77.5h0m3-107h0m32.5 18.5h0m-30.5 78h0m34.5 32.5h0m-33.5 104h0m20-9.5h0m-12.5-28.5h0m-10-129h0m7.5-99h0m-3 200h0"/>
<path stroke="#0072B2" d="M683 511.5h0m20.5-52h0m-2.5 7.5h0m1 57h0m8.5-43.5h0m-25 75.5h0m-8.5-47.5h0m-1 26h0m34.5-75.5h0m4 53h0m-28.5-38.5h0m23 62h0m-35-18h0m8 32h0m20-13.5h0m-23.5-95.5h0m15.5 21h0m7.5 31.5h0m5.5-52h0m-18 21.5h0m-11 58h0m8.5-70.5h0m9.5 4h0m-11.5 12.5h0m29.5 43h0m-19-48.5h0m1 49.5h0m-12.5-71.5h0m17 84h0m-16-18.5h0m17.5-61h0m-28.5 83.5h0m19.5-3h0m-0.5-7h0m-15 17h0m9-6.5h0m0.5 9.5h0m-11.5-35h0m22.5 31h0m-21 11.5h0m30.5-110h0m-1.5 75.5h0m-16.5-64h0m8.5 11.5h0m16.5 90h0m-0.5-14h0m-12-5h0m-18-31h0m23 41h0m-32-114.5h0m12 28h0m9.5 34.5h0m15-39h0m-28.5 48h0m6.5-45h0m-12.5 72.5h0m10 24h0m7.5-79.5h0m14 23.5h0m-19.5 64h0m-4-22.5h0m7-42.5h0m20-17h0m-9 77.5h0m0-105h0m-25 4.5h0m3.5 30h0m5-21.5h0m20.5 92.5h0m6.5-59h0m-18.5-2h0m11.5-44h0m-28 20.5h0m26 72h0m-25-86h0m0.5 16h0m15.5 51h0m1-55h0m-4.5 22h0m-1-12h0m6 20h0m4.5-6.5h0m-12.5 61h0m21-99.5h0m-7.5 6.5h0m-19 6h0m12.5 2h0m15.5 84.5h0m-30-66h0m-7-27h0m10 81.5h0m16-2h0m-25 5h0m36-97.5h0m-31.5 107.5h0m12 5h0m-6-72.5h0m3.5 6.5h0m14-49.5h0m-1.5 69.5h0m8 24h0m-13.5-77.5h0m1 50h0m-5 25.5h0m-4.5 13h0m16.5 7.5h0m-10.5-108h0m15 69h0m4.5-63.5h0m-29.5 46h0m18-4.5h0m-20.5 24h0m22.5-34.5h0m-29.5-16h0m17.5 79h0m-12.5-108h0m31 83.5h0m-13.5 17h0m-19-21.5h0m23.5-46.5h0m13.5 41h0m-33.5-23h0m-5 61h0m30.5-41.5h0m3 30h0m-27.5-52.5h0m16-30h0m-7-10.5h0m15.5-22h0m-7 111h0m-6 6.5h0m12.5-57.5h0m-29.5 13.5h0m20-1.5h0m10.5-37h0m-26 95h0m3.5-68.5h0m30-35h0m-36.5 86.5h0m25.5-68.5h0m-21.5 75.5h0m6-27h0m24-38.5h0m-39 3.5h0m37 78h0m-9-25h0m-3.5-57h0m1 68h0m10.5 5h0m-19.5-92.5h0m-5.5 86.5h0m31-97h0m-30.5 107.5h0m-2-55.5h0m-8 37.5h0m-1.5-52.5h0m3 22.5h0m29 60.5h0m-28-55h0m21.5-27.5h0m-8.5 38h0m8-2h0m-25-14.5h0m36.5 59h0m-26-15.5h0m24.5-40.5h0m-12.5-73h0m-3 90h0m14.5 7.5h0m-10-39.5h0m16 57h0m1.5-42.5h0m-33.5-58h0m3.5 19h0m-8.5 7.5h0m33.5 33h0m5.5 22h0m0.5-30.5h0m-8.5 41.5h0m-13-40h0m-3.5 23h0m19-21h0m-5.5 5h0m5.5 27h0m-28.5-11.5h0m32 18.5h0m-13.5 9h0m10-82h0m-15 40h0m0-5h0m-22-61.5h0m19 36.5h0m3-29.5h0m-6.5 49h0m-6 39.5h0m-4.5-86h0m4 106.5h0m23-39h0m-7.5-70.5h0m-7.5-2h0m23.5 82.5h0m-15 15.5h0m15-42h0m-36.5 27.5h0m5.5-80h0m1 44.5h0m0.5 43h0m15.5 7.5h0m8.5-27.5h0m7.5-28.5h0m-21.5-25.5h0m-13 42h0m31.5-19.5h0m-1 22.5h0m-4-0.5h0m4.5-60.5h0m-4.5-6.5h0m-34 33h0m31-3.5h0m-25 63.5h0m15-75h0m-4.5-20.5h0m9 38h0m13.5-27h0m-14.5 4.5h0m0-8.5h0m-2 79.5h0m-19-22.5h0m35.5-24.5h0m-22.5 5.5h0m-14 61h0m35-29.5h0m-33.5 19h0m1-87.5h0m36.5 38h0m-3.5 10.5h0m-8.5 53.5h0m8-50.5h0m-7-39h0m-7 94h0m-6.5-0.5h0m13-22.5h0m-10.5-5h0m14-38.5h0m-14 14.5h0m-1 39h0m15-43.5h0m-22 54h0m-8-43h0m16-68h0m13 51h0m8.5 17.5h0m-23-4h0m-10.5-71h0m21-19h0m-25.5 101h0m10.5-39.5h0m-3 75.5h0m12-61h0m-17.5 38.5h0m-1.5-67h0m22 79h0m-25-62h0m22 25h0m18 17.5h0m-38.5-2h0m38.5-65.5h0m-5.5 13.5h0m-23.5 45.5h0m16 30.5h0m4-35.5h0m-28 6h0m33 7h0m-11.5-18h0m16.5-25h0m0.5 53.5h0m-11.5-81h0m5.5 40.5h0m-5.5-19h0m-19-12h0m29.5 10.5h0m-11 75h0m-8.5 10.5h0m14-33.5h0m-10.5-30h0m-7.5 27.5h0m15 5.5h0m-24-58.5h0m31 20.5h0m2.5 21.5h0m-41-26h0m24 44h0m9-52h0m-21-22h0m9.5-7.5h0m-1 85.5h0m-12.5 16.5h0m14-20.5h0m-17-70h0m7.5 95.5h0m-9-22.5h0m7.5-87.5h0m-9.5 30.5h0m38-17.5h0m-15.5 14h0m15-3h0m-26-15.5h0m24.5 68h0m-28-57.5h0m12.5 85.5h0m11.5-39.5h0m3.5-46h0m-9.5 37.5h0m-20.5-33.5h0m11.5 24h0m-19.5 37h0m30.5-50h0m-19 4h0m29 64h0m-1.5 2h0m2-76h0m-15.5 61.5h0m-13.5-5.5h0m29-80.5h0m-34 98.5h0m32-46h0m-7-41.5h0m-21.5 50.5h0m17-56.5h0m-4 47h0m-15.5 27.5h0m25-51h0m-16.5-19h0m-5.5 99.5h0m11-45.5h0m1.5-8h0m4-12.5h0m-15-10.5h0m18.5 38h0m-3.5-53h0m0-1h0m5.5 13.5h0m-0.5 18h0m9.5-16h0m-17 41h0m5 19.5h0m-22-98h0m2.5 66h0m5.5 29.5h0m-16-78h0m3 46.5h0m25 26.5h0m-16-40.5h0m5-48.5h0m6 50.5h0m17-27h0m-21 20h0m23-5h0m-30 40.5h0m-7.5-59h0m11 44.5h0m9 21h0m0-77h0m8 16.5h0m-23.5 12h0m31-18.5h0m0-16h0m-31 45h0m25-21.5h0m2 62.5h0m-33-43.5h0m20.5-16.5h0m-21.5 20.5h0m-1.5-11.5h0m19-29h0m2 20.5h0m7-28h0m6 88h0m-24.5-83.5h0m12.5 18h0m-23 6h0m22 21h0m-15 42h0m16-56.5h0m-21.5-15.5h0m20.5 29.5h0m-13-15h0m4 70h0m-4-68h0m-7 70.5h0m20.5-36h0m7.5 39h0m-28.5-52.5h0m12.5 48.5h0m18.5-21h0m-4-45h0m-12.5 6h0m8 18.5h0m13.5 15.5h0m-5 26.5h0m-30.5-55h0m22.5-46.5h0m9 30.5h0m-17.5-21h0m15.5-26.5h0m-29 50h0m40.5 4h0m-32 58.5h0m7-95h0m-15 75h0m35.5-70h0m-20.5 77h0m17-94h0m-28.5-1.5h0m28 108h0m-9.5-58h0m-22.5-40.5h0m33.5-5h0m-21.5 15.5h0m3 37h0m-10-1h0m-4.5-11h0m37.5 5h0m-38.5 49.5h0m19.5-36.5h0m20.5-14h0m-6.5 28h0m-21.5-34h0m1.5 35h0m-4.5-52h0m-2 83.5h0m-3-91.5h0m18.5-7h0m-24-10.5h0m12 29.5h0m10 38.5h0m-12.5-20h0m6 23h0m22-26.5h0m-36.5 31.5h0m15.5 6.5h0m20 31h0m-12.5-67h0m-4.5 59h0m-4-50h0m11.5 44h0m4-65.5h0m-31.5 30.5h0m6-11h0m8.5-48h0m-2.5 21h0m6 49.5h0m-7-66h0m13-5.5h0m0.5 116.5h0m1.5-109.5h0m2 69h0m-1 39.5h0m-7.5 1.5h0m18-69.5h0m-15 46h0m-2.5 10h0m20.5-4h0m-7-105.5h0m-14 56h0m2 15.5h0m-2.5 46h0m-3-114h0m7 18.5h0m-4-1.5h0m-10 43.5h0m23.5-12.5h0m-6-33.5h0m-5 18h0m-5.5 10.5h0m25 51h0m-25-78.5h0m22 51h0m-3-4h0m-16 24.5h0m15 17h0m-29-88h0m11.5 74.5h0m15-84h0m-17 13h0m14.5 12.5h0m-15 24h0m0.5-1h0m19.5 24h0m-33.5-17.5h0m19-67h0m1.5 65h0m5.5-65.5h0m-10.5 37h0m3 25h0m12.5-7h0m6-32h0m-14.5 75h0m-16.5-77.5h0m25 78.5h0m-19.5-86h0m20 90h0m-12-47.5h0m7 62.5h0m-19.5-71h0m3.5 13h0m23 37.5h0m-4.5-19.5h0m-1 38.5h0m-21.5-66h0m23-17h0m12.5 18.5h0m-39-35.5h0m35.5 12.5h0m0.5 9.5h0m-16.5 24.5h0m-3 41h0m-3.5-58.5h0m-4-9.5h0m-11.5-35h0m38.5 17h0m-3 2.5h0m-2.5 55h0m-21.5-3.5h0m4.5-25h0m-3 14h0m6-49.5h0m-16 62h0m9.5 8h0m-5-24h0m3-13.5h0m3 64.5h0m-1.5-21h0m20.5 19h0m-4-27h0m-10-2.5h0m-16.5-68.5h0m14 78.5h0m17-35.5h0m0 54h0m7.5-78h0m-8 42.5h0m-9.5-38.5h0m-19.5-9h0m-1.5-10.5h0m10 55h0m3.5 52.5h0m-16.5-104.5h0m5.5 69.5h0m-5.5 31.5h0m22-22h0m3 18h0m8.5-87.5h0m-32 55h0m26.5-48h0m-18 68.5h0m9.5-33h0m-5.5-4.5h0m27-50h0m-34.5 86h0m33.5 7h0m-11.5-66.5h0m8.5 84.5h0m-34.5-106.5h0m26.5 55h0m-8 24h0m-17.5-59.5h0m0 34h0m5.5 56h0m28-116.5h0m0 6.5h0m-22 49.5h0m-6-0.5h0m14 0h0m-15.5-19.5h0m24 21h0m-26-12h0m13-50h0m19.5 81.5h0m-28.5-45h0m32 14.5h0m-31-25h0m14-15h0m12.5 90h0m-7 17.5h0m11-96h0m1.5 29.5h0m-37 57.5h0m27.5-94.5h0m-18.5 96h0m0-61.5h0m2.5-19.5h0m13 25.5h0m-17.5 20.5h0m-9.5-30h0m21 33h0m1.5-17.5h0m-14-52.5h0m-11 40h0m36.5 21.5h0m-22.5 17h0m20-63h0m-13 21.5h0m19 27.5h0m-39-35.5h0m25-21h0m-20 5.5h0m5.5 73h0m13.5 27h0m16-15.5h0m-37.5-31.5h0m37.5-1h0m-41.5-26.5h0m1.5 69h0m34.5-120.5h0m-6.5 19.5h0m-11.5 97.5h0m23.5-21.5h0m-38 22h0m-2-42.5h0m10 16h0m28 15.5h0m-12.5-26.5h0m9.5-46h0m-7.5 24h0m4.5-6.5h0m2 32h0m-27.5-9.5h0m-7.5-38.5h0m35 14.5h0m-4.5 33h0m-17-34.5h0m15.5 1.5h0m-14.5 60h0m-7-26.5h0m16.5-65.5h0m0.5 49h0m-0.5-11.5h0m-12.5 23.5h0m29.5-21h0m-8.5 24h0m-25-61.5h0m0 106.5h0m22.5-90.5h0m2-22.5h0m-1 55.5h0m1.5 23h0m-21 22h0m-0.5-110.5h0m28 11h0m-1.5 12.5h0m-8 5.5h0m1 67h0m-8.5 12h0m-16.5-16.5h0m29.5-14.5h0m-3.5-31h0m-31.5 38h0m16.5-95.5h0m15.5 27h0m-20 53.5h0m3 5h0m-4-44h0m5 38.5h0m6.5-50.5h0m18-25h0m-33.5 94.5h0m31-43h0m-13-14.5h0m5.5 69h0m-27-77h0m24.5 77h0m-13.5-16.5h0m9 48h0m12.5-84.5h0m-16 60h0m-0.5-21.5h0m-11.5-60h0m-6.5-11h0m7 91h0m20 3.5h0m6-106.5h0m7.5 54h0m-42 47.5h0m21.5 21.5h0m-13.5-113h0m8 110.5h0m-1-110h0m-9.5 68h0m-1.5 24.5h0m30.5-69.5h0m-20 22.5h0m0-16.5h0m-8 75h0"/>
<path stroke="#0072B2" d="M759 532h0m3 11h0m-32.5-39h0m25 20.5h0m14.5 14h0m-36 15h0m10.5-40.5h0m13.5-9.5h0m-28.5 42.5h0m22-12.5h0m-4-7h0m15 30.5h0m-24-60.5h0m32.5 20h0m-2-10h0m-4.5 2.5h0m-20-11h0m11 41.5h0m-12.5-7.5h0m1 7.5h0m1.5-29h0m22.5-2.5h0m-15.5 4.5h0m6 29.5h0m-7.5-18h0m-15.5-21h0m18-5h0m-0.5 46h0m0.5-40.5h0m-4.5 35.5h0m8.5-17h0m-10 29h0m5-55h0m4.5 53.5h0m11-20h0m-33-7.5h0m-4 0.5h0m15.5 4.5h0m-3.5 1h0m-11-5.5h0m22 5h0m-7-2h0m19-9.5h0m-21.5 38.5h0m16-28h0m1.5 23.5h0m-22-27h0m3.5-15h0m21.5 35h0m-11.5 15h0m17-18h0m-1-23h0m-40.5 19h0m8-36.5h0m16 26.5h0m3-1.5h0m13.5 16.5h0m-8.5 5.5h0m5.5 2.5h0m-24.5-35.5h0m21.5 12h0m-15.5-26h0m-17.5 15.5h0m14 11h0m-4 31.5h0m0.5-29h0m2-1.5h0m11.5-29h0m-18 4h0m30 35h0m-30-13h0m3 14h0m29-38.5h0m-24.5 36.5h0m16.5-28h0m-15.5-1.5h0m5.5 14h0m-8-16h0m16.5 44h0m3-47.5h0m-18 41.5h0m22.5-50h0m-24.5 15.5h0m28.5 33.5h0m-28.5-18.5h0m10 6h0m11-12.5h0m-28-25h0m4 51h0m14-14.5h0m13-13.5h0m-26.5 12h0m16.5 32h0m-18-36.5h0m-4.5-4h0m-2-10.5h0m15.5 34h0m-9-36h0m20.5 47.5h0m7.5-18h0m-2.5-20.5h0m-9 29.5h0m6 5h0m-9-28.5h0m-9.5 0h0m-12.5-13h0m24 1.5h0m-8 6.5h0m-13 11.5h0m21-3.5h0m9.5 28h0m5-27h0m-16-22h0m1 20.5h0m12 9.5h0m-6.5-32.5h0m-11 43.5h0m20-20h0m-24.5 14.5h0m24 3h0m-27-31h0m29-13h0m-39.5 51h0m20-15h0m2.5 4h0m16-26.5h0m-21.5 43.5h0m16-47h0m4 5h0m-20.5 2h0m-6-4h0m25 4h0m3.5 24.5h0m-16 1h0m-3-27.5h0m2 10h0m15-4.5h0m-26-1.5h0m31.5 4.5h0m-29.5-31h0m20 31h0m-12.5-10.5h0m4 5.5h0m4-5h0m-16.5-17.5h0m21.5 5.5h0m-6.5 34.5h0m-10.5 0.5h0m22-6.5h0m-2-7.5h0m-4 5.5h0m-0.5-30h0m-13-3.5h0m-0.5 40.5h0m3 5h0m11.5-7h0m0 1.5h0m-10-25h0m-2 48.5h0m19-32h0m-1.5 36.5h0m-3.5-23h0m-20.5 0.5h0m15-13h0m8 4h0m-20 8h0m-12-12.5h0m24.5-5.5h0m9.5 14.5h0m-21-16.5h0m-1 39h0m-2.5-57h0m-8 33.5h0m19-0.5h0m12-25.5h0m-25.5 9h0m13.5-4.5h0m-1.5 21h0m-1-27.5h0m10 12.5h0m-24 0.5h0m3.5 8.5h0m23.5 13h0m-27-10h0m9.5-2h0m8.5 5h0m-13.5 2.5h0m21 6.5h0m-22.5-37.5h0m23 17.5h0m-13-13.5h0m18.5 7h0m-16 39h0m-12.5-51.5h0m28 42.5h0m-31 12.5h0m-8-39h0m14 9.5h0m-10.5-11h0m-5 20h0m35-7h0m-33 37h0m19.5-22.5h0m-17.5-24.5h0m8 19.5h0m-6.5 0.5h0m26 0.5h0m7-41.5h0m-8.5 18h0m-18 36.5h0m-3-41h0m4.5-4h0m17.5 37h0m-12.5-2.5h0m10.5-45h0m-8.5 18h0m-16 8h0m29.5-20.5h0m-18 2.5h0m-16 22.5h0m6-22h0m24 21.5h0m-27-15h0m38 31.5h0m-30.5-26h0m13-33h0m-12 48h0m22-25h0m5.5 29h0m-26.5 7.5h0m-13-46h0m12 30h0m11.5 22.5h0m-15.5-21.5h0m20.5-6.5h0m8-5h0m-11.5-18.5h0m9.5 51h0m-12.5 3.5h0m3.5-45h0m11.5 41.5h0m6-3h0m-4-18.5h0m-14-29h0m-17.5 44.5h0m7.5-6h0m-14 13.5h0m15.5-36h0m19 22h0m-12-13h0m-9.5-10h0m-5 42h0m34-28.5h0m-10 2.5h0m-4 26h0m8.5-46h0m-17 42.5h0m-7.5-42.5h0m19-10h0m-13 45h0m9-46h0m6 32.5h0m-16.5-34.5h0m8 40h0m-2.5-23h0m-15-12h0m11.5 35h0m-13-35h0m36.5 9.5h0m-33.5 8.5h0m-9.5 19.5h0m28-9h0m7.5 12h0m-3-15h0m8 5h0m-37-33.5h0m23.5 24h0m-16.5 9.5h0m-1-12.5h0m-8.5 25h0m40-42.5h0m-19 19.5h0m-3.5-4.5h0m-2.5 8.5h0m8.5 21h0m-6.5-33.5h0m-12-11h0m26.5 10h0m9.5 36h0m-37.5-0.5h0m4.5-42.5h0m24 2.5h0m-21.5 44.5h0m18.5 0h0m0.5-38h0m-7.5 37h0m4.5 9.5h0m-19-37h0m20 20h0m-24.5-15.5h0m0-11h0m-1-22h0m14.5 27h0m7.5-3h0m-9.5 36h0m-4.5-45.5h0m23.5 23h0m4.5-5h0m-14-5.5h0m-17.5 26.5h0m30.5-52.5h0m-21.5 57.5h0m2.5 4h0m4.5-33.5h0m8 18h0m-7.5-28h0m16 30h0m-20.5-34.5h0m14 36h0m-23.5 3h0m-4.5-35.5h0m8.5 15.5h0m-7 11.5h0m19.5-40.5h0m-2.5 35.5h0m14 3.5h0m-36.5-12h0m27.5 2h0m-24 11h0m36.5-20.5h0m-12-5.5h0m-11.5 6.5h0m-9 27h0m29-26h0m-30.5-13.5h0m11 22h0m-16-26h0m19.5 6h0m-10.5 1h0m3.5 30.5h0m15.5-42.5h0m-7.5 3h0m-12.5 43.5h0m-6-37.5h0m38 30.5h0m-38.5 11h0m20-18.5h0m9.5 5h0m1.5-17.5h0m4-18h0"/>
<path stroke="#0072B2" d="M806.5 472h0m-9.5-33.5h0m26 55h0m-2.5 50.5h0m-31-58.5h0m9.5 1.5h0m4-62.5h0m5.5 103.5h0m4.5-8.5h0m-9.5-21h0m-11-69h0m13 70.5h0m-20.5-55.5h0m11-3h0m8 29h0m17 74.5h0m-30.5-10.5h0m23-71.5h0m0-16h0m-30-29h0m31.5 31.5h0m-18 39.5h0m10.5-39.5h0m-7.5-9.5h0m-13 1.5h0m34 68.5h0m-10.5-90h0m-6 23h0m-19.5 42.5h0m38.5-51h0m-3.5 27h0m-12 23.5h0m5-5h0m8.5-40.5h0m-30.5-26h0m14 66h0m-19.5-90.5h0m21 38h0m8.5 81h0m-5 3.5h0m-26.5-16h0m0-64h0m24 54h0m0 40h0m11.5-52h0m-13-4h0m12.5 36h0m-32-89.5h0m4.5 129h0m16-165.5h0m1 119.5h0m2.5 21h0m-17.5 43.5h0m4.5-171.5h0m11.5 107.5h0m6.5-17.5h0m-5 31.5h0m-23.5-9h0m5 8.5h0m-3.5-66.5h0m25 69h0m-8.5-13.5h0m20 20h0m-7.5-72.5h0m-10 50.5h0m-9.5-99h0m2 24.5h0m-9.5 2.5h0m26.5-46h0m-3-3.5h0m12 115.5h0m-36.5-27.5h0m23.5-56.5h0m3.5 61h0m-31 40.5h0m0-61h0m4 31.5h0m28.5 7.5h0m6-40.5h0m-5.5-35h0m-8 60.5h0m-11.5-64.5h0m16.5 70h0m-14.5-53.5h0m1 64.5h0m4.5 41.5h0m-3.5-15.5h0m-6-40.5h0m-10 47h0m2-60.5h0m33 71.5h0m-17-96.5h0m1.5 74.5h0m9-73.5h0m-31.5 88h0m33-85h0m-23-85h0m27.5 68h0m-5.5 102h0m-15-38.5h0m22.5-26.5h0m-18 38h0m-17-40h0m34 22h0m-30.5-29h0m19 13.5h0m-21.5 2.5h0m8-73h0m9 54h0m-13.5 9h0m20 99.5h0m-14.5-189h0m10 15.5h0m-19-19.5h0m5 85h0m15 4h0m-6.5 41.5h0m7.5-24h0m-8 14h0m-3.5 40h0m24.5-47.5h0m-23.5 68.5h0m7.5-126h0m-5 90.5h0m6.5 0.5h0m-19.5-17h0m26-86.5h0m5.5 28.5h0m-30-28h0m-1.5 115.5h0m13.5 31h0m-5.5-96h0m24.5 51.5h0m2.5-100h0m-32 8h0m2.5 116h0m-7-10.5h0m-1 9.5h0m1.5-30.5h0m3 9.5h0m20.5-120h0m-23 17h0m34 26.5h0m-26.5 66.5h0m13.5-25.5h0m-3.5 11h0m-4.5 61.5h0m-14.5-116.5h0m22 61h0m-4 27h0m-13.5-81.5h0m15.5 96.5h0m-18-41h0m36.5 19h0m-40.5-12.5h0m28-6.5h0m-28.5-106h0m10.5 4.5h0m6 35h0m8.5 6h0m9 69.5h0m-31 37.5h0m-4.5-126.5h0m12.5-15h0m12.5 37h0m-8 46.5h0m-10.5 13h0m20-66h0m-24 95h0m17.5-61h0m-1-57h0m7.5 66h0m13.5 22.5h0m-15.5 39.5h0m8-54.5h0m1-7h0m5.5 30.5h0m-26.5-131h0m-0.5 115.5h0m22.5 52h0m-18.5-5h0m-12-32h0m19-59.5h0m1.5-28h0m4.5 107.5h0m-28-53h0m2 43.5h0m1-17h0m32.5-70h0m5 93h0m-27-22h0m2-49.5h0m23 58h0m-26-81.5h0m12.5 99h0m-14.5-4h0m29.5-32h0m-40 6.5h0m24.5 18.5h0m6-73h0m0 22.5h0m5 64.5h0m-14-58h0m13 45h0m3.5-65.5h0m-32.5 8h0m26 27h0m-32.5 55h0m24.5-26h0m-12.5-13h0m4.5 29.5h0m15-111.5h0m-4 66.5h0m-0.5-3.5h0m10 3.5h0m-7-33h0m-4.5-4h0m11-34h0m5.5-29h0m-13 86.5h0m7 77.5h0m-31-85.5h0m20 62.5h0m-10.5 14.5h0m13.5-111h0m-27 73h0m29-71.5h0m-26.5 68.5h0m13.5-83.5h0m-17.5 1h0m31.5 99.5h0m5.5-99.5h0m0 80h0m4 36.5h0m-0.5-64.5h0m-15.5-28.5h0m8.5 63.5h0m-11.5-87h0m2.5 107.5h0m-16.5-89h0m31 61.5h0m1-65.5h0m-1-19h0m-28 25h0m14 1h0m14.5 27.5h0m-33-52h0m31 73.5h0m-19.5 29.5h0m4.5-77.5h0m-1 82.5h0m-18.5-107.5h0m5.5 50h0m20 29h0m-11-67.5h0m9-4.5h0m-10 49h0m-14.5 31h0m39-103h0m0 0.5h0m-22 55h0m0.5 12.5h0m-11-77h0m26 125h0m-22.5 5h0m10-101.5h0m16 74h0m-9.5-16.5h0m7.5 48h0m-17-50.5h0m12 39.5h0m-15-27.5h0m-8.5 11.5h0m4.5-17h0m-5.5-33.5h0m6.5 29.5h0m25 33h0m-25.5-81.5h0m29.5-7h0m-36-3.5h0m27.5 121.5h0m-20-30.5h0m-5-25h0m26.5-20.5h0m-2 36h0m-8-16h0m-14 44.5h0m-8-20h0m15.5-50.5h0m21-3.5h0m-34-22.5h0m29 13.5h0m-14 24h0m-15.5 31h0m3.5-116h0m9 99.5h0m5.5-53.5h0m15.5 106h0m-26-34.5h0m6.5-40.5h0m-11-47h0m30 98.5h0m-29.5-81.5h0m17.5 85.5h0m4-87.5h0m-29.5 50.5h0m19.5-2.5h0m-5-80h0m21 41h0m-29 35.5h0m34.5 7.5h0m-6.5 56h0m-18.5-47.5h0m-5-41.5h0m-6 33.5h0m1.5-75h0m28 35.5h0m-16-5h0m11.5 65h0m-26-63.5h0m26-2.5h0m-21.5 44.5h0m22.5 49h0m-22-97h0m-8.5 12.5h0m17.5 89h0m-9 6h0m21-33.5h0m-18-36h0m-3.5 39h0m31-161h0m-34 131h0m25.5-14.5h0m1.5 15h0m-7-9h0m-3-29.5h0m19.5 65.5h0m-5-65.5h0m-2 29.5h0m-19-30h0m24 42h0m-13 35.5h0m-25 1.5h0m12-80h0m-4 15h0m-6-39.5h0m30.5 105h0m-33.5-44h0m25.5 42h0m-6.5-59h0m7.5-12h0m-27.5-35.5h0m37.5 121h0m-26 7h0m29.5-53h0m-22 23h0m-12.5-67.5h0m-4.5 2.5h0m23.5 45h0m10-9h0m-14 62h0m-7-0.5h0m23.5-78h0m-19.5 19h0m-11.5 14.5h0m30.5 22h0m-7.5-17.5h0m-2 8h0m-11.5-26.5h0m-11-13.5h0m2-27.5h0m3.5-34.5h0m3.5 9.5h0m11 76h0m1 2.5h0m-24.5-39.5h0m12-28.5h0m20 78.5h0m3 18.5h0m-30-73h0m-0.5-72h0m22 74.5h0m-25 28h0m16.5 13h0m7-34h0m-9.5 1h0m13.5-35h0m-28.5 63.5h0m26-70h0m-8 30h0m-1-41.5h0m-10.5 119h0m-4.5-110h0m34.5 33h0m-9.5-10.5h0m-26.5 38.5h0m23.5-0.5h0m5-56h0m-11.5 47.5h0m3 5.5h0m-14.5-37h0m7.5-24.5h0m-7.5-28h0m19.5 173h0m6.5-103.5h0m-15.5-14h0m15.5-27h0m-16 53h0m-16.5-65.5h0m26.5 82h0m9-3.5h0m-4-55.5h0m-11 115h0m13-120.5h0m-20 49.5h0m22.5-43h0m-19.5 46.5h0m0.5 17h0m-11.5-29.5h0m32 51.5h0m-5-50h0m-33-14h0m25 7h0m11 86h0m0-105.5h0m-2 62h0m-23-105.5h0m-8.5 87.5h0m26 26h0m-1.5-103.5h0m-18 25.5h0m5 80h0m20-77.5h0m-27 53.5h0m13-33h0m13-123h0m1 189h0m-30-34h0m13-65h0m14 103.5h0m-11.5-76.5h0m16 32h0m-7.5 59.5h0m-25.5-115.5h0m11.5 46h0m-12-22.5h0m35 53h0m-14.5 31h0m2-70h0m-4-28h0m4 60.5h0m-11.5-9h0m18 44h0m-15-57h0m-3-12h0m-8-29.5h0m-5.5-11h0m21.5 39h0m3 32.5h0m14-88h0m-36 119h0m35.5-42.5h0m-22 21.5h0m18 22h0m-24 32h0m11-177.5h0m-9 33h0m-3.5 75.5h0m21 50h0m-6.5 11h0m-23 3h0m18-122.5h0m15.5 111.5h0m3.5-99h0m-17 89h0m19.5 4.5h0m-16.5-102.5h0m4-24.5h0m-24.5 86h0m22 8.5h0m-3-61.5h0m-8 92.5h0m9.5-29h0m6.5 13h0m-5-78h0m-11.5 68.5h0m-13 32h0m18.5-33.5h0m-11.5-73.5h0m9 13.5h0m9.5 96h0m-0.5-66.5h0m-14.5-52.5h0m13 33h0m12.5 9h0m-21 8h0m24.5-27h0m-6.5 25h0m-25 68.5h0m28.5-118.5h0m-31-2.5h0m8.5 33h0m16.5 52.5h0m-29-97.5h0m4 90.5h0m14-118h0m18 138h0m-37-13.5h0m17-49.5h0m2 74h0m7.5-14h0m-6.5-98.5h0m-9 99.5h0m8-39.5h0m3.5 34.5h0m-17-6.5h0m-2-51.5h0m2.5 79.5h0m28-83.5h0m6-64h0m-22.5 69.5h0m-19.5 32.5h0m6-67h0m9 81.5h0m13.5 34h0m-15.5-68h0m19-63.5h0m-15 46.5h0m-1.5 37.5h0m15.5 29h0m-25-45.5h0m35.5 59.5h0m-1-80h0m-18-6h0m5 86.5h0m10-42.5h0m-3.5-50.5h0m-16 70.5h0m4.5-40h0m-1.5 58.5h0m-18.5-69.5h0m35.5-44h0m-33 93.5h0m21-3h0m-22.5-98h0m7 105h0m28.5-58.5h0m0 90.5h0m-11 4h0m-15.5-59.5h0m17-33.5h0m5 39.5h0m-2.5-64.5h0m-30 54.5h0m37 31.5h0m0.5-55h0m-19 58h0m5-52h0m13.5 74.5h0m-5.5-70.5h0m0 37h0m-7-65h0m-9.5 7.5h0m-0.5 95.5h0m-6-22h0m3.5-46h0m9.5 62h0m-17.5-124h0m-5-54h0m23.5 173.5h0m7-71h0m6 22.5h0m-28.5-136.5h0m10 46.5h0m16.5 54.5h0m-1 98.5h0m-9.5-99.5h0m-18 91.5h0m27 4.5h0m0.5-84.5h0m6 24h0m-16-4.5h0m3 66.5h0m2.5-25.5h0m-12.5-64h0m-3.5-44.5h0m7.5 107.5h0m-17.5-55.5h0m3.5 21h0m11 35h0m4.5-29.5h0m13-43.5h0m-13.5 64.5h0m0.5-18h0m3.5-77.5h0m-25 60.5h0m6.5 38.5h0m1.5-69.5h0m15.5 7.5h0m14 49.5h0m-30-60h0m-4.5 28h0m29.5-48.5h0m-8 115h0m-14.5 9.5h0m-0.5-94.5h0m13 31h0m-7-45h0m12.5-6.5h0m-18 41h0m12 25h0m-6-80h0m-7.5 35.5h0m28 50h0m-16-65h0m5.5 63.5h0m-2.5-32.5h0m-15-15.5h0m16 19.5h0m-22 72.5h0m20.5-29.5h0m6.5-47h0m4-20h0m-2 78h0m0.5-93h0m-22 123h0m16.5-10h0m-19.5-21.5h0m27.5-75.5h0m-13-17h0m17.5 72h0m-24 29.5h0m-8.5 9h0m-3-123h0m17 89h0m-15.5-10h0m11 43h0m4-105h0m19-39h0m-16 15.5h0m9.5 98h0m-19.5-29.5h0m10-84.5h0m-14 60.5h0m-2-12h0m13 87.5h0m15-95h0m-27.5 49.5h0m12-24h0m13 72.5h0m-12.5-97h0m-10 34h0m24-34h0m-1 12h0m6 71h0m-1.5-43.5h0m2.5 60.5h0m-34.5-95h0m-4-84.5h0m31.5 104h0m-8.5 58.5h0m-5-40.5h0m20 6h0m-31 40.5h0m23-50.5h0m-9-82h0m-1.5 81h0m-7 3.5h0m-14-64h0m26.5 100h0m9.5-91.5h0m-2 107h0m-8.5 5h0m-17 2h0m19.5-78.5h0m-15.5 56.5h0m-4.5-13h0m7.5-47.5h0m-6 85.5h0m5.5-77h0m23 57h0m-36.5-74h0m14.5-2.5h0m-11.5-21.5h0m7 113.5h0m-6.5-13h0m-2.5-28.5h0m0.5-54.5h0m8.5-6h0m15 90.5h0m11.5 8.5h0m-22.5-58.5h0m10-12.5h0m3-37.5h0m12.5 116h0m-12.5-12.5h0m-14-106.5h0m11 20.5h0m-2 101h0m-20.5-10h0m22-11.5h0m7-69.5h0m-32 20.5h0m26.5 68.5h0m5.5-28h0m-5.5 21.5h0m14.5-15.5h0m-30.5-100.5h0m23 33h0m-4.5 52h0m6.5-68h0m-6.5 85h0m-10-147.5h0m17 170.5h0m-5-128h0m9 42h0m-39 72.5h0m6.5-108h0m0.5 106.5h0m-7.5-98.5h0m39 108h0m-15.5-97h0m-13.5-15h0m-6.5 15h0m13.5-22.5h0m16 117.5h0m-20-33h0m-13.5 24h0m12-103.5h0m-13 105.5h0m5-109h0m31 14.5h0m-24.5 45.5h0m10-1.5h0m14 23.5h0m-36 37h0m42.5-24h0m-29.5-58h0m27 73.5h0m-5-45.5h0m-10.5 83.5h0m-10-115.5h0m-5.5-44.5h0m0 31.5h0m20-10h0m-25.5 46.5h0m28.5 45.5h0m8-24.5h0m-22-68h0m-7.5 110.5h0m21.5-122.5h0m-28 86.5h0m26-63.5h0m9 77h0m-39 3h0m3.5-81.5h0m35 57h0m-33-6h0m12.5 30.5h0m-16-37h0m13-65.5h0m19.5 77h0m-19-134h0m-6.5 49h0m20 53.5h0m0-14h0m9.5 69.5h0m-31.5-131.5h0m20.5 17h0m15 25.5h0m-16-1h0m12.5 55h0m-29 32h0m26 29h0m-21-47h0m-10.5 13h0m12-50h0m-6 36.5h0m20.5 62.5h0m2.5-65.5h0m7-33h0m-33.5 67h0m4-117h0m8.5 106h0m12.5-11h0m-4 28h0m-2.5-12.5h0m-5.5-24h0m-6.5-49.5h0m-6-39h0m-2.5 15.5h0m1 74.5h0m22.5 43.5h0m-27.5-5.5h0m0.5-13h0m38.5-25h0m-16 39h0m-3.5-58h0m-12 16h0m25.5-78h0m-11.5 50h0m-4.5-92.5h0m-17.5 18h0m17.5 107h0m8.5-23.5h0m-25.5-20.5h0m29.5-17.5h0m-19 88h0m20.5-27.5h0m-5.5-41.5h0m3.5-28.5h0m-5 93.5h0m-21 20h0m35.5-120h0m-17.5 81.5h0m16-75.5h0m-10 34.5h0m-5 69.5h0m11-20h0m8-20.5h0m-16.5-48.5h0m-17.5 53.5h0m4.5 1h0m3-33.5h0m14-51h0m-22.5-20.5h0m-5.5 34h0m34.5-1h0m3.5 95h0m-13-69.5h0m9 2.5h0m-28 82.5h0m16-12h0m-1-24.5h0m12 6h0m-19-10.5h0m-3 19.5h0m18.5-21.5h0m10-55h0m-6.5-63.5h0m7 36h0m-30.5 106h0m10.5-76.5h0m-8.5 40.5h0m-13-30h0m8-76h0m-2.5 101h0m16.5-71h0m-3.5 5h0m18.5 32.5h0m4 68h0m0 22.5h0m-20-33.5h0m15.5 20h0m-15.5-109h0m-9.5 85.5h0m15 22h0m0-2h0m-2.5-36h0m2-9.5h0m-24.5-7.5h0m30 14h0m10-63h0m-12 68.5h0m-12 52.5h0m-3-64.5h0m-9.5-6.5h0m8 20.5h0m-3-9.5h0m19.5 47.5h0m12.5-82h0m-37.5 15h0m5-30h0m0.5 15.5h0m1 60h0m4-80h0m12.5 72h0m-21-32.5h0m32-0.5h0m-20.5-16.5h0m8 118.5h0m-17.5-139.5h0m-1.5 93h0m-6.5-103h0m29 77h0m-3.5 45h0m4-11h0m-7-96h0m9.5 82h0m5.5 31h0m-3.5-81h0m0.5 3.5h0m-17.5 22h0m-0.5 20.5h0m-1.5-68h0m-12.5 136h0m10.5-68h0m18.5 20h0m-2-69h0m-11-16h0m6.5 29h0m-13.5-45h0m-8-12h0m18.5-24h0m-8.5 35.5h0m3.5-12.5h0m12.5 60h0m3-31h0m7.5-4h0m-39 75h0m19 19h0m14.5-129h0m-25.5 67.5h0m1.5 77.5h0m-7.5-124.5h0m29.5 4.5h0m-9.5 19.5h0m-18 7.5h0m8.5-95.5h0m-7 102h0m16-44.5h0m-14 38h0m5-67h0m1.5 25h0m-3.5 120.5h0m-11-40.5h0m10-57.5h0m12 135h0m5.5-92.5h0m-17 57.5h0m1-16h0m27.5-1h0m-13.5 9h0m-5.5 1.5h0m8.5 10h0"/>
<path stroke="#0072B2" d="M855 466.5h0m-10.5 19.5h0m12-13.5h0m3-4h0m14-181h0m-13.5 164.5h0m-11.5-182.5h0m18.5 222.5h0m3.5-54.5h0m-21 65h0m0-146h0m25.5 6.5h0m-22 71h0m2.5-56.5h0m-4-79.5h0m10.5 245h0m-15-78h0m21.5-106h0m-14.5 163h0m13 16h0m-18-162.5h0m28.5 90h0m1 18.5h0m-27.5 29h0m23-264.5h0m-24 228h0m-5.5-44h0m13.5 105h0m-3.5-96h0m-2 82h0m8-47h0m-1 45.5h0m9.5 37h0m11-79.5h0m-14-8h0m-10 1.5h0m-16 46h0m16.5 47h0m18.5-29.5h0m-23.5-70h0m27.5 26.5h0m-10-141.5h0m-9.5 179.5h0m-15-178.5h0m11 113h0m9-39h0m11-43.5h0m-13.5-23h0m9 160.5h0m-27.5 29.5h0m3.5-110.5h0m16.5-3h0m0 55.5h0m1.5-68.5h0m1.5 45.5h0m-27.5 3h0m24 79h0m13-158h0m-2.5-5.5h0m-7.5 114.5h0m-28-46h0m38.5-123h0m-19 127h0m19 46h0m-33.5-38.5h0m29.5-0.5h0m-5-63h0m12 37.5h0m-28.5-3h0m7.5 40.5h0m5.5 48.5h0m4.5-75.5h0m-26 1.5h0m35.5-93h0m-12-83h0m-18.5-10.5h0m21 238h0m-13 3.5h0m-10 28h0m10-138.5h0m5.5 121h0m5.5-123h0m9.5 60.5h0m-8-120.5h0m10.5-2h0m-31.5 133.5h0m-8.5 61h0m25.5-38.5h0m-9 7h0m-13-6.5h0m16.5 34h0m6 18h0m-5.5-169h0m17.5 148h0m-32.5-18.5h0m3-26.5h0m32 6h0m-5-31h0m-33 36.5h0m33.5-133.5h0m-12.5-70.5h0m-6.5 194h0m-1.5-123.5h0m-1-17.5h0m14 169h0m-4.5-18.5h0m18-227h0m-18 193.5h0m5.5 93.5h0m-19.5-2h0m-5.5-3h0m15.5-22h0m21.5-154.5h0m-13.5 150.5h0m13-66.5h0m-26.5 6.5h0m18.5 94h0m-1.5 4h0m8.5-42h0m-8-114.5h0m-12.5 126h0m-11.5 31h0m12.5-258h0m-21 21.5h0m39 228h0m-28.5-5h0m16.5-291.5h0m11 275.5h0m-6 19.5h0m0.5 10h0m8 2.5h0m-5-15.5h0m-10.5-144.5h0m-18-90h0m34 171.5h0m0.5 37h0m-20.5 2.5h0m-4.5 14.5h0m17-5h0m-32.5-209h0m26 148h0m-22-177h0m36 118.5h0m-23 51.5h0m-6.5 33h0m-7-33.5h0m8 4h0m20.5-211.5h0m-23 270.5h0m4.5-148h0m8 150.5h0m18.5-44.5h0m-36 50h0m21.5-201h0m5 6.5h0m-8.5 72.5h0m9.5-92h0m-28 186.5h0m1.5 27h0m12-176h0m19.5 103h0m-24-18.5h0m16.5 37h0m-22 36h0m34.5-139.5h0m-39.5-42h0m9.5 160h0m-2.5 46.5h0m14-31h0m18-94h0m-0.5 28.5h0m1 49.5h0m-33.5 12.5h0m16.5-24.5h0m-16.5-135h0m8 190h0m20-44h0m4 62h0m-6-13h0m-30-229h0m2 193.5h0m0-97h0m33 140.5h0m-28-140h0m5 104h0m14.5-204.5h0m3 105h0m7.5 110.5h0m-5-115h0m-15.5-110.5h0m-8.5-52h0m-4 285.5h0m5.5-116.5h0m9.5 55.5h0m-1 71.5h0m13-101h0m0.5 49.5h0m-10 68h0m1-99.5h0m-17.5-50.5h0m16 117h0m-13-157h0m-4.5 97.5h0m-1 69.5h0m15 1h0m-3-37.5h0m2.5-56.5h0m-14.5 7.5h0m2 113h0m16-12h0m8-62h0m-22.5-44.5h0m28.5 70h0m2.5-134h0m-2 136.5h0m-6.5-185h0m4.5 52h0m-24 168h0m2.5-59.5h0m-6.5-194h0m-2 259h0m17-154h0m14 44.5h0m-22.5-52.5h0m3 31.5h0m19 128h0m-38.5-196h0m30 132.5h0m-12-136.5h0m4 101h0m-1-3.5h0m-8.5 91h0m17.5-0.5h0m5.5-109.5h0m-13.5-69h0m-16 147h0m6-106h0m15.5 112h0m-25-32.5h0m4.5-14.5h0m23-140h0m-14.5 173h0m8.5 34h0m-23-7.5h0m28-50.5h0m-1.5-168h0m-16.5 15.5h0m7.5 167h0m2.5-175h0m9 159.5h0m-12.5-136.5h0m19 121h0m-8 92h0m-4-20.5h0m-12.5-127.5h0m-3-0.5h0m3-36h0m-7.5-33.5h0m20 60h0m11 116h0m-28.5-161.5h0m-2 159h0m8-188.5h0m23-89h0m-1 73h0m1 63h0m-25.5 94h0m29 25.5h0m-11-168h0m-21 170h0m21.5-8.5h0m-3-81h0m1.5 99h0m9.5-72h0m-2.5 60.5h0m-1.5-48.5h0m-20.5-181h0m24 271h0m-18.5-159.5h0m16.5 150h0m3-76.5h0m-1-4.5h0m3-123h0m-27.5 128.5h0m-5-16h0m-5.5 88h0m14.5-13.5h0m23.5 40.5h0m-2.5 3h0m-25-10h0m-6 4.5h0m34.5-74h0m-10-42h0m-24.5 128.5h0m0-15h0m-5.5-39h0m14 55.5h0m20.5-138.5h0m0.5-103.5h0m4 195h0m-16 52h0m-17-42h0m29-2.5h0m1-28.5h0m4-41h0m-16-48.5h0m15 61h0m-0.5 63.5h0m-4.5-132.5h0m-24-95h0m-3.5 123.5h0m27-89.5h0m-21 196.5h0m-3.5-149h0m-9 128h0m34.5-194.5h0m-18.5 237.5h0m1-50h0m-15-119.5h0m5.5 136.5h0m1 1h0m21.5-114h0m-3-75h0m-7.5 96h0m3 32.5h0m-3.5-54.5h0m-9 61.5h0m11.5 30.5h0m13.5-108h0m-33 150.5h0m18-29h0m-1.5-1h0m4.5-58h0m-7.5 107h0m23-248h0m-31.5 231h0m-7-43h0m7.5-142.5h0m-3 115.5h0m28.5-56.5h0m2-110.5h0m-16.5 188h0m-12.5 5h0m32-45h0m-37 103h0m16.5-56.5h0m-10 30.5h0m24.5-34.5h0m7-100.5h0m-14.5-27.5h0m-13.5 189h0m5.5-7h0m-10.5-88h0m2 3h0m-1.5-133h0m-5.5 221.5h0m20.5-178h0m20.5 137h0m-8-212.5h0m3 220.5h0m2-31.5h0m-5-90.5h0m-26.5 174h0m10-303h0m-13.5-23.5h0m23 210.5h0m10.5 3h0m-26-77h0m7-60.5h0m-15 182h0m38.5-6h0m-2-98.5h0m0.5 164h0m-10-60.5h0m-12-1.5h0m-5.5-168h0m-5 208h0m9-173.5h0m2.5 136.5h0m-16 52h0m-0.5-67.5h0m8-27h0m18.5-56h0m-29.5 90.5h0m29.5 33h0m-23-85.5h0m15-39.5h0m-22.5 73h0m10.5-182h0m-2 215.5h0m13-51h0m1.5-67.5h0m2-16h0m10.5-95h0m-14 173.5h0m10-56.5h0m-27.5-35h0m9 146.5h0m22-49.5h0m-5.5-184h0m-16 148.5h0m-0.5-40.5h0m-7.5 30.5h0m7.5-45.5h0m5.5 47.5h0m-9.5 82.5h0m-3.5-172h0m23 191.5h0m-14.5-30h0m-9 16h0m29.5-159.5h0m-30.5 108h0m29.5 24.5h0m1.5 58.5h0m-34.5-129h0m6.5 158.5h0m10 1h0m-9.5-90h0m27 81h0m-29-237.5h0m28.5 241.5h0m-18-240.5h0m14 79.5h0m-7.5 90h0m-10.5-121h0m20 75h0m-11 86.5h0m16-80.5h0m-1-185h0m-15 244h0m-6.5-2.5h0m-13 48.5h0m41-106.5h0m-38.5-129.5h0m6 197h0m21-0.5h0m-9-124.5h0m20.5 95.5h0m-1 11.5h0m-13.5-69h0m0 63.5h0m-11 52h0m2.5-54h0m11.5 73h0m-5.5-54h0m6.5-166h0m-31 158h0m11.5-45h0m18 43.5h0m-6.5-60.5h0m-12 57h0m-3 51.5h0m8.5-226.5h0m8 241.5h0m17-246h0m-35.5 128.5h0m20.5 63.5h0m-27-4.5h0m15.5-106.5h0m22.5 142.5h0m-5-9.5h0m-3.5-51.5h0m-21.5 0.5h0m18-24.5h0m4.5 87.5h0m-19.5-213h0m1.5 144.5h0m8.5-190.5h0m21 83.5h0m-23.5 102h0m-16.5-13h0m22 30h0m5.5-109.5h0m-21-41h0m-3 136.5h0m17.5-222h0m15 284.5h0m-0.5-23h0m-37 14h0m35.5-16h0m-29-34.5h0m30-65h0m-25.5 36h0m6.5 102.5h0m-16-277.5h0m36.5 259h0m-9.5-79h0m0-2h0m6 5.5h0m2.5-102.5h0m-1 196h0m-7-98.5h0m4.5-16h0m0.5 60.5h0m-29.5 35h0m35.5-260.5h0m-8 249h0m-7-218h0m2 136.5h0m-15 71.5h0m19-35h0m-21.5-1h0m6-15h0m-5.5 64.5h0m24-116.5h0m5.5 45h0m-9 75h0m1.5 36.5h0m5-256.5h0m-15 188.5h0m-22-186.5h0m21.5 103h0m14 79h0m-5.5 40.5h0m-24-72.5h0m31.5-5.5h0m-27.5-3h0m-4.5-106h0m31.5 212.5h0m-33-220.5h0m33 169.5h0m-19-91.5h0m-2 103h0m22-19h0m-12-132.5h0m-16 156.5h0m-10 1h0m9.5-50h0m16.5 15.5h0m-3-6.5h0m18.5-85.5h0m-16.5 150.5h0m-9-43.5h0m20-43.5h0m-5.5-144.5h0m-12.5 172.5h0m-11 61.5h0m30.5-18h0m-19.5-19.5h0m4 46.5h0m-8-136h0m4 45.5h0m3.5-71.5h0m-1.5-71h0m2.5 238h0m-22.5-118.5h0m30-7.5h0m7 116.5h0m-34-41.5h0m35.5-40h0m-34.5 32.5h0m6-148.5h0m-6.5 11h0m4.5 193h0m16-30h0m6.5 26h0m-23.5-104h0m8 91.5h0m0.5-72h0m8.5-15.5h0m-19 77.5h0m-3.5-3.5h0m12.5-82h0m14 2h0m-3 10h0m-19.5 95h0m12.5-63h0m-10.5-40h0m6.5-141.5h0m2 198.5h0m17-127.5h0m-2.5 12.5h0m8 113.5h0m-22.5-67h0m17-5.5h0m-7 35.5h0m-12-135h0m3 154h0m-12.5-159.5h0m34.5-19.5h0m-34.5 109h0m26.5-81h0m0.5 127.5h0m-7.5 70h0m-19-149h0m34.5 111h0m-18.5 52h0m-13.5-229.5h0m3.5 57.5h0m24.5 141h0m-23.5-181.5h0m23.5 163h0m-35-42h0m32.5 109.5h0m-7.5-87h0m-4 19.5h0m3-50.5h0m0.5-74.5h0m-17.5 157h0m25.5 33h0m7.5-98.5h0m-6.5 8.5h0m-11 69.5h0m2.5-98h0m-7.5-111.5h0m-11.5 163.5h0m2-111h0m30.5 105h0m-8.5-6.5h0m-19.5-20.5h0m19.5 13.5h0m-23.5-89.5h0m10 75h0m15.5 20.5h0m4-68.5h0m-9 63h0m10.5 71.5h0m-21.5-181.5h0m-16.5 14.5h0m22 42.5h0m-5.5-96h0m-9 115.5h0m2 131h0m4.5-16h0m1-154.5h0m14 22.5h0m6.5-40h0m-4.5 79h0m-16 32.5h0m-10-105h0m1 137h0m35.5-16.5h0m-17.5-30h0m-11.5-118h0m20-18.5h0m-25 139.5h0m17.5 1.5h0m-4.5-44h0m8.5 59.5h0m-2.5-180h0m15 128h0m-24 27.5h0m14-81.5h0m1.5 91h0m-6-94h0m-13 53h0m9 67.5h0m-8-11h0m-15.5 18.5h0m0.5-258h0m38.5 54.5h0m-3.5 50h0m-6.5 25h0m-14-57h0m1.5 107h0m3 83h0m7.5-80.5h0m-1.5 128.5h0m1-39h0m-6-91.5h0m4-57h0m-18.5 18.5h0m15-107h0m2 199.5h0m-8.5-16h0m18 67h0m-26.5-19h0m0-162h0m16.5-15.5h0m16 130.5h0m-26 48.5h0m15.5-16h0m-19.5-101.5h0m30.5 80.5h0m-25-39.5h0m10 27h0m10-98h0m-11.5 95h0m-1-93.5h0m-19.5 67h0m35 2.5h0m5.5 35.5h0m-3.5 22.5h0m3.5-42h0m-35-15h0m24-134.5h0m0 42.5h0m-18 149h0m28 48h0m-7-79.5h0m-8.5-80h0m-1 30h0m-9-97h0m19.5 166h0m-9-43h0m-18-151h0m4.5 115.5h0m24.5-96.5h0m-11.5 189.5h0m7-21h0m2-71.5h0m4-117.5h0m-9.5 216h0m-6-61.5h0m-5-11.5h0m19.5 107.5h0m-15-110h0m11.5 73h0m0.5 18.5h0m-34-262.5h0m36.5 271h0m-29.5-5h0m30-59.5h0m-9-24h0m-16 79h0m14.5-59.5h0m10 21.5h0m-36 34h0m9-158h0m-3.5 74.5h0m-1 84h0m17.5-35.5h0m-15.5-59h0m11.5 26h0m4-72h0m6-31.5h0m7.5 68.5h0m-5.5 88h0m-21-74.5h0m-9.5-116.5h0m18.5 116.5h0m13 51h0m1.5-98h0m6 104.5h0m-19-30.5h0m16.5-58.5h0m4 1h0m-12.5 91.5h0m12-96h0m-30.5-46h0m22 174.5h0m1-12h0m-31-28.5h0m4.5-81.5h0m5.5 62h0m27 72h0m-10.5-114h0m10.5-122h0m-5-3h0m-1 192h0m-18.5-233.5h0m10 125.5h0m-6.5 148h0m-6.5-96.5h0m14.5-132h0m-15 79.5h0m-6 101h0m22.5 26h0m-22-37h0m32.5 47.5h0m-17-268.5h0m-1 131h0m17.5 29.5h0m-15.5 37.5h0m-15-64.5h0m-5 51.5h0m29-28h0m-13.5 96.5h0m14.5 32.5h0m-1 2h0m2-30h0m-17-201.5h0m-13 162.5h0m4 55h0m8.5-115h0m-13-144.5h0m3.5 228h0m-2.5 46.5h0m25-117h0m7.5-54.5h0m-20 150h0m13.5-64.5h0m-16.5 99.5h0m15.5-11h0m-1 10h0m-19-239.5h0m27 176h0m-29.5-171.5h0m23-5h0m-9.5 155h0m15.5-131.5h0m-10.5 102.5h0m-15.5 74.5h0m11.5-186h0m-6.5 178h0m11.5-32h0m16-2.5h0m0 27h0m-31 23.5h0m8.5-4.5h0m-0.5-77h0m-17.5 17.5h0m12.5 69.5h0m8.5-70h0m6 73.5h0m-15.5-49.5h0m-4.5-45.5h0m31 37h0m-16-169.5h0m-3.5 50.5h0m-1 183h0m5-18h0m-6.5 29.5h0m-4.5-148.5h0m-9-82h0m30.5 134h0m-17-89h0m3.5 36h0m18-134h0m-32.5 143.5h0m28 70.5h0m-26.5-54h0m4-36h0m28 80.5h0m-23.5-148h0m5.5 0.5h0m-4.5 215h0m18-66.5h0m-23.5-175h0m13.5 185.5h0m14.5 67.5h0m-4-49h0m-11.5-9h0m-7.5 11.5h0m-8 46.5h0m29-252.5h0m-25 143.5h0m21 42.5h0m-26.5-133.5h0m-0.5-28.5h0m34.5 207.5h0m-4.5-34h0m-17 42h0m22-45h0m-20.5-163h0m-0.5 195.5h0m20.5-196.5h0m-3 178.5h0m-11.5 5h0m-20-1.5h0m-3.5-147.5h0m12.5 100h0m-3 80.5h0m26-141h0m-21 34h0m15.5 31.5h0m-30-82h0m15 104h0m4-14.5h0m-7 68.5h0m-5.5-99.5h0m15 88.5h0m-22.5-238h0m20.5 73.5h0m-3.5 172h0m-5-155h0m-4 85.5h0m32 78h0m-12-210h0m-25 106.5h0m0.5-100.5h0m8 185h0m18.5-191h0m-13.5 177h0m15 35.5h0m-4.5-193h0m-26 200.5h0m23.5-152h0m8.5 13h0m-9-118h0m9.5 168.5h0m6-19h0m-7-144h0m-33 223.5h0m27.5 2.5h0m-19.5-22.5h0m-8.5-40.5h0m-1.5 89h0m22-47h0m-6.5-79h0m20.5 30h0m-13.5 71h0m-6.5-24h0m12 36.5h0m7.5-274.5h0m-29.5 83.5h0m11.5 121h0m-9.5-80.5h0m-3.5 88h0m8.5-14.5h0m19.5 70.5h0m-27-100.5h0m13 59h0m24-72.5h0m-31-129.5h0m-4.5 5.5h0m15-32.5h0m-1.5 62.5h0m19 23.5h0m-26.5-47h0m-12.5 234.5h0m20.5-59.5h0m19.5-180h0m-33-15h0m-2 61h0m5 148.5h0m3-92h0m27.5 99.5h0m-29-185h0m-11.5-18.5h0m16 244.5h0m9-33.5h0m13-30h0m-23-4.5h0m-6.5-103.5h0m33 56.5h0m-15 61.5h0m-22 10h0m28-73.5h0m-28.5-26h0m14.5 38h0m10-80h0m-5.5 37.5h0m7.5 85h0m10.5-99.5h0m-11.5 140.5h0m-4.5-113.5h0m-1.5 124.5h0m15.5-88h0m3-30.5h0m-29.5 31.5h0m22-10.5h0m-8.5-112h0m0.5 12.5h0m13.5 109h0m-12-7h0m11 25.5h0m-17 69h0m-17.5-95.5h0m25 38h0m-10.5-149h0m22.5 47h0m-35.5 155.5h0m33-32.5h0m-38 25h0m38-33.5h0m-10.5-49.5h0m-6 26.5h0m8.5 4h0m-14-76.5h0m-16.5 120h0m10.5-72h0m14.5-121h0m-21.5 192.5h0m-4.5 8.5h0m32.5-60.5h0m-7.5-17.5h0m0.5 22.5h0m-21.5-68.5h0m37.5-122.5h0m-40.5 107.5h0m11.5 16h0m12.5 112h0m14 42.5h0m-14-95.5h0m4-13.5h0m-27 48h0m1.5 31h0m27-127.5h0m11.5 147.5h0m-7-42.5h0m-23.5-94h0m6-16.5h0m-5 156.5h0m-4.5-283.5h0m9.5 195h0m-16 77h0m13-27h0m6-50.5h0m-4.5 86.5h0m4.5-51.5h0m-6.5 33h0m28.5-117.5h0m-4 59h0m1.5-13h0m-19.5 52h0m-7.5-147h0m8 139.5h0m19-26.5h0m2 52h0m-31.5-31.5h0m-9-65.5h0m19.5-43h0m11.5-42.5h0m3.5 161h0m4.5-40h0m-5.5 76h0m-5.5-60.5h0m4.5-148.5h0m-22-23h0m5 138h0m17 95.5h0m-28 3h0m9-250h0m14.5 248h0m-11-73h0m-18.5-88.5h0m34 88.5h0m-14.5-12.5h0m4-154.5h0m8.5 220h0m-10-67.5h0m2.5-3h0m-16.5 88h0m-7-63.5h0m22 26h0m15-206h0m-18 36h0m14.5 153.5h0m-18-48h0m26-0.5h0m-39-21.5h0m15.5 48.5h0m4.5-34h0m-13-56h0m20 175h0m-29.5-39h0m0.5-119h0m15.5 52h0m18.5-40h0m-19.5 77.5h0m-4-95h0m29.5 161.5h0m-33-3.5h0m33.5-11h0m-5-238h0m-0.5 112h0m-19.5-4h0m17 44h0m-15 5h0m0.5-81h0m8 130h0m2.5 8h0m-0.5-118.5h0m-12.5 82h0m24 17.5h0m-25.5-32h0m-1.5 99h0m15.5-76.5h0m-22 29h0m20-125.5h0m-6.5 11h0m-14.5 112h0m36-67.5h0m-36 20.5h0m6-79h0m12 89h0m2.5-162.5h0m-0.5 212h0m-1.5-128h0m-14.5 6h0m26.5 105.5h0"/>
<path stroke="#0072B2" d="M904 515h0m18 28.5h0m-5.5 15.5h0m-3-66h0m-11.5-11.5h0m23 62.5h0m-27.5 7h0m11-64h0m-13.5 37h0m27-37h0m-11 63.5h0m-7.5-57.5h0m5 10h0m15-4h0m-11.5 37.5h0m3-53.5h0m-17 40h0m35-11h0m-8.5 6.5h0m-20.5 21.5h0m11.5-42h0m4.5 3h0m0.5 50h0m-7.5-43.5h0m-6 11.5h0m20-20h0m-14.5 2h0m2.5 30h0m-8.5-43h0m10.5-11h0m-13 53h0m1 20.5h0m19-16.5h0m1.5 28.5h0m-16-35.5h0m-14.5 31.5h0m25-55h0m2.5 19.5h0m-3.5-43h0m-11 20.5h0m-11.5 33.5h0m-4 21h0m41-25h0m-4.5 22.5h0m6.5-24h0m-18-8.5h0m-12-37h0m-10 39.5h0m25 27h0m-15-72h0m-11.5 19h0m5.5 59.5h0m33.5-37h0m-14-27h0m-23 46h0m15-59h0m6-11.5h0m-3 89.5h0m7.5-21.5h0m0.5-58h0m-12.5 72.5h0m2.5-4.5h0m12-38.5h0m-27.5 44h0m22.5-3h0m-14 4h0m-3.5 3.5h0m32.5-4.5h0m-15-22.5h0m11.5-6.5h0m1.5 13.5h0m-37 0h0m18-40h0m5.5 63.5h0m-4-41h0m8.5 35h0m5-44.5h0m-13.5-10.5h0m-10-16h0m24.5 43.5h0m-36-13.5h0m32.5-24h0m-29-7.5h0m36-5.5h0m-37.5 16.5h0m35 46.5h0m-36.5-23h0m25.5 6h0m-17-28h0m17.5 31h0m-3.5-9.5h0m13.5 11.5h0m-35-23h0m40.5 60.5h0m-23.5-13.5h0m-15-6h0m38 17.5h0m-1.5-47h0m-22.5 38.5h0m8.5-51h0m8 63.5h0m-5.5-80h0m-7.5 46.5h0m12.5-0.5h0m-32 26h0m2.5-14h0m0.5-55h0m34.5 14.5h0m-36 12h0m-2-14.5h0m29 9.5h0m-8 39h0m-3.5-35h0m9.5 37h0m-1.5-47h0m11-22h0m-24.5 69h0m15-6h0m3.5-10.5h0m-15.5-17.5h0m10.5-11h0m-1 37.5h0m14.5-73h0m-28 4h0m-4 31h0m21 35h0m-6.5-32h0m19-11.5h0m-1.5 19.5h0m-15.5 40.5h0m-9.5-21.5h0m9.5-49.5h0m8.5-12h0m-10 68.5h0m-20.5 21.5h0m32.5-58.5h0m-32.5 22h0m33 9.5h0m-9.5 0h0m-16.5-51.5h0m8.5 28h0m1.5 19h0m4-47.5h0m5.5 21.5h0m4.5-5.5h0m-13.5 33.5h0m10.5 16.5h0m7 6.5h0m-33-21h0m0 22h0m24-60h0m8.5 26h0m-32 34h0m14-68.5h0m-3.5 42h0m0-50h0m-13.5 20h0m38 39h0m0.5 16h0m-24-51.5h0m3 47h0m-18-37h0m24.5-37h0m7.5 38.5h0m-11.5 40h0m-14.5-73h0m-2.5 40h0m13.5 32.5h0m-16.5-31.5h0m30 20.5h0m-10.5-14h0m9-51.5h0m-20.5 49h0m31 17h0m-23.5 4.5h0m21-20.5h0m-25 23h0m19-66.5h0m-21 31h0m8-22h0m23 49.5h0m-38-25h0m7-38.5h0m26.5 34h0m4.5-14.5h0m-9 29h0m-25 28h0m1.5-46.5h0m-7.5-8h0m-0.5 19.5h0m24-26h0m-1 0.5h0m-23-4h0m11 45.5h0m-8.5-11h0m29.5 6h0m-11-8h0m-4.5 17h0m-17.5-21h0m19.5 17.5h0m3-61h0m-9.5 82h0m-3-56h0m10.5-2.5h0m17.5 37h0m-35 4.5h0m18-18h0m12.5-25h0m-19.5 42.5h0m-1 11.5h0m12.5-37.5h0m-23-2.5h0m31 26.5h0m-25-1.5h0m-9.5-8h0m17.5 35h0m-3.5-55h0m1 18.5h0m23.5-34.5h0m-34.5 35h0m3.5 20h0m0-52h0m10-14.5h0m10 29.5h0m-26.5-30h0m16 17h0m12 20h0m12 38.5h0m-1.5-53.5h0m-1.5 1.5h0m-0.5 44.5h0m-25-38h0m-9.5 43.5h0m14-66h0m-4.5 2h0m-7 40.5h0m29.5-15h0m2 34.5h0m-5-23h0m-23-28.5h0m21 37.5h0m2.5-60.5h0m-31 52h0m7 28h0m-6.5 8.5h0m19.5-81.5h0m-8.5 41h0m22.5 2h0m-10.5-37.5h0m-13-12h0m-9.5 70h0m27.5-48.5h0m7 13h0m-33-8.5h0m10.5 42h0m13-3h0m-1-36h0m-10 21.5h0m-7-13.5h0m25 45.5h0m5-9h0m-8.5-43.5h0m-5.5 24.5h0m13 0.5h0m-26.5 0.5h0m20.5-24.5h0m-27-10.5h0m9.5-19h0m-12 17.5h0m34 11.5h0m4 32.5h0m-4-25h0m-15 31.5h0m-20.5-76.5h0m6 67h0m27-26.5h0m-2-28.5h0m-0.5 15h0m-21.5 24.5h0m28.5 10h0m-29.5-5.5h0m-0.5-20h0m29-6.5h0m-21.5 1.5h0m-16.5-9h0m42 1h0m-3 20.5h0m-38 42.5h0m35.5-35.5h0m-1.5-35h0m-14.5 49.5h0m-15-38.5h0m29.5-13.5h0m-23.5 47.5h0m11-10h0m-3 3h0m11-20.5h0m4 11.5h0m-30.5-14.5h0m35.5-18h0m2.5 75h0m-4-85h0m-35.5 50h0m-2 30.5h0m39-18h0m-32.5-14.5h0m22.5-44h0m11.5 37h0m-24 23h0m16.5-46.5h0m-3.5 64h0m-28.5-10.5h0m6.5 10.5h0m33-3.5h0m-34.5-69.5h0m-2-11h0m8.5 56h0m0 12.5h0m2-13h0m20 3.5h0m-7.5 11h0m10 17.5h0m-6.5-12.5h0m6 0.5h0m-10-31.5h0m-21 45.5h0m-2-71h0m0 24h0m15-9h0m3 4h0m-2-35h0m-4.5 48h0m-14 27.5h0m6-60h0m18 24h0m-6 35h0m-11.5-49h0m-2.5-1.5h0m15.5 6.5h0m-4.5-25.5h0m7.5 59h0m15.5-52.5h0m-33.5 71h0m3.5-40.5h0m24.5 49.5h0m6-78.5h0m-23 30.5h0m3.5-4h0m-7-19h0m-6.5-3.5h0m-4 12.5h0m21-10.5h0m-23.5 70h0m4-16h0m33.5-8.5h0m-37.5 10.5h0m8.5-13.5h0m27-35h0m5.5 34h0m-35.5-46h0m16 22h0m20 14.5h0m-37.5-0.5h0m26.5-1.5h0m-14 32h0m13-73h0m-30 60h0m8-78h0m33.5 46h0m-2.5 5.5h0m-17.5 1h0m-21 42h0m24.5-14.5h0m16.5-33.5h0m-28.5 39.5h0m18-26h0m-10-16h0m17-24h0m-3.5 50.5h0m-3-25h0m-27-31.5h0m35 52.5h0m-32-18.5h0m9-7h0m7.5 1.5h0m10.5 14.5h0m1-48.5h0m-12 67h0m-23.5-54h0m34.5 75.5h0m3-27.5h0m-11-4h0m-18.5-19h0m-0.5-29h0m7.5 45h0m15.5 3.5h0m-1.5-10h0m-17 9h0m15.5-46h0m12.5 0.5h0m-1 77.5h0m-23-53h0m23.5 18h0m-2 32.5h0m-6.5 1h0m-25.5-21h0m13.5-43h0m15.5 29h0m-18.5 6.5h0m-11.5 21.5h0m-3-35h0m15 43.5h0m19-70.5h0m-27 39h0m13.5 25h0m9-40h0m-25 19h0m0.5-38h0m30.5 58h0m-21.5-81.5h0m-7.5 71h0m21 20h0m-26-59h0m25.5 3.5h0m-16-24.5h0m14-2h0m9 2h0m-30 66h0m10.5-57h0m-2.5 48h0m0.5-40h0m-9.5-12.5h0m28 8.5h0m-7 16h0m-5.5 36h0m-11.5 0h0m21.5 8.5h0m-0.5-10.5h0m2-29h0m-31 15.5h0m36-32h0m-4 21h0m5 9h0m-26.5-22h0m-2.5 44.5h0m23.5-66h0m2.5 29.5h0m1-37h0m-4.5 2h0m-11 8.5h0m-13-11h0m35.5 24h0m-42 41.5h0m20-35h0m9.5 38h0m6.5-42h0m-15.5-21.5h0m-17.5 34h0m27.5 18h0m-10.5-9.5h0m-0.5-41h0m22 36.5h0m-36-38.5h0m10 25h0m25.5-26.5h0m-27.5 49.5h0m1-12h0m11 31.5h0m-5 2h0m18.5-27h0m-12 20h0m-7.5-61.5h0m4.5 43.5h0m-2.5 20.5h0m-18.5-44h0m36.5 23.5h0m2 36h0m-39-87.5h0m25.5 28h0m13-9.5h0m-16 39h0m9.5-15.5h0m2 13.5h0m-4-20h0m7-22.5h0m-35.5-4h0m17.5 50.5h0m-4-0.5h0m13.5-21.5h0m-21-21.5h0m-2.5 57.5h0m7.5-57h0m24 51h0m-4-56h0m-3.5 43.5h0m-12.5-52h0m-4.5 37h0m11-25h0m16.5 3.5h0m-12.5 40.5h0m-3.5-35.5h0m-26.5 29.5h0m38.5 33.5h0m-4.5-88h0m-1 68.5h0m7-3.5h0m-36 24h0m37.5-25h0m-39 0h0m39 16h0m-32.5-60h0m-8.5 66h0m33.5-39.5h0m2.5 13h0m4 5.5h0m-1.5-5h0m-38 30.5h0m8-15h0m18 6h0m-20-58.5h0m26.5-8.5h0m-33-1h0m9-0.5h0m29 4.5h0m-17 39.5h0m14.5 31h0m-21.5-51h0m-5.5 3h0m11 0h0m-17.5-22.5h0m14.5 47h0m-0.5 20h0m-12-17.5h0m8 15.5h0m29-11.5h0m-22.5-32.5h0m-17 9.5h0m38 19h0m-8.5-39.5h0m-30.5 46.5h0m14.5-13.5h0m9-53.5h0m-3.5 76h0m20.5-54.5h0m-14.5-3h0m-10.5-2.5h0m-14.5-5.5h0m38 19h0m-15 30.5h0m-1-63.5h0m-11.5 64.5h0m-12 0.5h0m8-37.5h0m-8-15.5h0m1.5 43h0m3 1h0m-2.5 20.5h0m22-36.5h0m-17.5 39h0m12 10.5h0m-14-61h0m32.5-8.5h0m-35.5 66.5h0m23.5-49.5h0m14.5-24.5h0m-14.5-11h0m-22.5 22.5h0m2.5 33h0m6 21.5h0m22-74h0m-13 76h0m-18.5-79.5h0m6 4h0m29 62h0m-23-19.5h0m5-2.5h0m0.5-22h0m19 26.5h0m-19.5 13.5h0m7 20.5h0m-19-16.5h0m30.5-17h0m-1 10.5h0m-3-68.5h0m-6 36h0m-13.5-9.5h0m27.5 48.5h0m-41 11h0m22.5-41h0m-13-8.5h0m28 36h0m-34.5-54h0m17 0h0m-13.5 34.5h0m6 28h0m1.5-49h0m-14-13.5h0m11.5-5h0m17 26.5h0m-27.5-2.5h0m11.5 37h0m28-45.5h0m-19.5 36.5h0m18.5 10h0m-9-36h0m-21 2h0m21.5 23.5h0m-16-57h0m2 70h0m-10.5-44h0m7 14h0m10.5-37h0m-22.5 60.5h0m15.5 22.5h0m-10-52.5h0m-5-1.5h0m37-19.5h0m-10.5 22h0m-10-16.5h0m10.5 0h0m12-11.5h0"/>
<path stroke="#0072B2" d="M953.5 480.5h0m32-36h0m-14.5 86h0m-22-45.5h0m20 28.5h0m-11 39h0m30-119.5h0m-7-24h0m-15.5 37.5h0m-2 12h0m-15 39.5h0m1-47h0m24-36.5h0m3 89.5h0m-1 29h0m-10.5-117.5h0m17 69.5h0m-28-34.5h0m18.5 59h0m-24-51.5h0m1.5-26.5h0m23-25.5h0m12.5 108.5h0m-36.5-72h0m30.5-10.5h0m-15.5 108.5h0m8-121h0m-20.5-5h0m34 22h0m-2 60.5h0m-17.5-64.5h0m-3 85.5h0m27-2.5h0m-4.5-5.5h0m3.5 36h0m-15.5-85h0m-26 31h0m28.5-38.5h0m1.5-20h0m-24.5-36h0m21.5 31.5h0m12.5 96h0m-0.5-68h0m-11.5-53.5h0m3.5 150.5h0m-16.5-91.5h0m14-13.5h0m-26.5 102h0m15-114h0m-12.5 113h0m32.5-35h0m-27.5 20h0m-3.5-37.5h0m9.5 45.5h0m9-137.5h0m-1.5 88h0m16.5-30.5h0m-2.5 48h0m-35.5-77.5h0m33.5-6h0m-15.5-5h0m-7.5 88.5h0m-2 42.5h0m-4-144.5h0m5.5 97h0m31-15h0m-12.5-75.5h0m4.5 106.5h0m-3-105.5h0m-7 80h0m-0.5-13.5h0m-19-37.5h0m25.5 69h0m-4-52.5h0m6.5 46.5h0m-19.5-24h0m-1.5 4.5h0m19.5 12.5h0m1-18.5h0m-2.5 72h0m2-20h0m-15.5-47h0m16-58.5h0m-10 94h0m6-12.5h0m-15.5 35h0m-12-133.5h0m17.5 95h0m-12.5-23h0m6.5-56h0m-1 89.5h0m14-69.5h0m-2.5-28.5h0m-3.5 82.5h0m15 1h0m-18.5-28.5h0m-7 65.5h0m3-13h0m15-16.5h0m9.5-14h0m-12 6.5h0m-2.5-11.5h0m3.5 7.5h0m-2.5-23.5h0m-19 2.5h0m28.5 58.5h0m-25 9.5h0m22.5-2h0m-7.5-63.5h0m-15.5-74.5h0m-2 130h0m-4-18h0m27 5h0m-8.5 4.5h0m16 7h0m-16.5-4.5h0m1.5-44.5h0m0 20h0m12 42.5h0m-30.5-144.5h0m21.5 152.5h0m6-61.5h0m-6-35h0m-21-29.5h0m13.5 124.5h0m20.5-103h0m-10 0.5h0m12 97h0m-29-50h0m14.5 42.5h0m-12.5-10h0m4-91h0m11.5 57h0m-3.5 27.5h0m6.5 11h0m13 10h0m-5.5-29h0m-32 22h0m15.5-95h0m-1.5 51.5h0m20-42.5h0m-25-27h0m-10 2.5h0m30.5 96.5h0m-25.5-90h0m7-34.5h0m-11.5 130h0m20.5-131.5h0m-24 88.5h0m36-62h0m-28 21.5h0m4 64h0m-9.5 2.5h0m16.5 13.5h0m-11-2.5h0m30.5-78h0m-23.5 98h0m-15.5-30h0m35-1h0m-32.5-20.5h0m6.5-81h0m-6.5 41.5h0m20-29.5h0m-21.5 60h0m4.5-48h0m30 96h0m0-51h0m-2.5-59h0m8 111.5h0m-16.5-81h0m5 80h0m-27.5-127.5h0m-1.5 76h0m3-23h0m36 2h0m-6-16.5h0m2 108h0m5.5-124.5h0m-21.5 40h0m-4 55h0m0.5-12.5h0m-16 24h0m14.5-128h0m13 115.5h0m-4-60.5h0m8.5 21.5h0m-12.5-26.5h0m9.5-9h0m12.5 55h0m-11-90h0m-0.5 18h0m-12.5 101h0m-18.5-27h0m20.5 7.5h0m11-26.5h0m-16.5-78.5h0m7.5 118h0m18-75h0m-16.5 88.5h0m-1-30h0m14.5-43.5h0m-5 81h0m-18-2h0m17.5-116.5h0m-20 71h0m6.5 49h0m-5-20.5h0m-0.5-45h0m-0.5-56.5h0m4 71.5h0m1.5-14h0m15.5-49h0m-23.5 57h0m-2 46.5h0m6 1.5h0m-13.5-9.5h0m38.5 1h0m-27.5-133h0m-5.5 126h0m-1.5-20h0m30 45h0m-4-147.5h0m-3.5 47h0m-19.5 55.5h0m-0.5-13.5h0m23.5-32.5h0m-28 76h0m36.5-102h0m-2.5 111h0m-26.5-7h0m6-71.5h0m17 30.5h0m-17 60h0m8.5-131h0m-19 39h0m-1.5 87.5h0m4.5-18h0m19-71.5h0m10.5 37.5h0m4 47.5h0m-30-63.5h0m25.5-56h0m3.5 67h0m-3-63h0m-23.5 111.5h0m28.5-131.5h0m-14 107h0m-14-93.5h0m19.5 28h0m-29.5-16h0m19.5 16h0m-10 80.5h0m23.5-107.5h0m-27.5 93h0m3 31.5h0m4.5-3.5h0m5.5-17.5h0m14-24.5h0m-37 57h0m1-38h0m10.5-113.5h0m30 136h0m-9-35.5h0m-5.5-23.5h0m11.5-22.5h0m-23 58h0m-8.5-93.5h0m12 25h0m-16.5 74h0m8 4h0m28.5-41.5h0m-1-43.5h0m-10.5 44h0m-18.5 16.5h0m-7-57.5h0m23 10.5h0m-19.5 74h0m31-111h0m-5 97.5h0m-29-87.5h0m-2.5 8h0m34.5 41.5h0m-20 37.5h0m10.5-5.5h0m-5.5-58h0m-10.5-1.5h0m19.5 101.5h0m-25-18h0m38-24h0m-27-112.5h0m26.5 43h0m0 35h0m-18.5 36.5h0m-7.5 5.5h0m-1.5-8h0m-4 40h0m-0.5-99.5h0m29-51.5h0m-2 30h0m-21.5-30.5h0m3.5 7h0m14.5-6h0m-28.5 151h0m7-43.5h0m12.5 0.5h0m18.5-82h0m-29.5 67.5h0m4.5-41h0m-13-32.5h0m30 2h0m-23 26.5h0m11.5-17.5h0m12-10h0m5 125.5h0m-23.5-140.5h0m-11.5 148.5h0m34.5-14.5h0m-18-72h0m-20 28h0m4-98h0m34 95h0m-24.5-70.5h0m26 125.5h0m-1-150h0m-15 123h0m12-73h0m-12 58h0m-7-99.5h0m16.5 125.5h0m-25-32.5h0m27.5-14h0m5.5 27.5h0m-37 42h0m37.5-138h0m-35.5 111.5h0m-0.5-117h0m9.5-17h0m-0.5 125h0m9-69h0m9-14h0m-26.5 109h0m-4-29h0m6.5-62h0m20.5 80h0m-20.5 17.5h0m-3-92h0m18-56h0m-16.5 82.5h0m26.5-58.5h0m-11 52.5h0m2 21.5h0m-7-50.5h0m16 37h0m-25-51.5h0m-8 108h0m32.5-87.5h0m-8.5 75h0m11.5 15.5h0m4-11h0m-20.5-85h0m7.5 60.5h0m6-112h0m-25.5 16.5h0m-7.5 127h0m25.5-39.5h0m-23-66h0m1 56.5h0m5.5 42.5h0m1-134h0m15 139h0m-16-12.5h0m8-17h0m13-116.5h0m-22.5 37h0m11 43h0m15.5 43.5h0m-31.5-30.5h0m14.5 5h0m15.5-58.5h0m-2-10.5h0m-8 29h0m-7 15h0m18.5-55h0m-32 121.5h0m19-35h0m8 13.5h0m8-93.5h0m-13 88.5h0m10-12h0m-10-44h0m-4 97h0m-13-78.5h0m21.5-6h0m-3-8h0m3-14h0m-5-2h0m7.5 53.5h0m-25.5-89h0m35.5 5h0m-26.5-15h0m-15.5 102.5h0m13.5-29h0m29-46h0m-21.5 120h0m14.5-3.5h0m-12.5-109h0m-19 105.5h0m14.5-129h0m3.5 139.5h0m0.5-29.5h0m-2 11.5h0m-9.5-70.5h0m1.5 67h0m3.5-100.5h0m12.5 17.5h0m13.5-34h0m-27.5 73.5h0m-7.5 42h0m2 8.5h0m4-102.5h0m24 58.5h0m-34-27.5h0m19.5-29.5h0m-8 12h0m28-3.5h0m-7 13h0m-23 39h0m14.5-76.5h0m-18 36h0m0.5 31.5h0m10.5 38h0m11.5 28.5h0m-1-101h0m4 50h0m-24-99h0m4.5 42h0m-9 99.5h0m6.5-113.5h0m-3.5 63h0m4 12.5h0m0.5-54.5h0m25.5-27.5h0m-30 22.5h0m-2.5 82.5h0m4-119h0m11 47h0m18 35h0m-12-81h0m7 93h0m-14.5 16h0m15-109.5h0m4.5 114h0m-28.5 12h0m-10-7h0m36-44.5h0m-30.5 15h0m8 35.5h0m27.5-100h0m-20-14h0m-6 121h0m19.5 7h0m-35-10.5h0m19-68h0m-2.5-10h0m0-42.5h0m14.5 12h0m-16-8.5h0m6.5 78.5h0m-5 56h0m9.5-67.5h0m4 57.5h0m-1-63h0m-15.5 24.5h0m23-51.5h0m-9 3.5h0m-17-26.5h0m-5.5 51.5h0m5.5 55h0m-9-35.5h0m27 51.5h0m-1.5-122.5h0m1.5 90h0m-26.5-5h0m4.5-37h0m35.5 53.5h0m-29.5-2h0m10 14h0m2.5-127h0m16.5-0.5h0m-27 0h0m18 95h0m-28.5-84.5h0m4.5 5.5h0m30.5 76h0m-24.5 31h0m-2.5 11h0m11.5-101h0m0.5 51.5h0m-7-69.5h0m2 114h0m0-124h0m3 3.5h0m1-11.5h0m-20.5 26h0m24 51h0m10 15h0m-6.5 36h0m-21-57.5h0m2-31h0m6.5 48h0m-1-45h0m25 34.5h0m-7 55.5h0m-12.5-138.5h0m-8.5 113h0m28.5 24h0m-30-146h0m-1 130.5h0m-9.5-125h0m30.5 148.5h0m2-19.5h0m6.5-11h0m-18.5-24.5h0m10.5-75.5h0m-32 95h0m19.5-26h0m-17-12h0m35 44.5h0m1-97.5h0m-39 67.5h0m15-28h0m6 13h0m-0.5 71h0m4.5-35h0m2-118.5h0m-20 145.5h0m28-9.5h0m-24-83h0m-5 3.5h0m2 5h0m31.5-4h0m-13.5 39.5h0m12-27h0m-33.5 44h0m-2.5-14h0m34.5-55h0m-15.5-17.5h0m-5 75.5h0m10 43h0m-4.5-101.5h0m-4 39h0m16-42h0m3 53h0m-14.5-15h0m-4-54.5h0m0 61.5h0m21.5 19.5h0m-33.5-12.5h0m31.5-87.5h0m-4 4h0m5.5 86.5h0m-0.5-89.5h0m-20.5 27.5h0m-4.5-7.5h0m-2.5-10.5h0m2.5 120.5h0m10-74.5h0m8.5 93h0m-29.5-148h0m12.5-4h0m26.5 78h0m-7.5-48.5h0m-15 99.5h0m13.5-21.5h0m-5.5 24h0m-18.5-94h0m13.5-2.5h0m17 73.5h0m-16-90.5h0m2.5-9.5h0m-9 12.5h0m5 98h0m-8.5-19h0m25-49h0m-2.5 4.5h0m4-10h0m-15-7.5h0m5.5-15h0m7 84h0m-32.5-24.5h0m25.5 21h0m-24.5-4h0m12 49.5h0m23.5-11h0m-15.5 16.5h0m-17.5-20.5h0m-1-38.5h0m-5-18h0m-0.5 17h0m4-52h0m1-43h0m11.5 142h0m-8-103.5h0m12.5 65h0m19.5-1.5h0m-4.5-64h0m-31-37h0m16 4h0m-15 118.5h0m27-113.5h0m-22.5-6.5h0m7 103h0m13-43.5h0m-28.5 63.5h0m38-39.5h0m-25.5-37h0m19.5 78.5h0m-6-21.5h0m-21.5-88h0m11.5 125.5h0m-18.5-40.5h0m5.5-53h0m32 8h0m-32.5-15.5h0m6.5 60.5h0m5.5-43.5h0m-10 83.5h0m12.5-83.5h0m19.5 76h0m-11.5-52h0m-16 52h0m6-114.5h0m9 84h0m-5.5-55h0m9 50h0m3-86h0m-23 70.5h0m23.5-22.5h0m-27 32.5h0m28.5 26h0m-23-23.5h0m11.5 24h0m3.5-34.5h0m0.5 12h0m-15-90.5h0m-8 112h0m3.5 30.5h0m27.5-123.5h0m-32.5 76h0m3 3.5h0m6.5 0h0m10.5 11h0m0 16.5h0m-24-72h0m22.5-85h0m0.5 129h0m13-85.5h0m-6 0h0m8-23.5h0m-13.5 44.5h0m9.5 75.5h0m-27.5-90.5h0m13-25h0m-9.5 3.5h0m26 99.5h0m-21.5 31h0m15.5-27h0m-22-28h0m27-53.5h0m0.5 127h0m0.5-149.5h0m-12.5 3h0m-13 44h0m3 36.5h0m18-69h0m-27 10h0m12 91.5h0m-17-103h0m28.5 129.5h0m-3 0h0m16-153h0m-23.5 143.5h0m-12-128h0m29 139.5h0m-1-113.5h0m-28.5 118h0m15.5-27.5h0m-2-80h0m7 35h0m-4.5-30h0m-20 86.5h0m4-31.5h0m-3-16h0m19 39h0m19.5-75h0m-20 21h0m-4.5-64h0m23.5 66h0m-12-77.5h0m-19 118h0m-9.5-36h0m26.5 62h0m-1-72h0m-6.5 6.5h0m9 29.5h0m-3-54.5h0m-0.5-13h0m1.5 62.5h0m-26 36h0m31.5-49h0m-3-70.5h0m-13.5 67.5h0m9.5 51.5h0m1.5-27h0m7 17.5h0m-14.5-15.5h0m-16-31h0m8.5 17h0m17.5-15h0m-14 61h0m11.5-84h0m-2.5 23h0m-3 11h0m-15.5-89.5h0m4.5-3.5h0m5.5 111h0m16-8h0m-11.5-51h0m-1 21h0m-8.5-30h0m4 32h0m23.5-28h0m-2.5 104.5h0m-29-55h0m-1.5-52h0m29 61h0m-16.5-12.5h0m20.5-9h0m2.5 38h0m-28-93h0m30 77h0m-28.5-86.5h0m27 5h0m-4 84.5h0m-18.5-64.5h0m10.5 43h0m-2 5.5h0m-15.5-67.5h0m23 23.5h0m-14 99h0m-19.5 0.5h0m26.5-146.5h0m-1 81h0m-3 31h0m4.5 35.5h0m-5.5-15h0m-19.5 15h0m38.5-25h0m-40.5-106.5h0m1 117h0m34-42h0m-10.5 27.5h0m-18-7.5h0m4.5-11h0m30.5-64.5h0m-2-11h0m-1.5 29.5h0"/>
<path stroke="#0072B2" d="M1041 409h0m-29 4h0m32 101h0m-16-23.5h0m8-88.5h0m1.5 55.5h0m-15.5-50h0m21 1h0m-27 1h0m-6.5 7h0m34 5.5h0m-0.5-18.5h0m-6.5 5.5h0m-23.5 83.5h0m-9.5 39h0m3.5-67h0m7 5.5h0m18.5-35.5h0m10.5-30.5h0m-11 22h0m-29 32.5h0m15.5 47h0m-13 0h0m26.5-102h0m7.5 89h0m-12.5 2h0m1-41h0m7.5-23h0m-17.5 43.5h0m14 20h0m9.5-8h0m-15-82h0m-19 44h0m32.5-7.5h0m-23.5 24.5h0m14 7h0m2-16h0m-3.5 28.5h0m-14.5-55h0m10 0.5h0m-2.5 10h0m22.5 57.5h0m-11.5-0.5h0m-16.5 11h0m24.5-59.5h0m-28.5 47h0m24.5-4.5h0m-19-28.5h0m9.5 3.5h0m-17.5 18.5h0m8.5-67.5h0m-2.5 37.5h0m-1.5 77h0m15.5-20.5h0m-24.5 9h0m8-59h0m16-19h0m-4.5-23h0m4.5 67.5h0m-12.5 0h0m-4.5 3.5h0m18.5-47.5h0m13 30h0m-41-77.5h0m2.5 45.5h0m8 46h0m0-45h0m-4 51h0m19.5-31h0m-25.5 20.5h0m40.5-96.5h0m-19 115.5h0m2-119h0m3 53h0m-17.5 53h0m-8.5-92.5h0m37 42h0m1.5 74h0m-24.5-42.5h0m17.5-31h0m-2.5-23.5h0m-20.5 105.5h0m14.5-32h0m4-62.5h0m-9.5-5.5h0m-13.5-5.5h0m35.5-1h0m-20.5 5h0m-19 61.5h0m37.5-35h0m-8 77.5h0m1.5-136.5h0m2.5 64.5h0m-13.5-26.5h0m-3.5-20.5h0m-14.5 21.5h0m21.5-31.5h0m-20.5 22h0m11.5-21.5h0m-3.5 97.5h0m15.5-60.5h0m-9 22h0m0-55.5h0m0 79.5h0m9 24.5h0m13-88h0m-6 52.5h0m-9 40h0m-11.5-5.5h0m-4.5-49.5h0m-9.5 22.5h0m24-19.5h0m-11.5-63.5h0m28 69h0m-19.5 21h0m-11-8h0m3-9.5h0m-10-49.5h0m5.5 91h0m-4.5-78.5h0m2 88.5h0m20.5-69h0m11-49.5h0m-37.5 80.5h0m7-21.5h0m14.5 18h0m-2-32.5h0m-2.5 81h0m15.5-95.5h0m-10.5 57h0m-20-1.5h0m31.5-55h0m2 111.5h0m-14.5-53h0m-15.5-53h0m19.5-7.5h0m-11 77h0m15.5-90.5h0m-20 34h0m30.5 68h0m-25.5-0.5h0m1.5-8h0m-13.5-53h0m-2 14h0m22.5 38.5h0m-20-74.5h0m9 15.5h0m-7-43.5h0m2 74.5h0m0.5 19.5h0m22.5-13.5h0m4.5-29.5h0m-4.5 19.5h0m-15.5 37h0m20-50h0m-22.5-29.5h0m-8.5 116.5h0m3.5-107h0m9.5 33.5h0m22-67.5h0m-28.5 114h0m8-77h0m-18-32.5h0m42 69h0m-15-11h0m5-37.5h0m-15 87h0m10-50h0m-5.5-48h0m-2 17.5h0m21.5 78h0m-33-62.5h0m31 16.5h0m-18.5-45.5h0m4-24.5h0m-16 64h0m30-12.5h0m-11 38h0m9.5 26h0m-19-34h0m17.5 6.5h0m-14 25.5h0m-4.5-13h0m0.5-39.5h0m1.5 18h0m-8 6.5h0m8.5-4h0m-9.5-68.5h0m-10.5 48h0m40-29h0m-6-5.5h0m-19 6h0m-3-15.5h0m30 86.5h0m-37-71h0m29 48h0m-16-6.5h0m13 12.5h0m-21.5-83.5h0m19 69h0m-19.5 11.5h0m32-6h0m-20.5-69h0m-13.5 97h0m15-13h0m-17 4.5h0m20-43h0m-7-8.5h0m-1.5-41.5h0m20 49.5h0m-4.5-18h0m7 58.5h0m-12 16.5h0m-15.5 13.5h0m28-64h0m-14.5 32.5h0m-14-78.5h0m24 69.5h0m-9 16.5h0m-4-44h0m-3.5 0h0m9 37h0m4-70h0m-1.5 68.5h0m-25-41h0m-5-30h0m26.5 23.5h0m-15 77.5h0m10.5-117.5h0m-7.5 19.5h0m16.5 55.5h0m5-32h0m-32.5-50h0m35.5 115.5h0m-12.5-85.5h0m10.5-8h0m-34.5 75h0m25.5-67.5h0m13.5-1h0m-41 28h0m29-34h0m-12 96h0m11.5-26h0m-25.5-63.5h0m14-18.5h0m-14.5 75h0m34.5 23h0m-19-20h0m-5 25h0m3-56.5h0m18.5 10.5h0m7-66h0m-24 82.5h0m18.5 19h0m-16.5-28h0m22 26h0m-7-51h0m-25.5-8h0m-1.5 105.5h0m19.5-104h0m-22.5-35h0m9.5 2h0m3 117.5h0m14-70h0m-27.5 5.5h0m19.5 10h0m-1-48h0m-10 87.5h0m-6-23h0m18.5-24.5h0m-12.5-50h0m-5 130h0m29-138h0m-27.5 22.5h0m21-13h0m-9.5 48h0m15.5-39h0m-11 85h0m-6-104.5h0m3.5 9h0m14.5 104.5h0m-4.5-25.5h0m-26-19.5h0m-6.5-49h0m10 30.5h0m24-49.5h0m3.5 11h0m-9 55.5h0m-25-10.5h0m37.5-3h0m-6 21h0m-3-35.5h0m-17.5-27.5h0m23.5 90h0m-8-30.5h0m-16.5 25.5h0m-12-82.5h0m13.5 88.5h0m17 4h0m-11 8h0m19.5-29h0m-30.5-48h0m22 56.5h0m-27 21.5h0m1-82.5h0m-5-27h0m4.5 98.5h0m20.5-1h0m7.5-70.5h0m-30.5 86h0m13-56.5h0m-11 55.5h0m33.5-4.5h0m-34 1h0m16.5-31.5h0m-9.5 4h0m31-75h0m-37-2.5h0m3.5 67h0m-2.5-36h0m-5.5 66.5h0m14 2h0m0-52h0m18-53.5h0m-21.5 84.5h0m28-11.5h0m-3.5 25.5h0m-2-87.5h0m-1.5 97.5h0m-21-40.5h0m-7.5-14.5h0m8 66h0m9-91.5h0m12.5 67.5h0m-13.5-22.5h0m12 41.5h0m7.5-78.5h0m-5-27.5h0m-26.5 83.5h0m23-26h0m2-25.5h0m-30 63h0m10.5-84h0m15.5 67.5h0m-12-95h0m5 105h0m6.5 18.5h0m-24-116h0m-3 4.5h0m38.5 32.5h0m-38.5 36h0m37 11h0m1.5-40.5h0m-2-3h0m-25 80.5h0m0-98.5h0m0.5 44.5h0m25.5 14.5h0m-16-54h0m16.5 39.5h0m2.5-76h0m-40.5 100h0m-1 7.5h0m2 6h0m1-58.5h0m14.5-18h0m-15.5 69.5h0m19-34h0m-4.5-11h0m19 27h0m-22.5-84.5h0m24.5 72h0m-15.5 32.5h0m12-21h0m-4 34h0m-29-111h0m29 32.5h0m-24 15h0m22 40.5h0m-16-58.5h0m29.5 18.5h0m-25.5-47h0m17.5 71h0m-20.5-30.5h0m28 52h0m-23-0.5h0m-13.5-51h0m16 4.5h0m-4-42h0m-4.5 5.5h0m20.5 15.5h0m8 8h0m-6 38h0m-2.5-31h0m-2.5-55.5h0m-24.5 70.5h0m11.5-16.5h0m19.5 27.5h0m-35.5 47h0m15-96.5h0m1 114.5h0m20-35.5h0m-1 8.5h0m-8-39h0m8-66.5h0m-28 21h0m1.5-35.5h0m4 60h0m6.5-24h0m-8 77.5h0m2-12.5h0m22-0.5h0m-14-81.5h0m16 76h0m-1.5-61.5h0m-10 74.5h0m-22.5-38.5h0m18.5 37h0m-14-97h0m0 115.5h0m-3.5-66h0m20.5-30.5h0m-0.5 81.5h0m15.5-3.5h0m-7.5-104h0m-2.5 54.5h0m-14.5 40h0m14.5-32h0m3.5-23h0m-22-13.5h0m14.5 44h0m15-61h0m-31.5 12h0m32.5 7h0m-39-19.5h0m29 90h0m-19-42.5h0m10.5 65.5h0m-8.5-90.5h0m7 28h0m4-24.5h0m-1.5 85.5h0m5-28.5h0m8-69.5h0m-22 60.5h0m-2.5 37h0m25-111.5h0m-17.5 82h0m17.5-67h0m-37.5 17h0m4.5 81.5h0m-2.5-26.5h0m14 7h0m1.5-55h0m-4.5-8h0m2-15h0m-8.5 80.5h0m9 16h0m17 5.5h0m-2-32h0m0-62h0m10 34.5h0m-21.5 49.5h0m22-104.5h0m-8 112h0m-29.5-32h0m32.5-58h0m-25 50.5h0m1-51h0m6.5 59.5h0m15-51h0m-15.5 24h0m20 55h0m-2.5-79h0m-31.5 99h0m22.5-33.5h0m12.5-89.5h0m-5.5 84h0m-26.5-85.5h0m28.5 110.5h0m-12-103.5h0m6.5-15h0m-5.5 141h0m5-110h0m11.5 73h0m-30.5 4.5h0m30-30.5h0m-6.5-53h0m-1 62.5h0m-5.5 8.5h0m-28.5-86h0m4 51h0m14-59h0m2-1.5h0m21.5 81h0m-29 19.5h0m27.5-10.5h0m-20.5-40.5h0m3.5-12h0m-8.5-9h0m-12-5h0m25 16.5h0m-6.5 51h0m11.5 3h0m1-76.5h0m-7 16.5h0m-10 67h0m0-125.5h0m-2 76h0m-5-6.5h0m-7.5 20h0m6 54.5h0m-6.5-118.5h0m-1.5-17.5h0m36.5 98h0m-12.5 18h0m-19.5 3.5h0m7.5-64h0m-5.5 3h0m31-54h0m3 13.5h0m-39.5 54h0m22 40h0m-9.5-85.5h0m12.5 108h0m-15.5-44h0m18.5-71h0m4.5-3.5h0m8 52h0m-1.5 30.5h0m-28.5-76.5h0m-7.5 83.5h0m14-1h0m-17.5-73h0m35.5 46.5h0m4.5 34h0m-26-70h0m3.5 80h0m-0.5 16h0m-1.5-92.5h0m-2 39.5h0m-13 55h0m30-53h0m0 28.5h0m-26.5-66h0m1.5 33.5h0m-1.5-23h0m6.5-34h0m31.5 22.5h0m-33.5 31h0m34 36.5h0m-27.5-47h0m15.5-19.5h0m2.5-12.5h0m-15.5 75.5h0m5.5 16h0m-18.5-111.5h0m34 78.5h0m-18.5-43.5h0m11.5-14h0m-29.5 99.5h0m31.5-13.5h0m-28.5-66h0m2 20.5h0m12 33h0m-6.5-31.5h0m-12.5-11.5h0m24.5-47h0m10.5 25.5h0m-9-33.5h0m2.5 109.5h0m4-99.5h0m0 27h0m-3.5-29.5h0m-23 81.5h0m32-56.5h0m-24 40.5h0m19.5-62.5h0m-32 39h0m19.5-24h0m-6 85.5h0m3.5-70h0m6 69h0m6-51h0m-28 41h0m37 19h0m-29-21.5h0m-6.5-35.5h0m20 40h0m13.5-103.5h0m-25.5 115h0m0-110h0m6.5 5h0m20-17h0m-4.5 71.5h0m-7.5-62h0m14 21.5h0m-18 78h0m-17.5-80h0m29 53.5h0m2-65.5h0m-32.5 36h0m6.5-18.5h0m10 82.5h0m-17.5 28.5h0m8.5-45.5h0m23.5-39h0m-32 67.5h0m7-102.5h0m10 51.5h0m-1-11.5h0m2.5 7.5h0m11-62.5h0m3 65h0m-26 43.5h0m-4-45.5h0m33 45h0m3.5-124h0m-7.5 99.5h0m-17.5-81.5h0m8.5 68h0m2.5 11h0m3.5 26.5h0m-29.5-25.5h0m30-79h0m-9.5 108.5h0m1-16h0m-4-49.5h0m7.5 12.5h0m-11.5 51h0m24-33h0m-15.5-38h0m-16.5 36.5h0m30.5 1.5h0m-6 30.5h0m-29-55.5h0m38 55h0m-15.5 2h0m-4.5-96.5h0m-17 80.5h0m31-100.5h0m-19.5 87h0m2.5-58h0m15 81.5h0m-23-78.5h0m3 96.5h0m-6-28h0m16-49.5h0m-13 40.5h0m-9.5 21.5h0m20-31.5h0m-11 31.5h0m-9-77h0m16 19.5h0m23.5-20h0m-2.5-17h0m-25.5 54.5h0m24-9h0m-15.5 31h0m13.5-10h0m-34-53h0m30-23.5h0m7 37h0m-5.5-4h0m-30.5 26h0m20-36h0m13 73h0m-13-98.5h0m10 92h0m3 17.5h0m-24.5-39.5h0m26 53h0m-11.5-3.5h0m2-1h0m-1-95h0m-0.5 7h0m-21 91h0m4-11.5h0m-4.5-39h0m21 28h0m10-2h0m-24.5 2h0m-7.5-46.5h0m13-7.5h0m7.5 0.5h0m-10 8h0m27.5 60.5h0m-22-35h0m12.5-50h0m-16 58.5h0m-0.5 32h0m-12.5-44h0m25.5 12h0m11.5-14.5h0m-36.5-1h0m7-28h0m6 68h0m20.5-5.5h0m-8.5-66h0m-0.5 77h0m-3-79h0m-16.5-25h0m21.5 52h0m-18.5-40.5h0m6.5-33h0m17 70.5h0m-30-54.5h0m25.5 107.5h0m13 3h0m-8.5-105h0m0 11.5h0m-15.5 2.5h0m7.5-15h0m9.5 56.5h0m5.5 43h0m-9.5-32h0m-17.5-57.5h0m21 7.5h0m-11 59h0m-15.5-94.5h0m16 127.5h0m-15.5-36.5h0m16.5-31.5h0m17.5-45.5h0m-19 107h0m5-74.5h0m10-8.5h0m-18.5 24.5h0m23-28h0m-40 31.5h0m14 1h0m-8.5 58h0m7.5-23.5h0m16-53.5h0m-18.5 66h0m26.5-80.5h0m-26 4.5h0m28.5 79.5h0m-14.5-65.5h0m-14.5 34h0m26 2.5h0m-17 14.5h0m9 24.5h0m-27.5-62.5h0m-1.5-27.5h0m4.5 70.5h0m-1-54h0m-5.5 75h0m27-9.5h0m3.5-83h0m-12 1h0m-9.5 6h0m-2 60h0m34-68.5h0m-23 81h0m-3.5 21h0m-2.5-121h0m20.5 26.5h0m-10-24h0m17.5 46h0m-39.5-55.5h0m6.5 84.5h0m14.5-39.5h0m-12 37.5h0m32 39h0m-30.5-26h0m-4-10h0m19.5-10h0m-21-12h0m19-18h0m11 33.5h0m-13-51.5h0m-13.5 19h0m8 59.5h0m1.5-70h0m9.5-29h0m-9 112h0m12-25.5h0m-14 18h0m4.5-45.5h0m0-46.5h0m-6 101.5h0m-13.5-37h0m11.5-57.5h0m15.5 58h0m11 63h0m-25-30.5h0m-9.5-66h0m18.5 68h0m-2-30h0m-1-91h0m-11.5 74.5h0m15-26h0m12.5 35.5h0m-24 5.5h0m14.5 38h0m-22-97.5h0m-5.5 9h0m27.5-4h0m-14 67h0m18-33.5h0m-12 23.5h0m-10-28h0m10-58h0m10 44.5h0m-9.5-13.5h0m18 63.5h0m-6-62.5h0m-30.5 16.5h0m2.5-10.5h0m18 38.5h0m-9.5 1h0m7.5-59.5h0m15.5 48.5h0m-33-40.5h0m31 7h0m-24-31h0m23 38h0m4 70h0m-15.5-20.5h0m12.5 24h0m-20.5-80.5h0m12.5 67.5h0m-26 23h0m10-25h0m8-53.5h0m-12.5-3.5h0m19-33h0m-23.5 6h0m32.5 92h0m-23.5-105.5h0m14 67h0m5-34.5h0m-7.5 35h0m-1.5 39.5h0m19.5-83.5h0m-6 68h0"/>
<path stroke="#D55E00" d="M1074.5 495h0m17.5 4h0m-27 73h0m16.5-63.5h0m-0.5 15.5h0m-9 52h0m-13-82.5h0m22.5 28.5h0m-15.5-9h0m-3-14h0m14 49h0m-13.5-42h0m8-8h0m25 58.5h0m-14-25h0m9.5 27h0m-8-27h0m11.5 46h0m3-56h0m-14.5 3h0m-18.5 29.5h0m7.5-7h0m7.5-10.5h0m2-25h0m7.5-5.5h0m2.5 21h0m-29.5 50h0m28.5-62h0m3.5 33.5h0m0-39h0m-37.5 41.5h0m6 6h0m2.5-21.5h0m3 39.5h0m-11.5-58h0m13-12.5h0m-0.5 39.5h0m-1-38h0m28 18.5h0m-3 46h0m-22-71h0m19 52.5h0m-28-29h0m20.5-31h0m-21 76h0m32.5-60h0m-26 37h0m-6-22.5h0m-3.5-8.5h0m5.5-2.5h0m20.5 39.5h0m-12.5-56.5h0m-11 12h0m29.5 56.5h0m3.5-24h0m-8-6.5h0m-3.5-17.5h0m10 5.5h0m-15 1.5h0m-6 12.5h0m22.5-36.5h0m-20 23h0m22.5 23.5h0m-18-14.5h0m5-35h0m-5.5 49.5h0m-20.5-52h0m28 42.5h0m4-21.5h0m-30 19h0m14 33.5h0m3-55h0m-6.5 15.5h0m28 6h0m-19-17.5h0m0 54.5h0m-4.5-31h0m18.5 10h0m-26.5 7h0m9.5-6h0m-7-13h0m14.5 13.5h0m-3.5-53h0m-3 3h0m17.5 73h0m-35-28.5h0m37 21.5h0m-37-11h0m28.5-20.5h0m5.5 13h0m-21.5-24h0m-12.5-9.5h0m25.5 46h0m-22.5-89.5h0m34.5 4.5h0m-40 102.5h0m39-35h0m-20-21h0m-8.5-7.5h0m-5-18h0m2 12.5h0m-7.5 2h0m32.5 38.5h0m-24.5-53.5h0m20 22h0m8.5 16.5h0m-20.5-31.5h0m-13.5 31h0m5.5-1h0m-1 40.5h0m6.5-47h0m-8.5 12h0m21.5 27.5h0m-6.5-74.5h0m16 27h0m-5.5 5.5h0m-29.5-25h0m17-2h0m-5.5 76.5h0m18-28h0m-20.5 18h0m3.5-5h0m-1.5-32h0m17.5 51h0m-21-33h0m0.5 23.5h0m-0.5-73h0m24.5 54h0m-10 25h0m-22.5-81h0m40 4h0m-36 19.5h0m31.5-23.5h0m-3 15.5h0m-1.5 1h0m1-1.5h0m3 54h0m-4 2.5h0m-2.5-3h0m-15-64h0m-4 72.5h0m5-36.5h0m8.5 17h0m3-55h0m8.5 75.5h0m-20-61.5h0m7.5 56h0m-17.5 13h0m15-93h0m-9 25h0m-10.5 4h0m24 46.5h0m-18.5-15.5h0m1-52.5h0m14.5 17h0m-1 53h0m20.5-23h0m-8.5-55h0m-7 60.5h0m15 24.5h0m-41-71h0m18.5-5.5h0m13.5 71h0m0-23.5h0m-13 35h0m-10.5-28h0m-1.5-43h0m34.5 74h0m-5-18h0m-36 16h0m27.5-1h0m-10-81.5h0m2 77.5h0m5-61.5h0m-10.5 36h0m16-49.5h0m-15.5 63h0m-1.5-10.5h0m10.5 10h0m-8.5-26.5h0m16.5 24.5h0m5-56h0m-29 5.5h0m-4 9.5h0m38 21.5h0m-9.5-14.5h0m-10.5 9h0m-22-5h0m22-16.5h0m-13-1h0m30.5-10h0m-28 12.5h0m12 31.5h0m-2.5 30.5h0m5-35.5h0m3-9.5h0m-14.5-38h0m22.5 71.5h0m-10-14.5h0m12 9h0m-39 13.5h0m4-65.5h0m30-0.5h0m-1 13.5h0m-23.5-10h0m20-3h0m-3 71h0m-2-86.5h0m13 21h0m-6.5 13.5h0m-0.5-28h0m-30.5 36h0m34.5-18h0m-2 43h0m-1 17h0m-21-9.5h0m20-85.5h0m-21.5 36.5h0m-8 22.5h0m29-18.5h0m1.5 33h0m-22-39.5h0m21 58.5h0m-30.5 5.5h0m23-10h0m-1.5-51h0m12 14.5h0m-14-26h0m18 61h0m-15.5-71h0m8-11.5h0m3.5 27h0m-12.5 3h0m-17.5-8h0m36 47.5h0m-27.5-46.5h0m-7.5 32h0m15.5-38h0m-11-4h0m29 61h0m-37.5-43.5h0m13.5-22h0m24.5 8h0m-18.5 27.5h0m-13.5 47.5h0m17-63h0m12-2.5h0m-29 3h0m27.5 15.5h0m-31.5 39h0m15-65h0m-1 12h0m11.5 36h0m12 10h0m-26.5-23.5h0m10.5-15.5h0m-15 40.5h0m5-30.5h0m8.5-11.5h0m4.5-28.5h0m-15.5 26.5h0m8 56h0m-9-5h0m17.5-2.5h0m-18 12h0m18-53h0m-3 55h0m6-69.5h0m-17.5 54h0m17.5-83h0m-26 63.5h0m30.5-26h0m-25.5 40.5h0m20.5-12h0m7.5-52.5h0m-4.5 24h0m-16-26.5h0m19.5-8h0m-28 19.5h0m-7-3.5h0m13 2.5h0m12-12h0m6 3h0m6.5 66.5h0m-29-65.5h0m4 84.5h0m-1-77.5h0m-7.5 73.5h0m5-53.5h0m12.5-25.5h0m-8.5 76.5h0m-2 4h0m-12.5-14.5h0m22.5-44h0m-11 14h0m21.5 15h0m-24-7.5h0m1-0.5h0m5 6.5h0m-13.5-47h0m24.5 66.5h0m14-31.5h0m-18-35.5h0m-22 22h0m14-15h0m25.5 67h0m-5.5-71.5h0m-8.5 32h0m-16.5 38.5h0m11-72h0m-11.5 53h0m30-61h0m-16.5 6.5h0m-19 26.5h0m21.5-0.5h0m-15.5 17.5h0m-2-16.5h0m-6-42.5h0m32.5 79h0m-26.5-56.5h0m34.5-3h0m-2.5 76.5h0m-19-45.5h0m-2 25h0m15 6h0m-21.5-19.5h0m-9 16h0m16-37.5h0m14.5-31.5h0m-2 75.5h0m0-35.5h0m-29.5-27h0m30.5 49h0m-26.5 15h0m10-69.5h0m26 36h0m-28.5-35.5h0m20 66h0m0-25h0m-30-40h0m-1.5 24h0m32.5-9h0m-34-22h0m33 74.5h0m2.5-55.5h0m3.5 40h0m-11-19h0m5-38h0m6 81h0m-24-56h0m4-12.5h0m4.5 30.5h0m-6-58.5h0m19 61h0m-7.5-38h0m-15.5 18h0m-5.5-7h0m3 43h0m18-62h0m-16 57h0m11.5-34.5h0m4-15.5h0m-9 34.5h0m18.5-15h0m-8.5 12h0m-23.5 39h0m12.5-51.5h0m6.5-29.5h0m-18 23h0m12 12.5h0m5 37h0m-8-64.5h0m-1 0h0m-1.5 70h0m9 6.5h0m17.5-71h0m-8.5-13h0m10 37.5h0m-21.5-3h0m12-8h0m-27.5-17h0m31 30.5h0m-26 30.5h0m21 16h0m-20.5-30h0m10.5-58.5h0m-7.5 82h0m24-55h0m-27 50.5h0m13-42.5h0m4-18.5h0m-26.5 64.5h0m16-39.5h0m-15.5 38.5h0m41-33.5h0m-0.5-8h0m-8.5 34.5h0m3.5 4h0m3.5-1h0m-2.5-54h0m-19 2h0m-16.5 32h0m23-3.5h0m-9.5 32.5h0m9-33.5h0m5.5-27h0m11.5 46.5h0m-20.5-1h0m-18.5-32h0m29.5 44h0m-4.5-69h0m-21.5-23.5h0m33.5 94h0m-28-79h0m-8.5 34.5h0m30.5-2h0m-32.5 7.5h0m22.5 14h0m13 12h0m-34.5-50h0m20 66.5h0m-11-71h0m-10 31h0m1 26h0m32-9h0m-1.5 12h0m-4.5-45h0m-11.5 25.5h0m19.5-49h0m-6 63.5h0m4 0.5h0m-8.5-27.5h0m-14 10.5h0m27 27.5h0m-30-41h0m1 22h0m6.5-27.5h0m5 35.5h0m-7.5-36h0m12.5-2.5h0m-8.5 53.5h0m2-13.5h0m3.5-44h0m-17 55.5h0m34.5-3.5h0m-7.5-21.5h0m-9 21h0m-24.5-13h0m6-38.5h0m25 0.5h0m-1-6.5h0m-9 2h0m13-21.5h0m-5 30.5h0m-16.5 16.5h0m-6 21.5h0m14-7h0m1 4.5h0m-12.5-47.5h0m2 64h0m29.5-66.5h0m-3.5-3h0m-8.5 54.5h0m-13-31h0m26-7.5h0m-15.5-25h0m-5.5 49.5h0m-2.5-35h0m-18 44h0m9.5-7.5h0m29.5 14h0m0.5-62.5h0m-28 13h0m-10.5-15h0m15.5 66h0m8-6h0m-10.5-27.5h0m21.5 17h0m-22.5 1.5h0m-1 32.5h0m-5.5-71.5h0m2 16.5h0m30.5-31h0m2.5 76.5h0m-4-74h0m-24.5 9h0m12.5 11.5h0m-6.5 19h0m21.5 17h0m-16-1.5h0m3-21h0m-25.5 8.5h0m36.5-22.5h0m-35.5-1.5h0m16.5 45.5h0m-9-61.5h0m4.5 43.5h0m14.5-49.5h0m5 3.5h0m-17 29.5h0m-0.5-6h0m22 30.5h0m2.5-15h0m-26-36h0m-4 14.5h0m23.5 61.5h0m-25-34h0m-6 11h0m29 12.5h0m3-68.5h0m-14.5 59h0m16-23.5h0m-31 23.5h0m0 13.5h0m19-64.5h0m15 13.5h0m-25 11.5h0m16-29h0m-2 16h0m-28.5-7.5h0m39.5 66h0m2-8.5h0m-6.5-66h0m-1.5 3h0m-30.5 14h0m30 59.5h0m1-29h0m-25.5-13h0m21.5-21h0m10.5 34.5h0m-8-4.5h0m-25.5 4.5h0m17-18h0m-1 29.5h0m2-30h0m7 45h0m-20.5-31h0m5-43.5h0m1.5 54.5h0m13.5-36h0m-24 46.5h0m14-77h0m1 70h0m0 12.5h0m5-62.5h0m-27.5-19.5h0m18 57.5h0m14.5-35.5h0m-25-2h0m22.5 62.5h0m-8 1.5h0m-21-42.5h0m29-12h0m7-14h0m-9.5 32.5h0m-17-3.5h0m6.5-31h0m6 55.5h0m-4 7h0m14.5-13.5h0m-6.5 22h0m-10-83h0m-13.5 75h0m-0.5-29h0m18.5-14.5h0m0.5 11.5h0m-14-41.5h0m20 16h0m-24.5 9h0m3.5-32.5h0m17.5 13h0m-19.5 50h0m13 31h0m-19-50h0m17.5 41.5h0m-6.5-26.5h0m0-30h0m16.5 17.5h0m-18 2h0m-7.5-25h0m23.5 59h0m-10.5-13h0m-10 16h0m31.5-66h0m0 11h0m-6 53.5h0m9-46h0m-17-25h0m7 27h0m-14.5 40h0m-8.5-58.5h0m11 24.5h0m20 9.5h0m-8.5-31h0m-14 4h0m0-20.5h0m-14.5 77.5h0m7.5-12.5h0m31.5-66.5h0m-32 56h0m10-17h0m-8.5-11.5h0m9 1.5h0m-17 43h0m25-73h0m-26 73.5h0m12-21.5h0m-8-50.5h0m7 38h0m-2.5 40.5h0m-5.5-29h0m4-26.5h0m7.5 13h0m-13-11.5h0m8.5-15.5h0m-7.5 55h0m8-48.5h0m-6.5 63.5h0m37.5-38.5h0m-3.5-41.5h0m-20.5 29.5h0m8.5-23h0m-11 23.5h0m0-4.5h0m-3 37h0m29.5 24h0m-14-78h0m-22.5 58.5h0m8.5 18h0m24-62h0m-12 28h0m-13.5-14h0m14.5 4h0m-24.5-56h0m24.5 89h0m-22.5-42h0m1 14.5h0m-4.5-21.5h0m17 42.5h0m-7.5-69h0m4 50h0m-8 29.5h0m30-68.5h0m-5.5 39.5h0m-5.5-30.5h0m-0.5 38h0m-11 0h0m2.5-4h0m-14-47.5h0m15.5 49h0m2.5 13h0m21-8.5h0m-13-12.5h0m13-46h0m-14.5 78h0m-8.5 6.5h0m-1.5-14h0m17.5-23h0m-14-14h0m8-26h0m6.5 20.5h0m-10 40.5h0m-3 17.5h0m-2.5-1.5h0m-1.5-69.5h0m-2.5 45.5h0m-12.5-14.5h0m6 4.5h0m-5.5-30.5h0m29.5 13.5h0m-6.5-22.5h0m-19 59h0m1 8h0m30-25h0m-13.5-20.5h0m-8.5 32h0m3-1.5h0m6.5-73.5h0m-25 14.5h0m20.5 57.5h0m18-61.5h0m-10.5 40h0m3.5 27h0m-32 7h0m6.5-10.5h0m23.5-53.5h0m-0.5-2.5h0m-25.5 65.5h0m2.5-28.5h0m32.5 8.5h0m-34-39h0m33.5-9.5h0m-29.5 32h0m-8.5 16.5h0m29-25.5h0m1 57h0m6-29.5h0m-26.5-30.5h0m-8 16.5h0m17-20h0m-15.5 46h0m4 14.5h0m34.5-3.5h0m-39 8h0m20-49.5h0m-9 20.5h0m20.5-48h0m-15.5 14h0m-16 44h0m24.5-7.5h0m5.5 19h0m8.5-72.5h0m-14 75.5h0m-7.5-7h0m19.5-79.5h0m-9.5 64h0m-28.5-49.5h0m17.5 66h0m-6-66.5h0m22.5 42.5h0m-34-26.5h0m-0.5 24.5h0m5-42.5h0m-4 47.5h0m27.5-26h0m-15.5 36h0m5-26h0m18.5-2h0m-12 24.5h0m0.5 3.5h0m16 14.5h0m-17.5-45h0m-14 34.5h0m26.5 11.5h0m3.5-53h0m-23 29h0m23.5 27h0m-24-6.5h0m22-4h0m-32-62.5h0m-3.5 51h0m29.5 2h0m-22.5-16.5h0m9.5-2h0m5.5 34h0m-12.5-24h0m1.5-37.5h0m9 66h0m-15-74.5h0m32 17.5h0m0.5-12h0m-15.5 0.5h0m-24-9.5h0m2.5 16h0m13 23h0m5.5 33.5h0m-12-79h0m-10.5 61.5h0m9-54.5h0m21 18.5h0m-13 34.5h0m2.5-4.5h0m21.5-20.5h0m-35 23h0m15.5 0.5h0m3.5 15.5h0m12 2.5h0m-14.5 3.5h0"/>
<path stroke="#D55E00" d="M1130 453.5h0m16.5-40.5h0m-14 21.5h0m6.5 106h0m9-58.5h0m-7.5 7h0m9 24h0m4-47.5h0m-19.5-6.5h0m10.5 65h0m6.5-11h0m-20-73.5h0m19.5 1h0m-29 72.5h0m28-81h0m-6 75.5h0m-5.5-89h0m13 28h0m-0.5 5.5h0m-14-2.5h0m-9.5-0.5h0m-4 37h0m-0.5 2h0m25-57.5h0m-34 62.5h0m30.5 43h0m-26-113h0m25-28h0m-10 143h0m-16-42h0m3 20h0m16-104h0m-2.5 9.5h0m-9-28h0m27 96h0m-23-92.5h0m6.5-4h0m-9.5 108h0m22.5 25h0m-19-39.5h0m11.5 52.5h0m-3.5-56.5h0m-5.5-84.5h0m5.5 9.5h0m-22 136.5h0m33-111.5h0m-4 109h0m6-114h0m-28 2h0m21.5 11h0m-14.5 25.5h0m16.5-15h0m-6.5-65h0m-6 145.5h0m4-53h0m-12.5 13.5h0m-6.5-45.5h0m2.5 84h0m31.5-91h0m-14 72h0m-8 10h0m0.5-76.5h0m2 15.5h0m17.5 12h0m-9.5 81.5h0m-14-40.5h0m0.5-104h0m18 41h0m-26.5 24.5h0m10.5 21h0m10.5-51.5h0m-22.5-58h0m38 42.5h0m-32-35.5h0m-1.5 89.5h0m7.5 8.5h0m7.5 51h0m-20.5-26.5h0m0-118.5h0m28.5 134h0m-22.5-80h0m-2.5 64h0m19 28.5h0m-5.5-57.5h0m-12.5-6.5h0m19 45h0m-1.5-89.5h0m-23.5 34.5h0m12 66.5h0m1.5-118.5h0m17.5 80.5h0m-26-101h0m1 154.5h0m1-133.5h0m15 43h0m15.5 51h0m-36.5-102h0m16 127.5h0m1-129h0m3 100.5h0m2.5-66h0m15 58h0m-21.5-10h0m-17-16h0m40-32.5h0m-27 54h0m16.5 43h0m-2.5-60h0m1-38.5h0m8.5 68h0m-0.5 32h0m-1.5-115h0m6 98h0m-15.5-129h0m-6 44h0m-18.5-15.5h0m26 127h0m8-84.5h0m-7-46.5h0m1-0.5h0m-26.5 44.5h0m0.5 40.5h0m8.5 24.5h0m24.5-133.5h0m-21 147.5h0m-4.5-154h0m4.5 125.5h0m1.5-85.5h0m22.5 12.5h0m-25.5 29.5h0m8 14.5h0m9.5 62h0m-25-51.5h0m5.5-27.5h0m13.5-78h0m-14.5 39.5h0m21.5 120h0m6.5 3h0m-20.5-131h0m6.5-12.5h0m2.5 154h0m-20.5-61.5h0m12-68.5h0m9.5 82h0m7.5-80h0m-22.5 59h0m14-86.5h0m-26.5 131h0m17.5-24h0m-19-64h0m13-77h0m3 134h0m18.5 40.5h0m-5-122h0m-0.5 72.5h0m-8 34h0m3.5-112.5h0m-3.5 15.5h0m7 104h0m-18-136.5h0m21.5 63.5h0m5-27.5h0m-26 36.5h0m3.5-2.5h0m24.5 76h0m-15.5-69h0m13.5-56h0m-27.5 4.5h0m18.5 43.5h0m10.5 10.5h0m-19-13.5h0m-7-21h0m1-60.5h0m2 118.5h0m20-38h0m-34-73h0m21 83.5h0m-3-7.5h0m-3 7.5h0m23-57.5h0m-32.5-13.5h0m18.5 65h0m9 25.5h0m-15 58.5h0m6-18.5h0m-4-70h0m-11.5 29.5h0m5-79h0m17 138.5h0m-21.5-116.5h0m14.5 0.5h0m5.5-14h0m-19-28h0m11.5 90.5h0m-12-42h0m6 81h0m13-10h0m0-118.5h0m-29 62.5h0m1.5 6.5h0m31.5-39h0m-13-1h0m-9.5 5.5h0m11.5-27h0m-10 72h0m-9 71.5h0m2.5-81.5h0m20-25h0m-24.5 67h0m13.5 54h0m-2.5-29h0m4.5-82h0m-5 93h0m15.5-47.5h0m-15.5-107h0m9 79h0m-3.5 26.5h0m17.5 16h0m-5-20.5h0m7.5 3.5h0m-21.5-55h0m24.5-3.5h0m-37 118.5h0m11-124h0m21 12.5h0m-28 58h0m18-82.5h0m-11.5-32.5h0m-15 40.5h0m20 106.5h0m9.5-110h0m-14.5 68h0m16 7h0m-5 25h0m-16.5-118.5h0m22 119h0m-17.5-102.5h0m18.5 15h0m9-48h0m-12 124.5h0m-20-74h0m7 41h0m0.5 21.5h0m3.5 41h0m12.5-112.5h0m-18 99h0m15.5 0.5h0m-11-17h0m4-65.5h0m9.5-21.5h0m-29 88.5h0m18.5-107h0m-2.5 44h0m-7-7h0m0.5 53.5h0m27.5-41.5h0m-26 7h0m-5 15h0m0.5 47.5h0m20.5 15h0m10-152.5h0m-0.5 134h0m-6.5-5h0m-11.5-40h0m14 7h0m-9 6.5h0m-7-87h0m-4.5 61.5h0m-10 85.5h0m-3.5-97.5h0m20.5 11.5h0m-0.5 11.5h0m-18-24.5h0m22.5-20h0m-18.5 98h0m-4-27.5h0m-1.5 34.5h0m36.5-65h0m-25.5-51.5h0m3-1.5h0m26-10h0m-3.5 103.5h0m-26-70h0m3.5 105h0m25.5-127.5h0m-25 128h0m-1-49h0m-3.5-9.5h0m27-53h0m-36.5 56h0m25.5-11h0m3 18.5h0m-13.5-49.5h0m13.5 31.5h0m-4 71h0m11-57.5h0m-1 48.5h0m-17-24.5h0m20.5-5h0m-41-95.5h0m37.5 78h0m-37 39.5h0m41-91h0m-13.5 42h0m-22 17h0m27.5 29.5h0m9-32h0m-17-65.5h0m-23.5 38.5h0m19 3.5h0m-9 46.5h0m3.5-69.5h0m-12.5 31h0m37 55h0m-12-158h0m-17 65.5h0m14-8h0m-10.5 17h0m22.5 98h0m-22.5-75h0m-8.5-75h0m20.5 143.5h0m11-138h0m-21 62.5h0m4.5 50.5h0m-4.5-139h0m-9.5 132.5h0m12.5-54.5h0m-14-57h0m23.5-17h0m1 70.5h0m-15.5-45h0m-6 20.5h0m32 10h0m-37-8h0m36 103h0m-24.5-4h0m20.5-20h0m1.5-132h0m-0.5 82.5h0m-16.5-8.5h0m8 93h0m1.5-105.5h0m1.5 22h0m-26-65h0m34.5 103h0m-39-94h0m16 6.5h0m17.5 58.5h0m-28 22h0m15 3h0m-0.5-35.5h0m-2.5 39h0m6-28.5h0m0.5 68.5h0m17-132h0m-17.5 120.5h0m1-40h0m2 66h0m4.5-31.5h0m9-77h0m-34-34.5h0m4.5 20.5h0m26 91.5h0m-30-22h0m-5-23.5h0m1.5 9.5h0m7.5 32h0m12.5-39.5h0m14-40h0m-3.5 51h0m-1-39.5h0m-18.5-19h0m-10.5-37.5h0m-1 46.5h0m13.5 49.5h0m22 46h0m-17-17h0m6.5-23.5h0m4.5-69h0m0 62h0m-32.5 37h0m39-65h0m-22-44.5h0m-6.5 48.5h0m-3.5-12h0m21 14.5h0m-10.5 62.5h0m2.5-137h0m12.5 37h0m-3.5-35.5h0m-9 111h0m-13.5-57.5h0m6.5 71h0m17-43.5h0m-8 68h0m-15.5-77.5h0m21.5-30.5h0m14.5-13h0m-16 103h0m-6-124h0m18 111.5h0m-13 12h0m16-57h0m-33 49.5h0m23.5-86h0m-1.5-49h0m-16.5 137h0m28-130.5h0m-28 53.5h0m28 67.5h0m-17.5-66.5h0m3.5 67h0m14-54h0m-16 21.5h0m-15.5-25h0m5 47.5h0m-15.5 2.5h0m37 6.5h0m-2.5-81.5h0m-2-48.5h0m5 38.5h0m-33.5 8h0m8 68.5h0m12.5-85.5h0m3 112.5h0m-20-71h0m9 60.5h0m-5.5-105h0m-9 75h0m25 10.5h0m-4.5-41.5h0m-12.5 81.5h0m30.5-107.5h0m-2 105.5h0m-30-101.5h0m7 75h0m-1 9.5h0m-9.5-21.5h0m18 3.5h0m-13-68h0m15.5 116.5h0m-8-148.5h0m22.5 137.5h0m-29-74.5h0m-3-76.5h0m5 90h0m-2 44.5h0m-10-2h0m17 28h0m-9.5-16.5h0m1-62.5h0m12.5-37.5h0m-18 80.5h0m37.5-5h0m-38.5 21.5h0m-1.5-93h0m5.5-6.5h0m13 57.5h0m-11 13h0m-8.5-35.5h0m4.5-18.5h0m24.5 52h0m10 51h0m-22-67h0m-11-66.5h0m20 49h0m10-52.5h0m2-13.5h0m1 129.5h0m-18.5-79.5h0m6 71h0m0-28.5h0m-3-54.5h0m17-29h0m-32.5-14h0m-5 25.5h0m36-34.5h0m-34.5 138.5h0m-3-84.5h0m14.5 86.5h0m0.5-52h0m-1-90h0m-6 159.5h0m19 16.5h0m-21.5-7.5h0m7.5-4.5h0m20-1h0m-13-95.5h0m3.5 37h0m0.5-60.5h0m-7-5h0m11.5 81.5h0m5.5-110.5h0m-11 66.5h0m1.5 73.5h0m0.5-146.5h0m-7.5 129.5h0m-6.5-91h0m-5.5 4.5h0m31 47.5h0m2 84h0m-2-71h0m-7-48.5h0m1.5-4h0m-22.5 14h0m1-3.5h0m30.5-4h0m-24.5 30.5h0m22 11h0m-9.5 34.5h0m-21.5-5h0m31.5-107.5h0m-14.5 87h0m-16 29.5h0m18.5-54.5h0m-2-21h0m-9.5-42.5h0m-4.5 23h0m-5 115h0m23.5-133h0m-9 118h0m-1.5-103.5h0m-16 31h0m9.5 93.5h0m26-69h0m-38.5 31.5h0m15-76h0m-10.5 51h0m9.5-83h0m8 17.5h0m14.5 67h0m-10.5 9h0m-25-28.5h0m-0.5 80.5h0m39.5-41h0m-6-46h0m-33.5-90.5h0m8 171h0m6.5-71.5h0m1-18h0m5-24.5h0m-15.5 90h0m33 29.5h0m-23-133h0m0 19.5h0m7-63h0m15.5 50h0m-23-0.5h0m20 120h0m-32.5-20h0m27-39h0m-2.5-52h0m7-46.5h0m-24.5 16.5h0m21.5 116.5h0m-21-99.5h0m11 81h0m14.5-17h0m1-50.5h0m-28.5 76.5h0m19.5-56h0m-2.5 77.5h0m-11-102.5h0m15.5 125h0m-16.5-72h0m21.5-51h0m-17.5 74h0m16.5-117h0m-28.5 143h0m1-70.5h0m5 69.5h0m18 15h0m-27-116.5h0m29.5 12.5h0m-32 75.5h0m42-31h0m-29.5-86h0m13 151.5h0m-19-72.5h0m-5-25.5h0m15.5 5h0m21.5 46h0m-34 63h0m35-135h0m-2 109.5h0m-3.5-49h0m0.5-23.5h0m-31.5 65.5h0m14.5-112.5h0m-5 99.5h0m-12-76.5h0m5 107h0m34.5-103.5h0m-5.5 36h0m-1.5-71h0m-5 40h0m6.5 44h0m-19.5-56h0m-9.5 89.5h0m22 29h0m-21.5-80.5h0m15-28h0m12.5-43h0m-5.5 76.5h0m-12-21.5h0m-15.5-40h0m38 0h0m-14 83.5h0m-7 15h0m11.5-130h0m-27.5 85h0m39.5 64h0m-14.5-147.5h0m0.5 103.5h0m-3.5 31.5h0m3.5 5h0m-0.5-44h0m-17.5-58h0m2.5-42h0m8 59.5h0m21.5 89h0m-1-34.5h0m-19.5-51h0m-11-42.5h0m18.5 72h0m-17 40h0m3.5-85.5h0m-8.5-48.5h0m24 44.5h0m2.5 70.5h0m-11-2.5h0m-21.5-85.5h0m31.5 140.5h0m-3.5-11.5h0m-11-62.5h0m13.5 51h0m0-15h0m11-3.5h0m-1-6.5h0m-41-8h0m9-47.5h0m0.5 57.5h0m23-26h0m-13-93.5h0m-6.5 43.5h0m21 2h0m-15.5-0.5h0m9-30h0m-4 133h0m9.5-121.5h0m8.5 56h0m-23 41h0m-14-67.5h0m30.5 41.5h0m-6.5 60.5h0m-13.5-4h0m9.5-105h0m2 95h0m2-53h0m-15.5-47h0m7.5-8h0m-15.5 88.5h0m2.5-10h0m26 50.5h0m0-45h0m-14.5-21.5h0m3.5-4.5h0m-21 68.5h0m21 3.5h0m-15-163h0m26 25.5h0m-32.5 89h0m1.5-116h0m3 144h0m17-1h0m-18-28.5h0m-3-89.5h0m27.5 82h0m-6 7.5h0m-17.5-63.5h0m24.5 68.5h0m-29-91h0m11 70.5h0m17.5 12h0m-18.5-36.5h0m-11-6h0m5.5-53h0m-5 140.5h0m7.5-108.5h0m18 63.5h0m-15.5-59h0m-2.5 8.5h0m17.5-37h0m-12.5 97h0m-5.5-61h0m-5.5 55h0m29-92h0m-0.5 74h0m12 36.5h0m-21-46.5h0m3-90h0m-22 77h0m20-5.5h0m-8 58h0m-12.5 24h0m17.5-141.5h0m5.5 36h0m9 34.5h0m0 67h0m4-139h0m-38 144.5h0m36-143.5h0m1.5 107h0m-33.5-30h0m20.5-12.5h0m-22-41.5h0m2 30.5h0m30.5 107.5h0m-3.5-46.5h0m-3 37h0m-9.5-50.5h0m11-81h0m-16-33.5h0m12.5 29h0m16 83h0m-16-31.5h0m-3 10h0m5 63.5h0m-26.5 14h0m2.5-40h0m17.5 43.5h0m9.5 6h0m-8.5-110h0m-11.5-15.5h0m29 95.5h0m-9.5-45.5h0m1 48.5h0m-32-37h0m1-106h0m5 116h0m31-21.5h0m-27.5-54.5h0m22 90h0m-14-107h0m-1.5 71h0m-14.5 7h0m-2-101h0m16 54h0m9.5 105h0m0.5-53.5h0m-13.5 31.5h0m-2.5 31h0m30.5-132.5h0m-40 125h0m4.5-165h0m18 9.5h0m-5.5 117h0m-8-68h0m21.5 78.5h0m-8.5-64.5h0m2-25.5h0m-2-24.5h0m-15 71.5h0m-7-37h0m25 5.5h0m13 92h0m0.5-131.5h0m-36 97h0m-0.5 27.5h0m26-18.5h0m-18.5-80h0m-5.5-45.5h0m11.5 30h0m20.5-6.5h0m-10 52h0m-10 10h0m23.5-4h0m-24-30h0m18 3h0m-3.5-56.5h0m-8.5 50.5h0m-2.5 33h0m0.5 17h0m-14-67h0m25-33h0m-16.5-26h0m-2 98h0m-1 67.5h0m22.5-165.5h0m3 92h0m-18.5-22.5h0m-4 105h0m-7-25h0m21.5-63.5h0m2.5 95.5h0m11 2h0m-23-37h0m-12-93.5h0m26.5 147.5h0m-14-130.5h0m22.5-33h0m-41.5-11h0m28 33h0m12 3h0m1 74.5h0m-8.5-67.5h0m-32.5 11.5h0m16 56h0m-12 0.5h0m28.5-82h0m-32.5 8.5h0m33 51h0m3.5 16.5h0m-1.5-50.5h0m-20.5 93h0m-7.5-101.5h0m-3.5 86h0m20-11.5h0m-8.5 15.5h0m6.5-7h0m-9.5-70h0m-12.5 50h0m17 34h0m10-70h0m-7 18.5h0m15-55h0m6.5 113h0m-21-82.5h0m11.5-37.5h0m-31 10h0m5.5-33.5h0m9 107h0m21 30h0m1 15h0m-17-92.5h0m22 41.5h0m-8-56.5h0m-15 9h0m-13-5.5h0m18-51h0m7 54h0m-9-38h0m11-7.5h0m-10 67.5h0m-12-34h0m11.5 54h0m-21.5-77h0m16.5 9h0m14 87h0m-29 13h0m33-68h0m-14-65h0m-18.5 97h0m7.5 30h0m-7.5-97h0m31.5-21h0m-8.5 149.5h0m4 6.5h0m-29-26h0m31.5-57.5h0m-12.5 81h0m-0.5-67.5h0m-1 42.5h0m1.5 13h0m6-151.5h0m-6 21.5h0m6 95h0m-26-35h0m6.5-47h0m12.5 59h0m-6-38h0m5-11h0m-10-43.5h0m18.5 80h0m9-16.5h0m3-10h0m-30.5 33.5h0m7.5 81h0m-5-131h0m-7.5 42.5h0m4-53h0m27.5 77.5h0m-24 47.5h0m-8-90h0m38.5 87h0m-35-67h0m34-75h0m-7 157h0m-5-35.5h0m7.5-77h0m-19-49.5h0m14.5 87h0m10.5-8.5h0m-18.5 53h0m-16.5-54.5h0m6-9.5h0m12.5 75h0m-8.5-65h0m23.5-51.5h0m-27 71.5h0m-2-6.5h0m1 57h0m24-84h0m-5.5 44h0m-29-101h0m4 20h0m31 84h0m-29-30.5h0m1.5-43h0m-5 104.5h0m8-11.5h0m22-124.5h0m-12.5 141h0m-13.5-148h0m24.5 99.5h0m7-98h0m-37 7h0m17.5 80h0m-15-89h0m-6 123.5h0m43-82h0m-21.5 131h0m17.5-4.5h0m-15 1.5h0m10-103.5h0m-7.5 71h0m-2-55.5h0m14 1.5h0m-7 30h0m-21.5-29.5h0m2-48.5h0m25 100h0m-31 30h0m25-28.5h0m5.5-78.5h0m-22.5 94.5h0m18-145.5h0m-25 50h0m7-56.5h0m-2 26.5h0m-4.5 123.5h0m30-145h0m-21 164.5h0m7.5-76h0m5-10h0m-26.5-44.5h0m30.5 71.5h0m8-83h0m-2.5 109h0m-0.5-33h0m-36-7.5h0m23-83h0m-15 104h0m25.5-48h0m-7.5-50h0"/>
<path stroke="#CC79A7" d="M1196 368h0m2 178.5h0m5.5 7.5h0m-26.5 5h0m4.5-53.5h0m18.5-59.5h0m0.5-71.5h0m0 191.5h0m-12.5-131h0m-19-118.5h0m18.5 264h0m12.5-10.5h0m-9.5-98.5h0m-4.5-148h0m0 191.5h0m-2.5-128.5h0m-13 163.5h0m27 1.5h0m10.5-57.5h0m-40.5 50h0m13 35h0m4.5-66.5h0m-10-36h0m12 15.5h0m-12-264h0m1.5 273.5h0m26.5 55.5h0m-35-5h0m16-80h0m24 108h0m-28.5-22h0m-8-241h0m21 235h0m6.5 19h0m-13.5-63.5h0m8 66h0m-20.5-28.5h0m-3.5-11.5h0m8.5 15h0m19 14.5h0m-28-169h0m1.5 171h0m12.5-174.5h0m7 164.5h0m11.5-173.5h0m-15 193h0m-16-26.5h0m33 26h0m-27.5-103.5h0m19 25.5h0m-2-168h0m-17.5 169.5h0m23.5-11h0m-1.5-163.5h0m-20.5 223.5h0m21.5-3.5h0m9.5-126h0m-8.5 87.5h0m-7 67h0m-2.5-45h0m3.5-50h0m9.5-82h0m-21.5 184h0m-13.5-118.5h0m16-43.5h0m-11.5 95.5h0m-4 33.5h0m3.5 20h0m30-103.5h0m-25.5 37.5h0m7-67h0m15-81.5h0m-10 191h0m-8.5-82h0m22.5 108.5h0m-29.5-196h0m2-43h0m-1.5 100.5h0m-0.5 66h0m19-66.5h0m12 13h0m-0.5 60.5h0m-28 4h0m22-70.5h0m1.5 142.5h0m2.5-116.5h0m5 47.5h0m-14.5 25.5h0m-1-240h0m0.5 215h0m9.5 55.5h0m-3.5-255.5h0m12.5 213h0m-10 32h0m-32.5-130h0m4 134h0m7-140.5h0m22 61.5h0m-1.5-143.5h0m6.5 75.5h0m-32 77.5h0m34-120.5h0m-32 126h0m-6-108.5h0m7.5-8h0m29.5 154h0m-30.5 47h0m15-82.5h0m9-7.5h0m-1.5-3h0m7-146h0m-34 87h0m32 60.5h0m1-16h0m4.5 80.5h0m-36-214h0m21.5 28.5h0m-17.5-143.5h0m21.5 329h0m-5-66.5h0m13 75.5h0m-10.5-62.5h0m10.5-44.5h0m-10.5 88h0m11.5 18.5h0m-27-119h0m2 102.5h0m-15-50h0m22.5-162.5h0m-13 2.5h0m28 35h0m-12 109h0m14.5 62.5h0m-10-6.5h0m9-23.5h0m-7.5-28.5h0m-8 68h0m15.5-36.5h0m-1-12.5h0m-3 45h0m-14-6h0m17.5-19h0m-9-161.5h0m-16 131h0m23 29h0m2.5-90.5h0m0.5 66h0m-25-165h0m23.5 97h0m-6.5 71.5h0m-10.5 52h0m-20-217h0m14 114h0m9.5-100.5h0m-14.5 132.5h0m23.5 78h0m-13.5-93.5h0m3.5 17h0m-9.5-147h0m27 97.5h0m-32.5 23.5h0m31.5 54.5h0m-0.5-210.5h0m0 135.5h0m1 82.5h0m-17.5 39.5h0m6-205h0m-9.5 139.5h0m14 63h0m-11-245h0m5.5-25h0m-10 275h0m17.5-32h0m-20.5-2.5h0m-13.5-14h0m27.5 51.5h0m4-11h0m3-117h0m-26.5-139h0m14 208h0m-2.5 10h0m-12.5-45h0m34-23.5h0m-30 84.5h0m10 31.5h0m-16-90h0m19 98h0m12.5-89.5h0m-5 32h0m-12.5-85.5h0m-8 105.5h0m-3.5-130h0m32 64.5h0m-13-132h0m-0.5 153h0m-21-3.5h0m11 43.5h0m-15.5 41.5h0m4.5-131.5h0m26-24h0m-13 137h0m0-314.5h0m10.5 289h0m5.5-195h0m-15 221h0m16.5-25.5h0m-36 33.5h0m8.5-87.5h0m27.5 59h0m-8 42h0m-28.5-36h0m21.5-40h0m10-120.5h0m-4 199h0m7 2h0m-17.5-164.5h0m19-44h0m4.5 124h0m-19.5 10h0m-10-60.5h0m25 92h0m-22.5 13h0m2.5-7h0m16-39.5h0m-28.5-54h0m18.5-16.5h0m-6.5-67.5h0m0.5 77h0m0 125h0m8.5-68h0m-19.5 63.5h0m23.5-116.5h0m-1 5h0m8 103.5h0m-1-170.5h0m-34 154h0m4.5-8h0m8.5-4h0m26-112h0m1.5 71.5h0m-4 52.5h0m-23.5-76h0m1.5 111h0m6.5-259.5h0m-16 212.5h0m36.5 36.5h0m-3-92h0m-12.5 100.5h0m-13-58.5h0m5-77.5h0m-17.5 74.5h0m10.5-75.5h0m18 27.5h0m-0.5-85.5h0m-4.5 111h0m-6.5-70.5h0m9.5-72.5h0m-14.5-19.5h0m21 152.5h0m-3.5-11h0m-3.5 80h0m-21-6.5h0m2.5 30h0m19-69.5h0m7.5 79h0m-3-34.5h0m-11.5 17h0m1 12.5h0m14.5-73h0m-17.5 74h0m-12.5-234.5h0m28.5 131.5h0m-29.5-146.5h0m11.5 196h0m-2-167h0m-7 171h0m23.5-96h0m9 32h0m-27 73.5h0m18.5-163.5h0m8.5 2h0m-24 115.5h0m-16.5-18h0m19.5-53.5h0m22 55h0m-23 52.5h0m-9.5-143h0m6-21.5h0m27 178.5h0m-16.5-289.5h0m-22.5 301h0m-1.5-60.5h0m4-306.5h0m34.5 184h0m-6-15h0m-8 129.5h0m-4.5 82h0m-14.5 1h0m-0.5-94h0m28-117.5h0m-21-44.5h0m15.5 44.5h0m-1.5-33h0m-8.5 183.5h0m-11.5 27.5h0m23-73h0m-27-80h0m8.5 109.5h0m-12-16.5h0m1.5 105.5h0m18-140.5h0m11.5-24h0m-15.5 67.5h0m11.5 89h0m4-127.5h0m-15.5 126h0m1.5-101h0m0.5 113.5h0m10-10h0m-17.5-169.5h0m-4.5 82h0m29.5 88h0m-24.5-10.5h0m15.5-10h0m12.5-216h0m-20 0h0m-8.5 147.5h0m24 88h0m-4-71.5h0m11 25h0m-31-0.5h0m21.5-187h0m2 211.5h0m-15 1.5h0m-8.5-47.5h0m22 28h0m-7.5 2.5h0m15-40h0m-18 7.5h0m-6-20h0m23.5-39h0m-20 22.5h0m8.5 45.5h0m-27.5 17.5h0m29.5 33.5h0m-17.5-94.5h0m4-85.5h0m-10.5 75.5h0m24.5 55h0m-3 64.5h0m-15-12h0m27.5-56h0m-12 44.5h0m-7.5 27h0m-11.5-125.5h0m5.5-117.5h0m16 128h0m-11 108h0m17.5-31h0m-20-227h0m-13 169.5h0m39-218.5h0m-5.5 236h0m-7-0.5h0m-3-12h0m5.5 49h0m-3 9.5h0m-11-68h0m21 41.5h0m-35.5-66h0m27.5 24.5h0m6-140.5h0m-35.5 161h0m11.5-191h0m13 134.5h0m-13 63.5h0m-13.5-17.5h0m32.5-47.5h0m-33 89.5h0m24-30h0m-12.5-162.5h0m26.5 134h0m2 43.5h0m-39.5 21.5h0m7.5-44h0m-4 78.5h0m32-107.5h0m-8.5 98.5h0m-13-38.5h0m5-126.5h0m-15 109.5h0m12.5-41.5h0m24 87h0m0.5 17h0m-31.5-89h0m-5 79.5h0m28-51h0m-32-254.5h0m39.5 224h0m-18.5 106h0m-9-76h0m13 55.5h0m-2-82h0m12.5-84.5h0m4 85h0m-13 63.5h0m15-116h0m-12 152.5h0m-25.5-64h0m23.5 44h0m-9-96h0m-4.5-142.5h0m16 33.5h0m-7 147h0m18 74.5h0m-28.5-37.5h0m-3.5 4.5h0m-5-0.5h0m18.5-83h0m13 74.5h0m-11.5-21h0m3-35h0m-19.5 15h0m34.5 45.5h0m-37 29.5h0m2.5-229h0m-1.5 64h0m-5 72.5h0m25.5 15.5h0m-21 18.5h0m-4 32.5h0m10.5-17.5h0m10-192h0m10 19h0m-30 150h0m16.5-26.5h0m-11.5 59h0m6 32h0m5-302.5h0m1 207.5h0m16.5-19h0m-35 39.5h0m34.5 70h0m-23-52.5h0m-11 19h0m15.5-1.5h0m-8.5 12.5h0m19-5h0m6 26h0m5.5-144h0m-32.5 111h0m13.5-56.5h0m19-7h0m-25-126.5h0m24 213.5h0m-16.5 5.5h0m18.5-208.5h0m-1 175.5h0m-39.5-215h0m6 194.5h0m25 22.5h0m-9.5 55h0m1-105.5h0m14 61.5h0m2.5-39.5h0m-25.5-199h0m11.5 210.5h0m-9.5-25h0m-4.5-20.5h0m9.5 34h0m13 0h0m9.5 19.5h0m-10.5-10.5h0m-18-83.5h0m-7-64.5h0m4 12.5h0m20 175h0m-19.5-54h0m-5.5 52h0m3-43.5h0m9 73.5h0m-7.5-269.5h0m1.5 13h0m-1.5 185.5h0m8.5 71.5h0m-0.5-58h0m-17 6.5h0m8.5 11.5h0m-5.5 32h0m22-17h0m9-201.5h0m1 144.5h0m-16.5 82.5h0m-1.5-11h0m20.5-103h0m-32.5-22.5h0m15.5 139.5h0m-21-242.5h0m13.5 165.5h0m20.5-156h0m-2.5 95.5h0m-24 23h0m19.5 6.5h0m1 76.5h0m7.5-246h0m-13 169h0m-23.5 3h0m10.5 47h0m10-64.5h0m15.5 65h0m-25.5 34.5h0m0.5-224.5h0m10.5 124h0m-5.5-49h0m4 95.5h0m22.5-177.5h0m-18 200.5h0m-6.5-142.5h0m8.5 140.5h0m-9-32h0m20.5 87.5h0m4-261.5h0m-26.5 175h0m26.5 0.5h0m-31.5-73.5h0m-5.5 162h0m18-134h0m-11-131.5h0m3.5 251.5h0m16.5-137h0m-16 115.5h0m-6 9.5h0m15-4h0m-19.5 23h0m-2.5 0h0m-1-65.5h0m4.5-169.5h0m11.5-19h0m8 122h0m-16 32.5h0m28-121h0m-25.5-74.5h0m29 250h0m-33.5 53.5h0m10-104.5h0m-15 28.5h0m14 22h0m-0.5-18h0m-4.5-94.5h0m28-7.5h0m2-101.5h0m-4 162.5h0m-20 14.5h0m-5 71h0m0.5-232.5h0m19 235h0m-22.5-238h0m14 169.5h0m-20 38h0m37 53.5h0m-8-39.5h0m-23-40.5h0m26 48h0m1-36.5h0m-16-12h0m6.5 2.5h0m-23 49h0m38-48.5h0m-6.5-159h0m-26.5 163h0m-5.5-189.5h0m35.5 21.5h0m-17.5 195.5h0m12-40h0m1.5-197h0m-26 216h0m-3.5 24.5h0m-4.5-64h0m20.5-4h0m14 67.5h0m-13.5-11.5h0m-13-126h0m-3.5 64h0m6 75h0m-10 7.5h0m3-70.5h0m8.5-177.5h0m3.5 234.5h0m-5.5 0.5h0m18-29h0m-17 29h0m23-48.5h0m-3.5-194h0m-22 273.5h0m29-53h0m-7.5 44.5h0m-7.5-207h0m-4.5 74.5h0m14 76.5h0m6 51.5h0m1.5-1.5h0m-5 30h0m-23-34h0m-4 21h0m10-108.5h0m2-119.5h0m-20 93h0m1 19h0m25 130h0m-9-182h0m17.5 73.5h0m3 54.5h0m-32-56.5h0m15 54.5h0m20.5-80.5h0m-25 95.5h0m22.5-11h0m-14.5-144h0m-1 145h0m8.5-59.5h0m-30.5-192h0m30.5 245h0m-22.5-191.5h0m6.5 113.5h0m-13.5 60h0m11-11h0m-12 8h0m24.5-13.5h0m-22-162.5h0m22.5 184h0m-17-24h0m7-134.5h0m14 81.5h0m-12-87.5h0m-17.5 197h0m10.5-33h0m25-167.5h0m-36 215.5h0m18-122.5h0m18 98h0m-6-236h0m-5 280.5h0m-6-109.5h0m-3.5-257.5h0m24.5 266h0m-4 88h0m-16.5-136h0m7 89h0m13.5-166h0m-13 51h0m2.5-71h0m-10 171.5h0m-21 61.5h0m28 20h0m-26-123.5h0m25-142h0m-22.5 71h0m27 168.5h0m-10-28.5h0m17.5 31.5h0m-30.5-275h0m14.5 168h0m0.5 88h0m3.5-142.5h0m6.5 88h0m-15 75.5h0m-3.5-69h0m27.5 8h0m-17.5 22.5h0m2-34.5h0m2.5 49.5h0m-20.5-1.5h0m-0.5-75h0m23 24h0m-31 29.5h0m23-132.5h0m-3.5-6.5h0m-8.5 197.5h0m11.5-99h0m-5 9.5h0m16.5-111.5h0m-31 172h0m13-169.5h0m17 88h0m9.5-101h0m-38 205h0m25-60.5h0m-5.5-138.5h0m-4.5 160.5h0m-16 31h0m5-59.5h0m24.5-141h0m-25.5 175.5h0m-3-69.5h0m27 98.5h0m0-1h0m-19-26.5h0m23-48h0m-29 62h0m7.5 24h0m24.5-53h0m-23.5-204h0m-0.5 241.5h0m-3.5-44h0m1-86h0m18 4.5h0m6 98h0m-10.5-75h0m15 91h0m-4-90.5h0m-35.5 116h0m19-108h0m0 63h0m0-30.5h0m-15.5-32h0m-0.5 64h0m17.5 20h0m-14.5-83h0m33 73.5h0m-26.5-20h0m-1 60.5h0m13.5-70.5h0m-14 9.5h0m15-89.5h0m-6 99h0m-6.5-70h0m10.5 56h0m-19.5 62.5h0m27-24.5h0m-26-133h0m-5.5-78h0m29 114h0m-30-63.5h0m3 127h0m6-136h0m7-49h0m-15 121h0m36-19h0m-7-2.5h0m7.5 59h0m-31 69h0m25-75.5h0m-6.5-61h0m16 145.5h0m-26-142h0m-7.5 104h0m29.5-169.5h0m-18-54h0m8 91.5h0m-12.5 70.5h0m2.5 24.5h0m-14 7h0m12.5 7.5h0m0.5-15.5h0m23.5-48h0m-4.5 103.5h0m-2.5 12.5h0m-21.5-250h0m16.5 101.5h0m-7-104.5h0m3.5 219h0m-5 15h0m3-40h0m11.5-3h0m8.5-49h0m-9 33h0m-16-170h0m-15.5 261h0m28-101h0m-20.5 27.5h0m17 9.5h0m-9-22.5h0m-12.5 33h0m7.5-153.5h0m19 146h0m-10-33.5h0m-16.5 71.5h0m12.5-92h0m25.5 94h0m-16-129h0m-12.5 82.5h0m-2 62h0m18-111.5h0m-27.5 28h0m3-195h0m10.5 87h0m25.5-52.5h0m-2-15.5h0m-5 59h0m-3.5 44.5h0m-29 142.5h0m19-232.5h0m-11.5 196h0m8.5-95h0m-15.5 15.5h0m15 125h0m21.5-187h0m-29.5 29h0m16.5 33h0m12 85.5h0m-2 29h0m-26.5-45.5h0m27.5-46h0m-21-20h0m13.5-86h0m-10.5 201h0m17.5-50h0m-24.5-94.5h0m8 161h0m-10-49h0m8 49h0m-4-4h0m6-53.5h0m17.5 55.5h0m-17-59h0m17.5-25h0m-9.5-134h0m-21.5 117.5h0m35.5-6h0m-11 78.5h0m-9.5-76.5h0m1.5 39h0m-5-51h0m23 62h0m-27-54.5h0m-13 29.5h0m10.5 17.5h0m16-53.5h0m4.5 45h0m-3 44.5h0m-25.5-68h0m22.5 48h0m-1.5-233.5h0m11.5-20h0m-20.5 297h0m26.5-62h0m-24-39h0m-7 72h0m14 19.5h0m12.5-74h0m-35 35.5h0m37-40.5h0m-29.5-170h0m31.5 220h0m-14.5 17.5h0m1.5 2h0m-8-209h0m-12.5 203.5h0m-8 8.5h0m7-6.5h0m20-58h0m14 23h0m-11 38h0m2 9.5h0m-0.5-76.5h0m-28-165.5h0m9 136.5h0m22 33.5h0m-17.5-93h0m10.5 167.5h0m-3-71h0m-5.5-2.5h0m-13 49h0m29.5-17.5h0m-15 13h0m-1.5-136.5h0m8 79.5h0m13.5 24.5h0m-9.5-41h0m-29.5 31h0m21.5-4h0m-1-17h0m-12.5-33.5h0m24.5 67h0m-32.5-49h0m23 87.5h0m8-99h0m-15.5 126.5h0m-4-18.5h0m21-122.5h0m-5.5-32.5h0m8.5 159.5h0m-35.5 24h0m20.5-70h0m1-85h0m-12.5 58.5h0m17 21.5h0m-24.5 20h0m7.5 0.5h0m-9.5-29.5h0m27 62h0m-17-232.5h0m-2.5 54.5h0m11.5-8.5h0m-12.5-71.5h0m27.5 136.5h0m-14.5 20h0m-16 124h0m19.5-53h0m2.5 0.5h0m-14.5-2.5h0m15.5 49h0m5.5-141.5h0m0.5-71h0m-17 74h0m3 42.5h0m5 43h0m-22.5 37h0m14.5-31.5h0m11.5-91h0m-3 131.5h0m-24.5-80h0m35.5 8h0m4-38h0m-8 27h0m-9.5-191.5h0m-17 273.5h0m-1.5-151h0m12.5-96h0m-7 168h0m-3-95h0m6.5 20.5h0m8 59.5h0m8.5 67.5h0m-12.5-44.5h0m16.5-156h0m-13.5 189.5h0m0.5-11.5h0m2-44h0m-18.5 73.5h0m37 10h0m-22.5-221h0m5.5 198.5h0m12.5-170.5h0m-36.5-20.5h0m32 156.5h0m-31-20.5h0m17-190.5h0m9.5 103h0m-25.5 133.5h0m37.5-60h0m-22.5 39h0m-0.5 25h0m19.5-20h0m-30.5-218h0m34 279.5h0m-37-7h0m1.5-145.5h0m19.5 156h0m4-120.5h0m-12 62h0m-16 57.5h0m11.5-159h0m16.5 61h0m11.5 41.5h0m-31.5-15.5h0m-2.5-50h0m3.5-52.5h0m-7 116h0m27.5-16.5h0m2-33h0m-28 13h0m7 2h0m-9.5-4h0m16.5-64h0m-11 84.5h0m7.5 72.5h0m-7-6.5h0m34.5-9h0m-27.5-68h0m14.5-116h0m-17 189h0m22.5-149.5h0m-32 53h0m24 105.5h0m-23.5-38.5h0m0 18.5h0m17-69h0m10.5-44h0m-4.5 86h0m8-59h0m-19.5 117.5h0m4-79h0m-7-113h0m-4.5 96.5h0m-6 35.5h0m19-5h0m8.5-240h0m-17.5 90h0m2.5 133h0m26-84.5h0m-8.5-57.5h0m-8.5 133.5h0m5 31h0m-8 1h0"/>
<path stroke="#CC79A7" d="M1224.5 551.5h0m35-10h0m-32 25h0m10.5-20.5h0m16-108h0m0 136.5h0m-9.5-47h0m6.5-5h0m-7-3h0m2 21h0m-19.5 14h0m16.5 10.5h0m19-141.5h0m-25.5-49h0m22 7h0m-36 165h0m0.5 7h0m7-24.5h0m21.5-30.5h0m10 63.5h0m-3.5 9.5h0m-24.5-25.5h0m11.5-11.5h0m-16.5-26h0m14.5 30.5h0m-18.5-69.5h0m32 62h0m-14.5-142.5h0m18 87.5h0m-19.5 29h0m18-81.5h0m-30 75.5h0m4-129.5h0m24.5 208h0m-12-190.5h0m-7 74.5h0m13.5 32.5h0m2.5-73.5h0m-12.5 106.5h0m20 32.5h0m-27-53.5h0m-0.5 12h0m15.5 61.5h0m-24.5-158.5h0m19 102.5h0m-14.5-104h0m26 9.5h0m9 72.5h0m-32.5 8.5h0m28.5 43h0m-31.5-62h0m19.5-28.5h0m-9.5-38.5h0m9 50h0m-23.5-56h0m2-23h0m1 140h0m6.5-100h0m6.5-8.5h0m1 151.5h0m-9-86h0m9.5 61.5h0m-9.5 21.5h0m-10.5-50.5h0m28 18h0m-4 15.5h0m6-112.5h0m9 53h0m-30 30.5h0m-2-21.5h0m27-9.5h0m-0.5 57h0m-6.5-4.5h0m-8.5-40.5h0m14-98h0m-19.5-50.5h0m8 211.5h0m2.5-121.5h0m-14 62.5h0m9.5 8.5h0m3-20.5h0m-9-42.5h0m19.5 117.5h0m-28-62.5h0m21-51.5h0m-18 92.5h0m-3-9.5h0m7 7.5h0m24.5-134.5h0m-29.5 91h0m31.5 27.5h0m4-78.5h0m-22 103h0m-7-78.5h0m11.5 15h0m-22.5 51h0m14.5 7.5h0m24-22.5h0m0.5-32.5h0m-27 10.5h0m-1.5-70h0m18 66h0m-21 48.5h0m-5-13.5h0m28 27h0m-19.5-12.5h0m16.5-35.5h0m-15.5 8h0m3-29h0m25.5-90.5h0m-25 28.5h0m3.5 131.5h0m17.5-126.5h0m3.5 99.5h0m-18 2.5h0m-9 5.5h0m-5.5 13h0m25.5-11.5h0m1-119.5h0m-25 143h0m11-23.5h0m16-8h0m-11-13h0m-25-12.5h0m1 44.5h0m30.5-41.5h0m-15-86.5h0m8.5 101.5h0m-24 7.5h0m38.5-17h0m-13 1h0m8-22.5h0m-2-12h0m-26 81h0m28-67.5h0m-32 22h0m32.5-40.5h0m-19-13.5h0m-5.5 100.5h0m29.5-64.5h0m-20.5 18h0m5 41.5h0m-24-26h0m31-81h0m3 114.5h0m-11.5-55.5h0m-17.5 28h0m5 0h0m8-50h0m12.5 47h0m4-18h0m3-96h0m-14.5 71h0m13 3h0m-8-18h0m-28.5 55.5h0m33-21h0m-12.5 33.5h0m4.5-110.5h0m-10.5 118.5h0m-12-57.5h0m2.5 47h0m17.5-111h0m-20 28h0m12.5 67h0m25-49h0m-8 22.5h0m9 6.5h0m-34.5-4h0m3 61.5h0m20.5-132.5h0m-26.5 124.5h0m-2.5-92.5h0m28 88h0m7-3.5h0m-35-33h0m4.5-45.5h0m10 68h0m1-64h0m21-58h0m-26 135.5h0m-1-135.5h0m10 90h0m-15 59h0m4.5-32.5h0m5-27.5h0m23.5 25.5h0m1.5-99.5h0m-37.5 8.5h0m37.5 63.5h0m-15.5 25h0m3.5-31.5h0m3-10.5h0m7.5 56h0m-6.5 20h0m-14-56h0m-16.5-4.5h0m32-105.5h0m6.5 118h0m-9 27.5h0m-6-39h0m9.5 19h0m-33.5-83.5h0m17.5 74h0m1 31h0m8.5-9h0m2.5-30h0m-24 47h0m-7.5-175h0m12 189.5h0m-7.5-31.5h0m32.5-11.5h0m-19-29.5h0m-15-81.5h0m32.5 138.5h0m-25 12.5h0m29.5-34.5h0m-35.5-25h0m-1.5-104.5h0m16.5 90.5h0m13 56.5h0m-27.5-5.5h0m15 1h0m-14.5 25.5h0m24.5-103.5h0m-12.5-30.5h0m8.5 6.5h0m15 93h0m-17-29h0m6.5 0h0m6 43h0m-22.5-47h0m-14.5 43.5h0m38-151h0m2 7h0m-30.5 162.5h0m-9.5-6h0m35.5-25h0m-24-119h0m-11.5 87.5h0m10 67h0m6-52.5h0m22 28h0m-20-74h0m7 77h0m16.5 22.5h0m-34.5-179.5h0m28 180h0m-1-47.5h0m-13.5-96h0m20.5 117h0m-5-61h0m1 33.5h0m-14-3h0m12.5-60h0m-1 34h0m-31 15.5h0m25.5 19.5h0m-5.5-29.5h0m11.5 22.5h0m-17 21.5h0m21 30.5h0m-13-16.5h0m-17.5 10h0m6-62h0m-1-29h0m27 70.5h0m-24.5 14h0m-10-89h0m22 62h0m-27-65.5h0m7.5 34.5h0m32 14h0m-31.5 18h0m29.5 25h0m-35-128.5h0m36.5 123.5h0m-6.5-11.5h0m8 19.5h0m1 6h0m-29 0h0m-3.5-144h0m16 18.5h0m15 30h0m-20 29.5h0m12.5-9h0m-23.5 62.5h0m18-11h0m11.5-169.5h0m-34 180h0m-1.5-0.5h0m24-33.5h0m-23.5-68.5h0m20 36h0m-10 68h0m-10-16.5h0m5 9h0m14-30h0m-14.5 5h0m3 6h0m-2-162h0m30-3h0m-36.5 197h0m3-87h0m9.5-46h0m6.5 137h0m10.5-34h0m-2.5-131.5h0m-8.5 166h0m7.5-61h0m4.5 16h0m-33 28h0m35-110h0m-36 124h0m40.5-30.5h0m-37.5-65h0m15 37.5h0m-6 41h0m-7.5-119.5h0m19 91h0m-10-75.5h0m9.5 25.5h0m15 28h0m-26.5 42h0m-2 9.5h0m-1-6.5h0m12.5-0.5h0m-2.5 32.5h0m19.5-142h0m-15.5 124h0m15-11h0m-33.5-12.5h0m24.5-108h0m-23 16.5h0m9.5 127.5h0m24.5-32.5h0m-22.5-31.5h0m21-3.5h0m-14.5 44.5h0m-7.5-120h0m25 107h0m-32 45.5h0m33-68h0m-38 63.5h0m-2.5-43h0m16-27h0m-2.5 68.5h0m13.5-38h0m-2.5-88h0m-5 93h0m-5 34h0m-12-68h0m10 66h0m13.5-127.5h0m11 121.5h0m-5-8h0m-2.5-27.5h0m-3-56.5h0m0 75.5h0m-1.5-130h0m6.5 158.5h0m3-151.5h0m-26.5 126h0m-3.5-170h0m3.5 192h0m15.5-75h0m-8.5-79.5h0m-17 68.5h0m6.5-63.5h0m27.5 71.5h0m-21.5-16.5h0m7.5 17.5h0m-5 15.5h0m-11 21h0m1.5-88.5h0m7.5-75h0m4.5 122.5h0m-4.5 18h0m-2.5 24.5h0m6 27h0m19.5-63.5h0m-32.5 17h0m11.5-121.5h0m25 80.5h0m-37.5 82.5h0m6.5 8.5h0m-2.5-111h0m24 77h0m-19 8.5h0m5 20h0m-5.5-14h0m24.5-12.5h0m-5-22h0m-9 44.5h0m-15-20h0m0.5-93h0m30 101.5h0m-2-67h0m0 32.5h0m2 45.5h0m-9 17h0m4-107h0m6 8h0m-3.5-32.5h0m-12.5 87.5h0m14.5 14.5h0m-18.5-43.5h0m8-37h0m-9.5 77.5h0m-7-10.5h0m16.5-54.5h0m7 32.5h0m-8-96h0m-0.5 132.5h0m-1.5-95.5h0m-9.5 108.5h0m-1.5-52.5h0m-1.5 24h0m-3-24h0m6.5 12h0m29-21.5h0m-39-65.5h0m21 117h0m-6-4h0m-11-22.5h0m14-37h0m-14 25h0m23 0.5h0m-21-134h0m-1 8.5h0m13.5 131h0m-11 8h0m23.5 6.5h0m-23 47.5h0m3-52h0m0.5 18.5h0m-12-28h0m14.5 1.5h0m-14.5 53.5h0m39-63.5h0m-13 47.5h0m-9-7.5h0m-12 21h0m12.5-3.5h0m15-58h0m-14 70h0m2.5-8h0m-13.5-103.5h0m22.5 91.5h0m4.5 6h0m-2.5-195.5h0m-34.5 196.5h0m13.5 6h0m-11.5-71.5h0m19.5 24.5h0m-15.5-104h0m0.5 76h0m25 30.5h0m-4-11h0m-5.5 64h0m-21.5-43h0m-0.5-78.5h0m37 32h0m-16.5 55.5h0m-13 13h0m1-3h0m-6.5-1h0m35.5-47h0m-33.5 63h0m15-14h0m5.5-35h0m4.5 24.5h0m-14.5 8.5h0m-12.5-28h0m-2.5 7h0m32-35.5h0m-22 15h0m12-17.5h0m-13 67.5h0m10.5 12h0m-7-65.5h0m24 22.5h0m-15.5-2h0m-12 42h0m14.5-29h0m0-159.5h0m-23.5 121h0m3.5 54.5h0m17.5 0h0m0.5-15.5h0m-1 25h0m20.5-75h0m-40-39.5h0m14-19h0m15.5 140.5h0m-19.5-146h0m-9.5 31h0m2 116.5h0m3-105h0m29 79h0m-2.5-101.5h0m9 103h0m-35.5-0.5h0m29.5-32.5h0m1.5-106h0m-14.5 148h0m-14-38h0m-1 9.5h0m13-66h0m17.5 48h0m-38-11.5h0m17.5 11.5h0m-8 63h0m-3-112h0m12.5 93.5h0m14-83h0m-22.5-18h0m-9 88.5h0m21.5-51.5h0m10.5 78h0m-3.5-42h0m1.5-91.5h0m8 63h0m-24 37.5h0m8-118h0m-4 55.5h0m-5 53.5h0m5 39h0m10.5-48h0m-17.5-5h0m-10.5-98.5h0m37 1.5h0m-37 84h0m6.5-7.5h0m27.5 68.5h0m-4.5-60.5h0m-6.5 34h0m-20 24.5h0m17.5-52h0m2-3.5h0m-8-43h0m-5.5 33.5h0m30.5-48.5h0m-27.5-55.5h0m-9 114h0m20-172h0m15 98h0m0 116h0m-23-36.5h0m-16 5.5h0m-1.5-2.5h0m39 19h0m-9.5-12.5h0m-22.5-9.5h0m13.5 19h0m-0.5-85h0m6 82.5h0m-9 23h0m-9-34h0m4.5 18h0m-5.5-40h0m17.5 9h0m5.5 51.5h0m11.5-65.5h0m-20.5 37.5h0m-16.5-186h0m16 181h0m21.5-45h0m-2.5-125h0m-10.5 84.5h0m-16 95.5h0m12-3h0m5.5 17.5h0m-2.5 2.5h0m-17-62h0m0.5-20.5h0m-5 101.5h0m-2.5-60.5h0m0-3h0m28.5 50h0m7-5h0m-7.5-59h0m6-77h0m3.5 106.5h0m-30 41h0m-6-16.5h0m21 26.5h0m-19-94h0m7.5 79h0m-7-29.5h0m-3.5-61h0m11 77h0m-11-21h0m-1.5-23h0m34.5-49h0m-32 92.5h0m3 2h0m30-32.5h0m-10-87.5h0m2 85h0m-4-30.5h0m-13 30h0m-12.5 52h0m29-42h0m1.5 43h0m-15.5-6h0m18.5-75h0m-29.5 89h0m14.5-19h0m22.5-6h0m-5-83h0m-7.5 42h0m-1 48.5h0m-16-21.5h0m-1.5 40h0m25.5-15.5h0m-20-105h0m15 73h0m-10-9h0m-9.5-96h0m21 152h0m-25.5-142h0m7.5 95h0m-15-94.5h0m13.5 107.5h0m13 19.5h0m11.5 6.5h0m-9.5-131.5h0m6.5 74.5h0m-4-2h0m10.5 62h0m-25-20h0m-6.5-41.5h0m3-22.5h0m-12.5 78h0m32-42.5h0m3-14h0m-22-75h0m7 59.5h0m-17 3.5h0"/>
<path stroke="#CC79A7" d="M1319 375.5h0m-5.5 177h0m-8 2h0m-22.5 22.5h0m-4.5-94.5h0m35.5 54h0m0-76.5h0m0 100.5h0m-24-161h0m-12.5 120.5h0m32.5 28.5h0m-31.5 19.5h0m32.5-8.5h0m6.5-74.5h0m-6-65.5h0m-3 120h0m-15-40.5h0m-6.5 16.5h0m22 20h0m1.5-130h0m-2 128.5h0m-14-2.5h0m10.5 38h0m-2-16h0m-12-78h0m13.5-77h0m12.5 66h0m-25.5-48h0m20 68h0m2.5 95h0m-12.5-70h0m3-6h0m-23 61h0m24.5-90.5h0m-18 10.5h0m0.5 4.5h0m-5-27h0m12.5-0.5h0m-14 98h0m28-48h0m-32.5-64h0m40.5 101h0m-33.5-76h0m13 97h0m-5-14.5h0m-10-22h0m13.5-34.5h0m-11.5-51.5h0m1.5 113h0m32.5-55.5h0m-14.5-24h0m-25 10h0m3 78.5h0m-2-46h0m34 40.5h0m-34-136h0m36 68h0m-18-3.5h0m-14.5 64.5h0m30-69h0m-2.5 19h0m-33.5 35.5h0m33 17h0m-24.5 17.5h0m-0.5-129h0m13.5-2h0m19 96h0m-10.5-124h0m0.5 94h0m-18.5-127h0m22.5 127.5h0m-3.5 18.5h0m-6-61.5h0m-22 0.5h0m14.5-5.5h0m21 68h0m-7 42.5h0m1.5-103.5h0m-14 89.5h0m7.5-28.5h0m-25.5 11.5h0m25.5-22.5h0m7-10.5h0m3.5-52h0m-32 119h0m29.5-117h0m3.5 2h0m-30 75.5h0m22 0h0m9-47h0m-19.5 87.5h0m7-124h0m15 37h0m-10 19h0m7 3h0m-18.5-152h0m-1.5 106.5h0m15.5-63.5h0m-0.5 127.5h0m-32.5 23h0m24.5-42h0m-10.5 36.5h0m20.5-223.5h0m-17 248.5h0m-18-34h0m33.5-109.5h0m-14 32h0m-3.5 69.5h0m-12.5 39.5h0m16 8h0m8-19.5h0m-9-221h0m-16 124.5h0m4.5 82.5h0m26.5-29.5h0m-9 50h0m-5-96.5h0m12 61.5h0m-17 30h0m-4-28h0m-8.5-101.5h0m8.5 24h0m15 18.5h0m10.5 33.5h0m-2-40h0m6 62h0m-30.5 31h0m5.5-45h0m24.5 51h0m-30 7.5h0m10.5-57h0m3 60h0m-2 0h0m-13.5-89h0m-7 78.5h0m4.5-82h0m15-30.5h0m18.5 47h0m-27-28.5h0m3 105h0m4.5-94h0m-4.5 1.5h0m10 69h0m6-113.5h0m10-10.5h0m-1 27.5h0m-37 44.5h0m8-179.5h0m30 140.5h0m-4 65.5h0m-36.5 35.5h0m33-79.5h0m0.5 62h0m8-116h0m-5 90h0m-16.5 12.5h0m12.5-122.5h0m0.5 107.5h0m-23.5-40h0m24 101h0m-21.5-153h0m16.5 60.5h0m-29.5-61h0m15.5 119.5h0m16-76h0m9 30h0m-32-78.5h0m0.5 66h0m-7.5 38h0m25-24.5h0m4.5-6h0m-3-44.5h0m5-100.5h0m-10 89.5h0m15 124h0m-32.5-69.5h0m5 11.5h0m3 30h0m27-3.5h0m-33.5-36.5h0m5.5 70h0m8 12h0m-9-114h0m25.5 106h0m-7.5-12h0m8.5-51.5h0m-24.5 44.5h0m-5.5-4h0m16-91.5h0m0 103.5h0m-1-64.5h0m-13 36h0m10.5 15h0m-4-60h0m-4.5 36.5h0m-5.5 56.5h0m32-185.5h0m-25 179.5h0m10-108.5h0m9.5 101.5h0m0-96h0m-24.5 100h0m-6-47.5h0m19 41.5h0m18-88.5h0m-1.5 89h0m-6-68h0m-31-88.5h0m14.5 146.5h0m-1.5-162h0m18 55.5h0m-26 47.5h0m21.5 13.5h0m-2.5-40h0m-15.5 65.5h0m28.5-132h0m-11 66h0m-12.5 108.5h0m13-113h0m-24.5 35.5h0m-1.5-17.5h0m3 52.5h0m7.5-67.5h0m-3.5-19h0m-7.5-50h0m2.5 165h0m23-13.5h0m-23-33h0m19.5-72.5h0m3.5 106h0m2-41h0m-15.5 0.5h0m-8-75.5h0m29 114h0m-17-73h0m-11 65.5h0m26.5-7h0m3.5 44.5h0m-19.5-36h0m7.5-16.5h0m-20 30.5h0m12-97.5h0m-6 42h0m26.5-144.5h0m-4 211h0m-14.5-114.5h0m-15 111h0m39.5-52.5h0m-7-42.5h0m-18.5 80.5h0m-12-145h0m19 80.5h0m-19.5 47h0m12.5 38.5h0m-13.5-94.5h0m0 3h0m13 5h0m-16-22.5h0m24-11.5h0m-9.5 61.5h0m-14.5-42h0m1-14h0m4 17.5h0m30.5 80h0m-14.5-155h0m-11 167h0m12-51.5h0m-12 9.5h0m8.5 23.5h0m13.5 6.5h0m8 11h0m-34-25.5h0m28.5 33h0m-8.5-116h0m10 112h0m2 14.5h0m0.5-101h0m-15 63.5h0m-10-41h0m24 66h0m4-13h0m-23-104h0m1 91h0m22-48h0m-4.5 21h0m-28-26.5h0m3.5 73.5h0m19.5-52h0m3 61h0m-12.5-59h0m-7.5 9.5h0m-7-110.5h0m-8.5 101h0m35.5 59h0m-7.5-90h0m-13 74.5h0m-15-90h0m20 12.5h0m-18.5-29h0m39.5 26h0m-6.5-75.5h0m0.5-32h0m-5 48h0m-29.5 122.5h0m8.5 7h0m20.5-22h0m-28-156h0m24.5-32.5h0m-7 69h0m15 101.5h0m-5 65.5h0m-13.5-112.5h0m24.5 66h0m-3-37h0m-12-13.5h0m9 98h0m0-20.5h0m-2.5-172.5h0m-13.5 104.5h0m-14.5-14h0m30 70h0m-5.5 27h0m13.5-11.5h0m-17-16h0m15.5 19h0m-10-58.5h0m-15.5-23h0m-14.5-22h0m32 45.5h0m-11-34.5h0m-11.5-39h0m33 150h0m-13-18h0m-15-34h0m-14-27.5h0m18 29.5h0m-0.5 39h0m16-87.5h0m-32.5-29.5h0m27-11h0m4.5 68h0m0-52h0m-22 13h0m26 79h0m2.5-54.5h0m-16.5 0.5h0m-10.5-121h0m2.5 159.5h0m1-12h0m-13-110.5h0m32 87h0m-32.5-28h0m25 68.5h0m-5-3h0m-9.5-100.5h0m23.5 99.5h0m-11 5h0m0-153h0m17 108.5h0m-6 73.5h0m-19.5-0.5h0m22.5-110h0m0 114.5h0m-30-103h0m-3 66.5h0m29.5-86h0m-29.5-35h0m33 58h0m3 50h0m-19-40h0m12-52.5h0m-16.5-15.5h0m-8.5 133.5h0m-2 30h0m28-65h0m-14.5-36.5h0m3.5 64h0m-4 27.5h0m-4.5-51h0m13.5 64h0m-30-120.5h0m13 118.5h0m18.5-90h0m-2.5-42h0m2.5 80.5h0m-13-88h0m-13.5 86.5h0m15-138.5h0m-9 175h0m27-167h0m-38 184h0m29-111h0m-13-45h0m-10 112.5h0m33.5-76h0m-26 120h0m9-215h0m-22.5 163h0m15.5-153h0m9.5 152.5h0m-20.5-5.5h0m34.5 46h0m1-116h0m-35 21.5h0m4.5-75.5h0m3-53h0m20 107h0m5.5 72h0m-20-42.5h0m-4.5-0.5h0m-10-30.5h0m9 131.5h0m-9.5-98.5h0m2 32h0m20.5 51h0m-12.5-1.5h0m-2.5-139.5h0m-7.5 137.5h0m18.5 5.5h0m20-104.5h0m-25 28.5h0m15 41.5h0m-11.5-17h0m18.5 60h0m-34-189h0m4.5-55h0m30.5 189h0m-6.5 12.5h0m-6.5-49h0m-23 47.5h0m37 6.5h0m-38.5-60.5h0m40 58.5h0m-6.5 13.5h0m-34-41.5h0m27.5-125h0m-25.5 93h0m19 54.5h0m16 5.5h0m-15-62h0m-22-162.5h0m10.5 164.5h0m8.5-1.5h0m-20 52.5h0m30.5-3h0m-20.5-81h0m-7 118.5h0m18.5 10h0m6.5-69h0m7 30.5h0m-18.5 18h0m19-64.5h0m2.5 14h0m3.5 4.5h0m-11-140h0m-16.5 136h0m27.5 68.5h0m-42-14h0m8.5-38.5h0m30-57.5h0m-13.5 8.5h0m-13 0h0m24.5 8.5h0m-20.5 10.5h0m24.5-5.5h0m-27.5-20.5h0m1.5 107h0m-5-25.5h0m20-3.5h0m1.5-32h0m-6 9h0m-7.5-102.5h0m22 88h0m-24.5 69h0m10-76h0m2 5.5h0m-0.5 34.5h0m7-220h0m-32 159h0m24.5 91h0m-8-29h0m16.5-10.5h0m-17-40.5h0m-18 73.5h0m0.5-96.5h0m41 94h0m0.5-179h0m-13.5 78.5h0m12 124.5h0m-12-23h0m-7-58.5h0m-9-44h0m21 46h0m1 73h0m5.5-17h0m-0.5-9h0m-15-102h0m8 23.5h0m1-20h0m6.5 90h0m-16 27h0m1 12.5h0m-24.5-157h0m36 132h0m-2.5-207.5h0m-17.5 17h0m-16.5 59h0m33 34.5h0m5.5 89.5h0m-17.5-11.5h0m-18.5-71h0m30.5-5h0m-6-38h0m-24 59.5h0m34.5 38.5h0m-18 1h0m-3.5 8h0m10.5-114h0m-22 98h0m24-31h0m-28.5 95h0m3-142.5h0m15.5 71.5h0m-14-16h0m10-114.5h0m11 200h0m-22.5-26.5h0m12.5 31.5h0m17.5-6h0m-17.5-177.5h0m-7.5 128.5h0m-3.5-149.5h0m24 152h0m-1.5-108.5h0m8 98.5h0m-16-2h0m-10-29.5h0m0 97.5h0m-1.5-254h0m5 228h0m-2 5h0m13-99h0m10 66h0m-11 15h0m13-85.5h0m-14.5 115h0m8-118h0m-14.5 127.5h0m-10-38h0m13-3h0m8.5-69.5h0m3.5 48.5h0m0.5-109h0m-8.5 129.5h0m12-54.5h0m-32 36.5h0m27.5-33.5h0m4.5 64h0m4.5 7h0m-1-84h0m-11 20h0m2 48.5h0m-21-23h0m-3.5-10h0m8 3h0m1.5-31.5h0m-3.5 63.5h0m12 8h0m-11-63h0m29.5-64h0m-8 76h0m10 16.5h0m-16.5 36.5h0m-11.5-66h0m3.5 87h0m-8-7h0m20.5-186.5h0m-6 101.5h0m6-0.5h0m-2-2h0m-13 35h0m8.5 15.5h0m-22-4h0m39.5-43h0m-40.5 97.5h0m30-217h0m5.5 49.5h0m-13 65.5h0m-4 70h0m-16.5-75h0m23.5 56h0m-16.5-7.5h0m-2-7.5h0m14.5 47h0m16-37.5h0m-24.5-92.5h0m3.5 18h0m13 103.5h0m2-160.5h0m-4 71.5h0m-17.5 8.5h0m-3 74.5h0m9.5-146h0m5.5 124h0m6-2.5h0m9.5-31.5h0m-30.5 62.5h0m14-7h0m2.5 26.5h0m4-223h0m-24.5 210h0m7 5.5h0m-3-122h0m15.5 40.5h0m-16 26h0m22.5-40h0m4.5-68h0m-27-38.5h0m32.5 170h0m-0.5 31.5h0m-3-30.5h0m-4.5 19.5h0m0.5-132h0m10.5 154.5h0m-19.5-181.5h0m-20.5-35h0m22 139.5h0m-23 45h0m-0.5-75.5h0m16-166.5h0m16.5 267h0m-17.5-76.5h0m8.5-30.5h0m-4 16h0m2 72h0m19-122.5h0m-17 52h0m3-136h0m-15.5 218h0m15.5-56.5h0m11.5-48h0m-30.5-76h0m-5 131.5h0m21.5 7.5h0m6.5 36.5h0m-20-150h0m21 62h0m-23 4.5h0m31.5 15.5h0m-21.5 37.5h0m15.5 48h0m-28-152h0m30-61h0m-19 178h0m-6 7h0m29.5-78.5h0m-32.5-80h0m16.5 132h0m7.5 46h0m0-109h0m-7 99h0m13.5-37.5h0m-7 53.5h0m1.5 6h0m-23-110.5h0m-7 95h0m10.5 15h0m-2.5-248.5h0m2 244h0m23.5-107h0m3.5-65h0m-24.5 95h0m24-4.5h0m-34 6.5h0m5-10.5h0m25 87.5h0m-19-66.5h0m1-105h0m17 123.5h0m-11-16.5h0m-22-42h0m5.5 40h0m18-30h0m11 7h0m-36.5 0.5h0m28.5 56h0m-9.5 15h0m1-10h0m18.5-233.5h0m-16 66h0m18 107h0m-21-82h0m21-18h0m-39.5 191.5h0m36-111h0m-2.5 93h0m-3 20h0m-9-8h0m-2 6.5h0m0-57h0m10.5 27h0m-31-112h0m11.5 118.5h0m23.5-86.5h0m-12 8h0m-1.5-12.5h0m-12 111h0m29.5-111.5h0m-33.5-60.5h0m-2 71h0m3.5 55h0m-3-2.5h0m10 13h0m0.5-74h0m24.5-77h0m-13.5-20.5h0m-10 189.5h0m26.5-2h0m-18.5-21h0m-19.5-70h0m6 90.5h0m13-83.5h0m-7 12h0m18-9.5h0m6-21.5h0m-37 110h0m-1-71.5h0m31-91h0m4 140.5h0m-6-53h0m-13-93.5h0m8.5 61.5h0m4 23h0m-22.5 90.5h0m5.5-20h0m26.5 16h0m-23.5-64h0m-3.5 74.5h0m15-5h0m1.5-26h0m-17.5-81h0m-3-26h0m-9.5 66.5h0m15-46.5h0m1-40.5h0m15-94h0m-27 227h0m6.5 27h0m7-9.5h0m-16.5-114h0m28.5 48h0m2.5 14.5h0m-29.5-16h0m3.5-50h0m36 104h0m-18 2h0m-13.5-36h0m5.5-157h0m19.5 122.5h0m-34 45.5h0m9-97h0m8.5 18h0m-4 5.5h0m17 106h0m-7.5-21h0m9 5.5h0m-4-9.5h0m1.5-28.5h0m-8.5-118.5h0m-8 149.5h0m1.5-63.5h0m17.5 7h0m-25.5 46.5h0m12 34.5h0m10-189h0m5 101h0m-26.5-106h0m5.5 115h0m-10.5 64h0m19.5-8h0m-14.5 5.5h0m1.5-69h0m24.5 97h0m-25.5-169h0m32.5 64h0m-38.5-100h0m-2.5 92.5h0m3.5 79.5h0m14 5.5h0m20-42.5h0m-9 67h0m0-114.5h0m4 24.5h0m-26.5-95.5h0m15.5 83h0m-6.5 78.5h0m-2.5-86h0m9 98h0m-4.5-4.5h0m3-87.5h0m-17-111h0m7 77.5h0m31 33h0m-29.5-41.5h0m1.5 41h0m-10 80.5h0m32-6.5h0m-23.5-55h0m2 44.5h0m25.5-40h0m0.5 77.5h0m1.5-19h0m-15-128.5h0m-16 127.5h0m28-71h0m-19.5 26.5h0m1.5 57h0m6.5-3h0m-3.5-37h0m14-184h0m-2 238h0m-32-7h0m36-105.5h0m2.5 40.5h0m-0.5-90h0m-36.5 70.5h0m29-127h0m-1.5 134.5h0m-29.5-48.5h0m18.5 102.5h0m18-156.5h0m-19 115h0m-12.5 49h0m-1-42.5h0m-4.5-21h0m32.5 69h0m-2-71h0m-2 74.5h0m-28 15h0m12-21h0m-1-71.5h0m8 36.5h0m-9 10h0m-10-32.5h0m16 75.5h0m10-92h0m12 40h0m-29 51.5h0m-1.5 2h0m18-205.5h0m-6.5 125.5h0m5-50h0m-3.5-16.5h0m12.5 46.5h0m-26 56.5h0m1.5-17h0m6-101.5h0m19.5 50.5h0m-12.5 32.5h0m14.5 80.5h0m4-18.5h0m-29-91.5h0m-9.5 33h0m2 28h0m5-36h0m-9.5 57h0m3.5 10h0m1.5-87h0m14.5 85h0m19.5 8h0m-8.5-94.5h0m-30.5 107h0m20.5-109h0m14 86h0m-32-220h0m24 180.5h0m-1-59h0m-18.5 107h0m27 9h0m-22.5-99.5h0m-11.5 104.5h0m40-96h0m-15.5 90h0m-19.5-4h0m-0.5 12.5h0m23-167.5h0m4.5 103.5h0m-2.5 9h0m-30 6h0m31.5-62.5h0m6 13h0m-2 45h0m-26-34h0m23.5 40h0m-33.5 18h0m30-92.5h0m-21.5 109.5h0m25.5-51.5h0m-32.5 61.5h0m27.5-119h0m-24 75h0m19-66.5h0m17.5 40h0m-39.5 46.5h0m23.5-17.5h0m2.5-0.5h0m-12-23.5h0m-1-32h0m18 41h0m1.5-4h0m-19.5-12h0m2.5 69.5h0m-2.5-215h0m-1.5 140h0m9 0.5h0m-5.5 49h0m-13-89h0m19-63h0m0.5 178.5h0m9-123h0"/>
<path stroke="#CC79A7" d="M1363.5 557h0m-6-42.5h0m-12 62.5h0m-11-66h0m-0.5 67h0m34-7h0m-22.5-28.5h0m26.5-130.5h0m-23.5 135h0m-10.5-21.5h0m-5.5-115h0m37.5 121h0m-8.5-44h0m-25 76.5h0m-0.5-5h0m20.5-35.5h0m11.5-14.5h0m-17.5-83h0m-3.5 113.5h0m10 22h0m-3.5-33h0m8-31.5h0m-26.5 57.5h0m7-10.5h0m11-25h0m-9.5-36h0m-7.5 30h0m5-80.5h0m-2 105.5h0m19 29h0m-7-30h0m15 1.5h0m-9.5-25.5h0m15.5 39.5h0m-11-141.5h0m-15 148h0m26.5-119.5h0m-40.5 135h0m28.5-5h0m-17-109h0m18-13h0m-20.5 73.5h0m19.5-42.5h0m1 24.5h0m-17 45h0m0-5h0m13-50h0m11.5-55h0m-7.5 51.5h0m12.5 54.5h0m0.5 11.5h0m-40 15.5h0m11.5-117.5h0m-1 71h0m26.5-18.5h0m-27-72h0m14.5 123h0m-19.5-55h0m22.5-97h0m-25 131.5h0m31.5-100.5h0m-4 53h0m-4.5-15.5h0m-6.5-15h0m-14.5 104h0m10.5-21h0m-9.5-37h0m33.5 76h0m-32-62h0m-8 6.5h0m34-48.5h0m-12.5 98h0m7-41.5h0m12 28.5h0m-41.5 16h0m36-24h0m-11-57h0m-3-47.5h0m-5 58h0m24.5 56h0m-21-43.5h0m19-16h0m-24 15h0m4-1.5h0m-5 6h0m5-26h0m-20-109h0m21 153h0m0-28.5h0m9.5 49.5h0m-5-4h0m-18.5-91h0m33 35.5h0m-5 21h0m-18 1.5h0m-10.5 52.5h0m10-242h0m-7 152.5h0m26 58h0m-34.5-49.5h0m10 59.5h0m-9.5-34h0m5 45h0m0-1h0m25-51.5h0m7 2.5h0m-1.5-3.5h0m-16-31h0m-1 15.5h0m-9 40h0m-2.5-17.5h0m5.5 51h0m24.5-11.5h0m3.5-67.5h0m-9.5 15h0m5-6.5h0m-36 6h0m10.5 59.5h0m-12-32h0m3.5 18h0m32.5 1.5h0m-24.5 16h0m10-16h0m6.5-8.5h0m-23-32h0m12-73h0m24.5 134h0m-34.5-23.5h0m6 14.5h0m-1.5 12.5h0m16-6.5h0m-9-39h0m19.5-75h0m-13.5 74.5h0m-14.5 6h0m26.5 10h0m-19-97.5h0m1.5 106h0m-12-25.5h0m-7 46h0m6.5-80.5h0m12.5 58.5h0m-15.5-85.5h0m39 89h0m-33.5 10h0m-1-14.5h0m8.5-89h0m23.5 46.5h0m-8 19h0m9.5-53.5h0m-1.5 67h0m-10.5-44h0m8 46.5h0m-18-3.5h0m-18-50.5h0m8 31.5h0m11.5-18.5h0m21.5 8.5h0m-17.5-64h0m-23 127.5h0m16-62h0m1.5-89h0m22 131h0m-10 5h0m-19.5-73h0m6-46h0m0.5 72.5h0m12 30h0m-8-44h0m-19.5-7.5h0m17.5-18h0m-16 97h0m34.5 6.5h0m-35.5-179h0m19 11h0m-19.5 136h0m37-11.5h0m-30-22.5h0m-3 58h0m27-174.5h0m-30 175h0m16-60.5h0m12 38h0m-8 30.5h0m1.5-16h0m-13-11.5h0m11 22.5h0m-21.5-75.5h0m6 15.5h0m34 63h0m-7-30.5h0m-22 19h0m-12-26.5h0m34-23.5h0m-30-13.5h0m31 23h0m-18-87h0m9 59.5h0m14.5-100.5h0m-35 9.5h0m7.5 126h0m4 12h0m-11.5 32h0m-5.5-35h0m13-88h0m1.5 99h0m14.5 3.5h0m-0.5-30h0m-6.5-18h0m-4.5 5.5h0m-4.5-22.5h0m3 25.5h0m7.5-92h0m15.5 36h0m-12.5 110h0m13-78h0m-37-43.5h0m30-50.5h0m5 5.5h0m-6 162h0m-7.5-166h0m16 94h0m-40-49.5h0m29 134h0m-27-41h0m34.5-117.5h0m-18 60h0m23 96h0m-9-50h0m9 14h0m-7 8h0m-16.5-88.5h0m12 64h0m4.5 17h0m-6-5.5h0m-21.5-139.5h0m9.5 16.5h0m14.5 157.5h0m0-31.5h0m-31.5 40h0m36.5-86h0m-36 23h0m1-79.5h0m9 91h0m20.5-58.5h0m-14.5 94h0m7.5 10.5h0m12-63.5h0m-28.5-130.5h0m30.5 141h0m-8 37h0m-18 14h0m-1.5-74.5h0m10.5 57.5h0m11.5-41h0m-32 40h0m18.5-3.5h0m14-52.5h0m1 70h0m-7 2.5h0m-15-15h0m25.5 3.5h0m-12.5-102h0m8.5 76.5h0m-4 44.5h0m-12.5-153.5h0m9 75h0m-9-63.5h0m25 81h0m-2-104h0m-9 53h0m-9.5 107h0m5.5-3h0m13-49h0m-14-21.5h0m0-31h0m1.5 38.5h0m-10.5 13.5h0m-5-55.5h0m26.5 31.5h0m-27-77h0m-6.5 20.5h0m2 79.5h0m7-43h0m-6.5 44h0m-5-17.5h0m-2.5 76.5h0m1-119.5h0m23.5 74.5h0m-15.5-17h0m31 38.5h0m-20-34h0m2.5-18h0m16.5 61h0m-31.5-44h0m5-14.5h0m-12.5 6.5h0m3.5 67h0m8.5-40h0m22-52.5h0m0 54h0m-17-14h0m-1.5 20h0m10 21h0m-2.5 7.5h0m-7-101h0m-9.5 19h0m25.5 57h0m-8.5-49h0m12-35.5h0m-6 35.5h0m-13.5-80.5h0m15 83.5h0m-15-19.5h0m-1.5 30.5h0m-10-40h0m33 27h0m-18-19h0m-15 38.5h0m-4.5-60h0m30 68.5h0m-25.5 30.5h0m25.5-9h0m-28 16h0m37.5 1h0m-12-54.5h0m-6.5-70h0m-9 32.5h0m4 62h0m-3.5 37h0m-13-87.5h0m33 19h0m-11.5 71h0m-2.5-71h0m-15.5 29.5h0m14.5-79.5h0m1 115.5h0m17-40h0m-25.5 16.5h0m30.5 7h0m-24.5-50h0m-12.5 61h0m39-54.5h0m-40.5 38.5h0m36 24h0m-33.5-7h0m16-74.5h0m-10 19h0m18.5-85.5h0m2 154h0m-21-134.5h0m1.5 101.5h0m21 10h0m-7.5-70h0m-17 31h0m20 34.5h0m-27.5-116.5h0m0 61h0m1.5-35.5h0m35.5 79.5h0m-21.5-8.5h0m-15.5 30.5h0m11.5-36.5h0m23.5 15.5h0m-34-109h0m39 97h0m-11.5-39h0m-20-20.5h0m-9.5 72.5h0m18.5-39h0m22.5 45h0m-40.5-108h0m37 121h0m-28-32h0m15-96h0m-9 113.5h0m-6-110h0m1 40.5h0m18 67h0m13-21.5h0m-40.5 42.5h0m8.5 1h0m12-3h0m14 4.5h0m-26 9h0m9.5-66.5h0m11.5-30.5h0m7 65h0m4-24h0m-16 11h0m-1-110.5h0m-24.5 88.5h0m38 32h0m-32 27h0m7.5-39.5h0m0 16.5h0m27-100h0m-32.5 27h0m11.5 50.5h0m-16-60.5h0m36.5 89h0m-30.5-8h0m29 12.5h0m-10-12.5h0m11-124h0m-28.5 151.5h0m-11-43h0m3.5-20.5h0m16.5 42h0m3-109h0m-14.5 109h0m4 12.5h0m16.5 3h0m-2.5-51.5h0m-12 32.5h0m-3-5.5h0m2-5h0m25-41h0m-31.5-0.5h0m-3.5 60.5h0m31-155h0m-19.5 28h0m1.5 149h0m2-8.5h0m5.5-153.5h0m-19.5 107h0m-3 47.5h0m21.5-126.5h0m5 110.5h0m13.5 9h0m-36-24h0m6.5-103h0m-3 131h0m12.5-78h0m12-25.5h0m7.5 34h0m-18-96.5h0m9 129.5h0m-30-63h0m37 36.5h0m-33.5-62h0m2 134.5h0m31.5-29.5h0m2.5-84h0m-13.5 113h0m-17.5-18h0m29-20h0m-38.5-99h0m10.5 1.5h0m5 67h0m9 37h0m6.5-29.5h0m-16 38h0m15-44.5h0m0.5 20.5h0m-27.5 35.5h0m-2.5-6.5h0m19.5 16h0m-8.5-79h0m-4-62h0m-3.5 29h0m20 48h0m-22-19h0m13 51.5h0m-6.5 18.5h0m25-8h0m-10 1h0m2.5-11.5h0m13.5 28h0m-31-55.5h0m22.5 4h0m-19.5 10.5h0m22.5 34h0m-4-39.5h0m-3 19h0m-11 19h0m-14-40h0m31-118h0m-12.5 70h0m-5.5 38.5h0m-11.5 12.5h0m32-79.5h0m-23 54h0m25.5 33.5h0m3.5-41.5h0m-31-20.5h0m-7 58.5h0m37.5 20.5h0m-13.5-97.5h0m11 72h0m-5-26.5h0m-16 1.5h0m1.5 40.5h0m13 8h0m-22.5-116h0m30.5-28.5h0m-11.5 169h0m1.5-64h0m-19.5 55h0m-2.5-86h0m17-19.5h0m-26-20.5h0m22.5 65.5h0m-14-54.5h0m3 45.5h0m-0.5 60.5h0m29-41h0m-38 48.5h0m15.5-39.5h0m-12-32h0m36.5 17.5h0m-36.5 39.5h0m-0.5-29h0m17.5-58h0m-9.5 64.5h0m-12.5-6h0m27.5-5.5h0m8.5 62.5h0m-27-23.5h0m17.5-37h0m-17 49h0m24.5-156.5h0m-7 97h0m-2.5-94h0m-22.5 102h0m37.5 39h0m-3.5-139h0m-28 164h0m-7-0.5h0m34.5-39.5h0m-5.5 4h0m-16.5-19h0m-11.5-110h0m40 135h0m-3-13.5h0m-14.5-5.5h0m-17-38.5h0m27.5 22h0m-24.5-39h0m27.5 27.5h0m-35-8.5h0m34-27.5h0m-1 95h0m-16.5-25.5h0m11 19.5h0m-2-60.5h0m6.5-61.5h0m6.5 120.5h0m-2-26.5h0m-25.5-118.5h0m9.5-41h0m-18.5 199h0m11.5 11h0m5-40.5h0m1.5 23h0m8-107h0m-4.5-42h0m-8 137.5h0m21.5 16.5h0m-15-40h0m-21-9.5h0m-3-5.5h0m2.5 53h0m6.5-135.5h0m32 142.5h0m-16.5 11h0m-18.5-3h0m11-17h0m8-22.5h0m-1.5-20h0m-7.5-19.5h0m13.5 64.5h0m-29.5-140h0m20.5 143.5h0m-1.5-70.5h0m20-94h0m-13.5-30.5h0m-11 139.5h0m-3.5 64.5h0m25.5-60.5h0m-10.5-115.5h0m12 87.5h0m-37 7h0m19.5 87h0m-6-58h0m-5 1.5h0m17.5 33h0m-3.5 14h0m-2.5-28.5h0m-13-79.5h0m13 25h0m2.5-50h0m-17.5 73.5h0m33-113h0m-4.5 104.5h0m-13.5 22h0m5.5 49.5h0m-8-55h0m-1-20h0m9 30.5h0m6.5-27.5h0m4 58h0m-37.5-94h0m1-44.5h0m31.5 96.5h0m-15.5-68.5h0m1 97.5h0m-11-120h0m1.5 125.5h0m-8-14h0m25.5-103h0m-15 47.5h0m-8.5 45.5h0m35.5-24.5h0m1 38h0m-22.5 27.5h0m-11.5-63.5h0m15.5-114.5h0m1.5 159h0m-21.5-26h0m37 26h0m-35.5-34.5h0m18.5 11h0m-8-86.5h0m-4 49.5h0m11.5 63.5h0m18-59h0m-23.5 63.5h0m-4.5-161h0m26 106h0m-14.5 3.5h0m-11-22h0m1.5 63h0m21.5 3.5h0m-16-66h0m-6.5 63h0m-3.5-77h0m-5 65.5h0m0-14h0m29-50h0m-25.5-7.5h0m14.5 35h0m1 25h0m7-127.5h0m-6 104h0m-19-6h0m23 45.5h0m13.5 31.5h0m-3-46.5h0m-19.5 50h0m1.5-63.5h0m8.5-98h0m2-16h0m-22.5 165h0m26.5-65h0m-21 7.5h0m-8.5-11h0m23-23.5h0m14.5-55.5h0m-40.5 85h0m17.5-54h0m2 127.5h0m-21-128h0m39.5 114h0m-15.5 5h0m-6.5 7h0m-15.5-16.5h0"/>
<path stroke="#CC79A7" d="M1395 540h0m-0.5-150.5h0m32.5 148h0m-23.5-118.5h0m17.5 105.5h0m6.5 39h0m0 2.5h0m-19-44.5h0m-3.5-164h0m13.5 39h0m-7 15h0m-17.5 150.5h0m-4-26.5h0m8.5-7h0m2.5-30h0m4.5-40.5h0m-2 36.5h0m-11 83h0m14-48.5h0m-5 7.5h0m-4 26.5h0m-6.5-53h0m15 70h0m23-223h0m-12 193h0m-15-87h0m25.5-76h0m-25 171.5h0m13 13h0m-17.5-162.5h0m-4 121h0m28 35.5h0m-22-74.5h0m9 5h0m-20 49h0m34.5-51h0m0 56.5h0m-26.5 17.5h0m32.5-40.5h0m-3.5-22h0m-8.5 69.5h0m-10.5-23.5h0m-15.5-26h0m20.5-30.5h0m5-110h0m-18.5 132.5h0m20 10h0m-5.5-39h0m9 90h0m-27.5-70.5h0m13-76.5h0m2.5 142h0m-20.5-50h0m3 22.5h0m19.5-132.5h0m17 149h0m-40-12.5h0m39.5-203.5h0m1 167h0m-33.5-82h0m0.5 53h0m-0.5 8h0m16-141.5h0m4 157.5h0m9 58h0m1.5-223.5h0m-39 216.5h0m22.5-69h0m-14 48.5h0m-7 11.5h0m19.5-138.5h0m20 116h0m-2-62.5h0m-1.5 109.5h0m-19.5-64h0m-18.5-36h0m27.5-6h0m-18.5 42.5h0m5.5-85.5h0m7-27.5h0m-4.5-14h0m-14.5 157h0m2 9h0m-2.5-74.5h0m38.5-38.5h0m-38.5 23h0m10 50.5h0m8 4.5h0m-17.5 0h0m7.5-138h0m-2.5 171.5h0m12-18.5h0m20-11.5h0m-23-5.5h0m3 38.5h0m18.5-45.5h0m-25-7.5h0m2 29.5h0m-8-8h0m34-135h0m-2.5 149.5h0m-28.5-22h0m5.5 0h0m-13-168.5h0m19 83h0m1.5 80.5h0m-22.5 47h0m20-15.5h0m20-158.5h0m-31.5 23.5h0m27.5 40h0m6 69h0m-20.5 39h0m-5-27.5h0m19.5 18h0m-4-132.5h0m5 127h0m-2.5-42h0m-28-2h0m32.5 42.5h0m-4.5-27h0m-8-11.5h0m-15.5 69h0m-8-57.5h0m24.5-115.5h0m5 100h0m-3-5h0m1.5 14h0m-27 13h0m25.5-14h0m-13 45.5h0m-16.5 5.5h0m32.5-14h0m8.5-23.5h0m-38.5 64h0m28-62h0m-13 54h0m15.5-56.5h0m-10.5-188.5h0m1.5 134h0m-7.5 99.5h0m23.5-70.5h0m-18 12h0m14-6h0m-19 52h0m2-48h0m18.5-91.5h0m-7 8h0m6 84h0m-25.5 59h0m1-97h0m-3.5 1.5h0m11-43h0m-8.5 70.5h0m-5 29h0m29.5-42h0m-31 19h0m21.5 0h0m-12 20h0m17-78h0m10 67h0m-15 36.5h0m15.5-170.5h0m-35.5 129h0m-3-3h0m15 82.5h0m17-147.5h0m-10 77.5h0m10.5 55.5h0m-18-235.5h0m7 98h0m-17 68.5h0m27.5-93h0m-25 54h0m10.5 96h0m-19 20.5h0m29.5-105h0m9 73h0m1.5-48h0m-32-106h0m4 168h0m21.5-8h0m-22.5-7h0m9 27h0m-18-13.5h0m12.5-45.5h0m0 70.5h0m0.5-27h0m14-229.5h0m-29 228.5h0m34.5-34h0m-6.5-73h0m6.5 107.5h0m-31.5-46h0m4.5 41.5h0m22-96.5h0m-5.5 113.5h0m-9.5-80h0m-8.5 69.5h0m7-116.5h0m6.5-65.5h0m-17 51h0m13.5 67.5h0m17.5-97.5h0m1 83h0m-29.5 99h0m21-40h0m-15 5.5h0m-11.5 27.5h0m5-50.5h0m2-110h0m0 170h0m16.5-30h0m12-55.5h0m-8.5 18h0m-25.5-118.5h0m27 59.5h0m-14 20h0m13.5 28h0m-14 80h0m-11.5-87h0m8.5-10.5h0m20 87.5h0m6.5-10h0m-38.5-7h0m6 15h0m29-124h0m7 76.5h0m-19-20h0m-15.5-19.5h0m31.5 89h0m-35-21.5h0m26.5-30.5h0m-18 39h0m-5-31.5h0m26.5-83.5h0m0.5 51.5h0m6.5 75h0m-7.5-174h0m-32 163.5h0m17-97h0m1.5 73.5h0m-3-0.5h0m-15.5 25h0m25-75.5h0m9.5 85h0m-3-38.5h0m-12 39.5h0m3.5-86.5h0m10.5 30h0m-29 26h0m22.5-29h0m11.5-118h0m-17.5 160h0m3-126.5h0m-3.5 87h0m6.5-9h0m10 17.5h0m-32.5-128.5h0m19 14.5h0m4.5 164.5h0m5-55.5h0m-31.5 53h0m13-25.5h0m-8.5-33.5h0m-8 57h0m4-59h0m33-133.5h0m-10 171h0m-25-91h0m14.5 112h0m12.5-54.5h0m4 10.5h0m-18.5-24.5h0m19.5-52.5h0m-28.5 117.5h0m29-98.5h0m-30 116.5h0m26.5-93.5h0m-13.5 43.5h0m11 29.5h0m-1-2h0m-14.5-62h0m16 60.5h0m-20-33.5h0m21.5-27.5h0m-24.5 22.5h0m14.5-125.5h0m-2.5 180h0m6-36.5h0m-6-43.5h0m17.5-90h0m-28.5 103.5h0m15.5-130h0m3 189.5h0m-21-19h0m20.5-102h0m-7-26.5h0m11.5-66.5h0m-16.5 185.5h0m-13-21h0m42.5-135.5h0m-13 146h0m1-44h0m-23.5 15.5h0m21-7h0m1 68.5h0m5-59.5h0m-29 75.5h0m-2-2h0m9-42.5h0m27 7h0m-37-145.5h0m38 26.5h0m-31.5 112.5h0m34-26h0m-27 20.5h0m19.5-104.5h0m-16-9.5h0m-3.5 164h0m25.5-76.5h0m-38 55h0m1-11.5h0m26-189h0m-23.5 143h0m12-133.5h0m1 147.5h0m20.5 44.5h0m-38-64h0m26.5-74h0m5 143.5h0m-24-20h0m12.5-147.5h0m9.5 181h0m-14 0h0m-3.5-209.5h0m24 16.5h0m-20 129h0m-8 19.5h0m1 7.5h0m-1.5-54.5h0m-1.5 87h0m-6.5-89.5h0m4 95.5h0m7-8h0m15-114h0m10-71.5h0m-26.5 181h0m-6-54.5h0m29.5 71h0m2 0h0m-30.5-1h0m12.5-166h0m-10.5 143.5h0m29 7.5h0m-16.5-30.5h0m14-103.5h0m6.5 30h0m-32 82.5h0m6 14h0m-11.5 3.5h0m23.5 5h0m-18.5-221.5h0m5 188.5h0m5.5-23h0m20.5-4h0m-15.5-82h0m3-79h0m-21 223h0m20.5-41.5h0m-5 52.5h0m12-46.5h0m-30-5h0m-1.5 32h0m1-59.5h0m20.5 75h0m3-85.5h0m0 71h0m-24-54h0m8-59h0m3 124.5h0m21-10h0m-19 1.5h0m15.5-97h0m4.5 29h0m-34 43.5h0m1.5-31.5h0m2 7.5h0m18.5-59h0m8-63.5h0m7 178.5h0m-7.5-47h0m-21 34h0m5.5 14.5h0m-2-182.5h0m11.5 146.5h0m-14 4.5h0m19-1h0m-26-104.5h0m14-16.5h0m-2 156.5h0m-11-30h0m12-93h0m19.5 83h0m-4 4h0m-14.5-54.5h0m5 9.5h0m-16.5-13h0m30 59.5h0m-11 36.5h0m-11-48.5h0m5.5-111.5h0m19.5 115.5h0m-22.5 39h0m0.5-133h0m23.5 83h0m-35 60.5h0m-1.5 0h0m4-89.5h0m22.5 77h0m-20-70.5h0m-9 21h0m29.5-24h0m1 40.5h0m-7.5 42h0m-14.5-70h0m19.5 10h0m-22.5 30h0m-5.5-38.5h0m32.5 48h0m-7.5 10h0m4-51h0m-9.5 9h0m-3 34.5h0m10.5-1h0m8.5 19.5h0m-25.5-90h0m-5.5-139h0m4.5 140.5h0m10 40h0m13.5 8h0m-7.5-32.5h0m-6.5-10.5h0m7 13h0m-1.5 5.5h0m-6.5 7.5h0m20-25.5h0m-35-128.5h0m38 174h0m-13.5-40h0m-26.5-18.5h0m29-91h0m5 120h0m-14.5-72h0m-17.5 67.5h0m26.5-112h0m-17.5 119.5h0m16-62.5h0m-27-76h0m11 107.5h0m-11 80.5h0m-1.5 17h0m8.5-48h0m-9 4h0m26-43.5h0m-18 86h0m16.5-62.5h0m-18.5-20.5h0m25 50h0m-18-24h0m1 56h0m-4-41h0m9-45.5h0m14.5-62h0m-5 91h0m13.5 8h0m-15-2.5h0m8.5 41h0m-3.5-82h0m-9.5-45h0m18.5-99.5h0m-15 223h0m-11.5-67.5h0m-5 20.5h0m8.5 41h0m-1-115.5h0m19.5-71.5h0m-24 126.5h0m19 81h0m-15.5-51.5h0m10-70.5h0m-8.5 120h0m17.5-55.5h0m-12.5 44.5h0m1-15h0m-15-56h0m23.5 2.5h0m-2.5 26h0m-14 24h0m26.5-15h0m-17-7h0m3.5 21h0m-2 16h0m-20.5-3.5h0m4-136h0m14 20.5h0m-9.5 103h0m12-161h0m-27 101.5h0m24-1.5h0m-14.5 34h0m3 7h0m1-206h0m20.5 152.5h0m6.5 4.5h0m0 54.5h0m-13-14h0m-27.5 27h0m35.5-80.5h0m-35 79h0m29.5-1.5h0m-13-42h0m16.5-13h0m-19 8h0m27 53.5h0m-15-30.5h0m3.5 30h0m-2-27h0m11.5-19.5h0m-5 49.5h0m-13 7h0m13.5-58.5h0m-7 56.5h0m-6-70h0m-20 48h0m6.5 8h0m9.5 34.5h0m12.5-54.5h0m-2.5-127.5h0m7.5 25h0m-0.5 146h0m-3-20.5h0m-12-29.5h0m2-9h0m5 46.5h0m-17.5-81.5h0m13 71h0m17 6.5h0m-21.5 32h0m-0.5-168.5h0m-13 101h0m26.5-31h0m-2 8h0m1-15.5h0m-23.5 6h0m25-2.5h0m-4-47.5h0m-7.5 111.5h0m17.5 33.5h0m-12-3h0m-20.5-50h0m7-17.5h0m6-7h0m-8 1h0m-6-143.5h0m15 143.5h0m15.5 6.5h0m-13 72h0m-21.5-76.5h0m31-110.5h0m-5.5 158h0m15.5 23h0m-27.5-37.5h0m-10.5-69.5h0m16.5 104.5h0m-14.5-3h0m-2.5-65h0m8 58h0m-10.5-187.5h0m6 120h0m1-69.5h0m22 19.5h0m-1 47.5h0m-1.5 38h0m-20.5 40.5h0m5-136.5h0m4 59.5h0m9 21.5h0m-20 7h0m33.5 17h0m-16.5-46.5h0m-11 15h0m-4.5 2h0m36.5 26.5h0m-12-37.5h0m3 56h0m-17-4h0m11-194.5h0m1.5 157.5h0m-12.5 46h0m-10 21h0m12.5-76h0m6.5-18.5h0m-20.5 46h0m21 11.5h0m2.5-70h0m-24-14h0m17-76h0m-4.5 127h0m-8.5-28h0m-5 92h0m10-120.5h0m-1 126.5h0m19.5-152h0m-3.5 83.5h0m-10 68h0m-16-197.5h0m23.5-37.5h0m-16.5 69h0m29.5 75h0m-33 27.5h0m18 51.5h0m-15.5-14.5h0m15-185.5h0m7.5 183.5h0m-9.5-38h0m16-19h0m-34.5-12h0m17.5 51.5h0m-4 14h0m-13.5 22h0m3.5-47.5h0m3.5 24h0m-4.5 18.5h0m25.5-0.5h0m-6-12.5h0m2.5 16h0m1-54h0m11-12.5h0m3.5 53.5h0m-0.5-40.5h0m-11.5 56h0m-29.5-44h0m23.5 39.5h0m-16 7.5h0m14-142.5h0m-18 73.5h0m11 29h0m-9-65h0m23-36.5h0m-13.5 20.5h0m-2 70.5h0m16-12h0m-26 65.5h0m20-24h0m4-108.5h0m-23.5 133.5h0m18-38.5h0m-21.5-20h0m40.5 53h0m-19-48.5h0m-7.5 45.5h0m4.5-207h0m13.5 179.5h0m-17-23.5h0m23 55.5h0m-34-31.5h0m29.5-178.5h0m-21 206h0m10.5 2.5h0m0-234.5h0m7.5 163.5h0m7 22.5h0m-28.5-30h0m22 80h0m-7-26h0m-17-168.5h0m-6-5.5h0m30.5 113h0m1.5 21h0m5-156h0m-18 210.5h0m-7-8h0m-6 28h0m2.5-70.5h0m-4.5 55h0m23.5-18.5h0m-0.5-111h0m-17 58h0m0 30h0m-11-69.5h0m5.5 100h0m32.5-152.5h0m-8.5 162h0m-4-21.5h0m-5 7.5h0m15 23.5h0m-22.5-44h0m7.5 16.5h0m-20.5 19.5h0m4-51.5h0m8.5 69h0m13.5-177.5h0m-9 23.5h0m9 80.5h0m-19 17h0m11-21.5h0m-16.5 54.5h0m6.5-154h0m5 95.5h0m26.5 81h0m0-161.5h0m-28 148.5h0m-7-101h0m0 61.5h0m18 22.5h0m15.5-62.5h0m-16-35.5h0m4 40.5h0m8.5-134.5h0m-14.5 216h0m16-8h0m-7.5-167.5h0m-0.5 125h0m-6-57h0m4.5 66.5h0m-3.5-47.5h0m-24-52h0m41.5 98h0m-36-119h0m10 133h0m5.5-57.5h0m18.5 13.5h0m-4-100.5h0"/>
<path stroke="#CC79A7" d="M1455.5 484.5h0m6.5 94h0m-6.5-208h0m27 15.5h0m-7 130h0m-7 29.5h0m-25-54h0m16.5 50.5h0m-15-144.5h0m7 73.5h0m2.5 36h0m18.5 19h0m-31.5-33.5h0m8.5-67.5h0m28 140.5h0m-26-18h0m10.5-86.5h0m-18.5 58h0m5.5-22h0m15.5-130.5h0m5 153h0m4.5-61.5h0m-19.5 101h0m-12.5-64.5h0m5.5 0.5h0m0.5 9h0m27.5-67h0m2-8.5h0m5-45h0m-30.5 146.5h0m-9.5-14h0m17.5-50.5h0m3.5 96h0m2-95.5h0m-3-9h0m0 109.5h0m-1-29.5h0m10-4h0m-26-125.5h0m9.5 42.5h0m20.5 99h0m-22-93h0m26.5 65.5h0m-21.5-109h0m15 113.5h0m-3.5 9h0m-18.5-111.5h0m27 150.5h0m-5.5-62h0m-28-20h0m-3.5-21.5h0m33.5 7h0m9-57.5h0m-12.5 150.5h0m-27-77.5h0m26.5-73h0m1.5-14.5h0m-17.5 70h0m9 66h0m1.5-24.5h0m-19 8.5h0m26 52.5h0m-27-127h0m17 16h0m-14 85h0m-5-35h0m3.5-113h0m30 96h0m6 12.5h0m-42.5-174.5h0m33.5 95.5h0m-28 132.5h0m7.5-102.5h0m9.5 8.5h0m-18-18h0m11 40h0m-9.5-44.5h0m-5 124.5h0m25-60.5h0m-13-3.5h0m9.5 3h0m-7 47.5h0m-4.5-157.5h0m9.5 155h0m0-56.5h0m-9.5-1.5h0m25.5-58.5h0m-4.5 74.5h0m-3.5 39.5h0m-16-5.5h0m27-23.5h0m-34-92h0m18 105.5h0m-19.5-112.5h0m33 143.5h0m-6-34.5h0m-15.5-38h0m10-140.5h0m14.5 94h0m-28 43h0m-2.5 54.5h0m30-129.5h0m-18.5 156.5h0m18.5-131.5h0m-2 60.5h0m-36 36.5h0m30.5 34.5h0m-14.5-148h0m5.5 2h0m-18 100.5h0m-2-9h0m7-70h0m18.5 36.5h0m12.5 76.5h0m-27-186.5h0m4.5 132h0m13.5-125.5h0m-4.5 189.5h0m-3.5-26h0m7-101h0m8 59h0m-32 12h0m3.5-71.5h0m27.5 52h0m-13 5h0m8-27h0m-16.5 23.5h0m-3-29h0m11-54h0m4-37h0m4 85.5h0m-22-66.5h0m23 2h0m7.5 152.5h0m-29-118.5h0m16.5 83.5h0m-5.5 14h0m-17 42h0m36-145.5h0m-3.5 99h0m5 29.5h0m-5.5-2h0m-19.5-22.5h0m16.5-137.5h0m-21 134h0m15-68h0m-21 101.5h0m14-88h0m-20.5-10.5h0m12.5 110.5h0m-3-169.5h0m25.5 66.5h0m-20 56h0m16-108h0m-16 153.5h0m9-44h0m4 33h0m0.5-115.5h0m-22 95.5h0m18-153.5h0m13 161.5h0m-11.5-17h0m13-37h0m-20-27h0m1.5 29.5h0m-7.5-5.5h0m23 40.5h0m-3-106.5h0m-14.5-9.5h0m-2 146h0m14-31.5h0m0-40.5h0m10-125h0m-7.5 135h0m-11.5-54h0m-5.5-2h0m11.5-41.5h0m-27 116h0m39 53h0m-26.5-133h0m14.5 27.5h0m-1 67h0m-16.5-71.5h0m26 92h0m-18-92h0m3 26.5h0m-10 61h0m25.5-148.5h0m-1 75.5h0m-25 77.5h0m8.5 10.5h0m15-202h0m-11.5 67h0m17.5 140.5h0m-36.5-210.5h0m30 119h0m-17.5-61.5h0m21.5 92.5h0m4.5-88.5h0m-28.5 12.5h0m28 4.5h0m-41.5 67.5h0m40.5-43h0m-3.5-100h0m-7 70.5h0m-17.5 110h0m12.5-89.5h0m-5.5 14.5h0m21-101h0m-40 68h0m13-18.5h0m3.5 66.5h0m-9.5-70.5h0m2 4.5h0m13.5 86.5h0m-8 46h0m9.5-82.5h0m15-53h0m-8 92.5h0m0-85.5h0m-19-81h0m4 166h0m-6.5-97.5h0m27.5 98.5h0m-16-4.5h0m-22.5-1h0m34.5-38h0m-27 6.5h0m24.5 27.5h0m-26.5-83.5h0m12.5 138h0m11.5-145h0m13.5 122h0m-17-113h0m6 102h0m-25 48h0m-5.5-34h0m9-98.5h0m6-53h0m-15 55.5h0m2 49h0m2-14.5h0m11.5-66h0m25.5 147.5h0m-14 16h0m-2 5.5h0m12.5-129.5h0m-12 19h0m-16.5 47.5h0m12.5-35h0m7.5-26h0m-2.5-50.5h0m12 104.5h0m3 26.5h0m-28-19h0m1.5-32h0m2-4.5h0m20.5 58.5h0m-31 10.5h0m28.5-29.5h0m-10-42.5h0m0.5-11.5h0m2.5-28h0m-22 6.5h0m18.5-82.5h0m-24.5 119h0m20-72.5h0m19.5 142.5h0m1-45.5h0m-42-77.5h0m25.5 148h0m-12-28.5h0m26.5-48h0m-37.5-53.5h0m23.5-13h0m-12.5 128h0m6.5-114h0m21.5-26.5h0m-1.5-42h0m-32.5 28h0m16-17.5h0m-2 158h0m-20 34.5h0m29-12.5h0m-9-145.5h0m7.5 102h0m-7 55.5h0m19-48h0m-33-76h0m22 95.5h0m-7.5-201h0m11.5 180.5h0m-23-13h0m4-119h0m-6.5 48.5h0m25-37.5h0m-10 66.5h0m-21 64h0m-1-94h0m20 64.5h0m-13 17.5h0m-4-47h0m-4 0.5h0m7.5 71.5h0m17-95.5h0m3-73.5h0m-2 141h0m3-85.5h0m-7 104h0m-19.5-83.5h0m39.5-1.5h0m-32.5-13.5h0m19 85h0m8.5-7.5h0m0.5-150.5h0m-26.5 14h0m18.5 107h0m-25.5 18.5h0m23-40.5h0m-10.5 30.5h0m7-115h0m9 181.5h0m10.5-26h0m-40.5-165.5h0m35 85h0m-22 13h0m-9 101.5h0m13-12.5h0m-14-37h0m14-6h0m16-11h0m-18.5 11h0m7 12.5h0m6.5 29.5h0m10-269h0m-40 205h0m1.5-56h0m28-39.5h0m-21 50h0m24.5 68.5h0m-18.5 36.5h0m11-33h0m-14 50.5h0m14-56.5h0m3-3.5h0m-22 23h0m-1.5-46h0m32.5 53.5h0m-37.5 19.5h0m7-76.5h0m17 43h0m-20-76h0m22-21h0m-1 115h0m6.5-13.5h0m-19.5-109.5h0m-2 134.5h0m1.5-155h0m-1.5 77.5h0m1 41.5h0m3.5-60.5h0m-7.5-30h0m14-44.5h0m3.5 176h0m2.5-0.5h0m7.5 13h0m-26-53.5h0m28-101h0m-26 33h0m26 58h0m-15.5-56h0m-9.5 120h0m0-224h0m21.5 163.5h0m-31-169.5h0m14.5 162.5h0m-11-94h0m24 98.5h0m-5.5 4.5h0m-18.5-28h0m-5 56.5h0m2 20h0m32-80h0m1.5-109h0m-31.5 83.5h0m18.5-41h0m-21.5 110.5h0m17-18.5h0m-10-55h0m2.5 51h0m-10.5-76h0m21 99h0m10-25.5h0m-31 11.5h0m14.5-91h0m10 72h0m-12 73h0m14-10.5h0m3.5-16.5h0m-17.5-30h0m13.5 49h0m11.5-76.5h0m-10-77.5h0m2 96.5h0m-17.5-13h0m0.5 71.5h0m25-52.5h0m-2 43.5h0m-9.5-83h0m-5.5-6h0m-20.5 112.5h0m17-211h0m14 29.5h0m-22.5 131h0m9 6h0m-5.5 26h0m-4-54.5h0m21-9.5h0m-8 15.5h0m-16-37.5h0m2.5 19h0m27.5 79h0m4.5-52h0m-26 23.5h0m4.5 28.5h0m-2-139h0m0-88.5h0m26 190h0m-26.5 29.5h0m15.5-111.5h0m-7-24.5h0m3.5 132h0m-10-56.5h0m-6-253.5h0m28.5 326h0m-20.5-111h0m14 21.5h0m-14-27.5h0m8.5 50h0m-20.5-10.5h0m-0.5 9h0m34-41.5h0m-26.5-60h0m11.5 53.5h0m11.5-76.5h0m-5.5 37h0m-20.5 67.5h0m30.5-7.5h0m-2.5-222h0m-20.5 174h0m-3.5 99h0m12.5 25.5h0m-26-55.5h0m17 73h0m-10.5-115.5h0m16-14h0m14 128h0m-6-9h0m-9 6.5h0m-20.5-140h0m15.5 14.5h0m14.5 84h0m-8.5-47h0m-5 71h0m19-24h0m-16 46h0m-10.5 1.5h0m7.5-71h0m3-8h0m-2-78.5h0m4.5 20h0m-3.5-10h0m19 93.5h0m-32.5 32h0m19-72h0m2 71h0m7.5-90h0m-24.5 89h0m1.5-11h0m25-132.5h0m-34.5-50h0m17 80.5h0m12.5 24.5h0m2 77.5h0m-16-114.5h0m21.5-62.5h0m-31 110h0m22.5 17.5h0m2.5-33h0m-14.5 5.5h0m9.5 18.5h0m-8 30.5h0m-8.5-152.5h0m21 125h0m-13.5 2h0m-12.5-25h0m-2.5-7h0m35.5 84.5h0m-11-3.5h0m-18 12h0m-3.5-12.5h0m-9.5-1h0m23 9h0m9-137.5h0m-10.5 14.5h0m-17 58h0m-2.5 38h0m9.5 42.5h0m-10-47.5h0m28.5 61.5h0m-6-25h0m-24.5-20.5h0m23.5-54h0m5.5 31h0m-6-43h0m-16 77.5h0m35-55.5h0m-26 3h0m-11-23h0m37.5 29h0m-39 84.5h0m9-27h0m-2.5-200.5h0m18.5 144h0m4 0.5h0m9 81.5h0m0.5-137h0m-1-40h0m-2.5 111h0m4.5-88h0m-9 39h0m-27 74.5h0m10.5-53h0m-8-153h0m13.5 107h0m12.5 107.5h0m-1.5-21.5h0m4-93.5h0m-30 115.5h0m15.5-64.5h0m7.5-59h0m0.5 140.5h0m-5.5-28.5h0m12.5-45h0m-21.5 62.5h0m4-147.5h0m22 158h0m-24-68h0m-18 46h0m34.5 16.5h0m-34-56h0m9.5 71.5h0m21.5-73h0m10.5 2h0m-2-83h0m-30 155.5h0m24-188.5h0m-4.5 124h0m-0.5-96h0m-22.5 162h0m23.5-42.5h0m-26.5-76.5h0m31.5-43h0m-26.5 153h0m28-13h0m-15.5 16.5h0m4-89.5h0m6.5-57.5h0m-3.5 117h0m-13.5-145h0m7-17.5h0m-16 162.5h0m36 1.5h0m-31-102h0m2.5-27h0m-14 117h0m36 38h0m-3-13.5h0m-14.5 22.5h0m0-32.5h0m9-94h0m-18.5 57h0m12 12h0m14.5 30h0m7-126h0m-10 51.5h0m6.5-53.5h0m-7 137h0m-25.5-9.5h0m16.5-101h0m16 117.5h0m-14.5-22h0m-3-156.5h0m-9 63.5h0m-12-85.5h0m18.5 180.5h0m14-140h0m-13.5 15.5h0m3 151h0m-9-62h0m24.5 9h0m-16.5 41.5h0m-15.5-31.5h0m4.5 38h0m-8.5-69h0m-1.5 31.5h0m32.5-88h0m4 13.5h0m-30.5-62h0m2 152h0m2-10.5h0m20.5-11h0m-16 37.5h0m-6.5-17.5h0m6-24h0m-1.5-60h0m22 114h0m-8-19h0m-25-47.5h0m24.5 59h0m-7.5-46.5h0m-0.5 3.5h0m20 0h0m-17-54h0m-11 106h0m11-12.5h0m14.5-2h0m7-3h0m-8.5 3h0m-19.5 18.5h0m2.5-76.5h0m10.5 60.5h0m-23-131.5h0m11.5 130h0m-14-8h0m2.5-54h0m18-69.5h0m-15.5 54.5h0m19.5-125h0m-20 136.5h0m29 52.5h0m-3-44h0m-15 25.5h0m-16.5-60h0m20.5 50.5h0m-3-35h0m6-36.5h0m-4 109h0m-7-21h0m21-67.5h0m-31 39.5h0m20.5-25.5h0m-11.5 60.5h0m10.5-171h0m11.5 169h0m-14-11.5h0m9-129.5h0m-1.5 173.5h0m11-300h0m-24.5 177h0m26 3.5h0m-20 17.5h0m22-63h0m-14-36.5h0m5.5 133.5h0m-1 59h0m-20-46h0m0-73h0m16 113h0m-27-71.5h0m13.5 69.5h0m-9-108.5h0m22 113.5h0m9.5-18h0m-25-83h0m16.5-6h0m9-28.5h0m-3 146.5h0m-20.5-130.5h0m21.5 79h0m-24-59.5h0m18 71.5h0m6 41.5h0m-35.5-254h0m11 165.5h0m-2.5 17.5h0m11-68.5h0m-7 129.5h0m-13-7h0m32-185h0m-4.5 104.5h0m-10 80h0m-7.5-196.5h0m-11 13.5h0m4.5 92h0m31-68.5h0m-8.5 140h0m-21-95.5h0m21.5 49h0m-1.5 34.5h0m-11 36.5h0m-7.5-19h0m-7 16h0m13-220.5h0m6.5 158h0m-10.5-3.5h0m18.5-46h0m-15 75h0m23-20h0m0 18.5h0m-3.5 50h0m-27.5-46h0m17.5-60.5h0m-5 31.5h0m-8 39h0m6 39.5h0m-5.5-73h0m17 19h0m-17 24.5h0m15.5-177h0m-19 63.5h0m35.5 29.5h0m-9 71h0m-32.5 19.5h0m2-93h0m22.5-52.5h0m-17.5 94h0m-1.5 58.5h0m27 18.5h0m-31-22h0m16-8.5h0m-11-163h0m-2.5 0.5h0m6-33.5h0m10 224.5h0m-8-54h0m1.5-10.5h0m22.5 16.5h0m-23.5 15h0m-11 15h0m38 17h0m-27.5-105.5h0m-5.5 8h0m12 68h0m9.5-45h0m-27.5-83h0m20 56.5h0m8.5 70.5h0m-12.5-17.5h0m17.5-87.5h0m-11.5 96h0m-11.5 13.5h0m29.5-140.5h0m-20.5 100h0m9 60h0m13.5-57h0m-23.5 54h0m7-140h0m8.5 114h0m-4-120.5h0m-19.5 147h0m5.5-155h0m25 114.5h0m-31 41h0m8-32h0m16 0h0m-25 1h0m-4.5 33h0m16.5-41.5h0m-20-68h0m20.5 53.5h0m19-22h0m-19-8h0m2.5 70h0m-4.5-62.5h0m19.5 11h0m-17 64.5h0m6-216.5h0m14 174h0m-34-76.5h0m-3 84.5h0m22.5-94h0m-1.5 113h0m-10-200h0m2 192.5h0m14.5 0h0m-32.5-43.5h0m35.5-40h0m-8 91.5h0m-16.5-193.5h0m24 105.5h0m-17.5 92h0m21-58.5h0m-5.5 25.5h0m-7-32h0m5-15h0m9-41h0m-24 111h0m-13.5-26.5h0m22.5-113h0m-15.5-120.5h0m30.5 182.5h0m1 64h0m-2 37h0m-31-187h0m2.5 125h0m-11 3.5h0m22.5-6h0m-20 71.5h0m15.5-46.5h0m20-32.5h0m-10 51h0m-8 27h0m21-50.5h0m-23.5-11.5h0m11-87h0m1.5 110h0m-4-73h0m-11.5 56.5h0m-3-122.5h0m8.5 134h0m6.5-117h0m5.5 141h0m-14.5-34.5h0m1.5 7h0"/>
</g>
<path d="M122.5 425.3h46M177.4 517.0h46M232.3 556.8h46M287.2 431.2h46M342.1 540.0h46M397.0 481.0h46M451.9 557.4h46M506.8 480.8h46M561.7 456.7h46M616.6 359.6h46M671.5 504.7h46M726.4 529.0h46M781.3 479.6h46M836.2 447.0h46M891.1 524.0h46M946.0 496.0h46M1000.9 471.0h46M1055.8 525.8h46M1110.7 468.9h46M1165.6 501.4h46M1220.5 533.0h46M1275.4 504.5h46M1330.3 528.6h46M1385.2 516.5h46M1440.1 511.0h46" stroke="#000" stroke-width="4.2" stroke-linecap="round" fill="none"/>
<path d="M145.9 386.6h0M200.0 475.0h0M255.5 568.6h0M310.6 342.0h0M364.8 538.0h0M420.0 445.6h0M475.2 563.9h0M530.5 544.4h0M585.0 483.6h0M640.0 485.8h0M694.7 475.4h0M749.0 531.0h0M804.0 486.7h0M859.5 460.5h0M914.2 534.9h0M969.3 515.3h0M1024.0 495.0h0M1078.5 505.6h0M1133.7 427.4h0M1188.7 554.3h0M1243.5 551.0h0M1298.0 570.0h0M1353.3 580.0h0M1408.0 564.0h0M1463.4 550.4h0" stroke="#000" stroke-width="17" stroke-linecap="round" fill="none"/>
<rect x="114" y="4.1" width="1381" height="604.6" fill="none" stroke="#000" stroke-width="2.2"/>
<path d="M108 582.0h6M108 433.6h6M108 285.2h6M108 136.9h6M145.5 609.8v4.5M200.4 609.8v4.5M255.3 609.8v4.5M310.2 609.8v4.5M365.1 609.8v4.5M420.0 609.8v4.5M474.9 609.8v4.5M529.8 609.8v4.5M584.7 609.8v4.5M639.6 609.8v4.5M694.5 609.8v4.5M749.4 609.8v4.5M804.3 609.8v4.5M859.2 609.8v4.5M914.1 609.8v4.5M969.0 609.8v4.5M1023.9 609.8v4.5M1078.8 609.8v4.5M1133.7 609.8v4.5M1188.6 609.8v4.5M1243.5 609.8v4.5M1298.4 609.8v4.5M1353.3 609.8v4.5M1408.2 609.8v4.5M1463.1 609.8v4.5" stroke="#333" stroke-width="2.2" fill="none"/>
<text x="104.3" y="594.4" font-size="32.5" text-anchor="end">0.00</text>
<text x="104.3" y="446.0" font-size="32.5" text-anchor="end">0.03</text>
<text x="104.3" y="297.6" font-size="32.5" text-anchor="end">0.06</text>
<text x="104.3" y="149.3" font-size="32.5" text-anchor="end">0.09</text>
<text font-size="32" text-anchor="end" transform="translate(166.0 629.7) rotate(-60)">GRB</text>
<text font-size="32" text-anchor="end" transform="translate(220.9 629.7) rotate(-60)">PCT</text>
<text font-size="32" text-anchor="end" transform="translate(275.8 629.7) rotate(-60)">RIC</text>
<text font-size="32" text-anchor="end" transform="translate(330.7 629.7) rotate(-60)">SEV</text>
<text font-size="32" text-anchor="end" transform="translate(385.6 629.7) rotate(-60)">SLO</text>
<text font-size="32" text-anchor="end" transform="translate(440.5 629.7) rotate(-60)">SME</text>
<text font-size="32" text-anchor="end" transform="translate(495.4 629.7) rotate(-60)">WAM</text>
<text font-size="32" text-anchor="end" transform="translate(550.3 629.7) rotate(-60)">FAR</text>
<text font-size="32" text-anchor="end" transform="translate(605.2 629.7) rotate(-60)">BOL</text>
<text font-size="32" text-anchor="end" transform="translate(660.1 629.7) rotate(-60)">CEB</text>
<text font-size="32" text-anchor="end" transform="translate(715.0 629.7) rotate(-60)">DEE</text>
<text font-size="32" text-anchor="end" transform="translate(769.9 629.7) rotate(-60)">DNG</text>
<text font-size="32" text-anchor="end" transform="translate(824.8 629.7) rotate(-60)">MID</text>
<text font-size="32" text-anchor="end" transform="translate(879.7 629.7) rotate(-60)">PAS</text>
<text font-size="32" text-anchor="end" transform="translate(934.6 629.7) rotate(-60)">PON</text>
<text font-size="32" text-anchor="end" transform="translate(989.5 629.7) rotate(-60)">QUA</text>
<text font-size="32" text-anchor="end" transform="translate(1044.4 629.7) rotate(-60)">SKI</text>
<text font-size="32" text-anchor="end" transform="translate(1099.3 629.7) rotate(-60)">NAT</text>
<text font-size="32" text-anchor="end" transform="translate(1154.2 629.7) rotate(-60)">RID</text>
<text font-size="32" text-anchor="end" transform="translate(1209.1 629.7) rotate(-60)">COO</text>
<text font-size="32" text-anchor="end" transform="translate(1264.0 629.7) rotate(-60)">HED</text>
<text font-size="32" text-anchor="end" transform="translate(1318.9 629.7) rotate(-60)">JSE</text>
<text font-size="32" text-anchor="end" transform="translate(1373.8 629.7) rotate(-60)">LAN</text>
<text font-size="32" text-anchor="end" transform="translate(1428.7 629.7) rotate(-60)">SMO</text>
<text font-size="32" text-anchor="end" transform="translate(1483.6 629.7) rotate(-60)">URC</text>
<text font-size="38.5" text-anchor="middle" transform="translate(31 306.8) rotate(-90)">Relatedness to alliance partners</text>
</svg></body></html>
